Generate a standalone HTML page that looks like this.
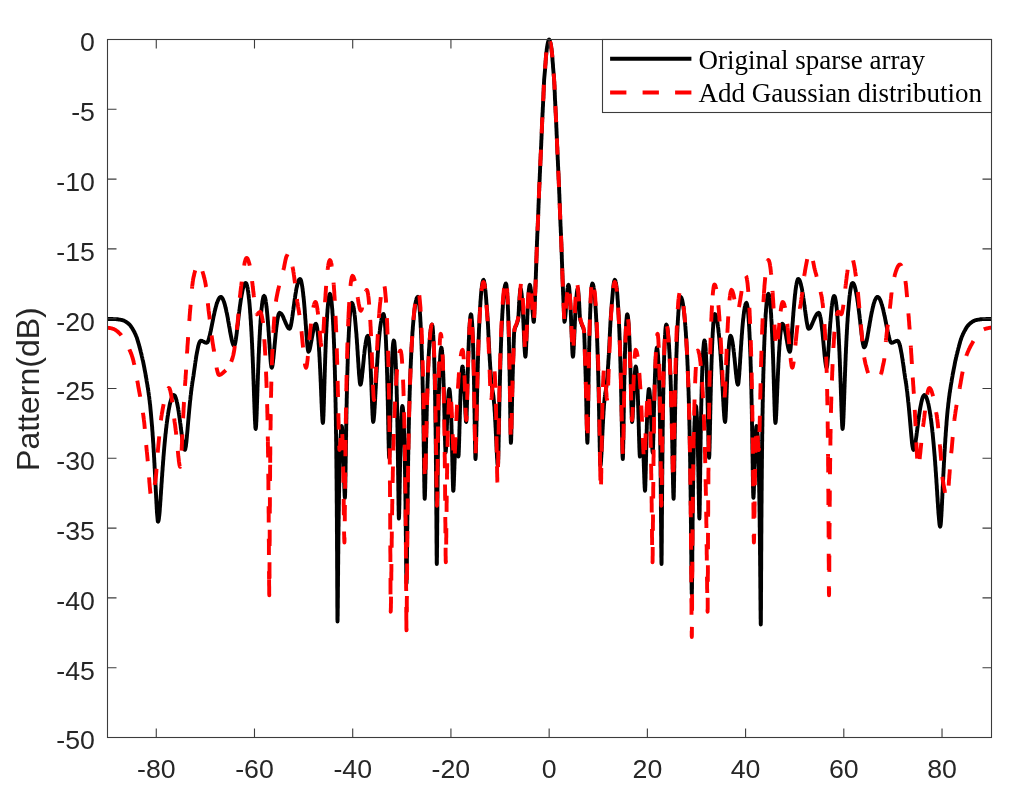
<!DOCTYPE html>
<html lang="en">
<head>
<meta charset="utf-8">
<title>Pattern(dB)</title>
<style>
html,body{margin:0;padding:0;background:#fff;}
body{width:1020px;height:802px;overflow:hidden;}
svg{display:block;}
</style>
</head>
<body>
<svg width="1020" height="802" viewBox="0 0 1020 802">
<rect x="0" y="0" width="1020" height="802" fill="#fff"/>
<defs><clipPath id="c"><rect x="107.0" y="35.5" width="885.0" height="702.0"/></clipPath></defs>
<g clip-path="url(#c)" fill="none" stroke-linejoin="round">
<path d="M107.5,319.0 108.5,319.0 109.5,319.0 110.5,319.0 111.5,319.0 112.5,319.0 113.5,319.1 114.5,319.1 115.0,319.1 115.0,319.1 116.0,319.1 117.0,319.2 118.0,319.3 119.0,319.5 120.0,319.6 121.0,319.8 122.0,320.0 122.0,320.0 123.0,320.3 123.9,320.6 124.8,321.1 125.7,321.6 126.5,322.2 127.4,322.8 128.2,323.4 128.3,323.5 128.3,323.5 129.1,324.2 129.8,324.9 130.4,325.7 131.0,326.5 131.6,327.4 132.2,328.2 132.7,329.1 133.2,330.0 133.7,330.9 134.2,331.8 134.7,332.7 135.1,333.6 135.2,333.8 135.2,333.8 135.6,334.7 136.0,335.7 136.4,336.6 136.8,337.6 137.1,338.6 137.4,339.6 137.7,340.6 138.0,341.6 138.3,342.6 138.6,343.6 138.9,344.6 139.2,345.6 139.4,346.6 139.7,347.6 140.0,348.6 140.2,349.6 140.5,350.6 140.7,351.7 141.0,352.7 141.2,353.6 141.5,354.6 141.7,355.6 141.8,356.0 141.8,356.0 142.0,357.0 142.3,358.0 142.5,359.1 142.7,360.0 143.0,361.0 143.2,362.1 143.4,363.1 143.6,364.2 143.8,365.2 144.0,366.2 144.2,367.2 144.4,368.2 144.6,369.3 144.8,370.4 145.0,371.4 145.2,372.4 145.4,373.4 145.6,374.5 145.7,375.5 145.9,376.5 146.1,377.6 146.3,378.6 146.5,379.7 146.6,380.8 146.8,381.8 147.0,382.9 147.2,384.0 147.4,385.1 147.5,386.2 147.7,387.2 147.9,388.2 148.0,389.2 148.1,389.7 148.1,389.7 148.3,390.7 148.4,391.8 148.6,392.8 148.7,394.0 148.9,395.0 149.0,396.0 149.2,397.1 149.3,398.2 149.4,399.3 149.6,400.4 149.7,401.5 149.8,402.5 149.9,403.6 150.1,404.6 150.2,405.8 150.3,406.9 150.4,408.0 150.5,409.2 150.6,410.2 150.7,411.2 150.8,412.3 150.9,413.3 151.0,414.4 151.1,415.5 151.2,416.6 151.3,417.8 151.4,418.9 151.5,420.1 151.6,421.3 151.7,422.5 151.8,423.7 151.9,424.7 152.0,425.7 152.1,426.7 152.2,427.8 152.2,428.8 152.3,429.9 152.4,431.0 152.5,432.1 152.6,433.2 152.6,434.3 152.7,435.4 152.8,436.6 152.9,437.8 153.0,438.9 153.0,440.1 153.1,441.4 153.2,442.6 153.3,443.8 153.4,445.1 153.4,446.3 153.5,447.6 153.6,448.9 153.7,450.3 153.7,451.3 153.8,452.3 153.9,453.3 153.9,454.3 154.0,455.3 154.0,456.4 154.1,457.4 154.2,458.5 154.2,459.6 154.3,460.6 154.3,461.7 154.4,462.8 154.5,463.9 154.5,465.0 154.6,466.1 154.6,467.3 154.7,468.4 154.8,469.5 154.8,470.7 154.9,471.8 154.9,473.0 155.0,474.2 155.1,475.3 155.1,476.5 155.2,477.7 155.2,478.9 155.3,480.1 155.4,481.3 155.4,482.5 155.5,483.7 155.5,484.9 155.6,486.1 155.7,487.3 155.7,488.5 155.8,489.7 155.8,490.9 155.9,492.1 156.0,493.3 156.0,494.5 156.1,495.7 156.1,496.9 156.2,498.1 156.3,499.3 156.3,500.4 156.4,501.6 156.4,502.7 156.5,503.8 156.6,505.0 156.6,506.0 156.7,507.1 156.7,508.2 156.8,509.2 156.9,510.2 156.9,511.5 157.0,512.7 157.1,513.9 157.2,515.0 157.3,516.0 157.4,517.2 157.5,518.3 157.6,519.4 157.7,520.5 157.9,521.5 158.1,521.7 158.1,521.7 158.5,520.8 158.7,519.8 158.9,518.7 159.0,517.6 159.1,516.6 159.3,515.4 159.4,514.4 159.5,513.3 159.6,512.2 159.7,511.0 159.8,509.7 159.8,508.7 159.9,507.7 160.0,506.6 160.1,505.5 160.2,504.4 160.2,503.3 160.3,502.2 160.4,501.0 160.5,499.9 160.6,498.7 160.6,497.5 160.7,496.3 160.8,495.1 160.9,493.9 161.0,492.7 161.0,491.5 161.1,490.3 161.2,489.1 161.3,487.9 161.4,486.7 161.4,485.5 161.5,484.3 161.6,483.1 161.7,482.0 161.8,480.8 161.8,479.6 161.9,478.4 162.0,477.2 162.1,476.1 162.2,474.9 162.2,473.8 162.3,472.6 162.4,471.5 162.5,470.4 162.6,469.3 162.6,468.2 162.7,467.1 162.8,466.0 162.9,464.9 163.0,463.8 163.0,462.7 163.1,461.7 163.2,460.6 163.3,459.6 163.4,458.6 163.4,457.6 163.5,456.6 163.6,455.6 163.7,454.3 163.8,453.1 163.9,451.9 164.0,450.7 164.1,449.5 164.2,448.4 164.3,447.2 164.4,446.1 164.5,445.0 164.6,443.9 164.7,442.8 164.8,441.7 164.9,440.7 165.0,439.6 165.1,438.6 165.2,437.6 165.3,436.6 165.4,435.4 165.5,434.2 165.7,433.1 165.8,432.0 165.9,430.9 166.0,429.8 166.1,428.7 166.3,427.7 166.4,426.6 166.5,425.6 166.6,424.5 166.8,423.3 166.9,422.2 167.1,421.2 167.2,420.1 167.3,419.1 167.5,418.1 167.6,416.9 167.8,415.8 168.0,414.8 168.1,413.7 168.3,412.7 168.5,411.6 168.6,410.6 168.8,409.6 169.0,408.6 169.2,407.5 169.4,406.5 169.6,405.4 169.8,404.4 170.1,403.4 170.3,402.4 170.6,401.4 170.9,400.4 171.2,399.4 171.5,398.4 171.9,397.4 172.3,396.5 172.9,395.7 173.6,395.0 173.9,395.0 173.9,395.0 174.7,395.6 175.2,396.4 175.6,397.4 175.9,398.4 176.2,399.4 176.5,400.4 176.7,401.4 177.0,402.5 177.2,403.5 177.4,404.5 177.6,405.5 177.8,406.6 178.0,407.6 178.2,408.7 178.3,409.8 178.5,410.7 178.7,411.8 178.8,412.8 179.0,413.9 179.1,415.0 179.3,416.1 179.4,417.1 179.6,418.1 179.7,419.1 179.9,420.1 180.0,421.2 180.1,422.3 180.3,423.3 180.4,424.4 180.6,425.5 180.7,426.6 180.8,427.7 181.0,428.8 181.1,429.9 181.3,431.0 181.4,432.1 181.5,433.2 181.7,434.3 181.8,435.4 182.0,436.5 182.1,437.5 182.2,438.6 182.4,439.6 182.5,440.7 182.7,441.8 182.9,442.8 183.0,443.8 183.2,444.9 183.4,446.0 183.6,447.1 183.9,448.1 184.2,449.0 184.7,449.9 184.8,449.9 184.8,449.9 185.3,449.1 185.5,448.0 185.7,447.0 185.9,446.0 186.0,445.0 186.1,443.9 186.3,442.9 186.4,441.8 186.5,440.7 186.6,439.5 186.7,438.5 186.8,437.5 186.9,436.5 187.0,435.4 187.1,434.3 187.2,433.2 187.3,432.1 187.4,431.0 187.5,429.8 187.6,428.7 187.7,427.5 187.8,426.4 187.9,425.2 188.0,424.1 188.1,422.9 188.2,421.7 188.3,420.6 188.4,419.4 188.5,418.3 188.6,417.2 188.7,416.0 188.8,414.9 188.9,413.8 189.0,412.7 189.1,411.6 189.2,410.5 189.3,409.4 189.4,408.3 189.5,407.3 189.6,406.2 189.7,405.2 189.8,404.2 189.9,403.1 190.0,402.1 190.1,401.0 190.3,399.8 190.4,398.7 190.5,397.5 190.6,396.4 190.7,395.3 190.9,394.3 191.0,393.2 191.1,392.2 191.2,391.2 191.4,390.1 191.5,389.0 191.6,387.9 191.8,386.8 191.9,385.8 192.1,384.8 192.2,383.7 192.4,382.6 192.5,381.6 192.7,380.6 192.8,380.0 192.8,380.0 193.0,378.9 193.1,377.9 193.3,376.9 193.5,375.8 193.6,374.7 193.8,373.6 193.9,372.5 194.1,371.4 194.2,370.4 194.4,369.4 194.5,368.4 194.7,367.4 194.8,366.4 195.0,365.3 195.1,364.1 195.3,363.0 195.4,361.9 195.6,360.8 195.8,359.8 195.9,358.7 196.1,357.7 196.2,356.7 196.4,355.6 196.6,354.5 196.8,353.5 197.0,352.4 197.2,351.4 197.4,350.3 197.6,349.3 197.8,348.3 198.0,347.3 198.2,346.3 198.5,345.3 198.8,344.3 199.1,343.3 199.5,342.4 200.0,341.4 200.7,340.8 200.8,340.8 200.8,340.8 201.8,340.9 202.7,341.3 203.7,341.7 204.6,342.2 205.5,342.6 206.5,342.8 206.8,342.8 206.8,342.8 207.6,342.2 208.0,341.3 208.4,340.4 208.7,339.4 209.0,338.4 209.3,337.4 209.5,336.4 209.8,335.4 210.0,334.3 210.2,333.3 210.4,332.3 210.7,331.2 210.9,330.1 211.1,329.1 211.3,328.1 211.5,327.1 211.7,326.1 211.9,325.1 212.1,324.1 212.3,323.1 212.5,322.1 212.7,321.1 212.9,320.1 213.1,319.1 213.3,318.0 213.5,316.9 213.7,315.9 214.0,314.9 214.2,313.8 214.4,312.9 214.6,311.8 214.9,310.8 215.1,309.8 215.4,308.8 215.6,307.8 215.9,306.8 216.2,305.8 216.4,304.8 216.7,303.8 217.1,302.8 217.4,301.9 217.8,300.9 218.2,300.0 218.6,299.1 219.1,298.2 219.8,297.4 220.6,296.9 220.8,296.9 220.8,296.9 221.7,297.3 222.3,298.1 222.8,299.0 223.2,299.9 223.6,300.9 224.0,301.9 224.3,302.9 224.6,303.9 224.9,304.9 225.1,305.9 225.4,306.9 225.6,307.9 225.9,308.9 226.1,310.0 226.3,311.0 226.5,312.0 226.8,313.1 227.0,314.0 227.2,315.0 227.4,316.1 227.6,317.1 227.8,318.2 228.0,319.3 228.1,320.3 228.3,321.3 228.5,322.3 228.7,323.3 228.9,324.3 229.0,325.3 229.2,326.3 229.4,327.4 229.6,328.4 229.8,329.4 229.9,330.5 230.1,331.5 230.3,332.5 230.5,333.5 230.7,334.6 230.9,335.6 231.1,336.7 231.3,337.7 231.5,338.7 231.7,339.8 232.0,340.8 232.2,341.8 232.5,342.8 232.8,343.8 233.2,344.7 233.7,345.6 234.1,345.8 234.1,345.8 234.7,345.0 235.0,344.0 235.2,343.0 235.4,342.0 235.6,340.9 235.8,339.8 235.9,338.8 236.1,337.7 236.2,336.6 236.4,335.6 236.5,334.5 236.7,333.4 236.8,332.3 236.9,331.1 237.1,330.1 237.2,329.1 237.3,328.1 237.4,327.1 237.5,326.0 237.7,325.0 237.8,324.0 237.9,322.9 238.0,321.9 238.1,320.9 238.3,319.8 238.4,318.8 238.5,317.8 238.6,316.8 238.7,315.8 238.9,314.8 239.0,313.6 239.1,312.5 239.3,311.3 239.4,310.2 239.6,309.1 239.7,308.0 239.8,307.0 240.0,305.9 240.1,304.9 240.3,303.9 240.4,302.8 240.6,301.7 240.7,300.6 240.9,299.6 241.1,298.5 241.2,297.5 241.4,296.5 241.6,295.4 241.8,294.4 242.0,293.3 242.2,292.3 242.4,291.2 242.6,290.2 242.8,289.2 243.1,288.1 243.4,287.1 243.7,286.1 244.0,285.2 244.4,284.2 244.9,283.4 245.7,282.9 245.7,282.9 246.4,283.6 246.7,284.5 247.0,285.5 247.2,286.5 247.5,287.6 247.7,288.7 247.8,289.8 248.0,290.8 248.2,291.9 248.3,292.9 248.4,294.0 248.6,295.2 248.7,296.2 248.8,297.2 248.9,298.3 249.1,299.5 249.2,300.7 249.3,301.7 249.4,302.7 249.5,303.8 249.6,304.9 249.7,306.1 249.8,307.3 249.9,308.5 250.0,309.7 250.1,310.7 250.1,311.8 250.2,312.8 250.3,313.9 250.4,315.0 250.5,316.2 250.5,317.3 250.6,318.5 250.7,319.7 250.8,320.9 250.9,322.2 250.9,323.5 251.0,324.8 251.1,326.1 251.2,327.1 251.2,328.1 251.3,329.2 251.3,330.2 251.4,331.3 251.5,332.4 251.5,333.5 251.6,334.6 251.6,335.8 251.7,336.9 251.8,338.1 251.8,339.3 251.9,340.5 251.9,341.7 252.0,342.9 252.1,344.2 252.1,345.5 252.2,346.7 252.2,348.1 252.3,349.4 252.4,350.7 252.4,352.1 252.5,353.5 252.5,354.9 252.6,356.3 252.7,357.7 252.7,359.2 252.8,360.6 252.8,362.1 252.9,363.1 252.9,364.1 253.0,365.2 253.0,366.2 253.0,367.2 253.1,368.3 253.1,369.3 253.2,370.4 253.2,371.4 253.2,372.5 253.3,373.6 253.3,374.7 253.4,375.8 253.4,376.9 253.4,378.0 253.5,379.1 253.5,380.2 253.6,381.3 253.6,382.5 253.6,383.6 253.7,384.8 253.7,385.9 253.8,387.1 253.8,388.2 253.8,389.4 253.9,390.5 253.9,391.7 254.0,392.9 254.0,394.0 254.0,395.2 254.1,396.4 254.1,397.5 254.2,398.7 254.2,399.9 254.2,401.0 254.3,402.2 254.3,403.3 254.4,404.5 254.4,405.6 254.4,406.7 254.5,407.9 254.5,409.0 254.6,410.1 254.6,411.1 254.6,412.2 254.7,413.3 254.7,414.3 254.8,415.3 254.8,416.8 254.9,418.2 254.9,419.6 255.0,420.9 255.1,422.1 255.1,423.2 255.2,424.3 255.3,425.5 255.3,426.6 255.4,427.7 255.6,428.7 255.7,428.9 255.7,428.9 255.9,427.9 256.0,426.9 256.1,425.8 256.2,424.5 256.2,423.4 256.3,422.2 256.4,421.0 256.4,419.6 256.5,418.2 256.5,416.7 256.6,415.7 256.6,414.6 256.7,413.5 256.7,412.4 256.7,411.3 256.8,410.2 256.8,409.1 256.9,407.9 256.9,406.7 256.9,405.6 257.0,404.4 257.0,403.2 257.1,402.0 257.1,400.8 257.1,399.6 257.2,398.4 257.2,397.1 257.3,395.9 257.3,394.7 257.3,393.5 257.4,392.3 257.4,391.1 257.5,389.9 257.5,388.7 257.5,387.5 257.6,386.3 257.6,385.1 257.7,383.9 257.7,382.8 257.7,381.6 257.8,380.4 257.8,379.3 257.9,378.1 257.9,377.0 257.9,375.9 258.0,374.8 258.0,373.6 258.1,372.5 258.1,371.4 258.1,370.4 258.2,369.3 258.2,368.2 258.3,367.1 258.3,366.1 258.3,365.1 258.4,364.0 258.4,363.0 258.5,362.0 258.5,361.0 258.6,359.5 258.6,358.0 258.7,356.6 258.7,355.1 258.8,353.7 258.9,352.4 258.9,351.0 259.0,349.6 259.0,348.3 259.1,347.0 259.2,345.7 259.2,344.5 259.3,343.2 259.3,342.0 259.4,340.8 259.5,339.6 259.5,338.5 259.6,337.3 259.6,336.2 259.7,335.1 259.8,334.0 259.8,332.9 259.9,331.9 259.9,330.8 260.0,329.8 260.1,328.8 260.1,327.5 260.2,326.2 260.3,325.0 260.4,323.8 260.5,322.6 260.5,321.4 260.6,320.3 260.7,319.2 260.8,318.1 260.9,317.1 260.9,316.0 261.0,314.8 261.1,313.6 261.2,312.4 261.3,311.3 261.4,310.3 261.5,309.2 261.6,308.2 261.8,307.1 261.9,306.0 262.0,305.0 262.1,303.8 262.3,302.8 262.4,301.6 262.6,300.6 262.8,299.6 263.0,298.6 263.2,297.6 263.5,296.6 264.1,295.9 264.1,295.9 264.7,296.6 265.0,297.6 265.3,298.6 265.5,299.7 265.7,300.7 265.8,301.8 266.0,302.9 266.1,303.9 266.3,304.9 266.4,306.1 266.5,307.1 266.7,308.2 266.8,309.3 266.9,310.4 267.0,311.4 267.1,312.5 267.2,313.5 267.3,314.6 267.4,315.7 267.5,316.9 267.6,318.0 267.7,319.3 267.8,320.5 267.9,321.5 268.0,322.5 268.0,323.5 268.1,324.6 268.2,325.7 268.3,326.8 268.4,327.9 268.4,329.0 268.5,330.1 268.6,331.3 268.7,332.4 268.8,333.6 268.8,334.8 268.9,335.9 269.0,337.1 269.1,338.3 269.2,339.6 269.2,340.8 269.3,342.0 269.4,343.2 269.5,344.4 269.6,345.7 269.6,346.9 269.7,348.1 269.8,349.3 269.9,350.5 270.0,351.7 270.0,352.9 270.1,354.0 270.2,355.1 270.3,356.2 270.4,357.3 270.4,358.4 270.5,359.4 270.6,360.6 270.7,361.7 270.8,362.8 270.9,364.0 271.1,365.0 271.2,366.0 271.4,367.1 271.7,367.7 271.7,367.7 272.2,366.8 272.4,365.9 272.6,364.8 272.7,363.7 272.9,362.7 273.0,361.6 273.1,360.5 273.2,359.4 273.4,358.3 273.5,357.1 273.6,356.1 273.7,355.1 273.8,354.0 273.9,353.0 274.0,351.9 274.1,350.8 274.2,349.8 274.3,348.7 274.4,347.6 274.5,346.5 274.6,345.4 274.7,344.3 274.8,343.2 274.9,342.2 275.0,341.1 275.1,340.0 275.2,339.0 275.3,338.0 275.4,336.9 275.5,335.9 275.6,334.7 275.7,333.6 275.8,332.4 276.0,331.3 276.1,330.2 276.2,329.1 276.3,328.1 276.4,327.1 276.6,325.9 276.7,324.8 276.9,323.8 277.0,322.7 277.2,321.6 277.3,320.6 277.5,319.6 277.7,318.5 277.9,317.5 278.1,316.4 278.3,315.4 278.6,314.4 279.0,313.5 279.6,312.8 279.6,312.8 280.5,313.2 281.3,313.8 281.9,314.7 282.4,315.5 282.9,316.4 283.3,317.3 283.7,318.2 284.1,319.2 284.5,320.1 284.9,321.1 285.3,322.1 285.7,323.0 286.1,323.9 286.6,324.9 287.0,325.8 287.5,326.7 288.0,327.6 288.7,328.4 289.6,328.8 289.6,328.8 289.6,328.8 290.2,328.0 290.5,327.0 290.8,326.0 291.0,325.0 291.2,323.9 291.4,322.9 291.6,321.9 291.7,320.9 291.9,319.8 292.1,318.7 292.2,317.6 292.4,316.5 292.5,315.5 292.7,314.5 292.8,313.4 292.9,312.4 293.1,311.4 293.2,310.3 293.4,309.3 293.5,308.2 293.6,307.2 293.8,306.1 293.9,305.1 294.1,304.1 294.2,303.1 294.3,302.1 294.5,301.1 294.6,300.0 294.8,298.9 295.0,297.8 295.1,296.7 295.3,295.7 295.4,294.7 295.6,293.7 295.8,292.6 296.0,291.5 296.1,290.5 296.3,289.4 296.5,288.4 296.7,287.4 297.0,286.4 297.2,285.4 297.4,284.4 297.7,283.4 298.0,282.4 298.3,281.4 298.7,280.5 299.1,279.6 299.9,278.9 300.0,278.9 300.0,278.9 300.7,279.6 301.0,280.6 301.3,281.6 301.5,282.7 301.7,283.7 301.9,284.7 302.1,285.8 302.3,286.8 302.4,287.9 302.6,288.9 302.7,290.0 302.8,291.1 303.0,292.1 303.1,293.1 303.2,294.2 303.3,295.3 303.4,296.4 303.6,297.6 303.7,298.6 303.8,299.6 303.9,300.7 304.0,301.8 304.1,302.8 304.2,304.0 304.3,305.1 304.4,306.3 304.5,307.5 304.6,308.7 304.7,309.9 304.8,311.1 304.8,312.1 304.9,313.2 305.0,314.2 305.1,315.2 305.2,316.3 305.2,317.4 305.3,318.4 305.4,319.5 305.5,320.6 305.6,321.7 305.6,322.8 305.7,323.9 305.8,325.0 305.9,326.1 306.0,327.2 306.0,328.4 306.1,329.5 306.2,330.6 306.3,331.7 306.4,332.8 306.4,333.9 306.5,335.0 306.6,336.0 306.7,337.1 306.8,338.1 306.8,339.2 306.9,340.2 307.0,341.4 307.1,342.6 307.2,343.7 307.3,344.8 307.4,345.8 307.5,347.0 307.7,348.1 307.8,349.1 308.0,350.2 308.2,351.2 308.5,351.8 308.5,351.8 309.1,351.1 309.5,350.1 309.8,349.0 310.0,348.0 310.2,347.0 310.4,346.0 310.6,345.0 310.8,343.9 311.0,342.9 311.2,341.9 311.4,340.9 311.6,339.8 311.7,338.8 311.9,337.8 312.1,336.8 312.3,335.8 312.5,334.8 312.7,333.7 312.9,332.7 313.1,331.7 313.3,330.6 313.5,329.6 313.7,328.6 314.0,327.6 314.3,326.6 314.6,325.7 315.0,324.7 315.6,323.9 315.9,323.8 315.9,323.8 316.4,324.6 316.7,325.7 316.9,326.7 317.1,327.7 317.3,328.8 317.4,329.9 317.5,331.0 317.7,332.0 317.8,333.2 317.9,334.3 318.0,335.4 318.1,336.5 318.2,337.6 318.3,338.8 318.4,340.0 318.5,341.0 318.6,342.1 318.6,343.2 318.7,344.3 318.8,345.4 318.9,346.6 319.0,347.8 319.0,349.0 319.1,350.3 319.2,351.6 319.3,352.6 319.3,353.6 319.4,354.7 319.4,355.7 319.5,356.8 319.6,357.9 319.6,359.0 319.7,360.1 319.7,361.3 319.8,362.4 319.9,363.6 319.9,364.8 320.0,366.0 320.0,367.3 320.1,368.5 320.2,369.8 320.2,371.1 320.3,372.4 320.3,373.7 320.4,375.0 320.5,376.4 320.5,377.7 320.6,379.1 320.6,380.5 320.7,381.9 320.8,383.3 320.8,384.7 320.9,386.2 320.9,387.6 321.0,389.1 321.1,390.5 321.1,392.0 321.2,393.5 321.2,394.9 321.3,396.4 321.4,397.9 321.4,399.3 321.5,400.8 321.5,402.2 321.6,403.6 321.7,405.0 321.7,406.4 321.8,407.8 321.8,409.1 321.9,410.4 322.0,411.7 322.0,412.9 322.1,414.1 322.1,415.2 322.2,416.3 322.3,417.3 322.3,418.5 322.4,419.6 322.5,420.8 322.6,421.9 322.9,422.9 322.9,422.9 322.9,422.9 323.1,421.8 323.2,420.5 323.3,419.2 323.3,418.0 323.4,416.7 323.5,415.3 323.5,414.2 323.5,413.2 323.6,412.1 323.6,410.9 323.7,409.7 323.7,408.5 323.7,407.3 323.8,406.0 323.8,404.7 323.9,403.4 323.9,402.1 323.9,400.7 324.0,399.4 324.0,398.0 324.1,396.6 324.1,395.3 324.1,393.9 324.2,392.5 324.2,391.1 324.3,389.7 324.3,388.3 324.3,386.9 324.4,385.5 324.4,384.2 324.5,382.8 324.5,381.4 324.5,380.0 324.6,378.7 324.6,377.3 324.7,376.0 324.7,374.7 324.7,373.3 324.8,372.0 324.8,370.7 324.9,369.4 324.9,368.2 324.9,366.9 325.0,365.7 325.0,364.4 325.1,363.2 325.1,362.0 325.1,360.8 325.2,359.6 325.2,358.4 325.3,357.2 325.3,356.1 325.3,354.9 325.4,353.8 325.4,352.7 325.5,351.6 325.5,350.5 325.5,349.4 325.6,348.3 325.6,347.3 325.7,346.2 325.7,345.2 325.7,344.2 325.8,343.2 325.8,341.7 325.9,340.2 326.0,338.8 326.0,337.4 326.1,336.0 326.1,334.7 326.2,333.3 326.3,332.0 326.3,330.8 326.4,329.5 326.4,328.3 326.5,327.1 326.6,325.9 326.6,324.8 326.7,323.6 326.7,322.5 326.8,321.5 326.9,320.4 326.9,319.4 327.0,318.4 327.1,317.0 327.1,315.8 327.2,314.5 327.3,313.3 327.4,312.2 327.5,311.1 327.5,310.0 327.6,308.9 327.7,307.9 327.8,306.7 327.9,305.5 328.0,304.4 328.1,303.4 328.2,302.4 328.3,301.3 328.4,300.2 328.6,299.1 328.7,298.1 328.9,297.1 329.1,296.1 329.3,295.0 329.7,294.1 329.9,293.9 329.9,293.9 330.4,294.7 330.7,295.7 330.9,296.7 331.1,297.8 331.2,298.9 331.4,300.0 331.5,301.0 331.6,302.1 331.7,303.3 331.8,304.4 331.9,305.5 332.0,306.6 332.1,307.8 332.2,308.8 332.3,309.9 332.4,311.0 332.4,312.1 332.5,313.3 332.6,314.5 332.7,315.7 332.8,317.0 332.8,318.3 332.9,319.4 333.0,320.4 333.0,321.5 333.1,322.6 333.1,323.7 333.2,324.9 333.3,326.1 333.3,327.3 333.4,328.5 333.4,329.8 333.5,331.1 333.6,332.4 333.6,333.8 333.7,335.2 333.7,336.6 333.8,338.1 333.9,339.6 333.9,340.6 333.9,341.6 334.0,342.7 334.0,343.7 334.1,344.8 334.1,345.9 334.1,347.0 334.2,348.2 334.2,349.3 334.3,350.5 334.3,351.7 334.3,352.9 334.4,354.2 334.4,355.4 334.5,356.7 334.5,358.0 334.5,359.3 334.6,360.7 334.6,362.0 334.7,363.4 334.7,364.8 334.7,366.3 334.8,367.8 334.8,369.3 334.9,370.8 334.9,372.3 334.9,373.9 335.0,375.5 335.0,377.1 335.1,378.8 335.1,380.5 335.1,382.3 335.2,384.0 335.2,385.8 335.3,387.7 335.3,389.6 335.3,391.5 335.4,393.4 335.4,395.4 335.4,396.4 335.5,397.5 335.5,398.5 335.5,399.6 335.5,400.6 335.5,401.7 335.6,402.8 335.6,403.9 335.6,405.0 335.6,406.1 335.6,407.2 335.7,408.4 335.7,409.6 335.7,410.7 335.7,411.9 335.7,413.1 335.8,414.4 335.8,415.6 335.8,416.8 335.8,418.1 335.8,419.4 335.9,420.7 335.9,422.0 335.9,423.3 335.9,424.7 335.9,426.0 336.0,427.4 336.0,428.8 336.0,430.2 336.0,431.7 336.0,433.1 336.1,434.6 336.1,436.1 336.1,437.6 336.1,439.2 336.1,440.8 336.2,442.3 336.2,444.0 336.2,445.6 336.2,447.3 336.2,448.9 336.3,450.7 336.3,452.4 336.3,454.2 336.3,456.0 336.3,457.8 336.4,459.6 336.4,461.5 336.4,463.4 336.4,465.4 336.4,467.4 336.5,469.4 336.5,471.5 336.5,473.5 336.5,475.7 336.5,477.8 336.6,480.0 336.6,482.3 336.6,484.6 336.6,486.9 336.6,489.3 336.7,491.7 336.7,494.2 336.7,496.7 336.7,499.3 336.7,501.9 336.8,504.6 336.8,507.3 336.8,510.1 336.8,512.9 336.8,515.8 336.9,518.8 336.9,521.8 336.9,524.9 336.9,528.1 336.9,531.3 337.0,534.6 337.0,538.0 337.0,541.5 337.0,545.0 337.0,548.5 337.1,552.2 337.1,555.9 337.1,559.7 337.1,563.5 337.1,567.4 337.2,571.4 337.2,575.3 337.2,579.3 337.2,583.3 337.2,587.3 337.3,591.3 337.3,595.2 337.3,599.0 337.3,602.6 337.3,606.1 337.4,609.4 337.4,612.4 337.4,615.1 337.4,617.3 337.4,619.2 337.5,620.5 337.5,621.6 337.5,621.6 337.6,620.0 337.6,618.2 337.6,617.0 337.7,615.7 337.7,614.2 337.7,612.6 337.7,610.9 337.7,609.2 337.8,607.3 337.8,605.3 337.8,603.3 337.8,601.2 337.8,599.1 337.9,596.9 337.9,594.7 337.9,592.5 337.9,590.2 337.9,588.0 338.0,585.7 338.0,583.5 338.0,581.2 338.0,579.0 338.0,576.7 338.1,574.5 338.1,572.3 338.1,570.1 338.1,567.9 338.1,565.7 338.2,563.6 338.2,561.5 338.2,559.4 338.2,557.3 338.2,555.2 338.3,553.2 338.3,551.2 338.3,549.2 338.3,547.3 338.3,545.4 338.4,543.5 338.4,541.6 338.4,539.8 338.4,538.0 338.4,536.2 338.5,534.4 338.5,532.7 338.5,530.9 338.5,529.3 338.5,527.6 338.6,525.9 338.6,524.3 338.6,522.7 338.6,521.2 338.6,519.6 338.7,518.1 338.7,516.6 338.7,515.1 338.7,513.6 338.7,512.2 338.8,510.7 338.8,509.3 338.8,508.0 338.8,506.6 338.8,505.3 338.9,503.9 338.9,502.6 338.9,501.3 338.9,500.1 338.9,498.8 339.0,497.6 339.0,496.3 339.0,495.1 339.0,494.0 339.0,492.8 339.1,491.6 339.1,490.5 339.1,489.4 339.1,488.3 339.1,487.2 339.2,486.1 339.2,485.0 339.2,484.0 339.2,482.9 339.2,481.9 339.3,480.9 339.3,478.9 339.3,477.0 339.4,475.1 339.4,473.3 339.5,471.5 339.5,469.8 339.5,468.1 339.6,466.5 339.6,464.9 339.7,463.3 339.7,461.8 339.7,460.3 339.8,458.9 339.8,457.5 339.9,456.1 339.9,454.8 339.9,453.5 340.0,452.2 340.0,451.0 340.1,449.8 340.1,448.7 340.1,447.5 340.2,446.4 340.2,445.4 340.3,444.4 340.3,443.4 340.4,441.9 340.4,440.5 340.5,439.2 340.5,438.0 340.6,436.8 340.7,435.7 340.7,434.6 340.8,433.6 340.9,432.4 340.9,431.3 341.0,430.2 341.1,429.1 341.2,428.0 341.4,427.0 341.7,426.0 341.7,426.0 341.7,426.0 342.0,427.0 342.1,428.2 342.2,429.3 342.3,430.5 342.4,431.7 342.5,433.0 342.6,434.0 342.6,435.1 342.7,436.2 342.7,437.5 342.8,438.7 342.9,440.1 342.9,441.5 343.0,443.0 343.0,444.0 343.1,445.0 343.1,446.1 343.1,447.2 343.2,448.3 343.2,449.5 343.3,450.6 343.3,451.8 343.3,453.1 343.4,454.3 343.4,455.6 343.5,456.9 343.5,458.2 343.5,459.5 343.6,460.8 343.6,462.2 343.7,463.6 343.7,465.0 343.7,466.4 343.8,467.8 343.8,469.3 343.9,470.7 343.9,472.2 343.9,473.6 344.0,475.1 344.0,476.5 344.1,478.0 344.1,479.4 344.1,480.8 344.2,482.2 344.2,483.6 344.3,485.0 344.3,486.3 344.3,487.6 344.4,488.8 344.4,490.0 344.5,491.1 344.5,492.2 344.6,493.6 344.6,494.9 344.7,496.0 344.8,497.0 344.9,497.8 344.9,497.8 345.0,496.6 345.1,495.0 345.1,493.7 345.2,492.2 345.2,490.5 345.2,488.6 345.3,487.6 345.3,486.6 345.3,485.5 345.3,484.4 345.3,483.2 345.4,482.1 345.4,480.9 345.4,479.7 345.4,478.4 345.4,477.2 345.5,475.9 345.5,474.7 345.5,473.4 345.5,472.0 345.5,470.7 345.6,469.4 345.6,468.1 345.6,466.7 345.6,465.4 345.6,464.1 345.7,462.7 345.7,461.4 345.7,460.0 345.7,458.7 345.7,457.3 345.8,456.0 345.8,454.6 345.8,453.3 345.8,452.0 345.8,450.6 345.9,449.3 345.9,448.0 345.9,446.7 345.9,445.4 345.9,444.1 346.0,442.8 346.0,441.5 346.0,440.2 346.0,439.0 346.0,437.7 346.1,436.4 346.1,435.2 346.1,434.0 346.1,432.7 346.1,431.5 346.2,430.3 346.2,429.1 346.2,427.9 346.2,426.7 346.2,425.6 346.3,424.4 346.3,423.2 346.3,422.1 346.3,421.0 346.3,419.8 346.4,418.7 346.4,417.6 346.4,416.5 346.4,415.4 346.4,414.3 346.5,413.3 346.5,412.2 346.5,411.2 346.5,410.1 346.5,409.1 346.6,408.1 346.6,407.0 346.6,406.0 346.6,405.0 346.7,403.1 346.7,401.1 346.7,399.2 346.8,397.3 346.8,395.5 346.9,393.7 346.9,391.9 346.9,390.1 347.0,388.4 347.0,386.7 347.1,385.1 347.1,383.4 347.1,381.8 347.2,380.2 347.2,378.7 347.3,377.1 347.3,375.6 347.3,374.2 347.4,372.7 347.4,371.3 347.5,369.9 347.5,368.5 347.5,367.1 347.6,365.8 347.6,364.5 347.7,363.2 347.7,361.9 347.7,360.6 347.8,359.4 347.8,358.2 347.9,357.0 347.9,355.8 347.9,354.6 348.0,353.5 348.0,352.4 348.1,351.3 348.1,350.2 348.1,349.1 348.2,348.0 348.2,347.0 348.3,346.0 348.3,345.0 348.4,343.5 348.4,342.1 348.5,340.6 348.5,339.3 348.6,337.9 348.7,336.6 348.7,335.3 348.8,334.1 348.8,332.9 348.9,331.7 349.0,330.5 349.0,329.4 349.1,328.3 349.1,327.2 349.2,326.1 349.3,325.1 349.3,324.1 349.4,322.8 349.5,321.6 349.6,320.3 349.6,319.2 349.7,318.1 349.8,317.0 349.9,315.9 350.0,314.7 350.1,313.5 350.2,312.4 350.3,311.4 350.4,310.2 350.5,309.1 350.6,308.1 350.8,307.0 350.9,306.0 351.1,304.9 351.4,303.9 351.8,303.0 351.9,302.9 351.9,302.9 352.5,303.6 352.9,304.6 353.1,305.5 353.4,306.5 353.6,307.5 353.7,308.6 353.9,309.7 354.1,310.7 354.2,311.7 354.4,312.8 354.5,313.9 354.6,315.0 354.8,316.1 354.9,317.1 355.0,318.2 355.1,319.4 355.2,320.6 355.3,321.6 355.4,322.7 355.5,323.8 355.6,324.9 355.7,326.0 355.8,327.2 355.9,328.4 356.0,329.6 356.1,330.8 356.2,331.8 356.3,332.9 356.4,333.9 356.5,335.0 356.5,336.0 356.6,337.1 356.7,338.2 356.8,339.4 356.9,340.5 356.9,341.7 357.0,342.8 357.1,344.0 357.2,345.2 357.3,346.4 357.3,347.6 357.4,348.8 357.5,350.1 357.6,351.3 357.7,352.6 357.7,353.8 357.8,355.1 357.9,356.4 358.0,357.6 358.1,358.9 358.1,360.2 358.2,361.5 358.3,362.7 358.4,364.0 358.5,365.3 358.5,366.5 358.6,367.7 358.7,368.9 358.8,370.1 358.9,371.3 358.9,372.5 359.0,373.6 359.1,374.7 359.2,375.7 359.3,376.7 359.4,378.0 359.5,379.1 359.6,380.1 359.7,381.3 359.8,382.3 360.0,383.4 360.2,384.4 360.4,384.7 360.4,384.7 360.9,383.8 361.1,382.7 361.3,381.7 361.5,380.7 361.6,379.6 361.7,378.5 361.9,377.5 362.0,376.5 362.1,375.4 362.2,374.2 362.3,373.1 362.5,371.9 362.6,370.9 362.7,369.9 362.8,368.9 362.9,367.9 363.0,366.8 363.1,365.8 363.2,364.8 363.3,363.8 363.4,362.7 363.5,361.7 363.6,360.7 363.7,359.7 363.8,358.5 363.9,357.4 364.0,356.2 364.1,355.1 364.3,354.0 364.4,352.9 364.5,351.8 364.6,350.8 364.7,349.8 364.9,348.6 365.0,347.5 365.2,346.5 365.3,345.4 365.5,344.3 365.6,343.3 365.8,342.3 366.0,341.2 366.2,340.2 366.4,339.1 366.6,338.1 366.9,337.1 367.3,336.2 367.8,335.8 367.8,335.8 368.2,336.7 368.5,337.7 368.6,338.7 368.8,339.8 368.9,340.8 369.0,341.9 369.1,342.9 369.2,344.0 369.3,345.2 369.4,346.4 369.5,347.4 369.6,348.5 369.6,349.6 369.7,350.8 369.8,352.0 369.9,353.3 370.0,354.6 370.0,355.6 370.1,356.7 370.1,357.8 370.2,358.8 370.3,360.0 370.3,361.1 370.4,362.3 370.4,363.5 370.5,364.7 370.6,365.9 370.6,367.2 370.7,368.5 370.7,369.8 370.8,371.2 370.9,372.5 370.9,373.9 371.0,375.4 371.0,376.8 371.1,378.2 371.2,379.7 371.2,381.2 371.3,382.2 371.3,383.2 371.3,384.3 371.4,385.3 371.4,386.3 371.5,387.4 371.5,388.4 371.5,389.5 371.6,390.5 371.6,391.6 371.7,392.7 371.7,393.7 371.7,394.8 371.8,395.8 371.8,396.9 371.9,398.0 371.9,399.0 371.9,400.1 372.0,401.2 372.0,402.2 372.1,403.2 372.1,404.3 372.1,405.3 372.2,406.3 372.2,407.8 372.3,409.2 372.4,410.6 372.4,412.0 372.5,413.3 372.5,414.5 372.6,415.7 372.7,416.8 372.7,417.8 372.8,419.0 372.9,420.0 373.0,421.1 373.2,421.9 373.2,421.9 373.5,421.0 373.7,419.9 373.8,418.9 373.9,417.9 374.0,416.7 374.1,415.5 374.2,414.5 374.3,413.4 374.4,412.2 374.4,411.0 374.5,409.7 374.6,408.4 374.7,407.1 374.7,406.1 374.8,405.1 374.9,404.0 374.9,403.0 375.0,401.9 375.0,400.8 375.1,399.7 375.2,398.6 375.2,397.5 375.3,396.4 375.3,395.3 375.4,394.2 375.5,393.1 375.5,392.0 375.6,390.9 375.6,389.8 375.7,388.7 375.8,387.6 375.8,386.5 375.9,385.4 375.9,384.3 376.0,383.2 376.1,382.1 376.1,381.0 376.2,379.9 376.2,378.8 376.3,377.8 376.4,376.7 376.4,375.7 376.5,374.6 376.5,373.6 376.6,372.6 376.7,371.5 376.7,370.5 376.8,369.5 376.9,368.2 376.9,366.9 377.0,365.6 377.1,364.3 377.2,363.1 377.3,361.8 377.3,360.6 377.4,359.4 377.5,358.2 377.6,357.0 377.7,355.9 377.7,354.7 377.8,353.6 377.9,352.5 378.0,351.4 378.1,350.3 378.1,349.3 378.2,348.2 378.3,347.2 378.4,346.2 378.5,345.0 378.6,343.8 378.7,342.6 378.8,341.4 378.9,340.3 379.0,339.2 379.1,338.1 379.2,337.0 379.3,336.0 379.4,335.0 379.5,333.8 379.6,332.7 379.7,331.6 379.9,330.5 380.0,329.4 380.1,328.4 380.2,327.3 380.4,326.2 380.5,325.2 380.7,324.2 380.8,323.1 381.0,322.1 381.2,321.0 381.3,320.0 381.5,319.0 381.8,318.0 382.0,317.0 382.3,316.0 382.6,315.0 383.2,314.1 383.5,314.0 383.5,314.0 383.9,314.9 384.1,316.0 384.3,317.0 384.4,318.1 384.6,319.2 384.7,320.2 384.8,321.3 384.9,322.5 385.0,323.7 385.0,324.8 385.1,325.9 385.2,327.1 385.3,328.3 385.4,329.6 385.4,330.6 385.5,331.6 385.5,332.7 385.6,333.8 385.7,334.9 385.7,336.1 385.8,337.3 385.8,338.5 385.9,339.8 386.0,341.1 386.0,342.5 386.1,343.9 386.1,345.3 386.2,346.8 386.2,347.8 386.3,348.8 386.3,349.8 386.4,350.9 386.4,352.0 386.4,353.0 386.5,354.2 386.5,355.3 386.6,356.4 386.6,357.6 386.6,358.8 386.7,360.0 386.7,361.2 386.8,362.5 386.8,363.8 386.8,365.0 386.9,366.4 386.9,367.7 387.0,369.1 387.0,370.4 387.0,371.8 387.1,373.3 387.1,374.7 387.2,376.2 387.2,377.7 387.2,379.2 387.3,380.7 387.3,382.3 387.4,383.9 387.4,385.5 387.4,387.1 387.5,388.8 387.5,390.5 387.6,392.2 387.6,393.9 387.6,395.7 387.7,397.5 387.7,399.3 387.8,401.1 387.8,403.0 387.8,404.8 387.9,406.7 387.9,408.6 388.0,410.6 388.0,412.5 388.0,414.5 388.1,416.4 388.1,418.4 388.2,420.4 388.2,422.4 388.2,423.4 388.2,424.4 388.3,425.4 388.3,426.4 388.3,427.4 388.3,429.4 388.4,431.4 388.4,433.4 388.5,435.3 388.5,437.2 388.5,439.1 388.6,441.0 388.6,442.8 388.7,444.5 388.7,446.2 388.7,447.8 388.8,449.3 388.8,450.7 388.9,452.0 388.9,453.3 388.9,454.3 389.0,455.7 389.1,456.8 389.2,457.8 389.2,457.8 389.2,457.8 389.4,456.5 389.4,455.5 389.5,454.1 389.5,453.0 389.6,451.8 389.6,450.6 389.6,449.2 389.7,447.8 389.7,446.2 389.8,444.7 389.8,443.0 389.8,441.3 389.9,439.6 389.9,437.8 390.0,436.0 390.0,434.2 390.0,432.4 390.1,430.6 390.1,428.7 390.2,426.8 390.2,425.0 390.2,423.1 390.3,421.3 390.3,419.5 390.4,417.6 390.4,415.8 390.4,414.0 390.5,412.2 390.5,410.5 390.6,408.7 390.6,407.0 390.6,405.3 390.7,403.6 390.7,401.9 390.8,400.3 390.8,398.7 390.8,397.1 390.9,395.5 390.9,394.0 391.0,392.5 391.0,391.0 391.0,389.5 391.1,388.1 391.1,386.6 391.2,385.2 391.2,383.9 391.2,382.5 391.3,381.2 391.3,379.9 391.4,378.6 391.4,377.4 391.4,376.1 391.5,374.9 391.5,373.8 391.6,372.6 391.6,371.5 391.6,370.3 391.7,369.3 391.7,368.2 391.8,367.1 391.8,366.1 391.8,365.1 391.9,363.6 392.0,362.2 392.0,360.9 392.1,359.5 392.1,358.3 392.2,357.0 392.3,355.8 392.3,354.7 392.4,353.6 392.4,352.5 392.5,351.5 392.6,350.3 392.7,349.1 392.7,347.9 392.8,346.9 392.9,345.7 393.0,344.6 393.1,343.5 393.3,342.4 393.5,341.3 393.8,340.5 393.8,340.5 394.2,341.4 394.4,342.5 394.5,343.5 394.6,344.6 394.7,345.6 394.8,346.8 394.9,348.0 395.0,349.1 395.1,350.3 395.2,351.5 395.2,352.8 395.3,353.8 395.4,354.9 395.4,356.0 395.5,357.2 395.5,358.4 395.6,359.6 395.7,360.9 395.7,362.3 395.8,363.6 395.8,365.1 395.9,366.6 395.9,367.6 396.0,368.6 396.0,369.7 396.1,370.8 396.1,371.9 396.1,373.0 396.2,374.2 396.2,375.4 396.3,376.6 396.3,377.8 396.3,379.1 396.4,380.4 396.4,381.7 396.5,383.0 396.5,384.4 396.5,385.8 396.6,387.2 396.6,388.7 396.7,390.2 396.7,391.7 396.7,393.3 396.8,394.9 396.8,396.5 396.9,398.2 396.9,399.8 396.9,401.6 397.0,403.3 397.0,405.2 397.1,407.0 397.1,408.9 397.1,410.8 397.2,412.8 397.2,413.8 397.2,414.8 397.2,415.8 397.3,416.8 397.3,417.9 397.3,418.9 397.3,420.0 397.3,421.1 397.4,422.2 397.4,423.3 397.4,424.4 397.4,425.5 397.4,426.7 397.5,427.8 397.5,429.0 397.5,430.1 397.5,431.3 397.5,432.5 397.6,433.7 397.6,435.0 397.6,436.2 397.6,437.4 397.6,438.7 397.7,440.0 397.7,441.3 397.7,442.6 397.7,443.9 397.7,445.2 397.8,446.6 397.8,447.9 397.8,449.3 397.8,450.7 397.8,452.1 397.9,453.5 397.9,454.9 397.9,456.3 397.9,457.8 397.9,459.2 398.0,460.7 398.0,462.2 398.0,463.7 398.0,465.2 398.0,466.7 398.1,468.2 398.1,469.7 398.1,471.3 398.1,472.8 398.1,474.4 398.2,475.9 398.2,477.5 398.2,479.1 398.2,480.7 398.2,482.2 398.3,483.8 398.3,485.4 398.3,487.0 398.3,488.5 398.3,490.1 398.4,491.6 398.4,493.2 398.4,494.7 398.4,496.2 398.4,497.7 398.5,499.2 398.5,500.6 398.5,502.0 398.5,503.4 398.5,504.8 398.6,506.1 398.6,507.4 398.6,508.6 398.6,509.7 398.6,510.9 398.7,511.9 398.7,513.8 398.7,515.5 398.8,516.8 398.8,518.1 398.9,518.5 398.9,518.5 399.0,517.4 399.1,516.0 399.1,514.9 399.2,513.6 399.2,512.1 399.2,510.4 399.3,508.6 399.3,506.7 399.4,504.7 399.4,503.7 399.4,502.6 399.4,501.6 399.4,500.5 399.5,499.4 399.5,498.3 399.5,497.2 399.5,496.1 399.5,494.9 399.6,493.8 399.6,492.6 399.6,491.5 399.6,490.3 399.6,489.2 399.7,488.0 399.7,486.9 399.7,485.7 399.7,484.6 399.7,483.4 399.8,482.3 399.8,481.1 399.8,480.0 399.8,478.9 399.8,477.7 399.9,476.6 399.9,475.5 399.9,474.4 399.9,473.3 399.9,472.2 400.0,471.1 400.0,470.0 400.0,469.0 400.0,467.9 400.0,466.8 400.1,465.8 400.1,464.8 400.1,463.7 400.1,462.7 400.1,461.7 400.2,460.7 400.2,458.7 400.2,456.8 400.3,454.9 400.3,453.0 400.4,451.2 400.4,449.4 400.4,447.7 400.5,446.0 400.5,444.3 400.6,442.7 400.6,441.1 400.6,439.6 400.7,438.1 400.7,436.6 400.8,435.2 400.8,433.8 400.8,432.4 400.9,431.1 400.9,429.8 401.0,428.6 401.0,427.4 401.0,426.2 401.1,425.0 401.1,423.9 401.2,422.8 401.2,421.8 401.2,420.8 401.3,419.3 401.4,418.0 401.4,416.7 401.5,415.4 401.5,414.3 401.6,413.2 401.7,412.2 401.7,411.0 401.8,409.9 401.9,408.7 402.0,407.5 402.2,406.5 402.4,406.0 402.4,406.0 402.7,407.0 402.9,408.0 403.0,409.2 403.1,410.4 403.2,411.4 403.2,412.6 403.3,413.9 403.4,414.9 403.4,416.0 403.5,417.1 403.6,418.4 403.6,419.6 403.7,421.0 403.7,422.4 403.8,423.9 403.8,424.9 403.9,426.0 403.9,427.1 404.0,428.2 404.0,429.4 404.0,430.6 404.1,431.8 404.1,433.0 404.2,434.3 404.2,435.7 404.2,437.0 404.3,438.4 404.3,439.9 404.4,441.4 404.4,442.9 404.4,444.5 404.5,446.1 404.5,447.7 404.6,449.4 404.6,451.1 404.6,452.9 404.7,454.7 404.7,456.6 404.8,458.5 404.8,460.5 404.8,461.5 404.8,462.5 404.9,463.6 404.9,464.6 404.9,465.7 404.9,466.8 404.9,467.9 405.0,469.0 405.0,470.1 405.0,471.2 405.0,472.4 405.0,473.5 405.1,474.7 405.1,475.9 405.1,477.1 405.1,478.3 405.1,479.6 405.2,480.9 405.2,482.1 405.2,483.4 405.2,484.7 405.2,486.1 405.3,487.4 405.3,488.8 405.3,490.2 405.3,491.6 405.3,493.0 405.4,494.4 405.4,495.9 405.4,497.4 405.4,498.9 405.4,500.4 405.5,501.9 405.5,503.5 405.5,505.1 405.5,506.6 405.5,508.3 405.6,509.9 405.6,511.6 405.6,513.2 405.6,514.9 405.6,516.6 405.7,518.4 405.7,520.1 405.7,521.9 405.7,523.7 405.7,525.5 405.8,527.3 405.8,529.2 405.8,531.1 405.8,532.9 405.8,534.8 405.9,536.7 405.9,538.6 405.9,540.6 405.9,542.5 405.9,544.4 406.0,546.4 406.0,548.3 406.0,550.3 406.0,552.2 406.0,554.2 406.1,556.1 406.1,558.0 406.1,559.9 406.1,561.7 406.1,563.5 406.2,565.3 406.2,567.1 406.2,568.8 406.2,570.4 406.2,572.0 406.3,573.5 406.3,574.9 406.3,576.2 406.3,577.5 406.3,578.6 406.4,579.7 406.4,581.4 406.4,582.5 406.5,583.2 406.5,583.2 406.6,582.2 406.6,580.9 406.7,579.2 406.7,578.2 406.7,577.1 406.7,575.9 406.7,574.7 406.8,573.3 406.8,571.9 406.8,570.4 406.8,568.8 406.8,567.2 406.9,565.5 406.9,563.8 406.9,562.1 406.9,560.3 406.9,558.5 407.0,556.7 407.0,554.8 407.0,553.0 407.0,551.1 407.0,549.2 407.1,547.3 407.1,545.4 407.1,543.5 407.1,541.6 407.1,539.7 407.2,537.8 407.2,535.9 407.2,534.0 407.2,532.1 407.2,530.2 407.3,528.4 407.3,526.5 407.3,524.7 407.3,522.9 407.3,521.1 407.4,519.3 407.4,517.5 407.4,515.7 407.4,514.0 407.4,512.2 407.5,510.5 407.5,508.8 407.5,507.1 407.5,505.5 407.5,503.8 407.6,502.2 407.6,500.6 407.6,499.0 407.6,497.4 407.6,495.8 407.7,494.2 407.7,492.7 407.7,491.2 407.7,489.7 407.7,488.2 407.8,486.7 407.8,485.2 407.8,483.8 407.8,482.3 407.8,480.9 407.9,479.5 407.9,478.1 407.9,476.8 407.9,475.4 407.9,474.0 408.0,472.7 408.0,471.4 408.0,470.1 408.0,468.8 408.0,467.5 408.1,466.2 408.1,465.0 408.1,463.8 408.1,462.5 408.1,461.3 408.2,460.1 408.2,458.9 408.2,457.7 408.2,456.6 408.2,455.4 408.3,454.2 408.3,453.1 408.3,452.0 408.3,450.9 408.3,449.8 408.4,448.7 408.4,447.6 408.4,446.5 408.4,445.4 408.4,444.4 408.5,443.3 408.5,442.3 408.5,441.3 408.5,440.3 408.5,439.3 408.6,437.3 408.6,435.3 408.7,433.4 408.7,431.5 408.7,429.6 408.8,427.8 408.8,426.0 408.9,424.3 408.9,422.5 408.9,420.8 409.0,419.1 409.0,417.5 409.1,415.9 409.1,414.3 409.1,412.7 409.2,411.1 409.2,409.6 409.3,408.1 409.3,406.6 409.3,405.1 409.4,403.7 409.4,402.3 409.5,400.9 409.5,399.5 409.5,398.1 409.6,396.8 409.6,395.5 409.7,394.2 409.7,392.9 409.7,391.6 409.8,390.3 409.8,389.1 409.9,387.9 409.9,386.7 409.9,385.5 410.0,384.3 410.0,383.2 410.1,382.0 410.1,380.9 410.1,379.8 410.2,378.7 410.2,377.6 410.3,376.5 410.3,375.4 410.3,374.4 410.4,373.4 410.4,372.3 410.5,371.3 410.5,369.8 410.6,368.4 410.6,366.9 410.7,365.5 410.8,364.1 410.8,362.8 410.9,361.4 410.9,360.1 411.0,358.8 411.1,357.5 411.1,356.3 411.2,355.0 411.2,353.8 411.3,352.6 411.4,351.4 411.4,350.3 411.5,349.1 411.5,348.0 411.6,346.9 411.7,345.8 411.7,344.8 411.8,343.7 411.8,342.7 411.9,341.7 412.0,340.7 412.0,339.4 412.1,338.1 412.2,336.8 412.3,335.6 412.4,334.4 412.4,333.2 412.5,332.0 412.6,330.9 412.7,329.8 412.8,328.7 412.8,327.7 412.9,326.6 413.0,325.6 413.1,324.4 413.2,323.1 413.3,322.0 413.4,320.8 413.5,319.7 413.6,318.6 413.7,317.6 413.8,316.6 413.9,315.6 414.0,314.4 414.1,313.3 414.3,312.2 414.4,311.2 414.5,310.2 414.6,309.0 414.8,308.0 414.9,307.0 415.1,305.9 415.2,304.8 415.4,303.7 415.6,302.7 415.8,301.7 416.0,300.7 416.3,299.7 416.5,298.7 416.9,297.8 417.5,297.0 417.7,296.9 417.7,296.9 418.2,297.8 418.4,298.7 418.6,299.8 418.8,300.9 418.9,302.0 419.1,303.0 419.2,304.0 419.3,305.2 419.4,306.3 419.5,307.4 419.6,308.5 419.7,309.8 419.8,310.8 419.9,311.9 419.9,313.0 420.0,314.1 420.1,315.3 420.2,316.6 420.3,317.9 420.3,318.9 420.4,319.9 420.4,321.0 420.5,322.0 420.6,323.1 420.6,324.3 420.7,325.4 420.7,326.6 420.8,327.9 420.9,329.1 420.9,330.4 421.0,331.7 421.0,333.0 421.1,334.4 421.2,335.8 421.2,337.3 421.3,338.8 421.3,339.8 421.4,340.8 421.4,341.8 421.4,342.9 421.5,344.0 421.5,345.0 421.6,346.2 421.6,347.3 421.6,348.4 421.7,349.6 421.7,350.8 421.8,352.0 421.8,353.2 421.8,354.4 421.9,355.7 421.9,357.0 422.0,358.3 422.0,359.6 422.0,361.0 422.1,362.3 422.1,363.7 422.2,365.1 422.2,366.6 422.2,368.0 422.3,369.5 422.3,371.0 422.4,372.6 422.4,374.1 422.4,375.7 422.5,377.4 422.5,379.0 422.6,380.7 422.6,382.4 422.6,384.1 422.7,385.9 422.7,387.7 422.8,389.6 422.8,391.4 422.8,393.3 422.9,395.3 422.9,397.2 423.0,399.2 423.0,400.3 423.0,401.3 423.0,402.3 423.0,403.4 423.1,404.4 423.1,405.5 423.1,406.6 423.1,407.6 423.1,408.7 423.2,409.8 423.2,410.9 423.2,412.1 423.2,413.2 423.2,414.3 423.3,415.5 423.3,416.7 423.3,417.8 423.3,419.0 423.3,420.2 423.4,421.4 423.4,422.6 423.4,423.9 423.4,425.1 423.4,426.3 423.5,427.6 423.5,428.9 423.5,430.1 423.5,431.4 423.5,432.7 423.6,434.0 423.6,435.3 423.6,436.7 423.6,438.0 423.6,439.3 423.7,440.7 423.7,442.1 423.7,443.4 423.7,444.8 423.7,446.2 423.8,447.6 423.8,449.0 423.8,450.4 423.8,451.8 423.8,453.2 423.9,454.7 423.9,456.1 423.9,457.5 423.9,459.0 423.9,460.4 424.0,461.8 424.0,463.3 424.0,464.7 424.0,466.2 424.0,467.6 424.1,469.0 424.1,470.4 424.1,471.8 424.1,473.2 424.1,474.6 424.2,476.0 424.2,477.4 424.2,478.7 424.2,480.0 424.2,481.3 424.3,482.6 424.3,483.9 424.3,485.1 424.3,486.3 424.3,487.4 424.4,488.5 424.4,489.6 424.4,490.6 424.4,492.5 424.5,494.2 424.5,495.7 424.6,496.9 424.6,498.2 424.7,498.8 424.7,498.8 424.8,497.7 424.9,496.6 425.0,495.2 425.0,494.0 425.0,492.7 425.1,491.3 425.1,489.8 425.2,488.2 425.2,486.5 425.2,484.8 425.3,482.9 425.3,481.0 425.4,479.1 425.4,477.1 425.4,476.1 425.4,475.0 425.5,474.0 425.5,473.0 425.5,471.9 425.5,470.9 425.5,469.8 425.6,468.8 425.6,467.7 425.6,466.7 425.6,465.6 425.6,464.6 425.7,463.5 425.7,462.4 425.7,461.4 425.7,460.3 425.7,459.3 425.8,458.2 425.8,457.1 425.8,456.1 425.8,455.0 425.8,454.0 425.9,452.9 425.9,451.9 425.9,450.9 425.9,449.8 425.9,448.8 426.0,447.8 426.0,446.7 426.0,445.7 426.0,444.7 426.0,443.7 426.1,442.7 426.1,440.7 426.1,438.7 426.2,436.8 426.2,434.9 426.3,433.0 426.3,431.1 426.3,429.3 426.4,427.4 426.4,425.6 426.5,423.8 426.5,422.1 426.5,420.3 426.6,418.6 426.6,417.0 426.7,415.3 426.7,413.7 426.7,412.0 426.8,410.5 426.8,408.9 426.9,407.3 426.9,405.8 426.9,404.3 427.0,402.8 427.0,401.4 427.1,399.9 427.1,398.5 427.1,397.1 427.2,395.8 427.2,394.4 427.3,393.1 427.3,391.8 427.3,390.5 427.4,389.2 427.4,387.9 427.5,386.7 427.5,385.5 427.5,384.3 427.6,383.1 427.6,381.9 427.7,380.7 427.7,379.6 427.7,378.5 427.8,377.4 427.8,376.3 427.9,375.2 427.9,374.2 427.9,373.1 428.0,372.1 428.0,371.1 428.1,369.6 428.1,368.1 428.2,366.7 428.3,365.3 428.3,364.0 428.4,362.6 428.4,361.3 428.5,360.0 428.6,358.8 428.6,357.6 428.7,356.4 428.7,355.2 428.8,354.1 428.9,353.0 428.9,351.9 429.0,350.8 429.0,349.8 429.1,348.7 429.2,347.4 429.3,346.1 429.3,344.9 429.4,343.7 429.5,342.5 429.6,341.4 429.7,340.3 429.7,339.3 429.8,338.3 429.9,337.1 430.0,335.9 430.1,334.8 430.2,333.8 430.3,332.6 430.5,331.5 430.6,330.5 430.7,329.4 430.9,328.3 431.1,327.3 431.3,326.3 431.5,325.3 432.0,324.6 432.0,324.6 432.4,325.6 432.5,326.6 432.7,327.7 432.8,329.0 432.9,330.1 433.0,331.1 433.0,332.2 433.1,333.4 433.2,334.7 433.3,335.7 433.3,336.8 433.4,337.9 433.4,339.0 433.5,340.2 433.6,341.5 433.6,342.8 433.7,344.2 433.7,345.6 433.8,347.1 433.8,348.1 433.9,349.2 433.9,350.3 434.0,351.4 434.0,352.5 434.0,353.7 434.1,354.9 434.1,356.1 434.2,357.3 434.2,358.6 434.2,359.9 434.3,361.2 434.3,362.6 434.4,364.0 434.4,365.5 434.4,366.9 434.5,368.5 434.5,370.0 434.6,371.6 434.6,373.2 434.6,374.9 434.7,376.6 434.7,378.3 434.8,380.1 434.8,382.0 434.8,383.9 434.9,385.8 434.9,387.8 434.9,388.8 435.0,389.8 435.0,390.8 435.0,391.9 435.0,393.0 435.0,394.0 435.1,395.1 435.1,396.2 435.1,397.4 435.1,398.5 435.1,399.6 435.2,400.8 435.2,402.0 435.2,403.2 435.2,404.4 435.2,405.6 435.3,406.9 435.3,408.2 435.3,409.4 435.3,410.7 435.3,412.1 435.4,413.4 435.4,414.8 435.4,416.2 435.4,417.6 435.4,419.0 435.5,420.4 435.5,421.9 435.5,423.4 435.5,424.9 435.5,426.4 435.6,428.0 435.6,429.5 435.6,431.1 435.6,432.8 435.6,434.4 435.7,436.1 435.7,437.8 435.7,439.5 435.7,441.3 435.7,443.1 435.8,444.9 435.8,446.8 435.8,448.6 435.8,450.6 435.8,452.5 435.9,454.5 435.9,456.5 435.9,458.5 435.9,460.6 435.9,462.7 436.0,464.9 436.0,467.1 436.0,469.3 436.0,471.6 436.0,473.9 436.1,476.2 436.1,478.6 436.1,481.0 436.1,483.5 436.1,486.0 436.2,488.5 436.2,491.1 436.2,493.8 436.2,496.4 436.2,499.1 436.3,501.9 436.3,504.6 436.3,507.5 436.3,510.3 436.3,513.2 436.4,516.1 436.4,519.0 436.4,521.9 436.4,524.9 436.4,527.8 436.5,530.8 436.5,533.7 436.5,536.6 436.5,539.5 436.5,542.2 436.6,545.0 436.6,547.6 436.6,550.1 436.6,552.5 436.6,554.7 436.7,556.7 436.7,558.6 436.7,560.2 436.7,561.5 436.7,562.6 436.8,563.8 436.8,564.0 436.8,564.0 436.9,562.9 436.9,561.0 436.9,559.8 436.9,558.3 437.0,556.7 437.0,554.9 437.0,553.0 437.0,551.0 437.0,548.8 437.1,546.6 437.1,544.3 437.1,541.9 437.1,539.4 437.1,537.0 437.2,534.5 437.2,531.9 437.2,529.4 437.2,526.8 437.2,524.2 437.3,521.7 437.3,519.1 437.3,516.6 437.3,514.1 437.3,511.6 437.4,509.1 437.4,506.7 437.4,504.3 437.4,501.9 437.4,499.5 437.5,497.2 437.5,494.9 437.5,492.6 437.5,490.3 437.5,488.1 437.6,485.9 437.6,483.8 437.6,481.7 437.6,479.6 437.6,477.5 437.7,475.5 437.7,473.5 437.7,471.6 437.7,469.6 437.7,467.7 437.8,465.9 437.8,464.0 437.8,462.2 437.8,460.4 437.8,458.7 437.9,456.9 437.9,455.2 437.9,453.5 437.9,451.9 437.9,450.2 438.0,448.6 438.0,447.1 438.0,445.5 438.0,444.0 438.0,442.5 438.1,441.0 438.1,439.5 438.1,438.0 438.1,436.6 438.1,435.2 438.2,433.8 438.2,432.5 438.2,431.1 438.2,429.8 438.2,428.5 438.3,427.2 438.3,425.9 438.3,424.7 438.3,423.4 438.3,422.2 438.4,421.0 438.4,419.8 438.4,418.6 438.4,417.5 438.4,416.3 438.5,415.2 438.5,414.1 438.5,413.0 438.5,411.9 438.5,410.9 438.6,409.8 438.6,408.8 438.6,407.7 438.6,406.7 438.7,404.7 438.7,402.8 438.7,400.9 438.8,399.1 438.8,397.3 438.9,395.6 438.9,393.9 438.9,392.2 439.0,390.6 439.0,389.0 439.1,387.5 439.1,386.0 439.1,384.5 439.2,383.1 439.2,381.7 439.3,380.3 439.3,379.0 439.3,377.7 439.4,376.5 439.4,375.2 439.5,374.0 439.5,372.9 439.5,371.8 439.6,370.7 439.6,369.6 439.7,368.5 439.7,367.5 439.8,366.0 439.8,364.6 439.9,363.3 439.9,362.0 440.0,360.8 440.1,359.6 440.1,358.5 440.2,357.4 440.2,356.4 440.3,355.1 440.4,354.0 440.5,352.9 440.6,351.7 440.7,350.6 440.8,349.6 441.0,348.5 441.3,347.5 441.3,347.5 441.3,347.5 441.7,348.5 441.8,349.5 441.9,350.6 442.1,351.8 442.2,352.9 442.2,353.9 442.3,355.0 442.4,356.2 442.5,357.5 442.5,358.5 442.6,359.5 442.7,360.6 442.7,361.8 442.8,363.0 442.8,364.2 442.9,365.5 443.0,366.9 443.0,368.2 443.1,369.7 443.1,371.2 443.2,372.2 443.2,373.2 443.3,374.3 443.3,375.4 443.3,376.5 443.4,377.6 443.4,378.8 443.5,379.9 443.5,381.1 443.5,382.4 443.6,383.6 443.6,384.9 443.7,386.2 443.7,387.5 443.7,388.8 443.8,390.2 443.8,391.6 443.9,393.0 443.9,394.4 443.9,395.9 444.0,397.4 444.0,398.9 444.1,400.4 444.1,401.9 444.1,403.5 444.2,405.1 444.2,406.7 444.3,408.3 444.3,409.9 444.3,411.6 444.4,413.2 444.4,414.9 444.5,416.6 444.5,418.3 444.5,420.0 444.6,421.7 444.6,423.5 444.7,425.2 444.7,426.9 444.7,428.6 444.8,430.3 444.8,431.9 444.9,433.6 444.9,435.2 444.9,436.8 445.0,438.4 445.0,439.9 445.1,441.4 445.1,442.8 445.1,444.1 445.2,445.4 445.2,446.6 445.3,447.7 445.3,448.7 445.4,450.0 445.4,451.1 445.5,452.2 445.6,452.5 445.6,452.5 445.8,451.4 445.9,450.2 446.0,449.0 446.1,447.9 446.1,446.8 446.2,445.5 446.2,444.2 446.3,442.8 446.4,441.3 446.4,439.8 446.5,438.8 446.5,437.8 446.5,436.7 446.6,435.6 446.6,434.6 446.7,433.5 446.7,432.4 446.7,431.3 446.8,430.2 446.8,429.1 446.9,428.0 446.9,426.9 446.9,425.8 447.0,424.8 447.0,423.7 447.1,422.6 447.1,421.6 447.1,420.5 447.2,419.5 447.2,418.5 447.3,417.4 447.3,416.4 447.4,415.0 447.4,413.5 447.5,412.1 447.5,410.7 447.6,409.4 447.7,408.0 447.7,406.8 447.8,405.5 447.8,404.3 447.9,403.2 448.0,402.1 448.0,401.0 448.1,399.9 448.2,398.6 448.2,397.4 448.3,396.2 448.4,395.2 448.5,394.2 448.6,393.0 448.7,392.0 448.8,391.0 449.0,389.9 449.3,389.0 449.3,389.0 449.3,389.0 449.6,390.0 449.8,391.2 449.9,392.3 450.0,393.4 450.1,394.6 450.2,395.7 450.3,396.9 450.4,398.2 450.4,399.3 450.5,400.3 450.5,401.5 450.6,402.7 450.7,403.9 450.7,405.2 450.8,406.6 450.8,408.0 450.9,409.5 450.9,410.5 451.0,411.5 451.0,412.5 451.1,413.6 451.1,414.7 451.1,415.9 451.2,417.0 451.2,418.2 451.3,419.4 451.3,420.7 451.3,421.9 451.4,423.2 451.4,424.5 451.5,425.8 451.5,427.2 451.5,428.6 451.6,430.0 451.6,431.5 451.7,432.9 451.7,434.4 451.7,435.9 451.8,437.5 451.8,439.0 451.9,440.6 451.9,442.2 451.9,443.8 452.0,445.5 452.0,447.2 452.1,448.9 452.1,450.6 452.1,452.3 452.2,454.0 452.2,455.8 452.3,457.5 452.3,459.3 452.3,461.1 452.4,462.8 452.4,464.6 452.5,466.4 452.5,468.1 452.5,469.9 452.6,471.6 452.6,473.3 452.7,474.9 452.7,476.6 452.7,478.1 452.8,479.6 452.8,481.1 452.9,482.5 452.9,483.8 452.9,485.0 453.0,486.2 453.0,487.2 453.1,488.5 453.1,489.6 453.2,490.6 453.3,490.8 453.3,490.8 453.5,489.8 453.6,488.8 453.6,487.4 453.7,486.3 453.8,485.0 453.8,483.5 453.9,482.0 453.9,481.0 454.0,479.9 454.0,478.8 454.0,477.7 454.1,476.5 454.1,475.4 454.2,474.2 454.2,473.1 454.2,471.9 454.3,470.7 454.3,469.5 454.4,468.4 454.4,467.2 454.4,466.1 454.5,464.9 454.5,463.8 454.6,462.7 454.6,461.6 454.6,460.5 454.7,459.4 454.7,458.4 454.8,457.4 454.8,456.4 454.9,454.9 454.9,453.5 455.0,452.2 455.0,450.9 455.1,449.6 455.2,448.5 455.2,447.4 455.3,446.4 455.4,445.1 455.4,444.0 455.5,442.9 455.6,441.9 455.8,440.8 456.0,440.0 456.0,440.0 456.4,441.0 456.6,442.0 456.7,443.0 456.8,444.0 456.9,445.1 457.1,446.3 457.2,447.3 457.3,448.3 457.4,449.3 457.5,450.4 457.6,451.4 457.7,452.5 457.8,453.6 457.9,454.7 458.1,455.8 458.4,456.5 458.4,456.5 458.6,455.3 458.7,454.2 458.7,453.0 458.8,451.7 458.8,450.2 458.9,449.1 458.9,448.0 459.0,446.8 459.0,445.6 459.0,444.3 459.1,442.9 459.1,441.6 459.2,440.2 459.2,438.8 459.2,437.4 459.3,435.9 459.3,434.5 459.4,433.0 459.4,431.5 459.4,430.0 459.5,428.6 459.5,427.1 459.6,425.6 459.6,424.1 459.6,422.7 459.7,421.2 459.7,419.7 459.8,418.3 459.8,416.9 459.8,415.5 459.9,414.1 459.9,412.7 460.0,411.3 460.0,410.0 460.0,408.7 460.1,407.4 460.1,406.1 460.2,404.8 460.2,403.5 460.2,402.3 460.3,401.1 460.3,399.9 460.4,398.7 460.4,397.6 460.4,396.4 460.5,395.3 460.5,394.2 460.6,393.1 460.6,392.1 460.6,391.1 460.7,390.1 460.7,388.6 460.8,387.1 460.9,385.8 460.9,384.4 461.0,383.1 461.0,381.9 461.1,380.7 461.2,379.6 461.2,378.5 461.3,377.4 461.3,376.4 461.4,375.1 461.5,373.9 461.6,372.8 461.7,371.8 461.8,370.7 461.9,369.7 462.0,368.6 462.1,367.5 462.4,366.6 462.5,366.5 462.5,366.5 462.9,367.5 463.0,368.5 463.2,369.6 463.3,370.8 463.4,371.9 463.5,373.2 463.6,374.2 463.6,375.3 463.7,376.5 463.8,377.8 463.9,379.1 463.9,380.2 464.0,381.2 464.1,382.3 464.1,383.5 464.2,384.6 464.2,385.8 464.3,387.1 464.4,388.3 464.4,389.6 464.5,390.9 464.5,392.2 464.6,393.6 464.7,394.9 464.7,396.3 464.8,397.7 464.8,399.1 464.9,400.5 465.0,402.0 465.0,403.4 465.1,404.8 465.1,406.2 465.2,407.6 465.3,408.9 465.3,410.2 465.4,411.6 465.4,412.8 465.5,414.0 465.6,415.2 465.6,416.3 465.7,417.3 465.8,418.6 465.8,419.6 465.9,420.7 466.1,421.8 466.2,422.0 466.2,422.0 466.4,420.8 466.5,419.5 466.5,418.3 466.6,416.9 466.6,415.9 466.7,414.8 466.7,413.6 466.7,412.4 466.8,411.1 466.8,409.7 466.9,408.3 466.9,406.9 466.9,405.4 467.0,404.0 467.0,402.4 467.1,400.9 467.1,399.3 467.1,397.8 467.2,396.2 467.2,394.6 467.3,393.0 467.3,391.4 467.3,389.9 467.4,388.3 467.4,386.7 467.5,385.1 467.5,383.6 467.5,382.0 467.6,380.5 467.6,378.9 467.7,377.4 467.7,375.9 467.7,374.4 467.8,373.0 467.8,371.5 467.9,370.1 467.9,368.6 467.9,367.2 468.0,365.9 468.0,364.5 468.1,363.1 468.1,361.8 468.1,360.5 468.2,359.2 468.2,357.9 468.3,356.7 468.3,355.5 468.3,354.3 468.4,353.1 468.4,351.9 468.5,350.7 468.5,349.6 468.5,348.5 468.6,347.4 468.6,346.3 468.7,345.3 468.7,344.2 468.7,343.2 468.8,342.2 468.8,340.7 468.9,339.3 469.0,337.9 469.0,336.6 469.1,335.3 469.1,334.0 469.2,332.8 469.3,331.6 469.3,330.5 469.4,329.4 469.4,328.3 469.5,327.3 469.6,326.0 469.7,324.7 469.7,323.6 469.8,322.5 469.9,321.4 470.0,320.2 470.1,319.1 470.2,318.0 470.3,317.0 470.5,315.8 470.7,314.8 471.0,314.3 471.0,314.3 471.4,315.3 471.5,316.4 471.6,317.4 471.7,318.4 471.8,319.6 471.9,320.6 472.0,321.7 472.1,322.9 472.2,324.1 472.2,325.2 472.3,326.2 472.3,327.3 472.4,328.5 472.5,329.7 472.5,331.0 472.6,332.3 472.6,333.7 472.7,335.1 472.8,336.6 472.8,337.6 472.8,338.7 472.9,339.8 472.9,340.9 473.0,342.0 473.0,343.2 473.0,344.3 473.1,345.5 473.1,346.8 473.2,348.0 473.2,349.3 473.2,350.7 473.3,352.0 473.3,353.4 473.4,354.8 473.4,356.2 473.4,357.7 473.5,359.2 473.5,360.8 473.6,362.3 473.6,364.0 473.6,365.6 473.7,367.3 473.7,369.0 473.8,370.7 473.8,372.5 473.8,374.3 473.9,376.2 473.9,378.1 474.0,380.0 474.0,382.0 474.0,383.0 474.0,384.0 474.1,385.0 474.1,386.1 474.1,387.1 474.1,388.2 474.1,389.2 474.2,390.3 474.2,391.4 474.2,392.5 474.2,393.6 474.2,394.7 474.3,395.8 474.3,396.9 474.3,398.1 474.3,399.2 474.3,400.4 474.4,401.5 474.4,402.7 474.4,403.9 474.4,405.1 474.4,406.3 474.5,407.5 474.5,408.7 474.5,409.9 474.5,411.2 474.5,412.4 474.6,413.6 474.6,414.9 474.6,416.2 474.6,417.4 474.6,418.7 474.7,420.0 474.7,421.2 474.7,422.5 474.7,423.8 474.7,425.1 474.8,426.4 474.8,427.6 474.8,428.9 474.8,430.2 474.8,431.5 474.9,432.7 474.9,434.0 474.9,435.2 474.9,436.5 474.9,437.7 475.0,438.9 475.0,440.1 475.0,441.3 475.0,442.5 475.0,443.6 475.1,444.8 475.1,445.9 475.1,446.9 475.1,448.0 475.1,449.0 475.2,450.9 475.2,452.7 475.3,454.3 475.3,455.7 475.3,456.8 475.4,458.1 475.5,459.0 475.5,459.0 475.6,458.0 475.7,457.0 475.8,455.7 475.8,454.6 475.8,453.5 475.9,452.2 475.9,450.8 476.0,449.3 476.0,447.7 476.0,446.1 476.1,444.4 476.1,442.6 476.2,440.8 476.2,438.9 476.2,437.0 476.3,435.0 476.3,433.1 476.4,431.1 476.4,430.1 476.4,429.1 476.4,428.0 476.4,427.0 476.5,426.0 476.5,425.0 476.5,424.0 476.5,423.0 476.5,422.0 476.6,420.9 476.6,419.9 476.6,418.9 476.6,417.9 476.6,416.9 476.7,415.9 476.7,414.9 476.7,413.9 476.7,412.9 476.8,410.9 476.8,408.9 476.8,407.0 476.9,405.0 476.9,403.1 477.0,401.2 477.0,399.3 477.0,397.4 477.1,395.6 477.1,393.7 477.2,391.9 477.2,390.1 477.2,388.4 477.3,386.6 477.3,384.9 477.4,383.2 477.4,381.5 477.4,379.9 477.5,378.2 477.5,376.6 477.6,375.0 477.6,373.4 477.6,371.9 477.7,370.4 477.7,368.8 477.8,367.4 477.8,365.9 477.8,364.4 477.9,363.0 477.9,361.6 478.0,360.2 478.0,358.8 478.0,357.5 478.1,356.2 478.1,354.8 478.2,353.5 478.2,352.3 478.2,351.0 478.3,349.8 478.3,348.5 478.4,347.3 478.4,346.1 478.4,344.9 478.5,343.8 478.5,342.6 478.6,341.5 478.6,340.4 478.6,339.3 478.7,338.2 478.7,337.1 478.8,336.1 478.8,335.0 478.8,334.0 478.9,333.0 478.9,332.0 479.0,330.5 479.0,329.0 479.1,327.6 479.2,326.2 479.2,324.9 479.3,323.5 479.3,322.2 479.4,320.9 479.5,319.7 479.5,318.4 479.6,317.2 479.6,316.0 479.7,314.9 479.8,313.7 479.8,312.6 479.9,311.5 479.9,310.5 480.0,309.4 480.1,308.4 480.1,307.4 480.2,306.1 480.3,304.8 480.4,303.6 480.4,302.4 480.5,301.2 480.6,300.1 480.7,299.0 480.8,297.9 480.8,296.9 480.9,295.9 481.0,294.7 481.1,293.6 481.2,292.5 481.3,291.4 481.4,290.4 481.5,289.2 481.7,288.2 481.8,287.1 481.9,286.0 482.1,285.0 482.2,284.0 482.4,282.9 482.6,282.0 482.9,281.0 483.3,280.0 483.5,279.9 483.5,279.9 484.0,280.8 484.2,281.8 484.4,282.8 484.6,283.9 484.7,284.9 484.9,286.0 485.0,287.0 485.1,288.0 485.2,289.2 485.4,290.4 485.5,291.4 485.6,292.5 485.7,293.6 485.8,294.7 485.9,295.9 486.0,297.1 486.1,298.3 486.2,299.5 486.3,300.8 486.3,301.8 486.4,302.8 486.5,303.8 486.6,304.8 486.7,305.8 486.7,306.8 486.8,308.1 486.9,309.3 487.0,310.0 487.0,310.0 487.1,311.2 487.2,312.3 487.3,313.4 487.3,314.5 487.4,315.7 487.5,316.9 487.6,318.2 487.7,319.5 487.7,320.5 487.8,321.5 487.8,322.6 487.9,323.7 488.0,324.8 488.0,325.9 488.1,327.0 488.1,328.2 488.2,329.4 488.3,330.6 488.3,331.8 488.4,333.0 488.4,334.2 488.5,335.4 488.6,336.7 488.6,337.9 488.7,339.2 488.7,340.4 488.8,341.7 488.9,342.9 488.9,344.2 489.0,345.4 489.0,346.6 489.1,347.8 489.2,349.0 489.2,350.1 489.3,351.3 489.3,352.3 489.4,353.4 489.5,354.7 489.5,355.0 489.5,355.0 489.6,356.2 489.7,357.5 489.7,358.7 489.8,360.0 489.9,361.3 490.0,362.5 490.1,363.7 490.1,365.0 490.2,366.2 490.3,367.4 490.4,368.7 490.5,369.9 490.5,371.0 490.6,372.2 490.7,373.4 490.8,374.5 490.9,375.6 490.9,376.6 491.0,377.7 491.1,378.7 491.2,379.9 491.3,381.0 491.4,382.0 491.5,383.0 491.5,383.0 491.6,384.1 491.7,385.1 491.9,386.2 492.0,387.2 492.2,388.3 492.3,389.3 492.5,390.4 492.7,391.5 492.9,392.6 493.0,393.6 493.2,394.7 493.3,395.7 493.5,396.8 493.5,397.0 493.5,397.0 493.6,398.1 493.7,399.2 493.8,400.2 493.9,401.3 494.0,402.5 494.1,403.7 494.2,404.7 494.3,405.7 494.4,406.8 494.5,407.9 494.5,409.1 494.6,410.3 494.7,411.5 494.8,412.7 494.9,414.0 494.9,415.4 495.0,416.4 495.1,417.4 495.1,418.5 495.2,419.6 495.2,420.7 495.3,421.8 495.4,422.9 495.4,424.1 495.5,425.2 495.5,426.4 495.6,427.6 495.7,428.8 495.7,430.0 495.8,431.2 495.8,432.5 495.9,433.8 496.0,435.0 496.0,436.3 496.1,437.6 496.1,438.9 496.2,440.1 496.3,441.4 496.3,442.7 496.4,444.0 496.4,445.3 496.5,446.6 496.6,447.8 496.6,449.1 496.7,450.3 496.7,451.5 496.8,452.7 496.9,453.9 496.9,455.1 497.0,456.2 497.0,457.2 497.1,458.3 497.2,459.6 497.3,460.8 497.3,461.9 497.4,463.1 497.5,464.1 497.7,465.2 497.9,465.8 497.9,465.8 498.0,464.8 498.1,463.7 498.2,462.3 498.2,461.2 498.2,460.0 498.3,458.6 498.3,457.1 498.4,455.6 498.4,453.9 498.4,452.2 498.5,450.4 498.5,448.6 498.6,446.7 498.6,444.7 498.6,442.7 498.7,441.7 498.7,440.7 498.7,439.7 498.7,438.7 498.7,437.6 498.8,436.6 498.8,435.6 498.8,434.5 498.8,433.5 498.8,432.4 498.9,431.4 498.9,430.3 498.9,429.3 498.9,428.2 498.9,427.2 499.0,426.2 499.0,425.1 499.0,424.1 499.0,423.0 499.0,422.0 499.1,421.0 499.1,419.9 499.1,418.9 499.1,417.9 499.1,416.8 499.2,415.8 499.2,414.8 499.2,413.8 499.2,412.8 499.2,411.8 499.3,409.8 499.3,407.8 499.4,405.9 499.4,403.9 499.4,402.0 499.5,400.1 499.5,398.3 499.6,396.4 499.6,394.6 499.6,392.8 499.7,391.0 499.7,389.3 499.8,387.6 499.8,385.9 499.8,384.2 499.9,382.5 499.9,380.9 500.0,379.3 500.0,377.7 500.0,376.1 500.1,374.5 500.1,373.0 500.2,371.5 500.2,370.0 500.2,368.6 500.3,367.1 500.3,365.7 500.4,364.3 500.4,362.9 500.4,361.5 500.5,360.2 500.5,358.9 500.6,357.5 500.6,356.3 500.6,355.0 500.7,353.7 500.7,352.5 500.8,351.3 500.8,350.1 500.8,348.9 500.9,347.7 500.9,346.5 501.0,345.4 501.0,344.3 501.0,343.2 501.1,342.1 501.1,341.0 501.2,339.9 501.2,338.9 501.2,337.8 501.3,336.8 501.3,335.8 501.4,334.3 501.4,332.8 501.5,331.4 501.6,330.0 501.6,328.6 501.7,327.3 501.7,326.0 501.8,324.7 501.9,323.4 501.9,322.2 502.0,321.0 502.0,319.8 502.1,318.6 502.2,317.5 502.2,316.4 502.3,315.3 502.3,314.2 502.4,313.1 502.5,312.1 502.5,311.1 502.6,309.8 502.7,308.5 502.8,307.3 502.8,306.1 502.9,304.9 503.0,303.8 503.1,302.7 503.2,301.6 503.2,300.6 503.3,299.6 503.4,298.4 503.5,297.2 503.6,296.1 503.7,295.0 503.8,294.0 503.9,292.9 504.1,291.8 504.2,290.8 504.3,289.7 504.5,288.6 504.6,287.6 504.8,286.5 505.0,285.6 505.3,284.6 505.7,283.6 505.9,283.5 505.9,283.5 506.3,284.4 506.5,285.5 506.6,286.6 506.7,287.7 506.8,288.7 506.9,289.9 507.0,290.9 507.1,292.0 507.2,293.1 507.2,294.4 507.3,295.7 507.4,296.7 507.4,297.8 507.5,298.9 507.6,300.1 507.6,301.3 507.7,302.5 507.7,303.8 507.8,305.1 507.9,306.5 507.9,308.0 508.0,309.4 508.0,310.5 508.1,311.5 508.1,312.6 508.1,313.6 508.2,314.8 508.2,315.9 508.3,317.1 508.3,318.2 508.3,319.4 508.4,320.7 508.4,321.9 508.5,323.2 508.5,324.5 508.5,325.9 508.6,327.2 508.6,328.6 508.7,330.1 508.7,331.5 508.7,333.0 508.8,334.5 508.8,336.1 508.9,337.6 508.9,339.2 508.9,340.9 509.0,342.6 509.0,344.3 509.1,346.0 509.1,347.8 509.1,349.6 509.2,351.5 509.2,353.3 509.3,355.3 509.3,357.2 509.3,359.2 509.4,360.2 509.4,361.3 509.4,362.3 509.4,363.4 509.4,364.4 509.5,365.5 509.5,366.6 509.5,367.6 509.5,368.7 509.5,369.8 509.6,371.0 509.6,372.1 509.6,373.2 509.6,374.4 509.6,375.5 509.7,376.7 509.7,377.9 509.7,379.0 509.7,380.2 509.7,381.4 509.8,382.7 509.8,383.9 509.8,385.1 509.8,386.4 509.8,387.6 509.9,388.9 509.9,390.1 509.9,391.4 509.9,392.7 509.9,394.0 510.0,395.3 510.0,396.6 510.0,397.9 510.0,399.2 510.0,400.6 510.1,401.9 510.1,403.2 510.1,404.5 510.1,405.9 510.1,407.2 510.2,408.6 510.2,409.9 510.2,411.2 510.2,412.6 510.2,413.9 510.3,415.2 510.3,416.6 510.3,417.9 510.3,419.2 510.3,420.5 510.4,421.7 510.4,423.0 510.4,424.3 510.4,425.5 510.4,426.7 510.5,427.9 510.5,429.0 510.5,430.2 510.5,431.3 510.5,432.3 510.6,433.4 510.6,435.3 510.6,437.1 510.7,438.7 510.7,440.0 510.8,441.1 510.8,442.3 510.9,442.9 510.9,442.9 511.0,441.8 511.1,440.7 511.2,439.3 511.2,438.2 511.2,437.0 511.3,435.7 511.3,434.3 511.4,432.8 511.4,431.2 511.4,429.5 511.5,427.8 511.5,426.1 511.6,424.3 511.6,422.4 511.6,420.6 511.7,418.7 511.7,416.8 511.8,414.9 511.8,413.0 511.8,411.1 511.9,409.2 511.9,407.3 512.0,405.5 512.0,403.6 512.0,401.8 512.1,400.0 512.1,398.2 512.2,396.4 512.2,394.6 512.2,392.9 512.3,391.2 512.3,389.5 512.4,387.9 512.4,386.3 512.4,384.7 512.5,383.1 512.5,381.6 512.6,380.1 512.6,378.6 512.6,377.2 512.7,375.8 512.7,374.4 512.8,373.0 512.8,371.7 512.8,370.4 512.9,369.1 512.9,367.9 513.0,366.7 513.0,365.5 513.0,364.3 513.1,363.2 513.1,362.1 513.2,361.0 513.2,360.0 513.2,360.0 513.2,358.9 513.3,357.8 513.3,356.5 513.4,355.3 513.4,353.9 513.4,352.6 513.5,351.2 513.5,349.8 513.6,348.4 513.6,347.0 513.6,345.7 513.7,344.4 513.7,343.1 513.8,341.8 513.8,340.6 513.8,339.4 513.9,338.3 513.9,337.3 514.0,335.8 514.0,334.5 514.1,333.4 514.2,332.2 514.3,331.1 514.3,331.0 514.3,331.0 514.5,329.9 514.7,328.9 515.0,327.9 515.4,327.0 515.9,326.0 516.3,325.1 516.5,324.5 516.5,324.5 516.8,323.5 517.2,322.5 517.5,321.6 517.8,320.6 518.0,319.6 518.2,318.5 518.3,318.0 518.3,318.0 518.4,316.9 518.5,315.8 518.6,314.4 518.6,313.3 518.7,312.1 518.8,310.9 518.8,309.7 518.9,308.4 518.9,307.2 519.0,306.0 519.1,304.9 519.1,303.8 519.2,302.8 519.3,301.5 519.3,301.0 519.3,301.0 519.4,299.9 519.5,298.8 519.5,297.6 519.6,296.5 519.7,295.4 519.8,294.2 519.9,293.2 520.0,292.0 520.1,290.9 520.2,289.8 520.4,288.8 520.5,288.5 520.5,288.5 520.9,289.4 521.1,290.4 521.3,291.5 521.4,292.6 521.6,293.6 521.7,294.8 521.8,295.8 521.9,297.0 522.0,298.2 522.1,299.2 522.1,300.3 522.2,301.4 522.3,302.5 522.4,303.7 522.5,305.0 522.5,306.2 522.6,307.6 522.7,308.6 522.7,309.6 522.8,310.7 522.9,311.8 522.9,312.9 523.0,314.0 523.0,315.2 523.1,316.4 523.2,317.6 523.2,318.8 523.3,320.0 523.3,321.3 523.4,322.5 523.5,323.8 523.5,325.1 523.6,326.4 523.6,327.7 523.7,329.1 523.8,330.4 523.8,331.7 523.9,333.1 523.9,334.4 524.0,335.8 524.1,337.1 524.1,338.4 524.2,339.7 524.2,341.1 524.3,342.3 524.4,343.6 524.4,344.8 524.5,346.0 524.5,347.2 524.6,348.3 524.7,349.4 524.7,350.4 524.8,351.7 524.9,352.9 525.0,353.9 525.1,355.0 525.2,356.1 525.4,356.7 525.4,356.7 525.6,355.7 525.7,354.7 525.8,353.6 525.9,352.3 525.9,351.2 526.0,350.1 526.1,348.9 526.1,347.6 526.2,346.2 526.2,344.8 526.3,343.4 526.4,341.9 526.4,340.9 526.4,339.9 526.5,338.8 526.5,337.8 526.6,336.7 526.6,335.7 526.6,334.6 526.7,333.6 526.7,332.5 526.8,331.5 526.8,330.4 526.8,329.4 526.9,328.3 526.9,327.3 527.0,326.2 527.0,325.2 527.0,324.2 527.1,323.1 527.1,322.1 527.2,321.1 527.2,319.6 527.3,318.2 527.3,316.7 527.4,315.3 527.5,313.9 527.5,312.5 527.6,311.2 527.6,309.9 527.7,308.6 527.8,307.3 527.8,306.1 527.9,304.9 527.9,303.7 528.0,302.6 528.1,301.5 528.1,300.5 528.2,299.4 528.2,298.4 528.3,297.1 528.4,295.9 528.5,294.7 528.6,293.6 528.6,292.6 528.7,291.4 528.8,290.3 528.9,289.2 529.1,288.2 529.2,287.1 529.4,286.0 529.7,285.0 529.8,284.9 529.8,284.9 530.2,285.8 530.4,286.8 530.6,287.8 530.7,288.9 530.9,289.9 531.0,291.0 531.1,292.2 531.2,293.2 531.3,294.3 531.4,295.5 531.5,296.7 531.6,297.7 531.7,298.7 531.7,299.8 531.8,300.9 531.9,301.9 532.0,303.0 532.1,304.2 532.1,305.3 532.2,306.4 532.3,307.5 532.4,308.7 532.5,309.8 532.5,310.9 532.6,312.0 532.7,313.1 532.8,314.1 532.9,315.1 533.0,316.3 533.1,317.4 533.2,318.4 533.3,319.5 533.4,320.5 533.6,321.6 533.8,321.8 533.8,321.8 534.0,320.7 534.1,319.6 534.1,318.5 534.2,317.3 534.2,316.0 534.3,314.6 534.4,313.2 534.4,312.2 534.4,311.2 534.5,310.1 534.5,309.1 534.6,308.1 534.6,307.0 534.6,306.0 534.7,305.0 534.7,303.5 534.8,302.1 534.9,300.7 534.9,299.8 534.9,299.8 535.0,298.5 535.0,297.1 535.1,295.7 535.1,294.3 535.2,292.8 535.3,291.3 535.3,290.3 535.3,289.3 535.4,288.2 535.4,287.2 535.5,286.2 535.5,285.1 535.5,284.1 535.6,283.0 535.6,282.0 535.7,280.9 535.7,279.9 535.7,279.9 535.7,278.8 535.8,277.8 535.8,276.6 535.9,275.5 535.9,274.4 535.9,273.2 536.0,272.1 536.0,270.9 536.1,269.8 536.1,268.6 536.1,267.4 536.2,266.2 536.2,265.1 536.3,263.9 536.3,262.8 536.3,261.6 536.4,260.5 536.4,259.9 536.4,259.9 536.4,258.8 536.5,257.6 536.5,256.4 536.6,255.3 536.6,254.1 536.6,252.9 536.7,251.7 536.7,250.5 536.8,249.4 536.8,248.2 536.8,247.0 536.9,245.9 536.9,244.8 537.0,243.7 537.0,242.6 537.0,241.5 537.1,240.5 537.1,240.0 537.1,240.0 537.2,238.5 537.2,237.1 537.3,235.7 537.3,234.4 537.4,233.0 537.5,231.8 537.5,230.5 537.6,229.2 537.6,227.9 537.7,226.6 537.8,225.3 537.8,224.0 537.9,222.6 537.9,221.2 538.0,219.8 538.0,219.8 538.1,218.3 538.1,217.3 538.1,216.3 538.2,215.2 538.2,214.1 538.3,213.0 538.3,211.9 538.3,210.8 538.4,209.7 538.4,208.6 538.5,207.5 538.5,206.5 538.5,205.4 538.6,204.3 538.6,203.2 538.7,202.2 538.7,201.2 538.7,200.1 538.8,199.9 538.8,198.7 538.9,197.2 538.9,195.7 539.0,194.3 539.0,192.9 539.1,191.4 539.2,190.0 539.2,188.6 539.3,187.2 539.3,185.8 539.4,184.5 539.5,183.1 539.5,181.7 539.6,180.4 539.6,179.9 539.6,179.9 539.7,178.5 539.7,177.2 539.8,175.9 539.8,174.5 539.9,173.2 540.0,171.9 540.0,170.6 540.1,169.2 540.1,167.9 540.2,166.6 540.3,165.3 540.3,164.0 540.4,162.6 540.4,161.3 540.5,160.0 540.5,160.0 540.6,158.7 540.6,157.3 540.7,156.0 540.7,154.7 540.8,153.3 540.9,152.0 540.9,150.6 541.0,149.3 541.0,147.9 541.1,146.6 541.2,145.2 541.2,143.9 541.3,142.5 541.3,141.2 541.4,139.8 541.4,139.8 541.5,138.4 541.5,137.0 541.6,135.6 541.6,134.2 541.7,132.7 541.8,131.3 541.8,129.8 541.9,128.4 541.9,127.0 542.0,125.5 542.1,124.1 542.1,122.8 542.2,121.4 542.2,120.1 542.2,119.9 542.3,118.8 542.4,117.6 542.4,116.3 542.5,115.1 542.5,113.9 542.6,112.8 542.7,111.6 542.7,110.4 542.8,109.3 542.8,108.1 542.9,106.9 543.0,105.7 543.0,104.6 543.1,103.4 543.1,102.2 543.2,100.9 543.2,99.9 543.3,98.8 543.4,97.5 543.4,96.1 543.5,94.6 543.5,93.1 543.6,91.6 543.7,90.1 543.7,88.7 543.8,87.3 543.8,85.9 543.9,84.6 544.0,83.4 544.0,82.2 544.1,81.1 544.1,80.0 544.2,79.0 544.3,77.9 544.4,76.7 544.5,75.6 544.6,74.5 544.7,73.4 544.8,72.3 544.9,71.2 545.0,70.0 545.0,70.0 545.1,69.0 545.2,67.9 545.2,66.8 545.3,65.7 545.4,64.6 545.5,63.5 545.6,62.4 545.6,61.4 545.7,60.4 545.8,60.0 545.8,58.9 545.9,57.8 546.0,56.6 546.1,55.5 546.2,54.4 546.3,53.3 546.4,52.3 546.6,51.2 546.7,50.2 546.7,50.0 546.7,50.0 546.8,48.9 547.0,47.9 547.1,46.8 547.3,45.8 547.5,44.7 547.7,43.6 547.9,42.6 547.9,42.6 548.2,41.6 548.5,40.6 548.9,39.7 549.1,39.5 549.7,40.3 550.0,41.3 550.3,42.3 550.4,42.6 550.4,42.6 550.6,43.6 550.8,44.7 551.0,45.8 551.2,46.8 551.3,47.9 551.5,48.9 551.6,50.0 551.6,50.0 551.7,51.0 551.8,52.1 552.0,53.3 552.1,54.4 552.2,55.5 552.3,56.6 552.4,57.8 552.5,58.9 552.5,60.0 552.6,61.1 552.7,62.1 552.8,63.2 552.9,64.3 553.0,65.4 553.0,66.5 553.1,67.6 553.2,68.7 553.3,69.7 553.3,70.0 553.3,70.0 553.4,71.2 553.5,72.3 553.6,73.4 553.7,74.5 553.8,75.6 553.9,76.7 554.0,77.9 554.1,79.0 554.1,80.0 554.2,81.1 554.3,82.2 554.3,83.4 554.4,84.6 554.5,85.9 554.5,87.3 554.6,88.7 554.6,90.1 554.7,91.6 554.8,93.1 554.8,94.6 554.9,96.1 554.9,97.5 555.0,98.8 555.0,99.9 555.1,100.9 555.2,102.2 555.2,103.4 555.3,104.6 555.3,105.7 555.4,106.9 555.5,108.1 555.5,109.3 555.6,110.4 555.6,111.6 555.7,112.8 555.8,113.9 555.8,115.1 555.9,116.3 555.9,117.6 556.0,118.8 556.0,119.9 556.1,121.0 556.2,122.3 556.2,123.7 556.3,125.1 556.3,126.5 556.4,127.9 556.5,129.3 556.5,130.8 556.6,132.2 556.6,133.7 556.7,135.1 556.8,136.5 556.8,138.0 556.9,139.3 556.9,139.8 556.9,139.8 557.0,141.2 557.0,142.5 557.1,143.9 557.1,145.2 557.2,146.6 557.3,147.9 557.3,149.3 557.4,150.6 557.4,152.0 557.5,153.3 557.6,154.7 557.6,156.0 557.7,157.3 557.7,158.7 557.8,160.0 557.8,160.0 557.9,161.3 557.9,162.6 558.0,164.0 558.0,165.3 558.1,166.6 558.2,167.9 558.2,169.2 558.3,170.6 558.3,171.9 558.4,173.2 558.5,174.5 558.5,175.9 558.6,177.2 558.6,178.5 558.7,179.9 558.7,179.9 558.8,181.3 558.8,182.6 558.9,184.0 558.9,185.4 559.0,186.8 559.1,188.2 559.1,189.6 559.2,191.0 559.2,192.4 559.3,193.8 559.4,195.2 559.4,196.7 559.5,198.2 559.5,199.7 559.5,199.9 559.6,201.2 559.6,202.2 559.7,203.2 559.7,204.3 559.8,205.4 559.8,206.5 559.8,207.5 559.9,208.6 559.9,209.7 560.0,210.8 560.0,211.9 560.0,213.0 560.1,214.1 560.1,215.2 560.2,216.3 560.2,217.3 560.2,218.3 560.3,219.8 560.3,219.8 560.4,221.2 560.4,222.6 560.5,224.0 560.5,225.3 560.6,226.6 560.7,227.9 560.7,229.2 560.8,230.5 560.8,231.8 560.9,233.0 561.0,234.4 561.0,235.7 561.1,237.1 561.1,238.5 561.2,240.0 561.2,240.0 561.2,241.0 561.3,242.1 561.3,243.1 561.4,244.2 561.4,245.3 561.4,246.5 561.5,247.6 561.5,248.8 561.6,249.9 561.6,251.1 561.6,252.3 561.7,253.5 561.7,254.7 561.8,255.8 561.8,257.0 561.8,258.2 561.9,259.3 561.9,259.9 561.9,259.9 561.9,261.0 562.0,262.2 562.0,263.3 562.1,264.5 562.1,265.7 562.1,266.8 562.2,268.0 562.2,269.2 562.3,270.3 562.3,271.5 562.3,272.7 562.4,273.8 562.4,275.0 562.5,276.1 562.5,277.2 562.5,278.3 562.6,279.4 562.6,279.9 562.6,279.9 562.6,280.9 562.7,282.0 562.7,283.0 562.8,284.1 562.8,285.1 562.8,286.2 562.9,287.2 562.9,288.2 563.0,289.3 563.0,290.3 563.0,291.3 563.1,292.3 563.1,293.8 563.2,295.2 563.3,296.6 563.3,298.0 563.4,299.4 563.4,299.8 563.4,299.8 563.5,301.1 563.5,302.5 563.6,304.0 563.6,305.5 563.7,306.5 563.7,307.5 563.8,308.6 563.8,309.6 563.8,310.6 563.9,311.7 563.9,312.7 564.0,314.2 564.0,315.6 564.1,316.9 564.2,318.1 564.2,319.2 564.3,320.4 564.4,321.4 564.5,321.8 564.5,321.8 564.8,320.8 565.0,319.7 565.1,318.6 565.2,317.6 565.3,316.5 565.4,315.3 565.5,314.1 565.6,313.1 565.7,312.0 565.8,310.9 565.8,309.8 565.9,308.7 566.0,307.5 566.1,306.4 566.2,305.3 566.2,304.2 566.3,303.0 566.4,301.9 566.5,300.9 566.6,299.8 566.6,298.7 566.7,297.7 566.8,296.7 566.9,295.5 567.0,294.3 567.1,293.2 567.2,292.2 567.3,291.2 567.4,290.1 567.5,289.1 567.7,288.0 567.8,286.9 568.0,285.9 568.4,285.0 568.5,284.9 568.5,284.9 568.9,285.8 569.1,286.8 569.2,287.8 569.3,288.9 569.4,290.1 569.5,291.2 569.6,292.3 569.7,293.4 569.8,294.5 569.9,295.6 570.0,296.8 570.0,298.1 570.1,299.4 570.2,300.5 570.2,301.5 570.3,302.6 570.4,303.7 570.4,304.9 570.5,306.1 570.5,307.3 570.6,308.6 570.7,309.9 570.7,311.2 570.8,312.5 570.8,313.9 570.9,315.3 571.0,316.7 571.0,318.2 571.1,319.6 571.1,321.1 571.2,322.1 571.2,323.1 571.3,324.2 571.3,325.2 571.3,326.2 571.4,327.3 571.4,328.3 571.5,329.4 571.5,330.4 571.5,331.5 571.6,332.5 571.6,333.6 571.7,334.6 571.7,335.7 571.7,336.7 571.8,337.8 571.8,338.8 571.9,339.9 571.9,340.9 571.9,341.9 572.0,343.4 572.1,344.8 572.1,346.2 572.2,347.6 572.2,348.9 572.3,350.1 572.4,351.2 572.4,352.3 572.5,353.6 572.6,354.7 572.7,355.7 572.9,356.7 572.9,356.7 572.9,356.7 573.2,355.7 573.3,354.6 573.4,353.4 573.5,352.3 573.5,351.1 573.6,349.7 573.7,348.7 573.7,347.6 573.8,346.4 573.9,345.2 573.9,344.0 574.0,342.8 574.0,341.5 574.1,340.2 574.2,338.9 574.2,337.5 574.3,336.2 574.3,334.9 574.4,333.5 574.5,332.2 574.5,330.8 574.6,329.5 574.6,328.2 574.7,326.9 574.8,325.6 574.8,324.3 574.9,323.0 574.9,321.7 575.0,320.4 575.1,319.2 575.1,318.0 575.2,316.8 575.2,315.6 575.3,314.4 575.4,313.3 575.4,312.2 575.5,311.1 575.5,310.0 575.6,308.9 575.7,307.9 575.7,306.9 575.8,305.6 575.9,304.3 576.0,303.1 576.0,301.9 576.1,300.8 576.2,299.7 576.3,298.7 576.4,297.5 576.5,296.3 576.6,295.2 576.7,294.2 576.8,293.1 576.9,292.1 577.1,291.1 577.2,290.0 577.5,289.0 577.8,288.5 577.8,288.5 578.1,289.5 578.2,290.7 578.3,291.8 578.4,292.9 578.5,294.0 578.6,295.1 578.7,296.2 578.7,297.4 578.8,298.5 578.9,299.6 579.0,300.7 579.0,301.0 579.0,301.0 579.1,302.1 579.2,303.4 579.2,304.5 579.3,305.6 579.3,306.8 579.4,308.0 579.5,309.3 579.5,310.5 579.6,311.7 579.6,312.9 579.7,314.1 579.8,315.1 579.8,316.3 579.9,317.5 580.0,318.0 580.0,318.0 580.2,319.0 580.4,320.0 580.6,321.0 580.9,322.0 581.3,323.0 581.6,323.9 581.8,324.5 581.8,324.5 582.1,325.5 582.6,326.4 583.0,327.3 583.4,328.2 583.6,329.2 583.9,330.2 584.0,331.0 584.0,331.0 584.1,332.2 584.2,333.4 584.3,334.5 584.3,335.8 584.4,337.3 584.4,338.3 584.5,339.4 584.5,340.6 584.5,341.8 584.6,343.1 584.6,344.4 584.7,345.7 584.7,347.0 584.7,348.4 584.8,349.8 584.8,351.2 584.9,352.6 584.9,353.9 584.9,355.3 585.0,356.5 585.0,357.8 585.1,358.9 585.1,360.0 585.1,360.0 585.1,361.0 585.2,362.1 585.2,363.2 585.3,364.3 585.3,365.5 585.3,366.7 585.4,367.9 585.4,369.1 585.5,370.4 585.5,371.7 585.5,373.0 585.6,374.4 585.6,375.8 585.7,377.2 585.7,378.6 585.7,380.1 585.8,381.6 585.8,383.1 585.9,384.7 585.9,386.3 585.9,387.9 586.0,389.5 586.0,391.2 586.1,392.9 586.1,394.6 586.1,396.4 586.2,398.2 586.2,400.0 586.3,401.8 586.3,403.6 586.3,405.5 586.4,407.3 586.4,409.2 586.5,411.1 586.5,413.0 586.5,414.9 586.6,416.8 586.6,418.7 586.7,420.6 586.7,422.4 586.7,424.3 586.8,426.1 586.8,427.8 586.9,429.5 586.9,431.2 586.9,432.8 587.0,434.3 587.0,435.7 587.1,437.0 587.1,438.2 587.1,439.3 587.2,440.7 587.3,441.8 587.4,442.9 587.4,442.9 587.4,442.9 587.5,441.6 587.6,440.0 587.6,438.7 587.7,437.1 587.7,435.3 587.7,433.4 587.8,432.3 587.8,431.3 587.8,430.2 587.8,429.0 587.8,427.9 587.9,426.7 587.9,425.5 587.9,424.3 587.9,423.0 587.9,421.7 588.0,420.5 588.0,419.2 588.0,417.9 588.0,416.6 588.0,415.2 588.1,413.9 588.1,412.6 588.1,411.2 588.1,409.9 588.1,408.6 588.2,407.2 588.2,405.9 588.2,404.5 588.2,403.2 588.2,401.9 588.3,400.6 588.3,399.2 588.3,397.9 588.3,396.6 588.3,395.3 588.4,394.0 588.4,392.7 588.4,391.4 588.4,390.1 588.4,388.9 588.5,387.6 588.5,386.4 588.5,385.1 588.5,383.9 588.5,382.7 588.6,381.4 588.6,380.2 588.6,379.0 588.6,377.9 588.6,376.7 588.7,375.5 588.7,374.4 588.7,373.2 588.7,372.1 588.7,371.0 588.8,369.8 588.8,368.7 588.8,367.6 588.8,366.6 588.8,365.5 588.9,364.4 588.9,363.4 588.9,362.3 588.9,361.3 588.9,360.2 589.0,359.2 589.0,358.2 589.0,356.2 589.1,354.3 589.1,352.4 589.1,350.5 589.2,348.7 589.2,346.9 589.3,345.1 589.3,343.4 589.3,341.7 589.4,340.1 589.4,338.4 589.5,336.8 589.5,335.3 589.5,333.8 589.6,332.3 589.6,330.8 589.7,329.3 589.7,327.9 589.7,326.6 589.8,325.2 589.8,323.9 589.9,322.6 589.9,321.3 589.9,320.1 590.0,318.8 590.0,317.6 590.1,316.5 590.1,315.3 590.1,314.2 590.2,313.1 590.2,312.0 590.3,311.0 590.3,309.9 590.3,308.9 590.4,307.5 590.5,306.1 590.5,304.7 590.6,303.4 590.6,302.1 590.7,300.8 590.8,299.7 590.8,298.5 590.9,297.4 590.9,296.4 591.0,295.3 591.1,294.1 591.2,292.8 591.2,291.7 591.3,290.6 591.4,289.4 591.5,288.3 591.6,287.3 591.7,286.2 591.9,285.2 592.1,284.2 592.4,283.5 592.4,283.5 593.0,284.3 593.2,285.3 593.5,286.3 593.6,287.3 593.8,288.4 593.9,289.4 594.1,290.4 594.2,291.4 594.3,292.5 594.4,293.6 594.6,294.8 594.7,295.9 594.8,297.0 594.9,298.1 595.0,299.3 595.1,300.6 595.1,301.6 595.2,302.7 595.3,303.8 595.4,304.9 595.5,306.1 595.5,307.3 595.6,308.5 595.7,309.8 595.8,311.1 595.8,312.1 595.9,313.1 596.0,314.2 596.0,315.3 596.1,316.4 596.1,317.5 596.2,318.6 596.3,319.8 596.3,321.0 596.4,322.2 596.4,323.4 596.5,324.7 596.6,326.0 596.6,327.3 596.7,328.6 596.7,330.0 596.8,331.4 596.9,332.8 596.9,334.3 597.0,335.8 597.0,336.8 597.1,337.8 597.1,338.9 597.1,339.9 597.2,341.0 597.2,342.1 597.3,343.2 597.3,344.3 597.3,345.4 597.4,346.5 597.4,347.7 597.5,348.9 597.5,350.1 597.5,351.3 597.6,352.5 597.6,353.7 597.7,355.0 597.7,356.3 597.7,357.5 597.8,358.9 597.8,360.2 597.9,361.5 597.9,362.9 597.9,364.3 598.0,365.7 598.0,367.1 598.1,368.6 598.1,370.0 598.1,371.5 598.2,373.0 598.2,374.5 598.3,376.1 598.3,377.7 598.3,379.3 598.4,380.9 598.4,382.5 598.5,384.2 598.5,385.9 598.5,387.6 598.6,389.3 598.6,391.0 598.7,392.8 598.7,394.6 598.7,396.4 598.8,398.3 598.8,400.1 598.9,402.0 598.9,403.9 598.9,405.9 599.0,407.8 599.0,409.8 599.1,411.8 599.1,412.8 599.1,413.8 599.1,414.8 599.1,415.8 599.2,416.8 599.2,417.9 599.2,418.9 599.2,419.9 599.2,421.0 599.3,422.0 599.3,423.0 599.3,424.1 599.3,425.1 599.3,426.2 599.4,427.2 599.4,428.2 599.4,429.3 599.4,430.3 599.4,431.4 599.5,432.4 599.5,433.5 599.5,434.5 599.5,435.6 599.5,436.6 599.6,437.6 599.6,438.7 599.6,439.7 599.6,440.7 599.6,441.7 599.7,442.7 599.7,444.7 599.7,446.7 599.8,448.6 599.8,450.4 599.9,452.2 599.9,453.9 599.9,455.6 600.0,457.1 600.0,458.6 600.1,460.0 600.1,461.2 600.1,462.3 600.2,463.7 600.3,464.8 600.4,465.8 600.4,465.8 600.4,465.8 600.7,464.8 600.8,463.7 600.9,462.6 601.0,461.6 601.1,460.5 601.1,459.3 601.2,457.9 601.3,456.9 601.3,455.8 601.4,454.7 601.5,453.5 601.5,452.3 601.6,451.1 601.6,449.9 601.7,448.7 601.8,447.4 601.8,446.1 601.9,444.9 601.9,443.6 602.0,442.3 602.1,441.0 602.1,439.7 602.2,438.4 602.2,437.1 602.3,435.9 602.4,434.6 602.4,433.3 602.5,432.1 602.5,430.8 602.6,429.6 602.7,428.4 602.7,427.2 602.8,426.0 602.8,424.8 602.9,423.7 603.0,422.5 603.0,421.4 603.1,420.3 603.1,419.2 603.2,418.1 603.3,417.1 603.3,416.0 603.4,415.0 603.5,413.7 603.5,412.4 603.6,411.2 603.7,410.0 603.8,408.8 603.9,407.6 603.9,406.5 604.0,405.4 604.1,404.4 604.2,403.2 604.3,402.0 604.4,400.9 604.5,399.8 604.6,398.8 604.7,397.7 604.8,397.0 604.8,397.0 604.9,395.9 605.1,394.8 605.2,393.8 605.4,392.7 605.6,391.6 605.8,390.6 605.9,389.4 606.1,388.4 606.3,387.3 606.4,386.3 606.5,385.2 606.7,384.2 606.8,383.2 606.8,383.0 606.8,383.0 606.9,381.8 607.0,380.8 607.1,379.6 607.2,378.4 607.3,377.4 607.4,376.4 607.5,375.3 607.5,374.2 607.6,373.1 607.7,371.9 607.8,370.8 607.9,369.6 607.9,368.4 608.0,367.1 608.1,365.9 608.2,364.7 608.3,363.4 608.3,362.2 608.4,360.9 608.5,359.7 608.6,358.4 608.7,357.2 608.7,355.9 608.8,355.0 608.8,355.0 608.9,353.7 608.9,352.7 609.0,351.6 609.1,350.5 609.1,349.4 609.2,348.2 609.2,347.0 609.3,345.8 609.4,344.6 609.4,343.4 609.5,342.1 609.5,340.9 609.6,339.6 609.7,338.4 609.7,337.1 609.8,335.9 609.8,334.6 609.9,333.4 610.0,332.2 610.0,331.0 610.1,329.8 610.1,328.6 610.2,327.4 610.3,326.3 610.3,325.1 610.4,324.0 610.4,323.0 610.5,321.9 610.6,320.8 610.6,319.8 610.7,318.5 610.8,317.2 610.9,316.0 610.9,314.8 611.0,313.6 611.1,312.5 611.2,311.5 611.3,310.5 611.3,310.0 611.3,310.0 611.4,308.8 611.5,307.6 611.6,306.6 611.7,305.6 611.7,304.6 611.8,303.5 611.9,302.5 612.0,301.5 612.1,300.5 612.2,299.3 612.3,298.0 612.4,296.8 612.5,295.7 612.6,294.5 612.7,293.4 612.8,292.3 612.9,291.2 613.0,290.2 613.1,289.0 613.2,287.9 613.3,286.8 613.4,285.8 613.6,284.7 613.7,283.6 613.9,282.5 614.1,281.5 614.4,280.5 614.8,279.9 614.8,279.9 615.4,280.7 615.6,281.7 615.9,282.7 616.0,283.7 616.2,284.8 616.4,285.9 616.5,287.0 616.6,288.0 616.7,289.1 616.9,290.2 617.0,291.2 617.1,292.2 617.2,293.3 617.3,294.5 617.4,295.7 617.5,296.9 617.5,297.9 617.6,299.0 617.7,300.1 617.8,301.2 617.9,302.4 617.9,303.6 618.0,304.8 618.1,306.1 618.2,307.4 618.2,308.4 618.3,309.4 618.4,310.5 618.4,311.5 618.5,312.6 618.5,313.7 618.6,314.9 618.7,316.0 618.7,317.2 618.8,318.4 618.8,319.7 618.9,320.9 619.0,322.2 619.0,323.5 619.1,324.9 619.1,326.2 619.2,327.6 619.3,329.0 619.3,330.5 619.4,332.0 619.4,333.0 619.5,334.0 619.5,335.0 619.5,336.1 619.6,337.1 619.6,338.2 619.7,339.3 619.7,340.4 619.7,341.5 619.8,342.6 619.8,343.8 619.9,344.9 619.9,346.1 619.9,347.3 620.0,348.5 620.0,349.8 620.1,351.0 620.1,352.3 620.1,353.5 620.2,354.8 620.2,356.2 620.3,357.5 620.3,358.8 620.3,360.2 620.4,361.6 620.4,363.0 620.5,364.4 620.5,365.9 620.5,367.4 620.6,368.8 620.6,370.4 620.7,371.9 620.7,373.4 620.7,375.0 620.8,376.6 620.8,378.2 620.9,379.9 620.9,381.5 620.9,383.2 621.0,384.9 621.0,386.6 621.1,388.4 621.1,390.1 621.1,391.9 621.2,393.7 621.2,395.6 621.3,397.4 621.3,399.3 621.3,401.2 621.4,403.1 621.4,405.0 621.5,407.0 621.5,408.9 621.5,410.9 621.6,412.9 621.6,413.9 621.6,414.9 621.6,415.9 621.7,416.9 621.7,417.9 621.7,418.9 621.7,419.9 621.7,420.9 621.8,422.0 621.8,423.0 621.8,424.0 621.8,425.0 621.8,426.0 621.9,427.0 621.9,428.0 621.9,429.1 621.9,430.1 621.9,431.1 622.0,433.1 622.0,435.0 622.1,437.0 622.1,438.9 622.1,440.8 622.2,442.6 622.2,444.4 622.3,446.1 622.3,447.7 622.3,449.3 622.4,450.8 622.4,452.2 622.5,453.5 622.5,454.6 622.5,455.7 622.6,457.0 622.7,458.0 622.8,459.0 622.8,459.0 622.9,457.8 623.0,456.3 623.0,455.0 623.1,453.5 623.1,451.8 623.1,450.0 623.2,448.0 623.2,446.9 623.2,445.9 623.2,444.8 623.3,443.6 623.3,442.5 623.3,441.3 623.3,440.1 623.3,438.9 623.4,437.7 623.4,436.5 623.4,435.2 623.4,434.0 623.4,432.7 623.5,431.5 623.5,430.2 623.5,428.9 623.5,427.6 623.5,426.4 623.6,425.1 623.6,423.8 623.6,422.5 623.6,421.2 623.6,420.0 623.7,418.7 623.7,417.4 623.7,416.2 623.7,414.9 623.7,413.6 623.8,412.4 623.8,411.2 623.8,409.9 623.8,408.7 623.8,407.5 623.9,406.3 623.9,405.1 623.9,403.9 623.9,402.7 623.9,401.5 624.0,400.4 624.0,399.2 624.0,398.1 624.0,396.9 624.0,395.8 624.1,394.7 624.1,393.6 624.1,392.5 624.1,391.4 624.1,390.3 624.2,389.2 624.2,388.2 624.2,387.1 624.2,386.1 624.2,385.0 624.3,384.0 624.3,383.0 624.3,382.0 624.3,380.0 624.4,378.1 624.4,376.2 624.5,374.3 624.5,372.5 624.5,370.7 624.6,369.0 624.6,367.3 624.7,365.6 624.7,364.0 624.7,362.3 624.8,360.8 624.8,359.2 624.9,357.7 624.9,356.2 624.9,354.8 625.0,353.4 625.0,352.0 625.1,350.7 625.1,349.3 625.1,348.0 625.2,346.8 625.2,345.5 625.3,344.3 625.3,343.2 625.3,342.0 625.4,340.9 625.4,339.8 625.5,338.7 625.5,337.6 625.5,336.6 625.6,335.1 625.7,333.7 625.7,332.3 625.8,331.0 625.8,329.7 625.9,328.5 626.0,327.3 626.0,326.2 626.1,325.2 626.1,324.1 626.2,322.9 626.3,321.7 626.4,320.6 626.5,319.6 626.6,318.4 626.7,317.4 626.8,316.4 626.9,315.3 627.2,314.4 627.3,314.3 627.3,314.3 627.7,315.2 627.9,316.2 628.0,317.3 628.1,318.3 628.2,319.3 628.3,320.5 628.4,321.7 628.5,322.7 628.6,323.8 628.7,325.0 628.7,326.3 628.8,327.6 628.9,328.7 628.9,329.7 629.0,330.8 629.1,332.0 629.1,333.2 629.2,334.4 629.2,335.7 629.3,337.0 629.4,338.4 629.4,339.8 629.5,341.2 629.5,342.7 629.6,343.7 629.6,344.7 629.7,345.8 629.7,346.8 629.7,347.9 629.8,349.0 629.8,350.2 629.9,351.3 629.9,352.5 629.9,353.7 630.0,354.9 630.0,356.1 630.1,357.3 630.1,358.6 630.1,359.9 630.2,361.2 630.2,362.5 630.3,363.8 630.3,365.2 630.3,366.5 630.4,367.9 630.4,369.4 630.5,370.8 630.5,372.2 630.5,373.7 630.6,375.2 630.6,376.7 630.7,378.2 630.7,379.7 630.7,381.2 630.8,382.8 630.8,384.3 630.9,385.9 630.9,387.5 630.9,389.1 631.0,390.7 631.0,392.2 631.1,393.8 631.1,395.4 631.1,397.0 631.2,398.6 631.2,400.1 631.3,401.7 631.3,403.2 631.3,404.7 631.4,406.2 631.4,407.6 631.5,409.0 631.5,410.4 631.5,411.7 631.6,413.0 631.6,414.2 631.7,415.3 631.7,416.4 631.8,417.9 631.8,419.1 631.9,420.2 632.0,421.3 632.1,422.0 632.1,422.0 632.3,420.9 632.4,419.9 632.5,418.8 632.6,417.6 632.7,416.6 632.7,415.6 632.8,414.4 632.8,413.2 632.9,412.0 633.0,410.7 633.0,409.4 633.1,408.0 633.1,406.6 633.2,405.2 633.3,403.8 633.3,402.4 633.4,401.0 633.4,399.6 633.5,398.2 633.6,396.8 633.6,395.4 633.7,394.0 633.7,392.7 633.8,391.3 633.9,390.0 633.9,388.7 634.0,387.5 634.0,386.2 634.1,385.0 634.2,383.9 634.2,382.7 634.3,381.6 634.3,380.5 634.4,379.5 634.5,378.5 634.5,377.2 634.6,375.9 634.7,374.8 634.8,373.7 634.9,372.6 635.0,371.5 635.1,370.4 635.2,369.3 635.3,368.2 635.5,367.2 635.8,366.5 635.8,366.5 636.1,367.4 636.3,368.5 636.4,369.5 636.5,370.7 636.6,371.8 636.7,372.8 636.8,373.9 636.9,375.1 637.0,376.4 637.0,377.4 637.1,378.5 637.1,379.6 637.2,380.7 637.3,381.9 637.3,383.1 637.4,384.4 637.4,385.8 637.5,387.1 637.6,388.6 637.6,390.1 637.7,391.1 637.7,392.1 637.7,393.1 637.8,394.2 637.8,395.3 637.9,396.4 637.9,397.6 637.9,398.7 638.0,399.9 638.0,401.1 638.1,402.3 638.1,403.5 638.1,404.8 638.2,406.1 638.2,407.4 638.3,408.7 638.3,410.0 638.3,411.3 638.4,412.7 638.4,414.1 638.5,415.5 638.5,416.9 638.5,418.3 638.6,419.7 638.6,421.2 638.7,422.7 638.7,424.1 638.7,425.6 638.8,427.1 638.8,428.6 638.9,430.0 638.9,431.5 638.9,433.0 639.0,434.5 639.0,435.9 639.1,437.4 639.1,438.8 639.1,440.2 639.2,441.6 639.2,442.9 639.3,444.3 639.3,445.6 639.3,446.8 639.4,448.0 639.4,449.1 639.5,450.2 639.5,451.2 639.6,452.6 639.6,453.8 639.7,454.8 639.8,456.0 639.9,456.5 639.9,456.5 640.2,455.5 640.4,454.4 640.5,453.3 640.7,452.2 640.8,451.0 640.9,450.0 641.0,448.9 641.1,447.9 641.2,446.9 641.3,445.7 641.4,444.6 641.5,443.5 641.7,442.4 641.8,441.4 642.1,440.4 642.3,440.0 642.3,440.0 642.6,441.0 642.7,442.1 642.8,443.2 642.9,444.2 643.0,445.4 643.0,446.7 643.1,447.7 643.2,448.9 643.2,450.0 643.3,451.3 643.3,452.6 643.4,454.0 643.5,455.4 643.5,456.9 643.6,457.9 643.6,458.9 643.6,460.0 643.7,461.0 643.7,462.1 643.8,463.2 643.8,464.4 643.8,465.5 643.9,466.6 643.9,467.8 644.0,469.0 644.0,470.1 644.0,471.3 644.1,472.5 644.1,473.6 644.2,474.8 644.2,476.0 644.2,477.1 644.3,478.2 644.3,479.4 644.4,480.5 644.4,481.5 644.4,482.5 644.5,484.0 644.6,485.4 644.6,486.7 644.7,487.8 644.8,489.1 644.9,490.2 645.0,490.8 645.0,490.8 645.2,489.6 645.2,488.5 645.3,487.2 645.3,486.2 645.4,485.0 645.4,483.8 645.4,482.5 645.5,481.1 645.5,479.6 645.6,478.1 645.6,476.6 645.6,474.9 645.7,473.3 645.7,471.6 645.8,469.9 645.8,468.1 645.8,466.4 645.9,464.6 645.9,462.8 646.0,461.1 646.0,459.3 646.0,457.5 646.1,455.8 646.1,454.0 646.2,452.3 646.2,450.6 646.2,448.9 646.3,447.2 646.3,445.5 646.4,443.8 646.4,442.2 646.4,440.6 646.5,439.0 646.5,437.5 646.6,435.9 646.6,434.4 646.6,432.9 646.7,431.5 646.7,430.0 646.8,428.6 646.8,427.2 646.8,425.8 646.9,424.5 646.9,423.2 647.0,421.9 647.0,420.7 647.0,419.4 647.1,418.2 647.1,417.0 647.2,415.9 647.2,414.7 647.2,413.6 647.3,412.5 647.3,411.5 647.4,410.5 647.4,409.5 647.5,408.0 647.5,406.6 647.6,405.2 647.6,403.9 647.7,402.7 647.8,401.5 647.8,400.3 647.9,399.3 647.9,398.2 648.0,396.9 648.1,395.7 648.2,394.6 648.3,393.6 648.4,392.5 648.5,391.3 648.6,390.3 648.8,389.2 649.0,389.0 649.0,389.0 649.3,389.9 649.5,391.0 649.6,392.0 649.7,393.0 649.8,394.2 649.9,395.2 650.0,396.2 650.1,397.4 650.1,398.6 650.2,399.9 650.3,401.0 650.3,402.1 650.4,403.2 650.5,404.3 650.5,405.5 650.6,406.8 650.6,408.0 650.7,409.4 650.8,410.7 650.8,412.1 650.9,413.5 650.9,415.0 651.0,416.4 651.0,417.4 651.1,418.5 651.1,419.5 651.2,420.5 651.2,421.6 651.2,422.6 651.3,423.7 651.3,424.8 651.4,425.8 651.4,426.9 651.4,428.0 651.5,429.1 651.5,430.2 651.6,431.3 651.6,432.4 651.6,433.5 651.7,434.6 651.7,435.6 651.8,436.7 651.8,437.8 651.8,438.8 651.9,439.8 651.9,440.8 652.0,442.3 652.0,443.7 652.1,445.1 652.2,446.4 652.2,447.5 652.3,448.6 652.4,449.9 652.4,450.9 652.6,452.0 652.7,452.5 652.7,452.5 652.9,451.4 652.9,450.0 653.0,448.7 653.0,447.7 653.1,446.6 653.1,445.4 653.2,444.1 653.2,442.8 653.2,441.4 653.3,439.9 653.3,438.4 653.4,436.8 653.4,435.2 653.4,433.6 653.5,431.9 653.5,430.3 653.6,428.6 653.6,426.9 653.6,425.2 653.7,423.5 653.7,421.7 653.8,420.0 653.8,418.3 653.8,416.6 653.9,414.9 653.9,413.2 654.0,411.6 654.0,409.9 654.0,408.3 654.1,406.7 654.1,405.1 654.2,403.5 654.2,401.9 654.2,400.4 654.3,398.9 654.3,397.4 654.4,395.9 654.4,394.4 654.4,393.0 654.5,391.6 654.5,390.2 654.6,388.8 654.6,387.5 654.6,386.2 654.7,384.9 654.7,383.6 654.8,382.4 654.8,381.1 654.8,379.9 654.9,378.8 654.9,377.6 655.0,376.5 655.0,375.4 655.0,374.3 655.1,373.2 655.1,372.2 655.2,371.2 655.2,369.7 655.3,368.2 655.3,366.9 655.4,365.5 655.5,364.2 655.5,363.0 655.6,361.8 655.6,360.6 655.7,359.5 655.8,358.5 655.8,357.5 655.9,356.2 656.0,355.0 656.1,353.9 656.1,352.9 656.2,351.8 656.3,350.8 656.5,349.7 656.6,348.6 656.9,347.6 657.0,347.5 657.0,347.5 657.3,348.5 657.5,349.6 657.6,350.6 657.7,351.7 657.8,352.9 657.9,354.0 658.0,355.1 658.1,356.4 658.1,357.4 658.2,358.5 658.2,359.6 658.3,360.8 658.4,362.0 658.4,363.3 658.5,364.6 658.5,366.0 658.6,367.5 658.6,368.5 658.7,369.6 658.7,370.7 658.8,371.8 658.8,372.9 658.8,374.0 658.9,375.2 658.9,376.5 659.0,377.7 659.0,379.0 659.0,380.3 659.1,381.7 659.1,383.1 659.2,384.5 659.2,386.0 659.2,387.5 659.3,389.0 659.3,390.6 659.4,392.2 659.4,393.9 659.4,395.6 659.5,397.3 659.5,399.1 659.6,400.9 659.6,402.8 659.6,404.7 659.7,406.7 659.7,407.7 659.7,408.8 659.7,409.8 659.8,410.9 659.8,411.9 659.8,413.0 659.8,414.1 659.8,415.2 659.9,416.3 659.9,417.5 659.9,418.6 659.9,419.8 659.9,421.0 660.0,422.2 660.0,423.4 660.0,424.7 660.0,425.9 660.0,427.2 660.1,428.5 660.1,429.8 660.1,431.1 660.1,432.5 660.1,433.8 660.2,435.2 660.2,436.6 660.2,438.0 660.2,439.5 660.2,441.0 660.3,442.5 660.3,444.0 660.3,445.5 660.3,447.1 660.3,448.6 660.4,450.2 660.4,451.9 660.4,453.5 660.4,455.2 660.4,456.9 660.5,458.7 660.5,460.4 660.5,462.2 660.5,464.0 660.5,465.9 660.6,467.7 660.6,469.6 660.6,471.6 660.6,473.5 660.6,475.5 660.7,477.5 660.7,479.6 660.7,481.7 660.7,483.8 660.7,485.9 660.8,488.1 660.8,490.3 660.8,492.6 660.8,494.9 660.8,497.2 660.9,499.5 660.9,501.9 660.9,504.3 660.9,506.7 660.9,509.1 661.0,511.6 661.0,514.1 661.0,516.6 661.0,519.1 661.0,521.7 661.1,524.2 661.1,526.8 661.1,529.4 661.1,531.9 661.1,534.5 661.2,537.0 661.2,539.4 661.2,541.9 661.2,544.3 661.2,546.6 661.3,548.8 661.3,551.0 661.3,553.0 661.3,554.9 661.3,556.7 661.4,558.3 661.4,559.8 661.4,561.0 661.4,562.1 661.5,563.5 661.5,564.0 661.5,564.0 661.6,562.6 661.6,561.5 661.6,560.2 661.6,558.6 661.6,556.7 661.7,554.7 661.7,552.5 661.7,550.1 661.7,547.6 661.7,545.0 661.8,542.2 661.8,539.5 661.8,536.6 661.8,533.7 661.8,530.8 661.9,527.8 661.9,524.9 661.9,521.9 661.9,519.0 661.9,516.1 662.0,513.2 662.0,510.3 662.0,507.5 662.0,504.6 662.0,501.9 662.1,499.1 662.1,496.4 662.1,493.8 662.1,491.1 662.1,488.5 662.2,486.0 662.2,483.5 662.2,481.0 662.2,478.6 662.2,476.2 662.3,473.9 662.3,471.6 662.3,469.3 662.3,467.1 662.3,464.9 662.4,462.7 662.4,460.6 662.4,458.5 662.4,456.5 662.4,454.5 662.5,452.5 662.5,450.6 662.5,448.6 662.5,446.8 662.5,444.9 662.6,443.1 662.6,441.3 662.6,439.5 662.6,437.8 662.6,436.1 662.7,434.4 662.7,432.8 662.7,431.1 662.7,429.5 662.7,428.0 662.8,426.4 662.8,424.9 662.8,423.4 662.8,421.9 662.8,420.4 662.9,419.0 662.9,417.6 662.9,416.2 662.9,414.8 662.9,413.4 663.0,412.1 663.0,410.7 663.0,409.4 663.0,408.2 663.0,406.9 663.1,405.6 663.1,404.4 663.1,403.2 663.1,402.0 663.1,400.8 663.2,399.6 663.2,398.5 663.2,397.4 663.2,396.2 663.2,395.1 663.3,394.0 663.3,393.0 663.3,391.9 663.3,390.8 663.3,389.8 663.4,388.8 663.4,387.8 663.4,385.8 663.5,383.9 663.5,382.0 663.5,380.1 663.6,378.3 663.6,376.6 663.7,374.9 663.7,373.2 663.7,371.6 663.8,370.0 663.8,368.5 663.9,366.9 663.9,365.5 663.9,364.0 664.0,362.6 664.0,361.2 664.1,359.9 664.1,358.6 664.1,357.3 664.2,356.1 664.2,354.9 664.3,353.7 664.3,352.5 664.3,351.4 664.4,350.3 664.4,349.2 664.5,348.1 664.5,347.1 664.6,345.6 664.6,344.2 664.7,342.8 664.7,341.5 664.8,340.2 664.9,339.0 664.9,337.9 665.0,336.8 665.0,335.7 665.1,334.7 665.2,333.4 665.3,332.2 665.3,331.1 665.4,330.1 665.5,329.0 665.6,327.9 665.7,326.9 665.9,325.8 666.1,324.8 666.3,324.6 666.3,324.6 666.8,325.4 667.1,326.4 667.3,327.5 667.5,328.6 667.6,329.6 667.7,330.7 667.9,331.7 668.0,332.8 668.1,334.0 668.2,335.1 668.3,336.2 668.4,337.3 668.5,338.5 668.6,339.6 668.7,340.6 668.7,341.7 668.8,342.8 668.9,344.0 669.0,345.2 669.1,346.5 669.1,347.7 669.2,349.1 669.3,350.1 669.3,351.1 669.4,352.2 669.5,353.3 669.5,354.4 669.6,355.6 669.6,356.8 669.7,358.0 669.8,359.2 669.8,360.5 669.9,361.8 669.9,363.1 670.0,364.4 670.1,365.8 670.1,367.2 670.2,368.6 670.2,370.1 670.3,371.6 670.3,372.6 670.4,373.7 670.4,374.7 670.5,375.8 670.5,376.8 670.5,377.9 670.6,379.1 670.6,380.2 670.7,381.3 670.7,382.5 670.7,383.7 670.8,384.9 670.8,386.1 670.9,387.3 670.9,388.6 670.9,389.8 671.0,391.1 671.0,392.4 671.1,393.7 671.1,395.1 671.1,396.4 671.2,397.8 671.2,399.2 671.3,400.7 671.3,402.1 671.3,403.6 671.4,405.1 671.4,406.6 671.5,408.1 671.5,409.7 671.5,411.2 671.6,412.8 671.6,414.5 671.7,416.1 671.7,417.8 671.7,419.5 671.8,421.2 671.8,423.0 671.9,424.7 671.9,426.5 671.9,428.3 672.0,430.2 672.0,432.0 672.1,433.9 672.1,435.8 672.1,437.8 672.2,439.7 672.2,441.7 672.3,443.7 672.3,444.7 672.3,445.7 672.3,446.7 672.3,447.8 672.4,448.8 672.4,449.8 672.4,450.9 672.4,451.9 672.4,452.9 672.5,454.0 672.5,455.0 672.5,456.1 672.5,457.1 672.5,458.2 672.6,459.3 672.6,460.3 672.6,461.4 672.6,462.4 672.6,463.5 672.7,464.6 672.7,465.6 672.7,466.7 672.7,467.7 672.7,468.8 672.8,469.8 672.8,470.9 672.8,471.9 672.8,473.0 672.8,474.0 672.9,475.0 672.9,476.1 672.9,477.1 672.9,478.1 673.0,480.0 673.0,482.0 673.0,483.8 673.1,485.7 673.1,487.4 673.2,489.0 673.2,490.6 673.2,492.0 673.3,493.4 673.3,494.6 673.4,495.7 673.4,497.0 673.5,498.2 673.6,498.8 673.6,498.8 673.7,497.4 673.8,496.3 673.8,495.0 673.8,493.4 673.9,491.6 673.9,489.6 673.9,488.5 674.0,487.4 674.0,486.3 674.0,485.1 674.0,483.9 674.0,482.6 674.1,481.3 674.1,480.0 674.1,478.7 674.1,477.4 674.1,476.0 674.2,474.6 674.2,473.2 674.2,471.8 674.2,470.4 674.2,469.0 674.3,467.6 674.3,466.2 674.3,464.7 674.3,463.3 674.3,461.8 674.4,460.4 674.4,459.0 674.4,457.5 674.4,456.1 674.4,454.7 674.5,453.2 674.5,451.8 674.5,450.4 674.5,449.0 674.5,447.6 674.6,446.2 674.6,444.8 674.6,443.4 674.6,442.1 674.6,440.7 674.7,439.3 674.7,438.0 674.7,436.7 674.7,435.3 674.7,434.0 674.8,432.7 674.8,431.4 674.8,430.1 674.8,428.9 674.8,427.6 674.9,426.3 674.9,425.1 674.9,423.9 674.9,422.6 674.9,421.4 675.0,420.2 675.0,419.0 675.0,417.8 675.0,416.7 675.0,415.5 675.1,414.3 675.1,413.2 675.1,412.1 675.1,410.9 675.1,409.8 675.2,408.7 675.2,407.6 675.2,406.6 675.2,405.5 675.2,404.4 675.3,403.4 675.3,402.3 675.3,401.3 675.3,400.3 675.3,399.2 675.4,398.2 675.4,396.2 675.4,394.3 675.5,392.4 675.5,390.5 675.6,388.6 675.6,386.8 675.6,385.0 675.7,383.3 675.7,381.5 675.8,379.9 675.8,378.2 675.8,376.6 675.9,374.9 675.9,373.4 676.0,371.8 676.0,370.3 676.0,368.8 676.1,367.3 676.1,365.8 676.2,364.4 676.2,363.0 676.2,361.6 676.3,360.3 676.3,358.9 676.4,357.6 676.4,356.3 676.4,355.1 676.5,353.8 676.5,352.6 676.6,351.4 676.6,350.2 676.6,349.0 676.7,347.9 676.7,346.7 676.8,345.6 676.8,344.5 676.8,343.4 676.9,342.4 676.9,341.3 677.0,340.3 677.0,339.3 677.1,337.8 677.1,336.3 677.2,334.9 677.2,333.5 677.3,332.1 677.4,330.8 677.4,329.5 677.5,328.3 677.5,327.0 677.6,325.8 677.7,324.7 677.7,323.5 677.8,322.4 677.8,321.3 677.9,320.3 678.0,319.2 678.0,318.2 678.1,316.9 678.2,315.7 678.3,314.4 678.3,313.3 678.4,312.1 678.5,311.1 678.6,310.0 678.7,309.0 678.8,307.8 678.9,306.7 679.0,305.6 679.1,304.6 679.2,303.5 679.3,302.4 679.4,301.3 679.6,300.2 679.8,299.2 680.0,298.1 680.3,297.2 680.6,296.9 680.6,296.9 681.3,297.6 681.7,298.5 682.0,299.5 682.3,300.6 682.5,301.6 682.7,302.6 682.9,303.6 683.0,304.7 683.2,305.7 683.4,306.8 683.5,307.8 683.6,308.9 683.8,310.0 683.9,311.0 684.0,312.1 684.1,313.1 684.3,314.2 684.4,315.4 684.5,316.6 684.6,317.6 684.7,318.7 684.8,319.8 684.9,320.9 685.0,322.0 685.1,323.2 685.2,324.4 685.3,325.7 685.4,326.7 685.5,327.7 685.5,328.8 685.6,329.9 685.7,331.0 685.8,332.1 685.9,333.3 685.9,334.5 686.0,335.7 686.1,336.9 686.2,338.2 686.3,339.4 686.3,340.8 686.4,341.8 686.5,342.8 686.5,343.8 686.6,344.9 686.6,345.9 686.7,347.0 686.8,348.1 686.8,349.3 686.9,350.4 686.9,351.6 687.0,352.7 687.1,353.9 687.1,355.2 687.2,356.4 687.2,357.7 687.3,358.9 687.4,360.2 687.4,361.6 687.5,362.9 687.5,364.3 687.6,365.7 687.7,367.1 687.7,368.6 687.8,370.0 687.8,371.5 687.9,372.6 687.9,373.6 688.0,374.6 688.0,375.7 688.0,376.7 688.1,377.8 688.1,378.9 688.2,380.0 688.2,381.2 688.2,382.3 688.3,383.4 688.3,384.6 688.4,385.8 688.4,387.0 688.4,388.2 688.5,389.4 688.5,390.7 688.6,391.9 688.6,393.2 688.6,394.5 688.7,395.8 688.7,397.2 688.8,398.5 688.8,399.9 688.8,401.3 688.9,402.7 688.9,404.1 689.0,405.6 689.0,407.1 689.0,408.6 689.1,410.1 689.1,411.6 689.2,413.2 689.2,414.8 689.2,416.4 689.3,418.0 689.3,419.7 689.4,421.4 689.4,423.1 689.4,424.9 689.5,426.7 689.5,428.5 689.6,430.4 689.6,432.2 689.6,434.1 689.7,436.1 689.7,438.1 689.7,439.1 689.8,440.1 689.8,441.1 689.8,442.2 689.8,443.2 689.8,444.3 689.9,445.3 689.9,446.4 689.9,447.5 689.9,448.6 689.9,449.7 690.0,450.8 690.0,451.9 690.0,453.0 690.0,454.2 690.0,455.4 690.1,456.5 690.1,457.7 690.1,458.9 690.1,460.1 690.1,461.3 690.2,462.6 690.2,463.8 690.2,465.1 690.2,466.3 690.2,467.6 690.3,468.9 690.3,470.2 690.3,471.6 690.3,472.9 690.3,474.3 690.4,475.6 690.4,477.0 690.4,478.4 690.4,479.8 690.4,481.3 690.5,482.7 690.5,484.2 690.5,485.6 690.5,487.1 690.5,488.7 690.6,490.2 690.6,491.7 690.6,493.3 690.6,494.9 690.6,496.5 690.7,498.1 690.7,499.7 690.7,501.4 690.7,503.1 690.7,504.8 690.8,506.5 690.8,508.2 690.8,510.0 690.8,511.7 690.8,513.5 690.9,515.3 690.9,517.2 690.9,519.0 690.9,520.9 690.9,522.8 691.0,524.7 691.0,526.6 691.0,528.5 691.0,530.5 691.0,532.5 691.1,534.5 691.1,536.5 691.1,538.5 691.1,540.5 691.1,542.6 691.2,544.7 691.2,546.7 691.2,548.8 691.2,550.9 691.2,553.0 691.3,555.1 691.3,557.2 691.3,559.3 691.3,561.3 691.3,563.4 691.4,565.5 691.4,567.5 691.4,569.5 691.4,571.5 691.4,573.4 691.5,575.3 691.5,577.2 691.5,578.9 691.5,580.7 691.5,582.3 691.6,583.9 691.6,585.4 691.6,586.8 691.6,588.1 691.6,589.3 691.7,590.4 691.7,592.1 691.7,593.3 691.8,594.0 691.8,594.0 691.9,592.6 691.9,590.8 691.9,589.8 692.0,588.5 692.0,587.2 692.0,585.7 692.0,584.1 692.0,582.5 692.1,580.7 692.1,578.9 692.1,577.0 692.1,575.0 692.1,573.0 692.2,571.0 692.2,568.9 692.2,566.8 692.2,564.7 692.2,562.5 692.3,560.4 692.3,558.2 692.3,556.1 692.3,553.9 692.3,551.8 692.4,549.6 692.4,547.5 692.4,545.4 692.4,543.3 692.4,541.2 692.5,539.1 692.5,537.1 692.5,535.0 692.5,533.0 692.5,531.1 692.6,529.1 692.6,527.2 692.6,525.2 692.6,523.4 692.6,521.5 692.7,519.6 692.7,517.8 692.7,516.0 692.7,514.3 692.7,512.5 692.8,510.8 692.8,509.1 692.8,507.4 692.8,505.8 692.8,504.1 692.9,502.5 692.9,500.9 692.9,499.4 692.9,497.8 692.9,496.3 693.0,494.8 693.0,493.3 693.0,491.9 693.0,490.4 693.0,489.0 693.1,487.6 693.1,486.3 693.1,484.9 693.1,483.6 693.1,482.2 693.2,480.9 693.2,479.7 693.2,478.4 693.2,477.1 693.2,475.9 693.3,474.7 693.3,473.5 693.3,472.3 693.3,471.1 693.3,470.0 693.4,468.9 693.4,467.7 693.4,466.6 693.4,465.6 693.4,464.5 693.5,463.4 693.5,462.4 693.5,461.3 693.5,460.3 693.5,459.3 693.6,457.3 693.6,455.4 693.7,453.6 693.7,451.8 693.7,450.0 693.8,448.3 693.8,446.6 693.9,445.0 693.9,443.4 693.9,441.8 694.0,440.3 694.0,438.8 694.1,437.4 694.1,436.0 694.1,434.7 694.2,433.4 694.2,432.1 694.3,430.8 694.3,429.6 694.3,428.5 694.4,427.3 694.4,426.2 694.5,425.1 694.5,424.1 694.5,423.1 694.6,421.6 694.7,420.2 694.7,418.9 694.8,417.7 694.8,416.5 694.9,415.3 695.0,414.3 695.0,413.0 695.1,411.8 695.2,410.7 695.3,409.5 695.4,408.4 695.5,407.4 695.7,406.4 695.9,406.0 695.9,406.0 696.2,406.9 696.3,408.1 696.4,409.1 696.5,410.1 696.6,411.3 696.7,412.5 696.7,413.6 696.8,414.7 696.8,415.8 696.9,417.1 697.0,418.4 697.0,419.8 697.1,421.3 697.1,422.3 697.2,423.4 697.2,424.5 697.2,425.6 697.3,426.8 697.3,428.0 697.4,429.2 697.4,430.5 697.4,431.8 697.5,433.1 697.5,434.5 697.6,435.9 697.6,437.3 697.6,438.8 697.7,440.4 697.7,441.9 697.8,443.5 697.8,445.2 697.8,446.9 697.9,448.6 697.9,450.3 698.0,452.1 698.0,454.0 698.0,455.8 698.1,457.8 698.1,459.7 698.2,461.7 698.2,462.7 698.2,463.7 698.2,464.8 698.2,465.8 698.3,466.8 698.3,467.9 698.3,469.0 698.3,470.0 698.3,471.1 698.4,472.2 698.4,473.3 698.4,474.4 698.4,475.5 698.4,476.6 698.5,477.7 698.5,478.9 698.5,480.0 698.5,481.1 698.5,482.3 698.6,483.4 698.6,484.6 698.6,485.7 698.6,486.9 698.6,488.0 698.7,489.2 698.7,490.3 698.7,491.5 698.7,492.6 698.7,493.8 698.8,494.9 698.8,496.1 698.8,497.2 698.8,498.3 698.8,499.4 698.9,500.5 698.9,501.6 698.9,502.6 698.9,503.7 698.9,504.7 699.0,505.7 699.0,507.7 699.0,509.5 699.1,511.2 699.1,512.8 699.2,514.2 699.2,515.5 699.2,516.5 699.3,517.7 699.4,518.5 699.4,518.5 699.5,517.3 699.5,516.1 699.6,514.7 699.6,512.9 699.7,510.9 699.7,509.7 699.7,508.6 699.7,507.4 699.7,506.1 699.8,504.8 699.8,503.4 699.8,502.0 699.8,500.6 699.8,499.2 699.9,497.7 699.9,496.2 699.9,494.7 699.9,493.2 699.9,491.6 700.0,490.1 700.0,488.5 700.0,487.0 700.0,485.4 700.0,483.8 700.1,482.2 700.1,480.7 700.1,479.1 700.1,477.5 700.1,475.9 700.2,474.4 700.2,472.8 700.2,471.3 700.2,469.7 700.2,468.2 700.3,466.7 700.3,465.2 700.3,463.7 700.3,462.2 700.3,460.7 700.4,459.2 700.4,457.8 700.4,456.3 700.4,454.9 700.4,453.5 700.5,452.1 700.5,450.7 700.5,449.3 700.5,447.9 700.5,446.6 700.6,445.2 700.6,443.9 700.6,442.6 700.6,441.3 700.6,440.0 700.7,438.7 700.7,437.4 700.7,436.2 700.7,435.0 700.7,433.7 700.8,432.5 700.8,431.3 700.8,430.1 700.8,429.0 700.8,427.8 700.9,426.7 700.9,425.5 700.9,424.4 700.9,423.3 700.9,422.2 701.0,421.1 701.0,420.0 701.0,418.9 701.0,417.9 701.0,416.8 701.1,415.8 701.1,414.8 701.1,413.8 701.1,412.8 701.2,410.8 701.2,408.9 701.2,407.0 701.3,405.2 701.3,403.3 701.4,401.6 701.4,399.8 701.4,398.2 701.5,396.5 701.5,394.9 701.6,393.3 701.6,391.7 701.6,390.2 701.7,388.7 701.7,387.2 701.8,385.8 701.8,384.4 701.8,383.0 701.9,381.7 701.9,380.4 702.0,379.1 702.0,377.8 702.0,376.6 702.1,375.4 702.1,374.2 702.2,373.0 702.2,371.9 702.2,370.8 702.3,369.7 702.3,368.6 702.4,367.6 702.4,366.6 702.5,365.1 702.5,363.6 702.6,362.3 702.6,360.9 702.7,359.6 702.8,358.4 702.8,357.2 702.9,356.0 702.9,354.9 703.0,353.8 703.1,352.8 703.1,351.5 703.2,350.3 703.3,349.1 703.4,348.0 703.5,347.0 703.6,345.9 703.7,344.8 703.8,343.7 703.9,342.6 704.1,341.5 704.4,340.5 704.5,340.5 704.5,340.5 704.9,341.4 705.0,342.5 705.2,343.6 705.3,344.8 705.4,345.9 705.5,347.1 705.6,348.2 705.7,349.3 705.7,350.6 705.8,351.9 705.9,352.9 705.9,354.0 706.0,355.1 706.1,356.2 706.1,357.4 706.2,358.7 706.2,360.0 706.3,361.3 706.4,362.7 706.4,364.1 706.5,365.6 706.5,366.6 706.6,367.7 706.6,368.7 706.6,369.8 706.7,370.9 706.7,372.0 706.8,373.2 706.8,374.3 706.8,375.5 706.9,376.8 706.9,378.0 707.0,379.3 707.0,380.5 707.0,381.9 707.1,383.2 707.1,384.6 707.2,385.9 707.2,387.3 707.2,388.8 707.3,390.2 707.3,391.7 707.4,393.2 707.4,394.8 707.4,396.3 707.5,397.9 707.5,399.5 707.6,401.1 707.6,402.8 707.6,404.4 707.7,406.1 707.7,407.9 707.8,409.6 707.8,411.3 707.8,413.1 707.9,414.9 707.9,416.7 708.0,418.5 708.0,420.4 708.0,422.2 708.1,424.1 708.1,425.9 708.2,427.8 708.2,429.6 708.2,431.5 708.3,433.3 708.3,435.1 708.4,436.9 708.4,438.7 708.4,440.5 708.5,442.2 708.5,443.8 708.6,445.5 708.6,447.0 708.6,448.5 708.7,449.9 708.7,451.2 708.8,452.4 708.8,453.6 708.8,454.6 708.9,455.9 709.0,457.1 709.1,457.8 709.1,457.8 709.2,456.8 709.3,455.7 709.4,454.3 709.4,453.3 709.4,452.0 709.5,450.7 709.5,449.3 709.6,447.8 709.6,446.2 709.6,444.5 709.7,442.8 709.7,441.0 709.8,439.1 709.8,437.2 709.8,435.3 709.9,433.4 709.9,431.4 710.0,429.4 710.0,427.4 710.0,426.4 710.0,425.4 710.1,424.4 710.1,423.4 710.1,422.4 710.1,421.4 710.2,419.4 710.2,417.4 710.2,415.5 710.3,413.5 710.3,411.5 710.4,409.6 710.4,407.7 710.4,405.8 710.5,403.9 710.5,402.0 710.6,400.2 710.6,398.4 710.6,396.6 710.7,394.8 710.7,393.1 710.8,391.3 710.8,389.6 710.8,388.0 710.9,386.3 710.9,384.7 711.0,383.1 711.0,381.5 711.0,380.0 711.1,378.4 711.1,376.9 711.2,375.4 711.2,374.0 711.2,372.5 711.3,371.1 711.3,369.7 711.4,368.4 711.4,367.0 711.4,365.7 711.5,364.4 711.5,363.1 711.6,361.9 711.6,360.6 711.6,359.4 711.7,358.2 711.7,357.0 711.8,355.9 711.8,354.7 711.8,353.6 711.9,352.5 711.9,351.4 712.0,350.4 712.0,349.3 712.0,348.3 712.1,347.3 712.1,345.8 712.2,344.4 712.3,342.9 712.3,341.6 712.4,340.3 712.4,339.0 712.5,337.7 712.6,336.5 712.6,335.3 712.7,334.2 712.7,333.1 712.8,332.0 712.9,330.9 712.9,329.9 713.0,328.6 713.1,327.4 713.2,326.2 713.2,325.0 713.3,324.0 713.4,322.9 713.5,321.7 713.6,320.6 713.7,319.6 713.8,318.5 713.9,317.5 714.1,316.5 714.3,315.4 714.5,314.4 714.8,314.0 714.8,314.0 715.5,314.7 715.9,315.6 716.2,316.6 716.5,317.6 716.7,318.6 716.9,319.6 717.1,320.7 717.3,321.7 717.4,322.7 717.6,323.8 717.7,324.9 717.9,325.9 718.0,327.0 718.2,328.1 718.3,329.1 718.4,330.1 718.5,331.2 718.6,332.3 718.8,333.4 718.9,334.6 719.0,335.6 719.1,336.6 719.2,337.7 719.3,338.7 719.4,339.8 719.5,341.0 719.6,342.1 719.7,343.3 719.8,344.5 719.9,345.7 720.0,346.7 720.0,347.7 720.1,348.7 720.2,349.8 720.3,350.9 720.4,351.9 720.4,353.0 720.5,354.2 720.6,355.3 720.7,356.4 720.8,357.6 720.8,358.8 720.9,360.0 721.0,361.2 721.1,362.4 721.2,363.7 721.2,365.0 721.3,366.2 721.4,367.5 721.5,368.9 721.6,370.2 721.6,371.2 721.7,372.2 721.7,373.2 721.8,374.3 721.9,375.3 721.9,376.4 722.0,377.4 722.0,378.5 722.1,379.6 722.2,380.6 722.2,381.7 722.3,382.8 722.3,383.9 722.4,385.0 722.5,386.1 722.5,387.2 722.6,388.3 722.6,389.4 722.7,390.5 722.8,391.6 722.8,392.7 722.9,393.9 722.9,395.0 723.0,396.1 723.1,397.2 723.1,398.3 723.2,399.4 723.2,400.5 723.3,401.5 723.4,402.6 723.4,403.7 723.5,404.7 723.5,405.8 723.6,406.8 723.7,407.8 723.7,409.1 723.8,410.4 723.9,411.6 724.0,412.8 724.1,413.9 724.1,415.0 724.2,416.0 724.3,417.2 724.4,418.3 724.5,419.4 724.7,420.5 724.9,421.5 725.1,421.9 725.1,421.9 725.3,420.8 725.4,419.8 725.5,418.7 725.6,417.5 725.7,416.4 725.7,415.3 725.8,414.1 725.8,412.9 725.9,411.5 726.0,410.2 726.0,408.8 726.1,407.3 726.1,405.8 726.2,404.8 726.2,403.8 726.3,402.7 726.3,401.7 726.3,400.6 726.4,399.6 726.4,398.5 726.5,397.4 726.5,396.4 726.5,395.3 726.6,394.2 726.6,393.2 726.7,392.1 726.7,391.1 726.7,390.0 726.8,388.9 726.8,387.9 726.9,386.9 726.9,385.8 726.9,384.8 727.0,383.8 727.0,382.7 727.1,381.7 727.1,380.7 727.2,379.2 727.2,377.8 727.3,376.3 727.3,374.9 727.4,373.5 727.5,372.1 727.5,370.7 727.6,369.4 727.6,368.1 727.7,366.8 727.8,365.5 727.8,364.3 727.9,363.1 727.9,361.9 728.0,360.7 728.1,359.6 728.1,358.5 728.2,357.4 728.2,356.3 728.3,355.3 728.4,354.3 728.4,353.0 728.5,351.7 728.6,350.5 728.7,349.4 728.8,348.2 728.8,347.2 728.9,346.1 729.0,344.9 729.1,343.8 729.2,342.7 729.3,341.7 729.4,340.6 729.6,339.6 729.7,338.6 729.9,337.5 730.1,336.5 730.5,335.8 730.5,335.8 731.1,336.5 731.5,337.5 731.8,338.5 732.0,339.6 732.2,340.6 732.4,341.6 732.6,342.6 732.7,343.7 732.9,344.7 733.1,345.9 733.2,346.9 733.3,348.0 733.5,349.1 733.6,350.3 733.7,351.3 733.9,352.3 734.0,353.4 734.1,354.5 734.2,355.6 734.3,356.8 734.5,357.9 734.6,359.1 734.7,360.3 734.8,361.3 734.9,362.3 735.0,363.4 735.1,364.4 735.2,365.4 735.3,366.4 735.4,367.5 735.5,368.5 735.6,369.5 735.7,370.5 735.8,371.5 735.9,372.7 736.0,373.9 736.2,375.0 736.3,376.1 736.4,377.2 736.5,378.2 736.7,379.3 736.8,380.4 737.0,381.5 737.1,382.5 737.4,383.6 737.7,384.5 737.9,384.7 737.9,384.7 738.3,383.7 738.5,382.6 738.6,381.5 738.7,380.3 738.8,379.3 738.9,378.2 739.0,377.0 739.1,376.0 739.2,374.9 739.3,373.9 739.3,372.7 739.4,371.6 739.5,370.4 739.6,369.2 739.7,368.0 739.7,366.8 739.8,365.6 739.9,364.3 740.0,363.1 740.1,361.8 740.1,360.5 740.2,359.2 740.3,358.0 740.4,356.7 740.5,355.4 740.5,354.2 740.6,352.9 740.7,351.6 740.8,350.4 740.9,349.2 740.9,347.9 741.0,346.7 741.1,345.5 741.2,344.3 741.3,343.1 741.3,341.9 741.4,340.8 741.5,339.7 741.6,338.5 741.7,337.4 741.7,336.3 741.8,335.2 741.9,334.2 742.0,333.1 742.1,332.1 742.1,331.1 742.2,330.1 742.3,328.8 742.4,327.6 742.5,326.5 742.6,325.3 742.7,324.2 742.8,323.1 742.9,322.0 743.0,321.0 743.1,320.0 743.2,318.8 743.4,317.7 743.5,316.6 743.6,315.5 743.7,314.5 743.9,313.4 744.0,312.3 744.1,311.3 744.3,310.2 744.5,309.2 744.6,308.1 744.8,307.0 745.1,306.0 745.3,305.0 745.6,304.0 746.1,303.1 746.4,302.9 746.4,302.9 746.9,303.8 747.1,304.7 747.3,305.8 747.5,306.9 747.6,307.9 747.8,309.1 747.9,310.2 748.0,311.4 748.1,312.4 748.2,313.5 748.3,314.7 748.4,315.9 748.5,317.0 748.6,318.1 748.7,319.2 748.7,320.3 748.8,321.6 748.9,322.8 749.0,324.1 749.0,325.1 749.1,326.1 749.2,327.2 749.2,328.3 749.3,329.4 749.3,330.5 749.4,331.7 749.5,332.9 749.5,334.1 749.6,335.3 749.6,336.6 749.7,337.9 749.8,339.3 749.8,340.6 749.9,342.1 749.9,343.5 750.0,345.0 750.0,346.0 750.1,347.0 750.1,348.0 750.2,349.1 750.2,350.2 750.2,351.3 750.3,352.4 750.3,353.5 750.4,354.6 750.4,355.8 750.4,357.0 750.5,358.2 750.5,359.4 750.6,360.6 750.6,361.9 750.6,363.2 750.7,364.5 750.7,365.8 750.8,367.1 750.8,368.5 750.8,369.9 750.9,371.3 750.9,372.7 751.0,374.2 751.0,375.6 751.0,377.1 751.1,378.7 751.1,380.2 751.2,381.8 751.2,383.4 751.2,385.1 751.3,386.7 751.3,388.4 751.4,390.1 751.4,391.9 751.4,393.7 751.5,395.5 751.5,397.3 751.6,399.2 751.6,401.1 751.6,403.1 751.7,405.0 751.7,406.0 751.7,407.0 751.7,408.1 751.8,409.1 751.8,410.1 751.8,411.2 751.8,412.2 751.8,413.3 751.9,414.3 751.9,415.4 751.9,416.5 751.9,417.6 751.9,418.7 752.0,419.8 752.0,421.0 752.0,422.1 752.0,423.2 752.0,424.4 752.1,425.6 752.1,426.7 752.1,427.9 752.1,429.1 752.1,430.3 752.2,431.5 752.2,432.7 752.2,434.0 752.2,435.2 752.2,436.4 752.3,437.7 752.3,439.0 752.3,440.2 752.3,441.5 752.3,442.8 752.4,444.1 752.4,445.4 752.4,446.7 752.4,448.0 752.4,449.3 752.5,450.6 752.5,452.0 752.5,453.3 752.5,454.6 752.5,456.0 752.6,457.3 752.6,458.7 752.6,460.0 752.6,461.4 752.6,462.7 752.7,464.1 752.7,465.4 752.7,466.7 752.7,468.1 752.7,469.4 752.8,470.7 752.8,472.0 752.8,473.4 752.8,474.7 752.8,475.9 752.9,477.2 752.9,478.4 752.9,479.7 752.9,480.9 752.9,482.1 753.0,483.2 753.0,484.4 753.0,485.5 753.0,486.6 753.0,487.6 753.1,488.6 753.1,490.5 753.1,492.2 753.2,493.7 753.2,495.0 753.3,496.1 753.3,497.2 753.4,497.8 753.4,497.8 753.6,496.8 753.6,495.6 753.7,494.5 753.8,493.2 753.8,491.6 753.9,490.5 753.9,489.4 753.9,488.2 754.0,486.9 754.0,485.6 754.1,484.3 754.1,482.9 754.1,481.5 754.2,480.1 754.2,478.7 754.3,477.3 754.3,475.8 754.3,474.4 754.4,472.9 754.4,471.4 754.5,470.0 754.5,468.6 754.5,467.1 754.6,465.7 754.6,464.3 754.7,462.9 754.7,461.5 754.7,460.2 754.8,458.8 754.8,457.5 754.9,456.2 754.9,454.9 754.9,453.7 755.0,452.4 755.0,451.2 755.1,450.1 755.1,448.9 755.1,447.8 755.2,446.7 755.2,445.6 755.3,444.5 755.3,443.5 755.3,442.5 755.4,441.0 755.5,439.6 755.5,438.3 755.6,437.0 755.6,435.8 755.7,434.7 755.8,433.6 755.8,432.6 755.9,431.4 756.0,430.3 756.1,429.0 756.2,428.0 756.3,426.9 756.6,426.0 756.6,426.0 756.9,427.0 757.1,428.0 757.2,429.1 757.3,430.2 757.4,431.3 757.4,432.4 757.5,433.6 757.6,434.6 757.6,435.7 757.7,436.8 757.8,438.0 757.8,439.3 757.9,440.6 757.9,442.0 758.0,443.4 758.0,444.4 758.1,445.4 758.1,446.5 758.2,447.6 758.2,448.7 758.2,449.9 758.3,451.1 758.3,452.3 758.4,453.6 758.4,454.9 758.4,456.2 758.5,457.6 758.5,459.0 758.6,460.4 758.6,461.9 758.6,463.4 758.7,465.0 758.7,466.6 758.8,468.2 758.8,469.9 758.8,471.7 758.9,473.4 758.9,475.3 759.0,477.2 759.0,479.1 759.0,481.1 759.1,482.1 759.1,483.1 759.1,484.2 759.1,485.2 759.1,486.3 759.2,487.4 759.2,488.5 759.2,489.6 759.2,490.7 759.2,491.9 759.3,493.0 759.3,494.2 759.3,495.4 759.3,496.6 759.3,497.8 759.4,499.1 759.4,500.3 759.4,501.6 759.4,502.9 759.4,504.2 759.5,505.6 759.5,506.9 759.5,508.3 759.5,509.7 759.5,511.1 759.6,512.5 759.6,514.0 759.6,515.5 759.6,517.0 759.6,518.5 759.7,520.0 759.7,521.6 759.7,523.2 759.7,524.8 759.7,526.4 759.8,528.1 759.8,529.8 759.8,531.5 759.8,533.2 759.8,535.0 759.9,536.8 759.9,538.6 759.9,540.4 759.9,542.3 759.9,544.2 760.0,546.1 760.0,548.1 760.0,550.0 760.0,552.0 760.0,554.1 760.1,556.1 760.1,558.2 760.1,560.3 760.1,562.4 760.1,564.6 760.2,566.8 760.2,569.0 760.2,571.2 760.2,573.5 760.2,575.7 760.3,578.0 760.3,580.3 760.3,582.6 760.3,584.9 760.3,587.3 760.4,589.6 760.4,591.9 760.4,594.2 760.4,596.5 760.4,598.8 760.5,601.0 760.5,603.2 760.5,605.4 760.5,607.5 760.5,609.5 760.6,611.5 760.6,613.3 760.6,615.1 760.6,616.8 760.6,618.3 760.7,619.7 760.7,620.9 760.7,622.0 760.7,623.6 760.8,624.5 760.8,624.5 760.8,623.3 760.9,621.9 760.9,620.0 760.9,617.6 760.9,614.9 760.9,611.8 761.0,608.4 761.0,604.8 761.0,601.0 761.0,597.0 761.0,593.0 761.1,588.9 761.1,584.8 761.1,580.7 761.1,576.7 761.1,572.6 761.2,568.6 761.2,564.6 761.2,560.7 761.2,556.9 761.2,553.1 761.3,549.4 761.3,545.8 761.3,542.2 761.3,538.7 761.3,535.3 761.4,532.0 761.4,528.7 761.4,525.5 761.4,522.4 761.4,519.3 761.5,516.3 761.5,513.4 761.5,510.5 761.5,507.7 761.5,505.0 761.6,502.3 761.6,499.6 761.6,497.0 761.6,494.5 761.6,492.0 761.7,489.6 761.7,487.2 761.7,484.9 761.7,482.6 761.7,480.3 761.8,478.1 761.8,475.9 761.8,473.8 761.8,471.7 761.8,469.6 761.9,467.6 761.9,465.6 761.9,463.6 761.9,461.7 761.9,459.8 762.0,458.0 762.0,456.1 762.0,454.3 762.0,452.6 762.0,450.8 762.1,449.1 762.1,447.4 762.1,445.7 762.1,444.1 762.1,442.5 762.2,440.9 762.2,439.3 762.2,437.8 762.2,436.2 762.2,434.7 762.3,433.3 762.3,431.8 762.3,430.3 762.3,428.9 762.3,427.5 762.4,426.1 762.4,424.8 762.4,423.4 762.4,422.1 762.4,420.8 762.5,419.5 762.5,418.2 762.5,416.9 762.5,415.7 762.5,414.4 762.6,413.2 762.6,412.0 762.6,410.8 762.6,409.6 762.6,408.5 762.7,407.3 762.7,406.2 762.7,405.1 762.7,403.9 762.7,402.8 762.8,401.8 762.8,400.7 762.8,399.6 762.8,398.6 762.8,397.5 762.9,396.5 762.9,395.5 762.9,394.5 762.9,392.5 763.0,390.6 763.0,388.7 763.1,386.8 763.1,385.0 763.1,383.2 763.2,381.4 763.2,379.7 763.3,378.0 763.3,376.4 763.3,374.7 763.4,373.1 763.4,371.6 763.5,370.0 763.5,368.5 763.5,367.0 763.6,365.6 763.6,364.2 763.7,362.8 763.7,361.4 763.7,360.0 763.8,358.7 763.8,357.4 763.9,356.1 763.9,354.8 763.9,353.6 764.0,352.3 764.0,351.1 764.1,349.9 764.1,348.8 764.1,347.6 764.2,346.5 764.2,345.4 764.3,344.3 764.3,343.2 764.3,342.2 764.4,341.1 764.4,340.1 764.5,339.1 764.5,337.6 764.6,336.1 764.6,334.7 764.7,333.3 764.8,332.0 764.8,330.7 764.9,329.4 764.9,328.1 765.0,326.9 765.1,325.7 765.1,324.5 765.2,323.3 765.2,322.2 765.3,321.1 765.4,320.1 765.4,319.0 765.5,318.0 765.6,316.7 765.6,315.4 765.7,314.2 765.8,313.0 765.9,311.8 766.0,310.7 766.0,309.6 766.1,308.6 766.2,307.6 766.3,306.4 766.4,305.2 766.5,304.2 766.6,303.1 766.7,302.0 766.8,300.9 767.0,299.9 767.1,298.8 767.3,297.7 767.4,296.6 767.6,295.6 767.9,294.6 768.4,293.9 768.4,293.9 768.9,294.7 769.2,295.8 769.4,296.8 769.5,297.8 769.7,298.9 769.8,300.1 770.0,301.1 770.1,302.2 770.2,303.4 770.3,304.4 770.4,305.5 770.5,306.7 770.6,307.9 770.7,308.9 770.8,310.0 770.8,311.1 770.9,312.2 771.0,313.3 771.1,314.5 771.2,315.8 771.2,317.0 771.3,318.4 771.4,319.4 771.4,320.4 771.5,321.5 771.6,322.5 771.6,323.6 771.7,324.8 771.7,325.9 771.8,327.1 771.9,328.3 771.9,329.5 772.0,330.8 772.0,332.0 772.1,333.3 772.2,334.7 772.2,336.0 772.3,337.4 772.3,338.8 772.4,340.2 772.5,341.7 772.5,343.2 772.6,344.2 772.6,345.2 772.6,346.2 772.7,347.3 772.7,348.3 772.8,349.4 772.8,350.5 772.8,351.6 772.9,352.7 772.9,353.8 773.0,354.9 773.0,356.1 773.0,357.2 773.1,358.4 773.1,359.6 773.2,360.8 773.2,362.0 773.2,363.2 773.3,364.4 773.3,365.7 773.4,366.9 773.4,368.2 773.4,369.4 773.5,370.7 773.5,372.0 773.6,373.3 773.6,374.7 773.6,376.0 773.7,377.3 773.7,378.7 773.8,380.0 773.8,381.4 773.8,382.8 773.9,384.2 773.9,385.5 774.0,386.9 774.0,388.3 774.0,389.7 774.1,391.1 774.1,392.5 774.2,393.9 774.2,395.3 774.2,396.6 774.3,398.0 774.3,399.4 774.4,400.7 774.4,402.1 774.4,403.4 774.5,404.7 774.5,406.0 774.6,407.3 774.6,408.5 774.6,409.7 774.7,410.9 774.7,412.1 774.8,413.2 774.8,414.2 774.8,415.3 774.9,416.7 775.0,418.0 775.0,419.2 775.1,420.2 775.2,421.4 775.3,422.4 775.4,422.9 775.4,422.9 775.7,421.9 775.8,420.8 775.9,419.6 776.0,418.5 776.0,417.3 776.1,416.3 776.2,415.2 776.2,414.1 776.3,412.9 776.3,411.7 776.4,410.4 776.5,409.1 776.5,407.8 776.6,406.4 776.6,405.0 776.7,403.6 776.8,402.2 776.8,400.8 776.9,399.3 776.9,397.9 777.0,396.4 777.1,394.9 777.1,393.5 777.2,392.0 777.2,390.5 777.3,389.1 777.4,387.6 777.4,386.2 777.5,384.7 777.5,383.3 777.6,381.9 777.7,380.5 777.7,379.1 777.8,377.7 777.8,376.4 777.9,375.0 778.0,373.7 778.0,372.4 778.1,371.1 778.1,369.8 778.2,368.5 778.3,367.3 778.3,366.0 778.4,364.8 778.4,363.6 778.5,362.4 778.6,361.3 778.6,360.1 778.7,359.0 778.7,357.9 778.8,356.8 778.9,355.7 778.9,354.7 779.0,353.6 779.0,352.6 779.1,351.6 779.2,350.3 779.3,349.0 779.3,347.8 779.4,346.6 779.5,345.4 779.6,344.3 779.7,343.2 779.7,342.1 779.8,341.0 779.9,340.0 780.0,338.8 780.1,337.6 780.2,336.5 780.3,335.4 780.4,334.3 780.5,333.2 780.6,332.0 780.8,331.0 780.9,329.9 781.0,328.8 781.2,327.7 781.4,326.7 781.6,325.7 781.8,324.7 782.3,323.8 782.4,323.8 782.4,323.8 783.1,324.4 783.6,325.3 783.9,326.3 784.2,327.3 784.5,328.3 784.7,329.3 785.0,330.3 785.2,331.4 785.4,332.4 785.6,333.4 785.8,334.4 786.0,335.5 786.2,336.5 786.3,337.5 786.5,338.6 786.7,339.6 786.9,340.6 787.1,341.7 787.2,342.7 787.4,343.7 787.6,344.8 787.8,345.8 788.0,346.8 788.2,347.9 788.5,348.9 788.7,349.9 789.1,350.8 789.6,351.7 789.8,351.8 789.8,351.8 790.2,350.9 790.4,349.8 790.6,348.7 790.7,347.5 790.8,346.4 790.9,345.4 791.0,344.4 791.1,343.3 791.2,342.1 791.3,340.9 791.4,339.7 791.5,338.7 791.6,337.6 791.7,336.6 791.7,335.5 791.8,334.4 791.9,333.3 792.0,332.2 792.1,331.1 792.1,330.0 792.2,328.9 792.3,327.8 792.4,326.7 792.5,325.6 792.5,324.5 792.6,323.4 792.7,322.2 792.8,321.2 792.9,320.1 792.9,319.0 793.0,317.9 793.1,316.8 793.2,315.8 793.3,314.7 793.3,313.7 793.4,312.7 793.5,311.6 793.6,310.6 793.7,309.4 793.8,308.2 793.9,307.0 794.0,305.8 794.1,304.7 794.2,303.5 794.3,302.4 794.4,301.3 794.5,300.3 794.6,299.2 794.7,298.2 794.8,297.0 794.9,295.8 795.0,294.7 795.2,293.6 795.3,292.6 795.4,291.6 795.5,290.4 795.7,289.4 795.8,288.3 796.0,287.2 796.1,286.1 796.3,285.2 796.5,284.1 796.7,283.1 796.9,282.1 797.2,281.0 797.5,280.0 797.9,279.1 798.3,278.9 798.3,278.9 799.1,279.5 799.6,280.4 800.0,281.3 800.3,282.3 800.6,283.3 800.9,284.3 801.1,285.3 801.3,286.4 801.6,287.4 801.8,288.4 802.0,289.4 802.2,290.5 802.3,291.5 802.5,292.6 802.7,293.7 802.9,294.7 803.0,295.7 803.2,296.7 803.3,297.8 803.5,298.9 803.7,300.0 803.8,301.1 804.0,302.1 804.1,303.1 804.2,304.1 804.4,305.1 804.5,306.1 804.7,307.2 804.8,308.2 804.9,309.3 805.1,310.3 805.2,311.4 805.4,312.4 805.5,313.4 805.6,314.5 805.8,315.5 805.9,316.5 806.1,317.5 806.2,318.6 806.4,319.7 806.5,320.7 806.7,321.7 806.9,322.8 807.1,323.8 807.3,324.9 807.5,325.9 807.7,326.9 808.0,327.9 808.5,328.7 808.7,328.8 808.7,328.8 809.6,328.4 810.3,327.6 810.8,326.8 811.3,325.8 811.7,324.9 812.1,324.0 812.5,323.1 812.9,322.1 813.3,321.1 813.7,320.2 814.1,319.2 814.6,318.3 815.0,317.4 815.4,316.5 815.9,315.6 816.4,314.7 817.0,313.9 817.7,313.2 818.7,312.8 818.7,312.8 818.7,312.8 819.4,313.5 819.7,314.5 820.0,315.5 820.2,316.5 820.5,317.6 820.7,318.6 820.8,319.7 821.0,320.7 821.2,321.8 821.3,322.9 821.5,323.9 821.6,325.0 821.7,326.1 821.9,327.2 822.0,328.3 822.1,329.3 822.2,330.4 822.4,331.5 822.5,332.6 822.6,333.8 822.7,334.9 822.8,336.1 822.9,337.1 823.0,338.2 823.1,339.2 823.2,340.2 823.3,341.3 823.4,342.4 823.5,343.4 823.6,344.5 823.7,345.6 823.8,346.7 823.9,347.8 824.0,348.9 824.1,350.0 824.2,351.1 824.3,352.1 824.4,353.2 824.5,354.3 824.6,355.3 824.7,356.3 824.8,357.3 825.0,358.5 825.1,359.6 825.2,360.7 825.3,361.7 825.5,362.9 825.6,363.9 825.8,364.9 825.9,366.0 826.2,367.0 826.6,367.7 826.6,367.7 827.0,366.7 827.2,365.6 827.3,364.5 827.4,363.4 827.5,362.4 827.6,361.3 827.7,360.1 827.8,358.9 827.9,357.9 828.0,356.8 828.1,355.7 828.1,354.6 828.2,353.4 828.3,352.3 828.4,351.1 828.5,349.9 828.5,348.7 828.6,347.5 828.7,346.3 828.8,345.1 828.9,343.8 828.9,342.6 829.0,341.4 829.1,340.2 829.2,338.9 829.3,337.7 829.3,336.5 829.4,335.3 829.5,334.2 829.6,333.0 829.7,331.8 829.7,330.7 829.8,329.5 829.9,328.4 830.0,327.3 830.1,326.2 830.1,325.1 830.2,324.1 830.3,323.0 830.4,322.0 830.5,321.0 830.6,319.7 830.7,318.5 830.8,317.3 830.9,316.2 831.0,315.1 831.1,314.0 831.2,312.9 831.3,311.8 831.4,310.8 831.5,309.7 831.6,308.5 831.7,307.5 831.8,306.4 832.0,305.3 832.1,304.2 832.3,303.1 832.4,302.0 832.6,301.0 832.8,300.0 833.0,299.0 833.2,297.9 833.5,296.9 834.0,296.0 834.2,295.9 834.2,295.9 834.8,296.7 835.1,297.6 835.3,298.7 835.5,299.7 835.7,300.7 835.9,301.8 836.0,302.9 836.2,304.0 836.3,305.1 836.4,306.2 836.6,307.3 836.7,308.4 836.8,309.4 836.9,310.5 837.0,311.6 837.1,312.7 837.2,313.8 837.3,315.0 837.4,316.3 837.5,317.3 837.5,318.4 837.6,319.5 837.7,320.6 837.8,321.7 837.9,322.9 837.9,324.1 838.0,325.3 838.1,326.5 838.2,327.8 838.3,329.1 838.3,330.1 838.4,331.2 838.4,332.2 838.5,333.3 838.6,334.3 838.6,335.4 838.7,336.6 838.7,337.7 838.8,338.8 838.9,340.0 838.9,341.2 839.0,342.4 839.0,343.6 839.1,344.9 839.2,346.2 839.2,347.4 839.3,348.8 839.3,350.1 839.4,351.4 839.5,352.8 839.5,354.2 839.6,355.6 839.6,357.0 839.7,358.5 839.8,360.0 839.8,361.5 839.9,362.5 839.9,363.5 839.9,364.5 840.0,365.6 840.0,366.6 840.1,367.7 840.1,368.7 840.1,369.8 840.2,370.9 840.2,372.0 840.3,373.1 840.3,374.2 840.3,375.3 840.4,376.4 840.4,377.6 840.5,378.7 840.5,379.9 840.5,381.0 840.6,382.2 840.6,383.4 840.7,384.5 840.7,385.7 840.7,386.9 840.8,388.1 840.8,389.3 840.9,390.5 840.9,391.7 840.9,392.9 841.0,394.1 841.0,395.3 841.1,396.5 841.1,397.8 841.1,399.0 841.2,400.2 841.2,401.4 841.3,402.6 841.3,403.8 841.3,405.0 841.4,406.1 841.4,407.3 841.5,408.5 841.5,409.6 841.5,410.8 841.6,411.9 841.6,413.0 841.7,414.1 841.7,415.1 841.7,416.2 841.8,417.2 841.8,418.7 841.9,420.1 842.0,421.4 842.0,422.6 842.1,423.8 842.1,424.9 842.2,426.1 842.3,427.1 842.4,428.2 842.6,428.9 842.6,428.9 842.8,427.9 842.9,426.9 843.0,425.8 843.1,424.6 843.2,423.6 843.2,422.5 843.3,421.3 843.3,420.0 843.4,418.7 843.5,417.3 843.5,415.8 843.6,414.8 843.6,413.8 843.6,412.7 843.7,411.7 843.7,410.6 843.8,409.5 843.8,408.4 843.8,407.3 843.9,406.2 843.9,405.0 844.0,403.9 844.0,402.8 844.0,401.6 844.1,400.4 844.1,399.3 844.2,398.1 844.2,396.9 844.2,395.8 844.3,394.6 844.3,393.4 844.4,392.3 844.4,391.1 844.4,389.9 844.5,388.8 844.5,387.6 844.6,386.5 844.6,385.3 844.6,384.2 844.7,383.0 844.7,381.9 844.8,380.8 844.8,379.7 844.8,378.5 844.9,377.4 844.9,376.3 845.0,375.2 845.0,374.1 845.0,373.0 845.1,372.0 845.1,370.9 845.2,369.8 845.2,368.8 845.2,367.7 845.3,366.7 845.3,365.7 845.4,364.6 845.4,363.6 845.4,362.6 845.5,361.1 845.6,359.7 845.6,358.2 845.7,356.8 845.7,355.3 845.8,353.9 845.9,352.5 845.9,351.2 846.0,349.8 846.0,348.5 846.1,347.2 846.2,345.9 846.2,344.6 846.3,343.3 846.3,342.1 846.4,340.9 846.5,339.7 846.5,338.5 846.6,337.3 846.6,336.1 846.7,335.0 846.8,333.9 846.8,332.8 846.9,331.7 846.9,330.6 847.0,329.5 847.1,328.5 847.1,327.4 847.2,326.4 847.2,325.4 847.3,324.1 847.4,322.8 847.5,321.5 847.6,320.3 847.6,319.1 847.7,317.9 847.8,316.7 847.9,315.6 848.0,314.5 848.0,313.4 848.1,312.3 848.2,311.2 848.3,310.2 848.4,309.2 848.5,308.0 848.6,306.8 848.7,305.6 848.8,304.5 848.9,303.4 849.0,302.3 849.1,301.3 849.2,300.3 849.3,299.1 849.4,298.0 849.5,296.9 849.6,295.8 849.8,294.8 849.9,293.7 850.0,292.6 850.2,291.6 850.3,290.5 850.5,289.5 850.7,288.5 850.9,287.4 851.1,286.3 851.3,285.4 851.6,284.3 852.0,283.4 852.6,282.9 852.6,282.9 853.4,283.4 853.9,284.3 854.3,285.3 854.7,286.3 855.0,287.3 855.2,288.3 855.5,289.3 855.7,290.3 855.9,291.4 856.1,292.3 856.3,293.4 856.5,294.5 856.7,295.5 856.9,296.5 857.1,297.6 857.2,298.6 857.4,299.7 857.5,300.7 857.7,301.8 857.9,303.0 858.0,304.0 858.1,305.0 858.3,306.0 858.4,307.1 858.6,308.2 858.7,309.3 858.8,310.4 859.0,311.5 859.1,312.6 859.2,313.6 859.4,314.6 859.5,315.7 859.6,316.7 859.7,317.7 859.8,318.8 860.0,319.8 860.1,320.9 860.2,321.9 860.3,323.0 860.4,324.0 860.6,325.1 860.7,326.2 860.8,327.2 860.9,328.3 861.0,329.3 861.2,330.4 861.3,331.4 861.4,332.4 861.5,333.5 861.6,334.5 861.8,335.6 861.9,336.7 862.1,337.8 862.2,338.9 862.3,339.9 862.5,341.0 862.7,342.0 862.8,343.1 863.0,344.2 863.3,345.2 863.5,346.2 863.9,347.1 864.2,347.3 864.2,347.3 864.9,346.6 865.3,345.7 865.7,344.7 865.9,343.7 866.2,342.7 866.4,341.6 866.7,340.6 866.9,339.5 867.1,338.5 867.3,337.5 867.5,336.4 867.7,335.4 867.8,334.3 868.0,333.3 868.2,332.3 868.4,331.2 868.6,330.2 868.7,329.1 868.9,328.0 869.1,327.0 869.3,325.9 869.5,324.9 869.6,323.8 869.8,322.8 870.0,321.7 870.2,320.7 870.4,319.7 870.5,318.7 870.7,317.7 870.9,316.6 871.1,315.6 871.3,314.5 871.5,313.5 871.7,312.5 871.9,311.5 872.2,310.4 872.4,309.4 872.6,308.4 872.9,307.3 873.1,306.4 873.4,305.3 873.6,304.3 873.9,303.3 874.2,302.4 874.5,301.4 874.9,300.4 875.3,299.5 875.8,298.5 876.3,297.7 877.1,297.0 877.5,296.9 877.5,296.9 878.4,297.3 879.1,298.0 879.6,298.9 880.1,299.8 880.5,300.8 880.9,301.8 881.2,302.7 881.5,303.7 881.8,304.7 882.1,305.6 882.4,306.7 882.6,307.6 882.9,308.6 883.2,309.7 883.4,310.7 883.6,311.7 883.9,312.8 884.1,313.8 884.3,314.8 884.5,315.8 884.8,316.8 885.0,317.9 885.2,319.0 885.4,320.0 885.6,321.0 885.8,322.0 886.0,323.0 886.2,324.0 886.4,325.0 886.6,326.0 886.8,327.0 887.0,328.0 887.2,329.0 887.4,330.0 887.6,331.0 887.8,332.1 888.0,333.1 888.3,334.1 888.5,335.1 888.7,336.1 889.0,337.1 889.2,338.1 889.5,339.1 889.8,340.1 890.2,341.1 890.6,342.0 891.3,342.7 891.5,342.8 891.5,342.8 892.5,342.6 893.4,342.3 894.4,341.9 895.3,341.4 896.2,341.0 897.2,340.8 897.5,340.8 897.5,340.8 898.3,341.4 898.8,342.3 899.2,343.2 899.5,344.2 899.8,345.1 900.0,346.1 900.3,347.1 900.5,348.2 900.7,349.2 900.9,350.2 901.1,351.3 901.3,352.3 901.5,353.3 901.7,354.4 901.9,355.5 902.0,356.6 902.2,357.6 902.4,358.6 902.5,359.6 902.7,360.7 902.8,361.8 903.0,362.9 903.2,364.0 903.3,365.1 903.5,366.2 903.6,367.2 903.8,368.2 903.9,369.2 904.0,370.2 904.2,371.2 904.3,372.3 904.5,373.5 904.7,374.6 904.8,375.7 905.0,376.7 905.1,377.8 905.3,378.8 905.5,379.9 905.5,380.0 905.5,380.0 905.7,381.1 905.8,382.1 906.0,383.1 906.2,384.2 906.3,385.4 906.5,386.4 906.6,387.4 906.7,388.5 906.9,389.6 907.0,390.7 907.2,391.9 907.3,392.9 907.4,393.9 907.5,395.0 907.6,396.1 907.8,397.2 907.9,398.3 908.0,399.4 908.1,400.6 908.2,401.7 908.4,402.9 908.5,404.0 908.6,405.0 908.7,406.0 908.8,407.1 908.9,408.1 909.0,409.2 909.1,410.3 909.2,411.4 909.3,412.5 909.4,413.6 909.5,414.7 909.6,415.8 909.7,416.9 909.8,418.1 909.9,419.2 910.0,420.4 910.1,421.5 910.2,422.7 910.3,423.8 910.4,425.0 910.5,426.1 910.6,427.3 910.7,428.4 910.8,429.6 910.9,430.7 911.0,431.9 911.1,433.0 911.2,434.1 911.3,435.2 911.4,436.2 911.5,437.3 911.6,438.3 911.7,439.3 911.8,440.5 911.9,441.6 912.0,442.7 912.1,443.7 912.3,444.8 912.4,445.9 912.6,446.9 912.8,447.9 913.0,448.9 913.4,449.8 913.5,449.9 913.5,449.9 914.1,449.1 914.4,448.1 914.7,447.1 914.9,446.1 915.1,445.0 915.3,444.0 915.4,443.0 915.6,441.9 915.7,440.8 915.9,439.7 916.0,438.7 916.2,437.7 916.3,436.6 916.5,435.6 916.6,434.5 916.7,433.4 916.9,432.3 917.0,431.2 917.2,430.1 917.3,429.0 917.4,427.9 917.6,426.8 917.7,425.7 917.9,424.6 918.0,423.5 918.1,422.4 918.3,421.3 918.4,420.3 918.6,419.3 918.7,418.2 918.8,417.2 919.0,416.2 919.1,415.1 919.3,414.0 919.5,412.9 919.6,411.9 919.8,410.9 919.9,409.9 920.1,408.8 920.3,407.7 920.5,406.7 920.7,405.6 920.9,404.6 921.1,403.6 921.3,402.6 921.5,401.6 921.8,400.6 922.0,399.6 922.3,398.6 922.6,397.6 923.0,396.7 923.5,395.8 924.2,395.1 924.4,395.0 924.4,395.0 925.3,395.5 925.9,396.3 926.3,397.2 926.7,398.2 927.0,399.1 927.3,400.1 927.6,401.1 927.9,402.1 928.1,403.0 928.4,404.1 928.6,405.1 928.8,406.1 929.0,407.1 929.2,408.2 929.4,409.3 929.6,410.3 929.8,411.4 929.9,412.5 930.1,413.5 930.3,414.5 930.4,415.6 930.6,416.7 930.7,417.8 930.9,418.8 931.0,419.9 931.2,420.9 931.3,422.0 931.4,423.1 931.6,424.2 931.7,425.4 931.8,426.4 932.0,427.4 932.1,428.5 932.2,429.6 932.3,430.7 932.4,431.8 932.6,432.9 932.7,434.1 932.8,435.2 932.9,436.4 933.0,437.4 933.1,438.5 933.2,439.5 933.3,440.6 933.4,441.6 933.5,442.7 933.6,443.8 933.7,444.9 933.8,446.1 933.9,447.2 934.0,448.4 934.1,449.6 934.2,450.8 934.3,452.0 934.4,453.2 934.5,454.4 934.6,455.5 934.7,456.5 934.8,457.5 934.8,458.5 934.9,459.6 935.0,460.6 935.1,461.7 935.2,462.8 935.2,463.9 935.3,465.0 935.4,466.1 935.5,467.2 935.6,468.3 935.6,469.5 935.7,470.6 935.8,471.8 935.9,473.0 936.0,474.1 936.0,475.3 936.1,476.5 936.2,477.7 936.3,478.9 936.4,480.2 936.4,481.4 936.5,482.6 936.6,483.9 936.7,485.1 936.8,486.3 936.8,487.6 936.9,488.9 937.0,490.1 937.1,491.4 937.2,492.7 937.2,493.9 937.3,495.2 937.4,496.5 937.5,497.7 937.6,499.0 937.6,500.3 937.7,501.5 937.8,502.8 937.9,504.0 938.0,505.2 938.0,506.5 938.1,507.7 938.2,508.9 938.3,510.0 938.4,511.2 938.4,512.3 938.5,513.4 938.6,514.5 938.7,515.5 938.8,516.6 938.9,517.8 939.0,519.0 939.1,520.1 939.2,521.1 939.3,522.3 939.4,523.3 939.5,524.3 939.7,525.4 940.0,526.4 940.2,526.7 940.2,526.7 940.5,525.7 940.7,524.7 940.8,523.6 940.9,522.5 941.0,521.3 941.1,520.2 941.1,519.1 941.2,517.8 941.3,516.5 941.4,515.5 941.4,514.5 941.5,513.4 941.5,512.3 941.6,511.2 941.7,510.1 941.7,508.9 941.8,507.7 941.8,506.5 941.9,505.3 942.0,504.1 942.0,502.8 942.1,501.6 942.1,500.3 942.2,499.1 942.3,497.8 942.3,496.6 942.4,495.3 942.4,494.0 942.5,492.7 942.6,491.4 942.6,490.2 942.7,488.9 942.7,487.6 942.8,486.4 942.9,485.1 942.9,483.8 943.0,482.6 943.0,481.3 943.1,480.1 943.2,478.8 943.2,477.6 943.3,476.4 943.3,475.2 943.4,473.9 943.5,472.7 943.5,471.6 943.6,470.4 943.6,469.2 943.7,468.0 943.8,466.9 943.8,465.7 943.9,464.6 943.9,463.4 944.0,462.3 944.1,461.2 944.1,460.1 944.2,459.0 944.2,457.9 944.3,456.8 944.4,455.7 944.4,454.7 944.5,453.6 944.5,452.6 944.6,451.6 944.7,450.6 944.7,449.5 944.8,448.5 944.9,447.2 944.9,445.9 945.0,444.6 945.1,443.3 945.2,442.1 945.3,440.9 945.3,439.6 945.4,438.4 945.5,437.2 945.6,436.1 945.7,434.9 945.7,433.7 945.8,432.6 945.9,431.5 946.0,430.4 946.1,429.3 946.1,428.2 946.2,427.2 946.3,426.1 946.4,425.1 946.5,424.1 946.5,423.1 946.6,421.9 946.7,420.6 946.8,419.5 946.9,418.3 947.0,417.1 947.1,416.0 947.2,414.9 947.3,413.8 947.4,412.7 947.5,411.7 947.6,410.6 947.7,409.6 947.8,408.6 948.0,407.4 948.1,406.3 948.2,405.1 948.3,404.0 948.4,403.0 948.6,401.9 948.7,400.9 948.8,399.9 948.9,398.7 949.1,397.6 949.2,396.5 949.4,395.4 949.5,394.4 949.6,393.4 949.8,392.3 950.0,391.2 950.1,390.2 950.2,389.7 950.2,389.7 950.4,388.7 950.5,387.7 950.7,386.7 950.8,385.7 951.0,384.6 951.2,383.5 951.4,382.4 951.6,381.3 951.7,380.3 951.9,379.2 952.1,378.1 952.3,377.1 952.5,376.0 952.6,375.0 952.8,374.0 953.0,373.0 953.2,372.0 953.4,371.0 953.6,369.9 953.8,368.8 954.0,367.8 954.2,366.8 954.4,365.8 954.6,364.8 954.8,363.7 955.0,362.6 955.2,361.6 955.4,360.6 955.7,359.6 955.9,358.5 956.1,357.5 956.4,356.5 956.5,356.0 956.5,356.0 956.7,355.0 957.0,354.0 957.2,353.1 957.5,352.1 957.7,351.0 958.0,350.0 958.2,349.0 958.5,348.0 958.8,347.0 959.0,346.0 959.3,344.9 959.6,343.9 959.9,342.9 960.1,342.0 960.4,341.0 960.7,340.0 961.1,339.0 961.4,338.0 961.7,337.1 962.1,336.1 962.5,335.2 962.9,334.2 963.1,333.8 963.1,333.8 963.6,332.9 964.0,332.0 964.5,331.0 965.0,330.2 965.5,329.3 966.0,328.4 966.5,327.6 967.1,326.7 967.7,325.9 968.4,325.1 969.0,324.4 969.8,323.7 970.0,323.5 970.0,323.5 970.8,322.9 971.6,322.3 972.5,321.7 973.3,321.2 974.2,320.7 975.2,320.3 976.1,320.0 976.3,320.0 976.3,320.0 977.3,319.8 978.3,319.6 979.3,319.5 980.3,319.3 981.3,319.2 982.3,319.1 983.3,319.1 983.3,319.1 984.3,319.1 985.3,319.1 986.3,319.0 987.3,319.0 988.3,319.0 989.3,319.0 990.3,319.0 991.3,319.0 991.3,319.0 991.5,319.0" stroke="#000" stroke-width="3.90" stroke-linecap="butt"/>
<g stroke="#f00" stroke-width="3.90" stroke-dasharray="16.3 16.2" stroke-linecap="butt">
<path d="M107.5,327.8 108.5,327.9 109.5,328.0 110.5,328.2 111.5,328.4 112.5,328.7 113.0,328.8 113.0,328.8 114.0,329.1 114.9,329.6 115.7,330.1 116.5,330.7 117.3,331.3 118.1,332.0 118.8,332.7 119.6,333.4 120.0,333.8 120.0,333.8 120.7,334.6 121.3,335.3 121.9,336.2 122.5,337.0 123.0,337.8 123.6,338.7 124.1,339.6 124.6,340.5 125.1,341.4 125.6,342.2 126.0,343.0 126.0,343.0 126.5,343.9 127.0,344.8 127.5,345.7 128.0,346.6 128.4,347.5 128.9,348.4 129.3,349.3 129.7,350.3 130.2,351.2 130.6,352.2 130.9,353.1 131.3,354.0 131.7,355.0 131.9,355.7 131.9,355.7 132.2,356.7 132.5,357.6 132.8,358.6 133.1,359.6 133.3,360.6 133.6,361.7 133.8,362.7 134.1,363.7 134.3,364.7 134.5,365.8 134.7,366.8 135.0,367.9 135.2,368.9 135.4,369.9 135.6,370.9 135.8,372.0 136.0,373.1 136.2,374.2 136.3,375.2 136.5,376.2 136.7,377.2 136.9,378.2 137.1,379.2 137.2,380.3 137.4,381.3 137.6,382.3 137.8,383.4 138.0,384.4 138.1,385.4 138.3,386.5 138.5,387.5 138.7,388.5 138.9,389.5 138.9,389.7 138.9,389.7 139.1,390.8 139.3,391.9 139.5,393.0 139.7,394.0 139.9,395.1 140.1,396.2 140.3,397.3 140.5,398.4 140.7,399.3 140.9,400.3 141.0,401.3 141.2,402.3 141.4,403.4 141.6,404.4 141.8,405.4 141.9,406.5 142.1,407.6 142.3,408.7 142.5,409.7 142.6,410.7 142.8,411.8 142.9,412.8 143.1,413.9 143.3,415.1 143.4,416.1 143.5,417.1 143.7,418.2 143.8,419.3 143.9,419.9 143.9,419.9 144.0,421.1 144.2,422.1 144.3,423.2 144.4,424.3 144.5,425.5 144.6,426.7 144.7,427.7 144.8,428.7 144.9,429.8 145.0,430.9 145.1,432.0 145.2,433.1 145.3,434.2 145.4,435.4 145.5,436.5 145.6,437.7 145.7,438.9 145.8,440.1 145.9,441.2 146.0,442.4 146.1,443.6 146.2,444.8 146.3,445.9 146.4,447.0 146.5,448.1 146.6,449.2 146.7,450.3 146.8,451.3 146.9,451.9 146.9,451.9 147.0,453.1 147.1,454.1 147.2,455.1 147.3,456.2 147.4,457.3 147.5,458.4 147.6,459.5 147.7,460.7 147.8,461.9 147.9,463.1 148.0,464.3 148.1,465.5 148.2,466.8 148.3,467.8 148.4,468.8 148.5,469.8 148.5,470.8 148.6,471.9 148.7,472.9 148.8,473.9 148.9,475.0 148.9,476.0 149.0,477.1 149.1,478.1 149.2,479.1 149.3,480.2 149.3,481.2 149.4,482.2 149.5,483.2 149.6,484.4 149.7,485.6 149.8,486.8 149.9,487.9 150.0,489.0 150.1,490.1 150.2,491.1 150.3,492.2 150.4,493.2 150.6,494.3 150.7,495.3 151.0,496.4 151.3,497.0 151.3,497.0 152.0,496.3 152.4,495.4 152.7,494.4 153.0,493.4 153.2,492.4 153.5,491.4 153.7,490.3 153.9,489.3 154.1,488.2 154.3,487.2 154.5,486.1 154.6,485.1 154.8,484.1 155.0,483.0 155.2,481.9 155.4,480.8 155.5,480.0 155.5,480.0 155.7,478.9 155.8,477.8 155.9,476.7 156.0,475.6 156.1,474.5 156.2,473.3 156.3,472.3 156.4,471.2 156.4,470.2 156.5,469.1 156.6,468.0 156.7,466.9 156.8,465.8 156.8,464.6 156.9,463.5 157.0,462.4 157.1,461.3 157.2,460.2 157.2,459.1 157.3,458.0 157.4,456.9 157.5,455.8 157.6,454.7 157.6,453.7 157.7,452.7 157.8,451.7 157.9,450.5 158.0,449.3 158.1,448.2 158.2,447.1 158.3,446.0 158.3,446.0 158.4,445.0 158.5,443.9 158.6,442.9 158.7,441.8 158.8,440.7 158.9,439.7 159.0,438.6 159.1,437.6 159.2,436.5 159.3,435.5 159.4,434.4 159.5,433.4 159.6,432.4 159.7,431.4 159.8,430.2 159.9,429.0 160.1,427.9 160.2,426.7 160.3,425.6 160.4,424.5 160.5,423.5 160.7,422.5 160.8,421.5 160.9,420.3 161.1,419.2 161.2,418.2 161.3,417.2 161.5,416.1 161.7,415.0 161.8,413.9 162.0,413.0 162.0,413.0 162.2,412.0 162.4,411.0 162.5,410.0 162.7,409.0 162.9,408.0 163.1,407.0 163.3,405.9 163.5,404.8 163.7,403.8 163.9,402.8 164.1,401.7 164.3,400.8 164.5,399.7 164.7,398.7 164.9,397.7 165.2,396.6 165.4,395.6 165.7,394.6 166.0,393.6 166.3,392.6 166.6,391.6 166.9,390.6 167.3,389.7 167.8,388.8 168.5,388.1 168.9,388.0 168.9,388.0 169.6,388.7 170.0,389.7 170.3,390.7 170.5,391.7 170.7,392.7 170.9,393.7 171.1,394.7 171.3,395.8 171.5,396.9 171.6,397.9 171.8,399.0 171.9,400.1 172.1,401.1 172.2,402.2 172.4,403.2 172.5,404.3 172.6,405.5 172.8,406.6 172.9,407.8 173.0,408.8 173.2,409.8 173.3,410.8 173.4,411.8 173.5,412.9 173.6,413.9 173.8,414.9 173.9,415.9 174.0,416.9 174.1,417.9 174.3,419.1 174.4,420.2 174.5,421.3 174.7,422.3 174.8,423.4 174.9,423.9 174.9,423.9 175.1,425.0 175.2,426.0 175.3,427.1 175.5,428.2 175.6,429.3 175.7,430.3 175.9,431.4 176.0,432.4 176.1,433.5 176.2,434.6 176.3,435.7 176.5,436.9 176.6,438.0 176.7,439.2 176.8,440.2 176.9,441.2 177.0,442.2 177.1,443.3 177.2,444.3 177.3,445.3 177.4,446.4 177.5,447.4 177.6,448.5 177.7,449.5 177.8,450.5 177.9,451.6 178.0,452.6 178.1,453.6 178.2,454.6 178.3,455.8 178.4,456.9 178.6,458.0 178.7,459.1 178.8,460.2 178.9,461.3 179.1,462.3 179.2,463.4 179.4,464.5 179.6,465.5 179.9,466.5 180.2,466.8 180.2,466.8 180.5,465.9 180.6,464.8 180.8,463.7 180.9,462.5 180.9,461.5 181.0,460.4 181.1,459.2 181.2,457.9 181.2,456.9 181.3,455.9 181.4,454.8 181.4,453.7 181.5,452.6 181.5,451.4 181.6,450.2 181.7,449.1 181.7,447.8 181.8,446.6 181.8,445.4 181.9,444.1 182.0,442.9 182.0,441.6 182.1,440.3 182.1,439.1 182.2,437.8 182.3,436.5 182.3,435.2 182.4,433.9 182.4,432.6 182.5,431.4 182.6,430.1 182.6,428.8 182.7,427.5 182.7,426.3 182.8,425.0 182.9,423.8 182.9,422.5 183.0,421.3 183.0,420.0 183.1,418.8 183.2,417.6 183.2,416.4 183.3,415.2 183.3,414.0 183.4,412.8 183.5,411.7 183.5,410.5 183.6,409.4 183.6,408.3 183.7,407.1 183.8,406.0 183.8,404.9 183.9,403.8 183.9,402.8 184.0,401.7 184.1,400.6 184.1,399.6 184.2,398.6 184.2,397.5 184.3,396.5 184.4,395.2 184.5,393.9 184.5,392.6 184.6,391.3 184.7,390.1 184.8,388.9 184.9,387.7 184.9,386.5 185.0,385.3 185.1,384.1 185.2,383.0 185.3,381.9 185.3,380.8 185.4,380.0 185.4,380.0 185.5,378.9 185.6,377.8 185.6,376.6 185.7,375.4 185.8,374.1 185.9,372.8 186.0,371.5 186.0,370.2 186.1,369.2 186.2,368.2 186.2,367.2 186.3,366.2 186.3,365.2 186.4,364.1 186.5,363.1 186.5,362.1 186.6,361.1 186.6,360.1 186.7,359.1 186.8,358.0 186.8,357.0 186.9,356.0 187.0,354.7 187.0,353.4 187.1,352.1 187.2,350.8 187.3,349.6 187.4,348.3 187.4,347.1 187.5,345.9 187.6,344.7 187.7,343.5 187.8,342.4 187.8,341.8 187.8,341.8 187.9,340.7 188.0,339.5 188.0,338.4 188.1,337.3 188.2,336.1 188.3,335.0 188.4,333.8 188.4,332.7 188.5,331.6 188.6,330.5 188.7,329.3 188.8,328.2 188.8,327.1 188.9,326.0 189.0,324.9 189.1,323.8 189.2,322.8 189.2,321.7 189.3,320.7 189.4,319.6 189.5,318.6 189.6,317.6 189.6,316.5 189.7,315.5 189.8,314.3 189.9,313.1 190.0,311.9 190.1,310.7 190.2,309.8 190.2,309.8 190.3,308.6 190.4,307.4 190.5,306.2 190.6,305.0 190.7,303.8 190.8,302.5 190.9,301.3 191.0,300.0 191.1,298.8 191.2,297.6 191.3,296.4 191.4,295.2 191.5,294.0 191.6,292.9 191.7,291.7 191.8,290.6 191.9,289.6 192.0,288.5 192.1,287.5 192.2,286.4"/>
<path d="M192.2,286.4 192.3,285.2 192.5,284.2 192.6,283.2 192.7,282.1 192.9,281.0 193.0,280.0 193.2,278.9 193.4,277.9 193.4,277.9 193.6,276.9 193.9,275.9 194.1,274.8 194.3,273.8 194.6,272.8 194.9,271.8 195.1,270.7 195.4,269.8 195.7,268.8 196.1,267.8 196.4,266.8 196.9,265.9 197.4,265.1 198.2,264.5 198.3,264.5 198.3,264.5 199.2,264.9 199.9,265.7 200.4,266.5 200.9,267.5 201.3,268.4 201.7,269.4 202.0,270.3 202.4,271.3"/>
<path d="M202.4,271.3 202.7,272.3 203.0,273.3 203.3,274.3 203.6,275.3 203.8,276.4 204.1,277.4 204.4,278.4 204.6,279.4 204.8,280.0 204.8,280.0 205.0,281.0 205.2,282.0 205.4,283.0 205.6,284.1 205.8,285.2 205.9,286.3 206.1,287.3 206.2,288.4 206.3,289.5 206.5,290.6 206.6,291.6 206.7,292.7 206.8,293.7 207.0,294.8 207.1,295.9 207.2,297.1 207.3,298.2 207.4,299.3 207.6,300.5 207.7,301.7 207.8,302.8 207.9,304.0 208.0,305.1 208.2,306.2 208.3,307.4 208.4,308.4 208.5,309.5 208.6,310.5 208.8,311.6 208.8,311.8 208.8,311.8 208.9,312.9 209.1,314.0 209.2,315.1 209.4,316.3 209.5,317.4 209.6,318.4 209.7,319.4 209.9,320.4 210.0,321.5 210.1,322.5 210.2,323.5 210.3,324.5 210.5,325.6 210.6,326.6 210.7,327.6 210.8,328.7 210.9,329.7 211.1,330.7 211.2,331.7 211.3,332.7 211.4,333.7 211.6,334.9 211.7,336.0 211.8,337.1 212.0,338.2 212.1,339.2 212.3,340.2 212.4,341.4 212.6,342.4 212.7,343.4 212.8,343.8 212.8,343.8 213.0,344.9 213.2,346.0 213.3,347.1 213.5,348.1 213.7,349.1 213.8,350.1 214.0,351.1 214.1,352.2 214.3,353.2 214.5,354.2 214.6,355.3 214.8,356.3 214.9,357.4 215.1,358.4 215.3,359.4 215.4,360.4 215.6,361.5 215.7,362.5 215.9,363.6 216.1,364.7 216.3,365.7 216.5,366.7 216.6,367.7"/>
<path d="M216.6,367.7 216.8,368.8 217.0,369.8 217.3,370.8 217.5,371.8 217.8,372.8 218.1,373.8 218.6,374.7 219.0,375.0 219.0,375.0 220.0,374.8 220.9,374.4 221.8,373.8 222.6,373.2 223.3,372.5 224.1,371.8 224.8,371.2 225.0,371.0 225.0,371.0 225.8,370.3 226.5,369.6 227.2,368.8 227.8,368.0 228.4,367.2 229.0,366.4 229.5,365.5 229.5,365.5 230.0,364.6 230.4,363.7 230.9,362.7 231.2,361.8"/>
<path d="M231.2,361.8 231.6,360.8 231.9,359.8 232.3,358.8 232.6,357.8 232.8,356.8 233.1,355.8 233.3,355.0 233.3,355.0 233.5,354.0 233.7,353.0 233.9,352.0 234.1,350.9 234.3,349.9 234.4,348.8 234.6,347.7 234.7,346.7 234.9,345.6 235.0,344.6 235.1,343.5 235.3,342.4 235.4,341.2 235.6,340.1 235.7,339.1 235.8,338.1 235.9,337.1 236.0,336.0 236.2,335.0 236.3,334.0 236.4,333.0 236.5,331.9 236.6,330.9 236.8,329.8 236.9,328.8 237.0,327.8 237.1,326.7 237.2,325.7 237.4,324.7 237.5,323.7 237.6,322.6 237.7,321.8 237.7,321.8 237.8,320.7 237.9,319.6 238.0,318.6 238.1,317.5 238.2,316.4 238.3,315.3 238.4,314.1 238.5,313.0 238.6,311.8 238.7,310.6 238.8,309.4 238.9,308.2 239.0,307.0 239.1,305.8 239.2,304.6 239.3,303.4 239.4,302.2 239.5,301.1 239.6,300.0 239.7,298.9 239.8,297.8"/>
<path d="M239.8,297.8 239.9,296.8 240.0,295.8 240.2,294.6 240.3,293.5 240.4,292.4 240.5,291.3 240.7,290.2 240.7,289.9 240.7,289.9 240.8,288.8 241.0,287.7 241.1,286.6 241.3,285.5 241.4,284.4 241.5,283.3 241.7,282.2 241.8,281.0 242.0,279.9 242.1,278.8 242.2,277.8 242.4,276.7 242.5,275.7 242.7,274.6 242.8,273.6 243.0,272.5 243.1,271.4 243.3,270.3 243.4,269.3 243.6,268.3 243.8,267.2 244.0,266.2 244.2,265.1"/>
<path d="M244.2,265.1 244.4,264.1 244.6,263.0 244.8,262.0 245.1,261.0 245.4,260.0 245.7,259.0 246.2,258.2 246.7,257.9 246.7,257.9 247.5,258.5 247.9,259.4 248.3,260.4 248.6,261.4 248.9,262.4 249.2,263.4 249.5,264.4 249.7,265.4 249.9,266.4 250.2,267.5 250.3,268.0 250.3,268.0 250.5,269.1 250.7,270.1 250.9,271.2 251.0,272.2 251.1,273.2 251.3,274.3 251.4,275.5 251.5,276.5 251.7,277.5 251.8,278.5 251.9,279.5 252.0,280.6 252.1,281.1 252.1,281.1"/>
<path d="M252.1,281.1 252.2,282.2 252.4,283.3 252.5,284.3 252.6,285.4 252.7,286.4 252.9,287.4 253.0,288.5 253.1,289.5 253.2,290.6 253.3,291.6 253.5,292.7 253.6,293.7 253.7,294.7 253.8,295.7 253.9,296.4 253.9,296.4 254.0,297.4 254.1,298.4 254.3,299.5 254.4,300.5 254.5,301.6 254.6,302.6 254.7,303.7 254.9,304.7 255.0,305.8 255.1,306.8 255.3,307.9 255.5,308.9 255.5,309.0 255.5,309.0 255.7,310.0 255.9,311.0 256.1,312.0 256.4,313.0 256.7,313.9"/>
<path d="M256.7,313.9 257.0,314.3 257.0,314.3 257.9,313.8 258.5,313.0 259.2,312.3 260.0,311.8 260.0,311.8 260.7,312.5 261.1,313.5 261.4,314.4 261.6,315.4 261.9,316.4 262.1,317.4 262.3,318.5 262.5,319.5 262.7,320.6 262.8,321.0 262.8,321.0 263.0,322.0 263.1,323.1 263.2,324.2 263.3,325.2 263.4,326.3 263.5,327.4 263.6,328.7 263.7,329.7 263.8,330.8 263.9,331.9 263.9,333.1 264.0,334.3 264.1,335.5 264.2,336.7 264.3,338.0 264.3,339.3 264.4,340.5 264.5,341.8 264.6,343.1 264.7,344.4 264.7,345.0 264.7,345.0 264.8,346.3 264.9,347.6 264.9,348.6 265.0,349.7 265.0,350.7 265.1,351.8 265.2,353.0 265.2,354.1 265.3,355.3 265.3,356.5 265.4,357.7 265.5,359.0 265.5,360.3 265.6,361.6 265.6,362.9 265.7,364.2 265.8,365.6 265.8,367.0 265.9,368.5 265.9,369.9 266.0,371.4 266.1,372.9 266.1,373.9 266.1,374.9 266.2,375.9 266.2,376.9 266.3,378.0 266.3,379.0 266.3,380.1 266.4,381.1 266.4,382.2 266.5,383.2 266.5,384.3 266.5,385.4 266.6,386.5 266.6,387.5 266.7,388.6 266.7,389.7 266.7,389.7 266.7,390.8 266.8,391.9 266.8,393.1 266.9,394.3 266.9,395.6 266.9,396.9 267.0,398.2 267.0,399.6 267.1,401.0 267.1,402.4 267.1,403.9 267.2,405.5 267.2,407.0 267.3,408.7 267.3,410.4 267.3,412.1 267.4,413.9 267.4,415.7 267.5,417.6 267.5,419.6 267.5,421.6 267.6,422.6 267.6,423.7 267.6,424.7 267.6,425.8 267.6,426.9 267.7,428.0 267.7,429.1 267.7,430.2 267.7,431.4 267.7,432.6 267.8,433.8 267.8,435.0 267.8,436.2 267.8,437.5 267.8,438.7 267.9,440.0 267.9,441.3"/>
<path d="M267.9,441.3 267.9,442.7 267.9,444.0 267.9,445.4 268.0,446.8 268.0,448.2 268.0,449.7 268.0,451.1 268.0,452.6 268.1,454.1 268.1,455.7 268.1,457.2 268.1,458.8 268.1,460.4 268.2,462.1 268.2,463.8 268.2,465.5 268.2,467.2 268.2,469.0 268.3,470.8 268.3,472.6 268.3,474.5 268.3,476.4 268.3,478.3 268.4,480.3 268.4,482.3 268.4,484.3 268.4,486.4 268.4,488.5 268.5,490.6 268.5,492.8 268.5,495.1 268.5,497.3 268.5,499.7 268.6,502.0 268.6,504.4 268.6,506.9 268.6,509.4 268.6,511.9 268.7,514.5 268.7,517.2 268.7,519.9 268.7,522.6 268.7,525.4 268.8,528.2 268.8,531.1 268.8,534.0 268.8,537.0 268.8,540.0 268.9,543.0 268.9,546.1 268.9,549.2 268.9,552.3 268.9,555.4 269.0,558.6 269.0,561.7 269.0,564.8 269.0,567.9 269.0,571.0 269.1,573.9 269.1,576.8 269.1,579.6"/>
<path d="M269.1,579.6 269.1,582.3 269.1,584.7 269.2,587.0 269.2,589.1 269.2,590.9 269.2,592.4 269.2,593.7 269.3,595.1 269.3,595.3 269.3,595.3 269.3,594.2 269.4,592.8 269.4,590.9 269.4,588.5 269.4,585.8 269.4,582.8 269.5,579.5 269.5,575.9 269.5,572.2 269.5,568.4 269.5,564.5 269.6,560.5 269.6,556.5 269.6,552.5 269.6,548.6 269.6,544.6 269.7,540.8 269.7,536.9 269.7,533.1 269.7,529.4 269.7,525.8 269.8,522.2 269.8,518.7 269.8,515.3 269.8,511.9 269.8,508.6 269.9,505.4 269.9,502.3 269.9,499.2 269.9,496.2 269.9,493.3 270.0,490.4 270.0,487.6 270.0,484.9 270.0,482.2 270.0,479.6 270.1,477.0 270.1,474.5 270.1,472.1 270.1,469.7 270.1,467.3 270.2,465.0 270.2,462.8"/>
<path d="M270.2,462.8 270.2,460.6 270.2,458.4 270.2,456.3 270.3,454.2 270.3,452.2 270.3,450.2 270.3,448.2 270.3,446.3 270.4,444.4 270.4,442.5 270.4,440.7 270.4,438.9 270.4,437.2 270.5,435.5 270.5,433.8 270.5,432.1 270.5,430.5 270.5,428.9 270.6,427.3 270.6,425.8 270.6,424.3 270.6,422.8 270.6,421.3 270.7,419.9 270.7,418.4 270.7,417.0 270.7,415.7 270.7,414.3 270.8,413.0 270.8,411.7 270.8,410.4 270.8,409.1 270.8,407.9 270.9,406.7 270.9,405.4 270.9,404.3 270.9,403.1 270.9,401.9 271.0,400.8 271.0,399.7 271.0,398.6 271.0,397.5 271.0,396.4 271.1,395.4 271.1,394.3 271.1,393.3 271.1,392.3 271.2,390.3 271.2,388.4 271.2,386.6 271.3,384.8 271.3,383.0 271.4,381.3 271.4,379.7 271.4,378.1 271.5,376.5 271.5,375.0 271.6,373.6 271.6,372.1 271.6,370.8 271.7,369.4 271.7,368.1 271.8,366.9 271.8,365.7 271.8,364.5 271.9,363.3 271.9,362.2 272.0,361.2 272.0,360.1 272.1,358.6 272.1,357.7 272.1,357.7 272.2,356.3 272.2,354.9 272.3,353.6 272.3,352.2 272.4,350.9 272.5,349.6 272.5,348.3 272.6,347.0 272.6,345.7 272.7,344.5 272.8,343.2 272.8,342.0 272.9,340.8 272.9,339.7 273.0,338.5 273.1,337.4 273.1,336.2 273.2,335.1 273.2,334.0 273.3,333.0 273.4,331.9 273.4,330.9 273.5,329.9 273.6,328.6 273.6,327.3 273.7,326.1 273.8,324.8 273.9,323.7 274.0,322.5 274.0,321.4 274.1,320.3 274.2,319.3 274.3,318.2 274.3,318.0 274.3,318.0 274.4,316.8 274.5,315.6 274.6,314.4 274.7,313.2 274.8,312.0 274.9,310.9 275.0,309.8 275.1,308.8 275.2,307.7 275.3,306.6 275.4,305.4 275.6,304.4 275.7,303.4 275.8,302.3 275.9,301.7 275.9,301.7"/>
<path d="M275.9,301.7 276.1,300.6 276.2,299.6 276.4,298.5 276.6,297.4 276.8,296.4 277.0,295.4 277.2,294.4 277.4,293.3 277.6,292.3 277.8,291.3 278.1,290.3 278.3,289.3 278.5,288.3 278.8,287.2 278.9,286.7 278.9,286.7 279.1,285.7 279.4,284.7 279.6,283.7 279.9,282.7 280.2,281.7 280.4,280.7 280.7,279.7 281.0,278.7 281.3,277.7 281.6,276.7 281.8,275.7 282.1,274.7 282.4,273.7 282.7,272.7 283.0,271.7 283.2,270.7 283.4,270.0 283.4,270.0"/>
<path d="M283.4,270.0 283.6,269.0 283.9,268.0 284.1,267.0 284.3,266.0 284.5,264.9 284.7,263.9 284.9,262.9 285.1,261.9 285.3,260.9 285.5,259.9 285.8,258.9 286.0,257.9 286.3,256.9 286.7,256.0 286.7,256.0 287.2,255.1 287.6,254.2 288.2,253.4 288.9,253.0 288.9,253.0 289.6,253.7 290.0,254.7 290.3,255.6 290.5,256.6 290.8,257.7 291.0,258.7 291.2,259.7 291.4,260.8 291.6,261.8 291.8,262.9 292.0,264.0 292.2,265.0 292.4,266.1 292.6,267.1 292.6,267.1"/>
<path d="M292.6,267.1 292.8,268.1 293.0,269.1 293.2,270.2 293.3,271.3 293.5,272.3 293.7,273.4 293.8,274.5 294.0,275.6 294.1,276.6 294.3,277.7 294.4,278.7 294.5,279.7 294.7,280.8 294.8,281.8 294.9,282.4 294.9,282.4 295.0,283.5 295.2,284.6 295.3,285.7 295.4,286.7 295.6,287.8 295.7,288.8 295.8,289.9 295.9,290.9 296.0,292.0 296.2,293.1 296.3,294.1 296.4,295.2 296.5,296.2 296.7,297.3 296.8,298.4 296.9,299.1 296.9,299.1"/>
<path d="M296.9,299.1 297.1,300.2 297.2,301.3 297.4,302.4 297.5,303.4 297.7,304.4 297.9,305.4 298.0,306.5 298.2,307.6 298.4,308.7 298.6,309.8 298.8,310.8 298.9,311.9 299.1,313.0 299.3,314.1 299.4,314.7 299.4,314.7 299.6,315.7 299.7,316.8 299.9,317.9 300.0,318.9 300.2,319.9 300.3,321.0 300.4,322.1 300.6,323.2 300.7,324.4 300.8,325.4 301.0,326.4 301.1,327.5 301.2,328.6 301.3,329.7 301.4,330.8 301.6,331.9 301.7,333.1 301.8,334.2 301.9,335.4 302.0,336.6 302.1,337.6 302.2,338.6 302.3,339.6 302.4,340.6 302.5,341.7 302.6,342.7 302.7,343.7 302.8,344.8 302.9,345.8 303.0,346.9 303.1,347.9 303.2,348.9 303.3,350.0 303.4,351.0 303.5,352.0 303.6,353.0 303.8,354.2 303.9,355.4 304.0,356.5 304.1,357.6 304.2,358.7 304.4,359.7 304.5,360.7 304.6,361.8 304.8,362.9 304.9,364.0 305.1,365.0 305.3,366.1 305.6,367.0 306.0,367.7 306.0,367.7 306.5,366.8 306.7,365.8 306.9,364.8 307.1,363.7 307.2,362.7 307.3,361.6 307.5,360.6 307.6,359.5 307.7,358.4 307.8,357.2 307.9,356.0 308.0,355.0 308.1,354.0 308.2,352.9 308.3,351.9 308.4,350.8 308.5,349.7 308.6,348.6 308.7,347.5 308.8,346.4 308.9,345.3 309.0,344.2 309.1,343.1 309.2,342.0 309.3,340.9 309.4,339.8 309.5,338.7 309.6,337.6 309.7,336.5 309.8,335.5 309.9,334.4 310.0,333.4 310.1,332.3 310.2,331.3 310.3,330.3 310.4,329.3 310.6,328.1 310.7,326.9 310.8,325.8 310.9,324.7 311.0,323.6 311.2,322.5 311.3,321.5 311.4,320.4 311.5,319.4 311.7,318.3 311.8,317.2 311.9,316.1 312.1,315.1 312.2,314.1 312.4,313.0 312.5,312.0 312.7,311.0 312.9,309.9 313.1,308.9 313.3,307.8 313.5,306.8 313.7,305.7 314.0,304.7"/>
<path d="M314.0,304.7 314.3,303.7 314.7,302.8 315.2,302.0 315.5,301.9 315.5,301.9 316.1,302.7 316.4,303.7 316.6,304.7 316.8,305.7 317.0,306.7 317.2,307.7 317.3,308.7 317.5,309.7 317.6,310.8 317.8,311.9 317.9,312.9 318.0,314.0 318.1,315.0 318.2,316.1 318.4,317.3 318.5,318.4 318.6,319.4 318.7,320.5 318.8,321.5 318.9,322.6 319.0,323.6 319.1,324.7 319.2,325.8 319.3,326.9 319.4,328.0 319.5,329.1 319.6,330.2 319.7,331.3 319.8,332.5 319.9,333.6 320.0,334.7 320.1,335.7 320.2,336.8 320.3,337.9 320.4,338.9 320.5,340.1 320.6,341.2 320.7,342.3 320.9,343.3 321.0,344.4 321.2,345.5 321.3,346.5 321.6,347.5 321.9,348.0 321.9,348.0 322.2,347.1 322.4,346.0 322.5,344.9 322.6,343.9 322.7,342.7 322.8,341.7 322.9,340.6 322.9,339.5 323.0,338.3 323.1,337.0 323.2,335.7 323.3,334.4 323.3,333.4 323.4,332.4 323.4,331.3 323.5,330.3 323.6,329.2 323.6,328.1 323.7,327.0 323.7,325.9 323.8,324.8 323.9,323.7 323.9,322.6 324.0,321.5 324.0,320.4 324.1,319.3 324.2,318.2 324.2,317.1 324.3,316.0 324.3,314.9 324.4,313.8 324.5,312.7 324.5,311.6 324.6,310.5 324.6,309.5 324.7,308.4 324.8,307.4 324.8,306.3 324.9,305.3 324.9,304.3 325.0,303.2 325.1,302.2"/>
<path d="M325.1,302.2 325.1,300.9 325.2,299.6 325.3,298.3 325.4,297.0 325.5,295.8 325.5,294.6 325.6,293.3 325.7,292.2 325.8,291.0 325.9,289.8 325.9,288.7 326.0,287.6 326.1,286.5 326.2,285.4 326.3,284.4 326.3,283.4 326.4,282.4 326.5,281.2 326.6,280.0 326.7,278.8 326.8,277.7 326.9,276.6 327.0,275.6 327.1,274.5 327.2,273.4 327.4,272.2 327.5,271.1 327.6,270.1 327.7,269.0"/>
<path d="M327.7,269.0 327.9,267.9 328.0,266.9 328.2,265.8 328.3,264.8 328.5,263.8 328.7,262.8 329.0,261.8 329.3,260.8 329.9,260.0 329.9,260.0 329.9,260.0 330.5,260.7 330.9,261.7 331.1,262.7 331.4,263.7 331.6,264.8 331.7,265.8 331.9,266.9 332.1,268.0 332.2,269.0 332.3,270.1 332.5,271.1 332.6,272.2 332.7,273.3 332.8,274.4 332.9,275.6 333.0,276.6 333.1,277.7 333.2,278.8 333.3,280.0 333.4,281.1 333.5,282.3 333.6,283.3 333.7,284.4"/>
<path d="M333.7,284.4 333.8,285.4 333.9,286.5 333.9,287.6 334.0,288.7 334.1,289.9 334.2,291.1 334.3,292.3 334.3,293.5 334.4,294.8 334.5,296.1 334.6,297.4 334.6,298.4 334.7,299.4 334.8,300.5 334.8,301.6 334.9,302.6 334.9,303.8 335.0,304.9 335.1,306.0 335.1,307.2 335.2,308.4 335.2,309.6 335.3,310.8 335.4,312.1 335.4,313.3 335.5,314.6 335.5,315.9"/>
<path d="M335.5,315.9 335.6,317.3 335.7,318.6 335.7,320.0 335.8,321.4 335.8,322.9 335.9,324.3 336.0,325.8 336.0,326.8 336.0,327.8 336.1,328.9 336.1,329.9 336.2,330.9 336.2,332.0 336.2,333.1 336.3,334.2 336.3,335.3 336.4,336.4 336.4,337.5 336.4,338.7 336.5,339.8 336.5,341.0 336.6,342.2 336.6,343.4 336.6,344.6 336.7,345.9 336.7,347.1 336.8,348.4 336.8,349.6 336.8,350.9 336.9,352.2 336.9,353.6 337.0,354.9 337.0,356.3 337.0,357.6 337.1,359.0 337.1,360.4 337.2,361.9 337.2,363.3 337.2,364.8 337.3,366.3 337.3,367.7 337.4,369.3 337.4,370.8 337.4,372.3 337.5,373.9 337.5,375.5 337.6,377.1 337.6,378.7 337.6,380.4 337.7,382.0 337.7,383.7 337.8,385.4 337.8,387.1 337.8,388.8 337.9,390.6 337.9,392.3 338.0,394.1 338.0,395.9 338.0,397.7 338.1,399.5 338.1,401.3 338.2,403.2 338.2,405.0 338.2,406.9 338.3,408.8 338.3,410.6 338.4,412.5 338.4,414.4 338.4,416.3 338.5,418.1 338.5,420.0 338.6,421.9 338.6,423.7 338.6,425.5 338.7,427.3 338.7,429.1 338.8,430.9 338.8,432.6 338.8,434.2 338.9,435.8 338.9,437.4 339.0,438.9 339.0,440.4 339.0,441.7 339.1,443.0 339.1,444.2 339.2,445.3 339.2,446.3 339.3,447.6 339.3,448.6 339.4,449.7 339.5,450.0 339.5,450.0 339.8,449.0 339.9,447.9 340.0,446.8 340.1,445.6 340.2,444.5 340.2,443.4 340.3,442.2 340.4,441.0 340.5,439.8 340.6,438.6 340.6,437.4 340.7,436.3 340.8,435.1 340.9,434.1 341.0,433.1 341.1,431.9 341.2,430.9 341.3,429.8 341.4,428.7 341.7,428.0 341.7,428.0 341.9,429.0 342.0,430.0 342.1,431.1 342.2,432.5 342.2,433.6 342.3,434.9 342.4,436.3 342.4,437.8 342.5,438.9 342.5,440.0 342.5,441.2 342.6,442.4 342.6,443.7 342.7,445.1 342.7,446.5 342.7,448.0 342.8,449.5 342.8,451.1 342.9,452.8 342.9,454.5 342.9,456.3 343.0,458.1 343.0,460.0 343.1,462.0 343.1,463.0 343.1,464.0 343.1,465.1 343.1,466.1 343.2,467.2 343.2,468.3 343.2,469.4 343.2,470.5 343.2,471.7 343.3,472.8 343.3,474.0 343.3,475.2 343.3,476.4 343.3,477.7 343.4,478.9 343.4,480.2 343.4,481.4 343.4,482.7 343.4,484.1 343.5,485.4 343.5,486.7 343.5,488.1 343.5,489.5 343.5,490.9 343.6,492.3 343.6,493.7 343.6,495.1 343.6,496.6 343.6,498.0 343.7,499.5 343.7,501.0 343.7,502.5 343.7,504.0 343.7,505.5 343.8,507.0 343.8,508.6 343.8,510.1 343.8,511.6 343.8,513.2 343.9,514.7 343.9,516.2 343.9,517.7 343.9,519.3 343.9,520.8 344.0,522.2 344.0,523.7 344.0,525.1 344.0,526.6 344.0,528.0 344.1,529.3 344.1,530.6 344.1,531.9 344.1,533.1 344.1,534.3 344.2,535.4 344.2,536.5 344.2,538.4 344.3,540.0 344.3,541.2 344.4,542.4 344.4,542.6 344.4,542.6 344.5,541.2 344.5,539.5 344.5,538.4 344.6,537.2 344.6,535.9 344.6,534.4 344.6,532.8 344.6,531.2 344.7,529.4 344.7,527.6 344.7,525.6 344.7,523.7 344.7,521.6 344.8,519.6 344.8,517.5 344.8,515.3 344.8,513.1 344.8,510.9 344.9,508.7 344.9,506.5 344.9,504.3 344.9,502.1 344.9,499.9 345.0,497.6 345.0,495.4 345.0,493.2 345.0,491.0 345.0,488.9 345.1,486.7 345.1,484.6 345.1,482.5 345.1,480.3 345.1,478.3 345.2,476.2 345.2,474.2 345.2,472.1 345.2,470.1 345.2,468.2 345.3,466.2 345.3,464.3 345.3,462.4 345.3,460.5 345.3,458.6 345.4,456.8 345.4,455.0 345.4,453.2 345.4,451.4 345.4,449.6 345.5,447.9 345.5,446.2 345.5,444.5 345.5,442.8 345.5,441.2 345.6,439.5 345.6,437.9 345.6,436.3 345.6,434.8 345.6,433.2 345.7,431.7 345.7,430.2 345.7,428.7 345.7,427.2 345.7,425.8 345.8,424.3 345.8,422.9 345.8,421.5 345.8,420.1 345.8,418.7 345.9,417.4 345.9,416.0 345.9,414.7 345.9,413.4 345.9,412.1 346.0,410.8 346.0,409.5 346.0,408.3 346.0,407.0 346.0,405.8 346.1,404.6 346.1,403.4 346.1,402.2 346.1,401.0 346.1,399.9 346.2,398.7 346.2,397.6 346.2,396.4 346.2,395.3 346.2,394.2 346.3,393.1 346.3,392.1 346.3,391.0 346.3,389.9 346.3,388.9 346.4,387.8 346.4,386.8 346.4,385.8 346.4,384.8 346.5,382.8 346.5,380.9 346.5,379.0 346.6,377.1 346.6,375.3 346.7,373.5 346.7,371.7 346.7,370.0 346.8,368.3 346.8,366.6 346.9,364.9 346.9,363.3 346.9,361.7 347.0,360.2 347.0,358.6 347.1,357.1 347.1,355.7 347.1,354.2 347.2,352.8 347.2,351.4 347.3,350.0 347.3,348.6 347.3,347.3 347.4,345.9 347.4,344.6 347.5,343.4 347.5,342.1 347.5,340.9 347.6,339.6 347.6,338.4 347.7,337.3 347.7,336.1 347.7,334.9 347.8,333.8 347.8,332.7 347.9,331.6 347.9,330.5 347.9,329.5 348.0,328.4 348.0,327.4 348.1,326.4 348.1,325.4 348.2,323.9 348.2,322.4 348.3,321.0 348.3,319.6 348.4,318.3"/>
<path d="M348.4,318.3 348.5,317.0 348.5,315.7 348.6,314.4 348.6,313.2 348.7,311.9 348.8,310.8 348.8,309.6 348.9,308.5 348.9,307.3 349.0,306.3 349.1,305.2 349.1,304.1 349.2,303.1 349.3,301.8 349.3,300.5 349.4,299.3 349.5,298.1 349.6,296.9 349.7,295.7 349.7,294.6 349.8,293.6 349.9,292.5 350.0,291.5 350.1,290.3 350.2,289.2 350.3,288.1 350.4,287.0 350.5,286.0"/>
<path d="M350.5,286.0 350.6,284.9 350.7,283.8 350.8,282.8 351.0,281.7 351.1,280.7 351.3,279.7 351.5,278.7 351.7,277.6 352.0,276.7 352.5,275.9 352.5,275.9 353.3,276.5 353.7,277.5 354.1,278.5 354.4,279.5 354.6,280.4 354.9,281.4 355.1,282.4 355.3,283.5 355.5,284.5 355.7,285.5 355.9,286.6 356.1,287.6 356.3,288.6 356.5,289.7 356.6,290.8 356.8,291.8 357.0,292.8 357.1,293.8 357.3,294.8 357.4,295.9 357.6,296.9 357.8,297.9 357.9,298.9"/>
<path d="M357.9,298.9 358.1,300.0 358.2,300.9 358.4,302.0 358.6,303.1 358.8,304.2 359.0,305.1 359.2,306.2 359.4,307.2 359.6,308.3 359.9,309.3 360.3,310.2 360.8,310.8 360.8,310.8 361.4,310.1 361.8,309.1 362.0,308.1 362.3,307.1 362.5,306.1 362.7,305.1 362.9,304.0 363.1,303.0 363.3,302.0 363.5,300.9 363.7,299.9 363.9,298.8 364.1,297.8 364.3,296.8 364.6,295.7 364.8,294.7 365.0,293.7 365.3,292.7 365.6,291.7 366.0,290.7"/>
<path d="M366.0,290.7 366.6,289.9 366.8,289.9 366.8,289.9 367.3,290.7 367.6,291.8 367.8,292.8 368.0,293.9 368.2,295.0 368.3,296.0 368.5,297.2 368.6,298.2 368.7,299.3 368.8,300.5 368.9,301.6 369.0,302.7 369.1,303.8 369.2,305.0 369.3,306.2 369.4,307.2 369.5,308.3 369.6,309.4 369.6,310.5 369.7,311.7 369.8,312.8 369.9,314.1 370.0,315.3 370.0,316.6 370.1,317.9 370.2,318.9 370.2,319.9"/>
<path d="M370.2,319.9 370.3,321.0 370.4,322.1 370.4,323.2 370.5,324.3 370.5,325.4 370.6,326.5 370.7,327.7 370.7,328.9 370.8,330.1 370.8,331.3 370.9,332.6 371.0,333.8 371.0,335.1 371.1,336.4 371.1,337.8 371.2,339.1 371.3,340.5 371.3,341.9 371.4,343.3 371.4,344.7 371.5,346.2 371.6,347.6 371.6,349.1 371.7,350.6 371.7,351.6 371.8,352.6 371.8,353.6 371.8,354.7 371.9,355.7 371.9,356.8 372.0,357.8 372.0,358.9 372.0,359.9 372.1,361.0 372.1,362.1 372.2,363.1 372.2,364.2 372.2,365.3 372.3,366.4 372.3,367.5 372.4,368.6 372.4,369.7 372.4,370.7 372.5,371.8 372.5,372.9 372.6,374.0 372.6,375.1 372.6,376.2 372.7,377.2 372.7,378.3 372.8,379.4 372.8,380.4 372.8,381.5 372.9,382.5 372.9,383.5 373.0,384.5 373.0,386.0 373.1,387.4 373.1,388.8 373.2,390.1 373.3,391.4 373.3,392.6 373.4,393.8 373.4,394.9 373.5,396.1 373.6,397.3 373.7,398.4 373.8,399.5 374.0,400.0 374.0,400.0 374.3,399.1 374.4,398.0 374.6,396.8 374.7,395.7 374.7,394.6 374.8,393.5 374.9,392.3 375.0,391.0 375.0,390.0 375.1,388.9 375.2,387.9 375.2,386.8 375.3,385.6 375.3,384.5 375.4,383.3 375.5,382.1 375.5,380.9 375.6,379.7 375.6,378.4 375.7,377.2 375.8,375.9 375.8,374.7 375.9,373.4 375.9,372.1 376.0,370.8 376.1,369.6 376.1,368.3 376.2,367.0 376.2,365.7 376.3,364.5 376.4,363.2 376.4,361.9 376.5,360.7 376.5,359.4 376.6,358.2 376.7,356.9 376.7,355.7 376.8,354.5 376.8,353.2 376.9,352.0 377.0,350.8 377.0,349.6 377.1,348.5 377.1,347.3 377.2,346.1 377.3,345.0 377.3,343.9 377.4,342.7 377.4,341.6 377.5,340.5 377.6,339.4 377.6,338.3 377.7,337.3 377.7,336.2 377.8,335.2 377.9,334.1 377.9,333.1 378.0,332.1 378.1,330.8 378.1,329.5 378.2,328.2 378.3,326.9 378.4,325.7 378.5,324.5 378.5,323.3 378.6,322.1 378.7,320.9 378.8,319.8 378.9,318.7 378.9,317.6 379.0,316.5 379.1,315.4 379.2,314.4 379.3,313.4"/>
<path d="M379.3,313.4 379.3,312.4 379.4,311.1 379.5,309.9 379.6,308.8 379.7,307.6 379.8,306.5 379.9,305.4 380.0,304.4 380.1,303.4 380.2,302.4 380.4,301.2 380.5,300.1 380.6,299.0 380.7,298.0 380.8,297.0 381.0,295.9 381.1,294.8 381.3,293.8 381.4,292.7 381.6,291.7 381.8,290.6 381.9,289.6 382.1,288.6 382.4,287.6 382.6,286.6 382.9,285.6 383.4,284.7 383.8,284.5 383.8,284.5 384.3,285.3 384.5,286.4"/>
<path d="M384.5,286.4 384.7,287.4 384.9,288.5 385.0,289.5 385.1,290.6 385.2,291.7 385.3,292.7 385.4,293.8 385.5,294.9 385.6,296.1 385.7,297.2 385.8,298.2 385.9,299.3 386.0,300.5 386.0,301.7 386.1,302.9 386.2,304.2 386.3,305.2 386.3,306.2 386.4,307.3 386.4,308.4 386.5,309.5 386.6,310.7 386.6,311.8 386.7,313.0 386.7,314.3 386.8,315.6 386.9,316.9 386.9,318.2"/>
<path d="M386.9,318.2 387.0,319.6 387.0,321.0 387.1,322.5 387.2,323.9 387.2,325.0 387.2,326.0 387.3,327.0 387.3,328.1 387.4,329.2 387.4,330.3 387.4,331.4 387.5,332.6 387.5,333.7 387.6,334.9 387.6,336.1 387.6,337.4 387.7,338.6 387.7,339.9 387.8,341.2 387.8,342.5 387.8,343.8 387.9,345.2 387.9,346.6 388.0,348.0 388.0,349.5 388.0,350.9 388.1,352.4 388.1,354.0 388.2,355.5 388.2,357.1 388.2,358.7 388.3,360.4 388.3,362.1 388.4,363.8 388.4,365.6 388.4,367.4 388.5,369.2 388.5,371.1 388.6,373.0 388.6,374.9 388.6,376.9 388.7,377.9 388.7,379.0 388.7,380.0 388.7,381.1 388.7,382.1 388.8,383.2 388.8,384.3 388.8,385.4 388.8,386.5 388.8,387.6 388.9,388.8 388.9,389.9 388.9,391.1 388.9,392.3 388.9,393.4 389.0,394.7 389.0,395.9 389.0,397.1 389.0,398.4 389.0,399.7 389.1,400.9 389.1,402.3 389.1,403.6 389.1,404.9 389.1,406.3 389.2,407.7 389.2,409.1 389.2,410.5 389.2,411.9 389.2,413.4 389.3,414.8 389.3,416.3 389.3,417.9 389.3,419.4 389.3,421.0 389.4,422.6 389.4,424.2 389.4,425.8 389.4,427.5 389.4,429.2 389.5,430.9 389.5,432.6 389.5,434.4 389.5,436.2 389.5,438.0 389.6,439.9 389.6,441.8 389.6,443.7 389.6,445.7 389.6,447.7 389.7,449.7 389.7,451.8 389.7,453.9 389.7,456.0 389.7,458.2 389.8,460.4 389.8,462.7 389.8,465.0 389.8,467.4 389.8,469.8 389.9,472.2 389.9,474.8 389.9,477.3 389.9,479.9 389.9,482.6 390.0,485.3 390.0,488.1 390.0,491.0 390.0,493.9 390.0,496.9 390.1,499.9 390.1,503.0 390.1,506.2 390.1,509.5 390.1,512.8 390.2,516.3 390.2,519.8 390.2,523.4 390.2,527.0 390.2,530.8 390.3,534.6 390.3,538.5 390.3,542.5 390.3,546.6 390.3,550.8 390.4,555.0 390.4,559.3 390.4,563.6 390.4,568.0 390.4,572.4 390.5,576.8 390.5,581.1 390.5,585.4 390.5,589.6 390.5,593.6 390.6,597.3 390.6,600.8 390.6,603.9 390.6,606.6 390.6,608.8 390.7,610.4 390.7,611.7 390.7,611.7 390.8,610.3 390.8,609.1 390.9,607.4 390.9,605.4 390.9,604.3 391.0,603.1 391.0,601.9 391.0,600.6 391.0,599.2 391.0,597.8 391.1,596.3 391.1,594.8 391.1,593.2 391.1,591.6 391.1,590.0 391.2,588.4 391.2,586.7 391.2,585.0 391.2,583.3 391.2,581.6 391.3,579.9 391.3,578.1 391.3,576.4 391.3,574.6 391.3,572.9 391.4,571.1 391.4,569.4 391.4,567.6 391.4,565.9 391.4,564.1 391.5,562.4 391.5,560.7 391.5,559.0 391.5,557.3 391.5,555.6 391.6,553.9 391.6,552.2 391.6,550.6 391.6,548.9 391.6,547.3 391.7,545.6 391.7,544.0 391.7,542.4 391.7,540.9 391.7,539.3 391.8,537.7 391.8,536.2 391.8,534.7 391.8,533.1 391.8,531.6 391.9,530.2 391.9,528.7 391.9,527.2 391.9,525.8 391.9,524.3 392.0,522.9 392.0,521.5 392.0,520.1 392.0,518.8 392.0,517.4 392.1,516.0 392.1,514.7 392.1,513.4 392.1,512.1 392.1,510.8 392.2,509.5 392.2,508.2 392.2,507.0 392.2,505.7 392.2,504.5 392.3,503.3 392.3,502.0 392.3,500.8 392.3,499.7 392.3,498.5 392.4,497.3 392.4,496.2 392.4,495.0 392.4,493.9 392.4,492.8 392.5,491.6 392.5,490.5 392.5,489.5 392.5,488.4 392.5,487.3 392.6,486.2 392.6,485.2 392.6,484.1 392.6,483.1 392.6,482.1 392.7,481.1 392.7,480.1 392.7,478.1 392.8,476.1 392.8,474.2 392.8,472.3 392.9,470.5 392.9,468.7 393.0,466.9 393.0,465.1 393.0,463.4 393.1,461.7 393.1,460.0 393.2,458.4 393.2,456.8 393.2,455.2 393.3,453.6 393.3,452.1 393.4,450.5 393.4,449.0 393.4,447.6 393.5,446.1 393.5,444.7 393.6,443.3 393.6,441.9 393.6,440.5 393.7,439.2 393.7,437.8 393.8,436.5 393.8,435.2 393.8,434.0 393.9,432.7 393.9,431.5 394.0,430.3 394.0,429.1 394.0,427.9 394.1,426.7 394.1,425.5 394.2,424.4 394.2,423.3 394.2,422.2 394.3,421.1 394.3,420.0 394.4,418.9 394.4,417.9 394.4,416.8 394.5,415.8 394.5,414.8 394.6,413.8 394.6,412.3 394.7,410.9 394.7,409.4 394.8,408.1 394.9,406.7 394.9,405.3 395.0,404.0 395.0,402.7 395.1,401.5 395.2,400.2 395.2,399.0 395.3,397.8 395.3,396.6 395.4,395.4 395.5,394.3 395.5,393.2 395.6,392.1 395.6,391.0 395.7,389.9 395.8,388.9 395.8,387.9 395.9,386.9 396.0,385.5 396.0,384.3 396.1,383.0 396.2,381.8 396.3,380.6 396.4,379.4 396.4,378.3 396.5,377.2 396.6,376.1 396.7,375.0 396.8,374.0 396.8,373.0 396.9,371.8 397.0,370.6 397.1,369.4 397.2,368.3 397.3,367.3 397.4,366.2 397.5,365.2 397.7,364.1 397.8,363.0 397.9,361.9 398.0,360.9 398.2,359.8 398.3,358.7 398.4,357.7 398.6,356.7 398.8,355.6 399.0,354.6 399.2,353.5 399.4,352.6 399.7,351.6 400.2,350.7 400.5,350.5 400.5,350.5 400.9,351.4 401.1,352.4 401.3,353.5 401.4,354.6 401.6,355.7 401.7,356.9 401.8,358.0 401.9,359.2 402.0,360.2 402.0,361.2 402.1,362.4 402.2,363.5 402.3,364.8 402.4,366.1 402.4,367.1 402.5,368.1 402.5,369.2 402.6,370.3 402.7,371.5 402.7,372.7 402.8,373.9 402.8,375.2 402.9,376.5 403.0,377.8 403.0,379.2 403.1,380.6 403.1,382.1 403.2,383.1 403.2,384.2 403.3,385.2 403.3,386.3 403.3,387.4 403.4,388.5 403.4,389.6 403.5,390.8 403.5,391.9 403.5,393.1 403.6,394.4 403.6,395.6 403.7,396.9 403.7,398.2 403.7,399.5 403.8,400.9 403.8,402.2 403.9,403.6 403.9,405.1 403.9,406.5 404.0,408.0 404.0,409.6 404.1,411.1 404.1,412.7 404.1,414.3 404.2,416.0 404.2,417.7 404.3,419.4 404.3,421.2 404.3,423.0 404.4,424.8 404.4,426.7 404.5,428.7 404.5,430.7 404.5,431.7 404.5,432.7 404.6,433.7 404.6,434.8 404.6,435.8 404.6,436.9 404.6,438.0 404.7,439.0 404.7,440.2 404.7,441.3 404.7,442.4 404.7,443.6 404.8,444.7 404.8,445.9 404.8,447.1 404.8,448.3 404.8,449.5 404.9,450.8 404.9,452.0 404.9,453.3 404.9,454.6 404.9,455.9 405.0,457.2 405.0,458.5 405.0,459.9 405.0,461.3 405.0,462.7 405.1,464.1 405.1,465.5 405.1,467.0 405.1,468.4 405.1,469.9 405.2,471.5 405.2,473.0 405.2,474.6 405.2,476.2 405.2,477.8 405.3,479.4 405.3,481.1 405.3,482.8 405.3,484.5 405.3,486.2 405.4,488.0 405.4,489.8 405.4,491.6 405.4,493.5 405.4,495.4 405.5,497.3 405.5,499.2 405.5,501.2 405.5,503.3 405.5,505.3 405.6,507.4 405.6,509.5 405.6,511.7 405.6,513.9 405.6,516.1 405.7,518.4 405.7,520.8 405.7,523.1 405.7,525.5 405.7,528.0 405.8,530.5 405.8,533.1 405.8,535.7 405.8,538.3 405.8,541.0 405.9,543.7 405.9,546.5 405.9,549.4 405.9,552.3 405.9,555.2 406.0,558.2 406.0,561.3 406.0,564.4 406.0,567.5 406.0,570.7 406.1,574.0 406.1,577.2 406.1,580.5 406.1,583.9 406.1,587.2 406.2,590.6 406.2,594.0 406.2,597.3 406.2,600.6 406.2,603.9 406.3,607.1 406.3,610.3 406.3,613.3 406.3,616.1"/>
<path d="M406.3,616.1 406.3,618.8 406.4,621.3 406.4,623.6 406.4,625.6 406.4,627.3 406.4,628.6 406.5,630.2 406.5,630.4 406.5,630.4 406.6,629.2 406.6,627.1 406.6,625.6 406.6,624.0 406.7,622.2 406.7,620.2 406.7,618.1 406.7,615.8 406.7,613.4 406.8,610.9 406.8,608.3 406.8,605.6 406.8,602.9 406.8,600.1 406.9,597.4 406.9,594.5 406.9,591.7 406.9,588.9 406.9,586.1 407.0,583.2 407.0,580.4 407.0,577.7 407.0,574.9 407.0,572.1 407.1,569.4 407.1,566.7 407.1,564.1 407.1,561.5 407.1,558.9 407.2,556.3 407.2,553.8 407.2,551.3 407.2,548.8 407.2,546.4 407.3,544.0 407.3,541.7 407.3,539.4 407.3,537.1 407.3,534.8 407.4,532.6 407.4,530.4 407.4,528.3 407.4,526.2 407.4,524.1 407.5,522.0 407.5,520.0 407.5,518.0 407.5,516.0 407.5,514.1 407.6,512.2 407.6,510.3 407.6,508.4 407.6,506.6 407.6,504.8 407.7,503.0 407.7,501.2 407.7,499.5 407.7,497.8 407.7,496.1 407.8,494.4 407.8,492.8 407.8,491.2 407.8,489.6 407.8,488.0 407.9,486.4 407.9,484.9 407.9,483.4 407.9,481.9 407.9,480.4 408.0,478.9 408.0,477.5 408.0,476.0 408.0,474.6 408.0,473.2 408.1,471.9 408.1,470.5 408.1,469.1 408.1,467.8 408.1,466.5 408.2,465.2 408.2,463.9 408.2,462.6 408.2,461.4 408.2,460.1 408.3,458.9 408.3,457.7 408.3,456.5 408.3,455.3 408.3,454.1 408.4,452.9 408.4,451.8 408.4,450.6 408.4,449.5 408.4,448.4 408.5,447.3 408.5,446.2 408.5,445.1 408.5,444.0 408.5,442.9 408.6,441.9 408.6,440.8 408.6,439.8 408.6,438.8 408.6,437.8 408.7,436.8 408.7,434.8 408.7,432.8 408.8,430.9 408.8,429.0 408.9,427.2 408.9,425.4 408.9,423.6 409.0,421.8 409.0,420.1 409.1,418.4 409.1,416.7 409.1,415.1 409.2,413.5 409.2,411.9 409.3,410.3 409.3,408.8 409.3,407.3 409.4,405.8 409.4,404.3 409.5,402.9 409.5,401.4 409.5,400.0 409.6,398.6 409.6,397.3 409.7,395.9 409.7,394.6 409.7,393.3 409.8,392.0 409.8,390.7 409.9,389.5 409.9,388.2 409.9,387.0 410.0,385.8 410.0,384.6 410.1,383.4 410.1,382.2 410.1,381.1 410.2,380.0 410.2,378.8 410.3,377.7 410.3,376.6 410.3,375.6 410.4,374.5 410.4,373.4 410.5,372.4 410.5,371.4 410.5,370.4 410.6,369.4 410.6,367.9 410.7,366.4 410.8,365.0 410.8,363.6 410.9,362.2 410.9,360.8 411.0,359.5 411.1,358.2 411.1,356.9 411.2,355.6 411.2,354.4 411.3,353.1 411.4,351.9 411.4,350.7 411.5,349.6 411.5,348.4 411.6,347.3 411.7,346.2 411.7,345.1 411.8,344.0 411.8,342.9 411.9,341.9 412.0,340.8 412.0,339.8 412.1,338.8 412.2,337.5 412.2,336.2 412.3,334.9 412.4,333.7 412.5,332.5 412.6,331.3 412.6,330.1 412.7,329.0 412.8,327.9 412.9,326.8 413.0,325.7 413.0,324.7 413.1,323.6 413.2,322.6 413.3,321.4 413.4,320.2 413.5,319.0 413.6,317.9 413.7,316.7 413.8,315.7 413.9,314.6 414.0,313.6 414.1,312.6 414.2,311.4 414.3,310.3 414.5,309.2 414.6,308.1 414.7,307.1 414.8,305.9 415.0,304.8 415.1,303.8 415.3,302.8 415.4,301.7 415.6,300.7 415.8,299.6 415.9,298.5 416.1,297.5 416.4,296.4 416.6,295.4 416.9,294.4 417.2,293.4 417.6,292.5 418.3,291.9 418.3,291.9 418.8,292.8 419.0,293.8 419.2,294.8 419.4,295.9 419.5,297.0 419.6,298.1 419.7,299.2 419.8,300.2 419.9,301.3 420.0,302.5 420.1,303.7 420.2,304.7 420.3,305.8 420.4,306.9 420.5,308.0 420.5,309.3 420.6,310.5 420.7,311.8 420.8,312.8 420.8,313.8 420.9,314.9 420.9,316.0 421.0,317.1 421.1,318.3 421.1,319.4 421.2,320.7 421.2,321.9 421.3,323.2 421.4,324.5 421.4,325.8 421.5,327.2 421.5,328.6 421.6,330.0 421.7,331.5 421.7,332.5 421.7,333.5 421.8,334.6 421.8,335.6 421.9,336.7 421.9,337.8 421.9,338.9 422.0,340.0 422.0,341.2 422.1,342.3 422.1,343.5 422.1,344.7 422.2,345.9 422.2,347.2 422.3,348.4 422.3,349.7 422.3,351.0 422.4,352.4 422.4,353.7 422.5,355.1 422.5,356.5 422.5,357.9 422.6,359.4 422.6,360.8 422.7,362.3 422.7,363.8 422.7,365.4 422.8,366.9 422.8,368.5 422.9,370.2 422.9,371.8 422.9,373.5 423.0,375.2 423.0,377.0 423.1,378.7 423.1,380.5 423.1,382.4 423.2,384.2 423.2,386.1 423.3,388.1 423.3,390.0 423.3,392.0 423.4,393.0 423.4,394.1 423.4,395.1 423.4,396.1 423.4,397.2 423.5,398.2 423.5,399.3 423.5,400.4 423.5,401.5 423.5,402.5 423.6,403.6 423.6,404.8 423.6,405.9 423.6,407.0 423.6,408.1 423.7,409.3 423.7,410.4 423.7,411.6 423.7,412.8 423.7,414.0 423.8,415.1 423.8,416.3 423.8,417.6 423.8,418.8 423.8,420.0 423.9,421.2 423.9,422.5 423.9,423.7 423.9,425.0 423.9,426.2 424.0,427.5 424.0,428.8 424.0,430.1 424.0,431.3 424.0,432.6 424.1,433.9 424.1,435.2 424.1,436.6 424.1,437.9 424.1,439.2 424.2,440.5 424.2,441.8 424.2,443.1 424.2,444.5 424.2,445.8 424.3,447.1 424.3,448.4 424.3,449.7 424.3,451.0 424.3,452.3 424.4,453.6 424.4,454.9 424.4,456.2 424.4,457.5 424.4,458.7 424.5,460.0 424.5,461.2 424.5,462.4 424.5,463.6 424.5,464.7 424.6,465.8 424.6,467.0 424.6,468.0 424.6,469.1 424.6,470.1 424.7,472.0 424.7,473.8 424.8,475.3 424.8,476.7 424.8,477.9 424.9,479.2 425.0,480.0 425.0,480.0 425.2,478.9 425.2,477.5 425.3,476.2 425.3,475.2 425.4,474.1 425.4,472.9 425.5,471.6 425.5,470.2 425.5,468.8 425.6,467.3 425.6,465.7 425.7,464.1 425.7,462.5 425.7,460.8 425.8,459.0 425.8,457.3 425.9,455.5 425.9,453.7 425.9,451.9 426.0,450.1 426.0,448.2 426.1,446.4 426.1,444.6 426.1,442.7 426.2,440.9 426.2,439.1 426.3,437.2 426.3,435.4 426.3,433.6 426.4,431.8 426.4,430.1 426.5,428.3 426.5,426.6 426.5,424.8 426.6,423.1 426.6,421.4 426.7,419.8 426.7,418.1 426.7,416.5 426.8,414.8 426.8,413.2 426.9,411.7 426.9,410.1 426.9,408.5 427.0,407.0 427.0,405.5 427.1,404.0 427.1,402.6 427.1,401.1 427.2,399.7 427.2,398.3 427.3,396.9 427.3,395.5 427.3,394.2 427.4,392.8 427.4,391.5 427.5,390.2 427.5,388.9 427.5,387.7 427.6,386.4 427.6,385.2 427.7,384.0 427.7,382.8 427.7,381.6 427.8,380.4 427.8,379.3 427.9,378.2 427.9,377.0 427.9,375.9 428.0,374.9 428.0,373.8 428.1,372.7 428.1,371.7 428.1,370.7 428.2,369.7 428.2,368.2 428.3,366.7 428.4,365.3 428.4,363.9 428.5,362.6 428.5,361.2 428.6,359.9 428.7,358.7 428.7,357.4 428.8,356.2 428.8,355.0 428.9,353.8 429.0,352.7 429.0,351.6 429.1,350.5 429.1,349.5 429.2,348.4 429.3,347.4 429.3,346.1 429.4,344.8 429.5,343.6 429.6,342.4 429.7,341.3 429.7,340.2 429.8,339.1 429.9,338.1 430.0,336.9 430.1,335.7 430.2,334.6 430.3,333.5 430.4,332.3 430.5,331.2 430.7,330.2 430.8,329.1 431.0,328.0 431.1,327.0 431.4,325.9 431.7,324.9 432.0,324.6 432.0,324.6 432.4,325.6 432.6,326.6 432.7,327.7 432.8,328.9 432.9,330.0 433.0,331.2 433.1,332.2 433.2,333.3 433.3,334.5 433.3,335.8 433.4,336.8 433.5,337.8 433.5,338.9 433.6,340.0 433.6,341.2 433.7,342.4 433.8,343.7 433.8,345.0 433.9,346.4 433.9,347.8 434.0,349.3 434.0,350.3 434.1,351.3 434.1,352.4 434.2,353.4 434.2,354.5 434.2,355.7 434.3,356.8 434.3,358.0 434.4,359.2 434.4,360.4 434.4,361.7 434.5,363.0 434.5,364.3 434.6,365.6 434.6,367.0 434.6,368.4 434.7,369.9 434.7,371.3 434.8,372.8 434.8,374.4 434.8,375.9 434.9,377.5 434.9,379.1 435.0,380.8 435.0,382.5 435.0,384.3 435.1,386.0 435.1,387.9 435.2,389.7 435.2,391.6 435.2,393.6 435.3,395.6 435.3,396.6 435.3,397.6 435.3,398.6 435.4,399.7 435.4,400.7 435.4,401.8 435.4,402.9 435.4,404.0 435.5,405.1 435.5,406.2 435.5,407.3 435.5,408.5 435.5,409.6 435.6,410.8 435.6,412.0 435.6,413.2 435.6,414.4 435.6,415.6 435.7,416.8 435.7,418.1 435.7,419.3 435.7,420.6 435.7,421.9 435.8,423.2 435.8,424.5 435.8,425.8 435.8,427.2 435.8,428.5 435.9,429.9 435.9,431.3 435.9,432.7 435.9,434.1 435.9,435.6 436.0,437.0 436.0,438.5 436.0,439.9 436.0,441.4 436.0,442.9 436.1,444.5 436.1,446.0 436.1,447.5 436.1,449.1 436.1,450.6 436.2,452.2 436.2,453.8 436.2,455.4 436.2,457.0 436.2,458.7 436.3,460.3 436.3,461.9 436.3,463.6 436.3,465.2 436.3,466.9 436.4,468.5 436.4,470.2 436.4,471.8 436.4,473.5 436.4,475.1 436.5,476.8 436.5,478.4 436.5,480.0 436.5,481.6 436.5,483.2 436.6,484.8 436.6,486.3 436.6,487.9 436.6,489.3 436.6,490.8 436.7,492.2 436.7,493.6 436.7,494.9 436.7,496.2 436.7,497.4 436.8,498.5 436.8,499.6 436.8,500.6 436.8,502.4 436.9,503.8 436.9,504.8 437.0,505.7 437.0,505.7 437.1,504.4 437.1,502.8 437.1,501.8 437.2,500.6 437.2,499.4 437.2,498.0 437.2,496.5 437.2,495.0 437.3,493.3 437.3,491.6 437.3,489.8 437.3,488.0 437.3,486.1 437.4,484.2 437.4,482.2 437.4,480.2 437.4,478.2 437.4,476.2 437.5,474.2 437.5,472.1 437.5,470.1 437.5,468.0 437.5,466.0 437.6,464.0 437.6,461.9 437.6,459.9 437.6,457.9 437.6,455.9 437.7,453.9 437.7,452.0 437.7,450.0 437.7,448.1 437.7,446.2 437.8,444.3 437.8,442.5 437.8,440.6 437.8,438.8 437.8,437.0 437.9,435.3 437.9,433.5 437.9,431.8 437.9,430.1 437.9,428.4 438.0,426.7 438.0,425.1 438.0,423.5 438.0,421.9 438.0,420.3 438.1,418.8 438.1,417.2 438.1,415.7 438.1,414.3 438.1,412.8 438.2,411.4 438.2,409.9 438.2,408.5 438.2,407.2 438.2,405.8 438.3,404.4 438.3,403.1 438.3,401.8 438.3,400.5 438.3,399.3 438.4,398.0 438.4,396.8 438.4,395.6 438.4,394.4 438.4,393.2 438.5,392.0 438.5,390.9 438.5,389.8 438.5,388.6 438.5,387.5 438.6,386.5 438.6,385.4 438.6,384.3 438.6,383.3 438.6,382.3 438.7,381.3 438.7,379.3 438.7,377.4 438.8,375.5 438.8,373.7 438.9,371.9 438.9,370.2 438.9,368.6 439.0,366.9 439.0,365.4 439.1,363.9 439.1,362.4 439.1,360.9 439.2,359.6 439.2,358.2 439.3,356.9 439.3,355.6 439.3,354.4 439.4,353.2 439.4,352.1 439.5,350.9 439.5,349.9 439.5,348.8 439.6,347.8 439.6,346.4 439.7,345.0 439.8,343.8 439.8,342.6 439.9,341.4 439.9,340.4 440.0,339.1 440.1,338.0 440.2,336.9 440.3,335.9 440.4,334.9 440.6,333.9 440.7,333.8 440.7,333.8 441.1,334.7 441.3,335.8 441.4,336.9 441.5,338.0 441.6,339.1 441.7,340.3 441.8,341.3 441.9,342.4 442.0,343.6 442.0,344.9 442.1,346.2 442.2,347.3 442.2,348.4 442.3,349.5 442.4,350.7 442.4,351.9 442.5,353.2 442.5,354.5 442.6,355.9 442.7,357.4 442.7,358.8 442.8,359.9 442.8,360.9 442.8,362.0 442.9,363.1 442.9,364.2 443.0,365.3 443.0,366.5 443.0,367.7 443.1,368.9 443.1,370.2 443.2,371.5 443.2,372.8 443.2,374.1 443.3,375.5 443.3,376.9 443.4,378.3 443.4,379.8 443.4,381.3 443.5,382.8 443.5,384.4 443.6,386.0 443.6,387.6 443.6,389.3 443.7,391.0 443.7,392.8 443.8,394.6 443.8,396.4 443.8,398.3 443.9,400.2 443.9,402.2 443.9,403.2 444.0,404.3 444.0,405.3 444.0,406.3 444.0,407.4 444.0,408.5 444.1,409.6 444.1,410.7 444.1,411.8 444.1,412.9 444.1,414.0 444.2,415.2 444.2,416.4 444.2,417.6 444.2,418.8 444.2,420.0 444.3,421.2 444.3,422.5 444.3,423.7 444.3,425.0 444.3,426.3 444.4,427.6 444.4,429.0 444.4,430.3 444.4,431.7 444.4,433.1 444.5,434.5 444.5,435.9 444.5,437.4 444.5,438.9 444.5,440.3 444.6,441.9 444.6,443.4 444.6,444.9 444.6,446.5 444.6,448.1 444.7,449.8 444.7,451.4 444.7,453.1 444.7,454.8 444.7,456.5 444.8,458.3 444.8,460.0 444.8,461.8 444.8,463.7 444.8,465.5 444.9,467.4 444.9,469.3 444.9,471.3 444.9,473.2 444.9,475.2 445.0,477.2 445.0,479.3 445.0,481.4 445.0,483.5 445.0,485.7 445.1,487.8 445.1,490.0 445.1,492.3 445.1,494.6 445.1,496.8 445.2,499.2 445.2,501.5 445.2,503.9 445.2,506.3 445.2,508.7 445.3,511.2 445.3,513.7 445.3,516.1 445.3,518.6 445.3,521.2 445.4,523.7 445.4,526.2 445.4,528.7 445.4,531.2 445.4,533.7 445.5,536.1 445.5,538.6 445.5,540.9 445.5,543.3 445.5,545.5 445.6,547.7"/>
<path d="M445.6,547.7 445.6,549.8 445.6,551.7 445.6,553.6 445.6,555.3 445.7,556.9 445.7,558.2 445.7,559.4 445.7,560.5 445.8,561.8 445.8,562.3 445.8,562.3 445.9,561.3 445.9,560.1 446.0,558.4 446.0,556.4 446.0,555.2 446.0,554.0 446.1,552.7 446.1,551.3 446.1,549.9 446.1,548.4 446.1,546.9 446.2,545.3 446.2,543.7 446.2,542.0 446.2,540.3 446.2,538.6 446.3,536.9 446.3,535.2 446.3,533.4 446.3,531.7 446.3,529.9 446.4,528.1 446.4,526.3 446.4,524.6 446.4,522.8 446.4,521.0 446.5,519.3 446.5,517.5 446.5,515.8 446.5,514.0 446.5,512.3 446.6,510.6 446.6,508.9 446.6,507.2 446.6,505.5 446.6,503.9 446.7,502.2 446.7,500.6 446.7,499.0 446.7,497.4 446.7,495.8 446.8,494.3 446.8,492.7 446.8,491.2 446.8,489.7 446.8,488.2 446.9,486.7 446.9,485.3 446.9,483.8 446.9,482.4 446.9,481.0 447.0,479.6 447.0,478.2 447.0,476.9 447.0,475.5 447.0,474.2 447.1,472.9 447.1,471.6 447.1,470.4 447.1,469.1 447.1,467.8 447.2,466.6 447.2,465.4 447.2,464.2 447.2,463.0 447.2,461.9 447.3,460.7 447.3,459.6 447.3,458.4 447.3,457.3 447.3,456.2 447.4,455.1 447.4,454.1 447.4,453.0 447.4,452.0 447.4,450.9 447.5,449.9 447.5,448.9 447.5,447.0 447.6,445.0 447.6,443.1 447.6,441.3 447.7,439.5 447.7,437.8 447.8,436.1 447.8,434.4 447.8,432.8 447.9,431.2 447.9,429.7 448.0,428.2 448.0,426.8 448.0,425.3 448.1,423.9 448.1,422.6 448.2,421.3 448.2,420.0 448.2,418.8 448.3,417.5 448.3,416.4 448.4,415.2 448.4,414.1 448.4,413.0 448.5,411.9 448.5,410.9 448.6,409.9 448.6,408.5 448.7,407.1 448.7,405.8 448.8,404.5 448.9,403.3 448.9,402.2 449.0,401.1 449.0,400.1 449.1,398.8 449.2,397.7 449.3,396.6 449.4,395.5 449.5,394.5 449.6,393.3 449.8,392.3 450.0,392.0 450.0,392.0 450.4,392.9 450.5,394.1 450.7,395.2 450.8,396.4 450.9,397.5 451.0,398.7 451.1,399.8 451.2,400.9 451.2,402.2 451.3,403.4 451.4,404.4 451.4,405.5 451.5,406.5 451.6,407.7 451.6,408.8 451.7,410.0 451.7,411.2 451.8,412.5 451.9,413.8 451.9,415.1 452.0,416.5 452.0,417.9 452.1,419.3 452.2,420.7 452.2,422.2 452.3,423.2 452.3,424.2 452.3,425.3 452.4,426.3 452.4,427.3 452.5,428.4 452.5,429.5 452.5,430.5 452.6,431.6 452.6,432.7 452.7,433.8 452.7,434.9 452.7,436.0 452.8,437.0 452.8,438.1 452.9,439.2 452.9,440.3 452.9,441.4 453.0,442.5 453.0,443.5 453.1,444.6 453.1,445.6 453.1,446.7 453.2,447.7 453.2,449.2 453.3,450.6 453.4,451.9 453.4,453.2 453.5,454.5 453.5,455.6 453.6,456.6 453.7,457.8 453.8,458.9 453.9,459.9 454.0,460.0 454.0,460.0 454.3,459.0 454.4,457.9 454.5,456.8 454.6,455.8 454.7,454.7 454.8,453.5 454.8,452.2 454.9,451.1 455.0,450.0 455.0,448.9 455.1,447.8 455.1,446.6 455.2,445.4 455.3,444.1 455.3,442.8 455.4,441.5 455.4,440.2 455.5,438.9 455.6,437.6 455.6,436.2 455.7,434.9 455.7,433.5 455.8,432.1 455.9,430.8 455.9,429.4 456.0,428.0 456.0,426.7 456.1,425.3 456.2,423.9 456.2,422.6 456.3,421.2 456.3,419.9 456.4,418.6 456.5,417.2 456.5,415.9 456.6,414.6 456.6,413.3 456.7,412.0 456.8,410.8 456.8,409.5 456.9,408.3 456.9,407.0 457.0,405.8 457.1,404.6 457.1,403.4 457.2,402.2 457.2,401.0 457.3,399.9 457.4,398.7 457.4,397.6 457.5,396.5 457.5,395.4 457.6,394.3 457.7,393.2 457.7,392.2 457.8,391.1 457.8,390.1 457.9,389.1 458.0,388.1 458.0,386.8 458.1,385.5 458.2,384.2 458.3,383.0 458.4,381.8 458.4,380.6 458.5,379.4 458.6,378.3 458.7,377.2 458.8,376.1 458.8,375.0 458.9,374.0 459.0,373.0 459.1,372.0 459.2,370.7 459.3,369.6 459.4,368.4 459.5,367.3 459.6,366.2 459.7,365.2 459.8,364.2 459.9,363.0 460.0,361.9 460.1,360.8 460.3,359.8 460.4,358.7 460.5,357.6 460.7,356.6 460.8,355.6 461.0,354.5 461.2,353.4 461.4,352.4 461.7,351.4 462.0,350.4 462.6,349.8 462.6,349.8 462.9,350.8 463.1,351.9 463.2,353.0 463.3,354.1 463.4,355.3 463.5,356.3 463.6,357.5 463.7,358.7 463.7,360.0 463.8,361.1 463.9,362.2 463.9,363.3 464.0,364.5 464.0,365.7 464.1,367.0 464.2,368.3 464.2,369.7 464.3,371.1 464.3,372.5 464.4,374.0 464.4,375.0 464.5,376.0 464.5,377.1 464.6,378.1 464.6,379.2 464.6,380.3 464.7,381.4 464.7,382.6 464.8,383.7 464.8,384.9 464.8,386.0 464.9,387.2 464.9,388.4 465.0,389.6 465.0,390.8 465.0,392.0 465.1,393.2 465.1,394.4 465.2,395.7 465.2,396.9 465.2,398.1 465.3,399.3 465.3,400.5 465.4,401.8 465.4,403.0 465.4,404.1 465.5,405.3 465.5,406.5 465.6,407.6 465.6,408.7 465.6,409.8 465.7,410.8 465.7,411.8 465.8,413.3 465.8,414.6 465.9,415.8 466.0,416.9 466.0,418.2 466.1,419.3 466.3,420.0 466.3,420.0 466.5,418.8 466.6,417.5 466.6,416.4 466.7,415.0 466.7,413.9 466.8,412.8 466.8,411.7 466.8,410.4 466.9,409.2 466.9,407.8 467.0,406.5 467.0,405.0 467.0,403.6 467.1,402.1 467.1,400.6 467.2,399.1 467.2,397.6 467.2,396.0 467.3,394.4 467.3,392.9 467.4,391.3 467.4,389.7 467.4,388.2 467.5,386.6 467.5,385.0 467.6,383.5 467.6,381.9 467.6,380.4 467.7,378.8 467.7,377.3 467.8,375.8 467.8,374.3 467.8,372.9 467.9,371.4 467.9,370.0 468.0,368.6 468.0,367.2 468.0,365.8 468.1,364.4 468.1,363.0 468.2,361.7 468.2,360.4 468.2,359.1 468.3,357.8 468.3,356.6 468.4,355.3 468.4,354.1 468.4,352.9 468.5,351.8 468.5,350.6 468.6,349.5 468.6,348.3 468.6,347.2 468.7,346.2 468.7,345.1 468.8,344.1 468.8,343.0 468.8,342.0 468.9,340.6 469.0,339.2 469.0,337.8 469.1,336.4 469.1,335.1 469.2,333.9 469.3,332.7 469.3,331.5 469.4,330.3 469.4,329.2 469.5,328.2 469.6,327.2 469.6,325.9 469.7,324.7 469.8,323.5 469.9,322.4 470.0,321.4 470.1,320.2 470.2,319.2 470.3,318.0 470.4,316.9 470.6,315.9 470.8,315.0 471.0,314.8 471.0,314.8 471.3,315.7 471.5,316.8 471.6,317.8 471.7,318.8 471.8,320.0 471.9,321.0 472.0,322.2 472.1,323.4 472.1,324.7 472.2,325.7 472.3,326.8 472.3,327.9 472.4,329.1 472.4,330.4 472.5,331.7 472.6,333.0 472.6,334.4 472.7,335.9 472.7,336.9 472.8,337.9 472.8,339.0 472.8,340.1 472.9,341.2 472.9,342.3 473.0,343.5 473.0,344.7 473.0,345.9 473.1,347.2 473.1,348.4 473.2,349.8 473.2,351.1 473.2,352.5 473.3,353.9 473.3,355.3 473.4,356.8 473.4,358.3 473.4,359.8 473.5,361.4 473.5,363.0 473.6,364.6 473.6,366.3 473.6,368.0 473.7,369.7 473.7,371.5 473.8,373.3 473.8,375.1 473.8,377.0 473.9,378.9 473.9,380.9 474.0,382.9 474.0,383.9 474.0,384.9 474.0,385.9 474.0,387.0 474.1,388.0 474.1,389.1 474.1,390.2 474.1,391.2 474.1,392.3 474.2,393.4 474.2,394.5 474.2,395.7 474.2,396.8 474.2,397.9 474.3,399.1 474.3,400.2 474.3,401.4 474.3,402.5 474.3,403.7 474.4,404.9 474.4,406.1 474.4,407.3 474.4,408.5 474.4,409.7 474.5,410.9 474.5,412.2 474.5,413.4 474.5,414.6 474.5,415.9 474.6,417.1 474.6,418.4 474.6,419.6 474.6,420.8 474.6,422.1 474.7,423.3 474.7,424.6 474.7,425.8 474.7,427.1 474.7,428.3 474.8,429.6 474.8,430.8 474.8,432.0 474.8,433.2 474.8,434.4 474.9,435.6 474.9,436.7 474.9,437.9 474.9,439.0 474.9,440.1 475.0,441.2 475.0,442.3 475.0,443.3 475.0,444.4 475.1,446.3 475.1,448.1 475.1,449.7 475.2,451.1 475.2,452.4 475.3,453.4 475.3,454.5 475.4,455.0 475.4,455.0 475.6,453.9 475.6,452.5 475.7,451.1 475.7,450.1 475.8,449.0 475.8,447.7 475.9,446.4 475.9,445.0 475.9,443.5 476.0,442.0 476.0,440.4 476.1,438.7 476.1,437.0 476.1,435.3 476.2,433.5 476.2,431.7 476.3,429.9 476.3,428.0 476.3,426.1 476.4,424.3 476.4,422.4 476.5,420.5 476.5,418.6 476.5,416.7 476.6,414.8 476.6,412.9 476.7,411.1 476.7,409.2 476.7,407.4 476.8,405.5 476.8,403.7 476.9,401.9 476.9,400.1 476.9,398.3 477.0,396.5 477.0,394.8 477.1,393.0 477.1,391.3 477.1,389.6 477.2,388.0 477.2,386.3 477.3,384.7 477.3,383.0 477.3,381.4 477.4,379.9 477.4,378.3 477.5,376.8 477.5,375.2 477.5,373.7 477.6,372.3 477.6,370.8 477.7,369.3 477.7,367.9 477.7,366.5 477.8,365.1 477.8,363.7 477.9,362.4 477.9,361.0 477.9,359.7 478.0,358.4 478.0,357.1 478.1,355.9 478.1,354.6 478.1,353.4 478.2,352.1 478.2,350.9 478.3,349.7 478.3,348.6 478.3,347.4 478.4,346.3 478.4,345.1 478.5,344.0 478.5,342.9 478.5,341.8 478.6,340.8 478.6,339.7 478.7,338.7 478.7,337.6 478.7,336.6 478.8,335.6 478.8,334.1 478.9,332.7 479.0,331.3 479.0,329.9 479.1,328.5 479.1,327.2 479.2,325.8 479.3,324.5 479.3,323.3 479.4,322.0 479.4,320.8 479.5,319.6 479.6,318.5 479.6,317.3 479.7,316.2 479.7,315.1 479.8,314.0 479.9,313.0 479.9,311.9 480.0,310.9 480.1,309.6 480.1,308.3 480.2,307.0 480.3,305.8 480.4,304.6 480.5,303.5 480.5,302.4 480.6,301.3 480.7,300.3 480.8,299.2 480.9,298.0 481.0,296.8 481.1,295.7 481.2,294.6 481.3,293.6 481.4,292.6 481.5,291.4 481.6,290.4 481.7,289.3 481.9,288.3 482.0,287.2 482.2,286.2 482.4,285.2 482.6,284.2 482.8,283.2 483.2,282.2 483.5,282.0 483.5,282.0 484.0,282.8 484.3,283.9 484.5,284.9 484.6,285.9 484.8,287.0 484.9,288.1 485.0,289.1 485.2,290.2 485.3,291.3 485.4,292.5 485.5,293.5 485.6,294.6 485.7,295.7 485.8,296.8 485.9,298.0 486.0,299.2 486.1,300.4 486.2,301.6 486.3,302.6 486.4,303.7 486.4,304.7 486.5,305.7 486.6,306.8 486.7,307.8 486.8,308.9 486.8,309.9 486.9,311.0 487.0,312.0 487.0,312.0 487.1,313.1 487.2,314.2 487.2,315.4 487.3,316.7 487.4,317.7 487.4,318.8 487.5,319.8 487.6,321.0 487.6,322.1 487.7,323.3 487.7,324.5 487.8,325.8 487.9,327.1 487.9,328.4 488.0,329.7 488.0,331.1 488.1,332.5 488.2,334.0 488.2,335.4 488.3,336.9 488.3,337.9 488.4,338.9 488.4,339.9 488.4,340.9 488.5,342.0 488.5,343.0 488.6,344.0 488.6,345.1 488.6,346.1 488.7,347.2 488.7,348.2 488.8,349.3 488.8,350.3 488.8,351.3 488.9,352.3 488.9,353.3 489.0,354.3 489.0,355.8 489.1,357.3 489.1,358.7 489.2,360.0 489.2,360.0 489.3,361.3 489.3,362.7 489.4,364.2 489.4,365.6 489.5,366.7 489.5,367.7 489.6,368.7 489.6,369.8 489.6,370.9 489.7,372.0 489.7,373.1 489.8,374.2 489.8,375.3 489.8,376.5 489.9,377.6 489.9,378.8 490.0,379.9 490.0,381.1 490.0,382.3 490.1,383.4 490.1,384.6 490.2,385.7 490.2,386.8 490.2,388.0 490.3,389.1 490.3,390.1 490.4,391.2 490.4,392.2 490.5,393.7 490.5,395.1 490.6,396.3 490.6,397.5 490.7,398.5 490.8,399.6 490.9,400.7 491.0,401.0 491.0,401.0 491.3,400.0 491.4,398.9 491.6,397.7 491.7,396.6 491.8,395.4 491.8,394.3 491.9,393.2 492.0,392.1 492.1,390.9 492.2,389.8 492.2,388.6 492.3,387.4 492.4,386.2 492.5,385.0 492.6,383.8 492.6,382.7 492.7,381.5 492.8,380.4 492.9,379.4 493.0,378.3 493.1,377.1 493.2,375.9 493.3,374.8 493.4,373.8 493.5,372.8 493.6,371.7 493.8,370.7 494.0,369.7 494.2,369.5 494.2,369.5 494.5,370.6 494.6,371.6 494.7,372.8 494.8,373.8 494.9,375.1 494.9,376.1 495.0,377.2 495.0,378.4 495.1,379.7 495.2,381.0 495.2,382.5 495.3,383.5 495.3,384.5 495.3,385.6 495.4,386.7 495.4,387.9 495.5,389.1 495.5,390.3 495.5,391.6 495.6,392.9 495.6,394.2 495.7,395.6 495.7,397.1 495.7,398.5 495.8,400.1 495.8,401.6 495.9,403.2 495.9,404.9 495.9,406.6 496.0,408.3 496.0,410.1 496.1,411.9 496.1,413.8 496.1,415.7 496.2,417.6 496.2,419.6 496.2,420.7 496.3,421.7 496.3,422.7 496.3,423.8 496.3,424.8 496.3,425.9 496.4,427.0 496.4,428.1 496.4,429.2 496.4,430.3 496.4,431.4 496.5,432.6 496.5,433.7 496.5,434.9 496.5,436.0 496.5,437.2 496.6,438.4 496.6,439.6 496.6,440.8 496.6,442.0 496.6,443.2 496.7,444.4 496.7,445.6 496.7,446.8 496.7,448.1 496.7,449.3 496.8,450.5 496.8,451.8 496.8,453.0 496.8,454.2 496.8,455.5 496.9,456.7 496.9,457.9 496.9,459.1 496.9,460.3 496.9,461.5 497.0,462.7 497.0,463.9 497.0,465.1 497.0,466.2"/>
<path d="M497.0,466.2 497.0,467.4 497.1,468.5 497.1,469.6 497.1,470.6 497.1,471.7 497.1,472.7 497.2,474.6 497.2,476.4 497.3,478.0 497.3,479.4 497.3,480.6 497.4,481.9 497.5,482.8 497.5,482.8 497.6,481.8 497.7,480.6 497.7,479.6 497.8,478.3 497.8,476.9 497.8,475.4 497.9,473.7 497.9,471.9 498.0,470.0 498.0,468.0 498.0,466.9 498.0,465.9 498.1,464.8 498.1,463.7 498.1,462.6 498.1,461.5 498.1,460.3 498.2,459.2 498.2,458.0 498.2,456.9 498.2,455.7 498.2,454.5 498.3,453.3 498.3,452.1 498.3,450.9 498.3,449.7 498.3,448.5 498.4,447.3 498.4,446.1 498.4,444.9 498.4,443.7 498.4,442.5 498.5,441.3 498.5,440.1 498.5,438.9 498.5,437.7 498.5,436.5 498.6,435.4 498.6,434.2 498.6,433.0 498.6,431.8 498.6,430.7 498.7,429.5 498.7,428.3 498.7,427.2 498.7,426.0 498.7,424.9 498.8,423.8 498.8,422.6 498.8,421.5 498.8,420.4 498.8,419.3 498.9,418.2 498.9,417.1 498.9,416.0 498.9,414.9 498.9,413.8 499.0,412.8 499.0,411.7 499.0,410.7 499.0,409.6 499.0,408.6 499.1,407.6 499.1,406.5 499.1,405.5 499.1,404.5 499.1,403.5 499.2,401.5 499.2,399.6 499.3,397.6 499.3,395.7 499.3,393.9 499.4,392.0 499.4,390.2 499.5,388.4 499.5,386.7 499.5,384.9 499.6,383.2 499.6,381.6 499.7,379.9 499.7,378.3 499.7,376.7 499.8,375.1 499.8,373.5 499.9,372.0 499.9,370.5 499.9,369.0 500.0,367.5 500.0,366.1 500.1,364.6 500.1,363.2 500.1,361.8 500.2,360.5 500.2,359.1 500.3,357.8 500.3,356.5 500.3,355.2 500.4,353.9 500.4,352.7 500.5,351.4 500.5,350.2 500.5,349.0 500.6,347.8 500.6,346.6 500.7,345.5 500.7,344.4 500.7,343.2 500.8,342.1 500.8,341.0 500.9,340.0 500.9,338.9 500.9,337.8 501.0,336.8 501.0,335.8 501.1,334.8 501.1,333.3 501.2,331.9 501.2,330.4 501.3,329.0 501.4,327.7 501.4,326.3 501.5,325.0 501.5,323.7 501.6,322.5 501.7,321.2 501.7,320.0 501.8,318.8 501.8,317.6 501.9,316.5 502.0,315.4 502.0,314.3 502.1,313.2 502.1,312.2 502.2,311.1 502.3,310.1 502.3,308.8 502.4,307.5 502.5,306.3 502.6,305.0 502.7,303.9 502.7,302.7 502.8,301.6 502.9,300.5 503.0,299.5 503.1,298.4 503.2,297.2 503.3,296.0 503.4,294.9 503.5,293.8 503.6,292.7 503.7,291.7 503.8,290.6 503.9,289.5 504.0,288.5 504.2,287.4 504.3,286.3 504.5,285.2 504.6,284.2 504.8,283.1 505.1,282.1 505.4,281.1 505.9,280.5 505.9,280.5 506.3,281.4 506.5,282.5 506.6,283.6 506.7,284.7 506.8,285.7 506.9,286.9 507.0,287.9 507.1,289.0 507.2,290.1 507.2,291.4 507.3,292.7 507.4,293.7 507.4,294.8 507.5,295.9 507.6,297.1 507.6,298.3 507.7,299.5 507.7,300.8 507.8,302.1 507.9,303.5 507.9,305.0 508.0,306.4 508.0,307.5 508.1,308.5 508.1,309.6 508.1,310.7 508.2,311.8 508.2,312.9 508.3,314.1 508.3,315.2 508.3,316.4 508.4,317.7 508.4,318.9 508.5,320.2 508.5,321.5 508.5,322.9 508.6,324.2 508.6,325.6 508.7,327.1 508.7,328.5 508.7,330.0 508.8,331.5 508.8,333.1 508.9,334.6 508.9,336.3 508.9,337.9 509.0,339.6 509.0,341.3 509.1,343.0 509.1,344.8 509.1,346.6 509.2,348.5 509.2,350.4 509.3,352.3 509.3,354.3 509.3,356.3 509.4,357.3 509.4,358.3 509.4,359.3 509.4,360.4 509.4,361.4 509.5,362.5 509.5,363.6 509.5,364.7 509.5,365.8 509.5,366.9 509.6,368.0 509.6,369.1 509.6,370.2 509.6,371.4 509.6,372.5 509.7,373.7 509.7,374.9 509.7,376.1 509.7,377.3 509.7,378.5 509.8,379.7 509.8,380.9 509.8,382.2 509.8,383.4 509.8,384.6 509.9,385.9 509.9,387.2 509.9,388.5 509.9,389.7 509.9,391.0 510.0,392.3 510.0,393.6 510.0,395.0 510.0,396.3 510.0,397.6 510.1,398.9 510.1,400.3 510.1,401.6 510.1,402.9 510.1,404.3 510.2,405.6 510.2,407.0 510.2,408.3 510.2,409.6 510.2,411.0 510.3,412.3 510.3,413.6 510.3,414.9 510.3,416.2 510.3,417.5 510.4,418.8 510.4,420.1 510.4,421.3 510.4,422.6 510.4,423.8 510.5,424.9 510.5,426.1 510.5,427.2 510.5,428.3 510.5,429.4 510.6,430.4 510.6,432.4 510.6,434.2 510.7,435.7 510.7,437.1 510.8,438.2 510.8,439.4 510.9,440.0 510.9,440.0 511.1,438.7 511.1,437.7 511.2,436.3 511.2,435.3 511.3,434.1 511.3,432.8 511.3,431.5 511.4,430.1 511.4,428.6 511.5,427.0 511.5,425.4 511.5,423.8 511.6,422.1 511.6,420.4 511.7,418.6 511.7,416.8 511.7,415.1 511.8,413.3 511.8,411.5 511.9,409.7 511.9,407.9 511.9,406.1 512.0,404.3 512.0,402.6 512.1,400.8 512.1,399.1 512.1,397.4 512.2,395.7 512.2,394.0 512.3,392.3 512.3,390.7 512.3,389.1 512.4,387.5 512.4,385.9 512.5,384.4 512.5,382.8 512.5,381.3 512.6,379.9 512.6,378.4 512.7,377.0 512.7,375.6 512.7,374.3 512.8,372.9 512.8,371.6 512.9,370.4 512.9,369.1 512.9,367.9 513.0,366.7 513.0,365.5 513.1,364.3 513.1,363.2 513.1,362.1 513.2,361.1 513.2,360.0 513.3,359.0 513.3,358.0 513.3,358.0 513.3,357.0 513.4,355.9 513.4,354.7 513.5,353.5 513.5,352.2 513.5,350.9 513.6,349.6 513.6,348.2 513.7,346.9 513.7,345.6 513.7,344.3 513.8,343.0 513.8,341.7 513.9,340.5 513.9,339.3 513.9,338.2 514.0,337.1 514.0,336.1 514.1,334.7 514.1,333.4 514.2,332.3 514.3,331.1 514.4,330.1 514.4,330.0 514.4,330.0 514.6,328.9 514.8,327.9 515.1,327.0 515.5,326.0 516.0,325.1 516.4,324.1 516.6,323.5 516.6,323.5 516.9,322.5 517.2,321.6 517.5,320.6 517.8,319.6 518.0,318.5 518.2,317.5 518.4,316.5 518.5,316.0 518.5,316.0 518.6,315.0 518.7,313.9 518.8,312.8 518.9,311.6 519.0,310.4 519.0,309.0 519.1,308.0 519.2,307.0 519.2,305.9 519.3,304.9 519.3,303.8 519.4,302.8 519.5,301.5 519.6,300.3 519.6,299.1 519.7,298.0 519.8,297.0 519.8,297.0 519.9,295.8 520.0,294.7 520.1,293.6 520.1,292.5 520.2,291.4 520.3,290.3 520.4,289.3 520.5,288.3 520.6,287.1 520.7,286.0 520.8,284.9 520.9,283.9 521.2,283.0 521.2,283.0 521.6,284.0 521.8,285.0 521.9,286.1 522.0,287.2 522.1,288.3 522.2,289.4 522.3,290.7 522.4,291.8 522.5,292.9 522.6,294.1 522.6,295.4 522.7,296.7 522.8,297.8 522.8,298.8 522.9,299.9 523.0,301.1 523.0,302.3 523.1,303.5 523.1,304.7 523.2,306.0 523.3,307.3 523.3,308.6 523.4,310.0 523.4,311.4 523.5,312.8 523.6,314.2 523.6,315.7 523.7,317.2 523.7,318.2 523.8,319.2 523.8,320.2 523.8,321.3 523.9,322.3 523.9,323.3 524.0,324.4 524.0,325.4 524.0,326.5 524.1,327.5 524.1,328.6 524.2,329.7 524.2,330.7 524.2,331.8 524.3,332.8 524.3,333.9 524.4,334.9 524.4,335.9 524.4,337.0 524.5,338.0 524.5,339.4 524.6,340.9 524.7,342.3 524.7,343.6 524.8,344.9 524.8,346.1 524.9,347.2 525.0,348.2 525.0,349.4 525.1,350.4 525.2,351.5 525.4,352.0 525.4,352.0 525.6,351.0 525.7,350.0 525.8,348.9 525.9,347.8 526.0,346.4 526.0,345.4 526.1,344.2 526.2,343.0 526.2,341.7 526.3,340.4 526.3,339.1 526.4,337.7 526.5,336.3 526.5,334.9 526.6,333.5 526.6,332.0 526.7,330.5 526.8,329.1 526.8,327.6 526.9,326.1 526.9,324.7 527.0,323.2 527.1,321.8 527.1,320.4 527.2,319.0 527.2,317.6 527.3,316.2 527.4,314.9 527.4,313.5 527.5,312.2 527.5,310.9 527.6,309.7 527.7,308.4 527.7,307.2 527.8,306.1 527.8,304.9 527.9,303.8 528.0,302.7 528.0,301.6 528.1,300.6 528.1,299.6 528.2,298.3 528.3,297.0 528.4,295.9 528.5,294.7 528.5,293.7 528.6,292.6 528.7,291.5 528.8,290.4 528.9,289.4 529.0,288.3 529.2,287.2 529.4,286.1 529.6,285.2 529.8,285.0 529.8,285.0 530.2,285.9 530.4,286.9 530.6,287.9 530.7,289.0 530.9,290.0 531.0,291.1 531.1,292.3 531.2,293.3 531.3,294.4 531.4,295.6 531.5,296.8 531.6,298.0 531.7,299.1 531.8,300.1 531.8,301.2 531.9,302.3 532.0,303.4 532.1,304.5 532.2,305.6 532.2,306.7 532.3,307.9 532.4,309.0 532.5,310.1 532.6,311.2 532.6,312.3 532.7,313.3 532.8,314.4 532.9,315.6 533.0,316.8 533.1,317.8 533.2,319.0 533.4,320.1 533.5,321.2 533.8,321.8 533.8,321.8 534.0,320.7 534.1,319.6 534.1,318.5 534.2,317.3 534.2,316.0 534.3,314.6 534.4,313.2 534.4,312.2 534.4,311.2 534.5,310.1 534.5,309.1 534.6,308.1 534.6,307.0 534.6,306.0 534.7,305.0 534.7,303.5 534.8,302.1 534.9,300.7 534.9,299.8 534.9,299.8 535.0,298.5 535.0,297.1 535.1,295.7"/>
<path d="M535.1,295.7 535.1,294.3 535.2,292.8 535.3,291.3 535.3,290.3 535.3,289.3 535.4,288.2 535.4,287.2 535.5,286.2 535.5,285.1 535.5,284.1 535.6,283.0 535.6,282.0 535.7,280.9 535.7,279.9 535.7,279.9 535.7,278.8 535.8,277.8 535.8,276.6 535.9,275.5 535.9,274.4 535.9,273.2 536.0,272.1 536.0,270.9 536.1,269.8 536.1,268.6 536.1,267.4 536.2,266.2 536.2,265.1 536.3,263.9 536.3,262.8 536.3,261.6 536.4,260.5 536.4,259.9 536.4,259.9 536.4,258.8 536.5,257.6 536.5,256.4 536.6,255.3 536.6,254.1 536.6,252.9 536.7,251.7 536.7,250.5 536.8,249.4 536.8,248.2 536.8,247.0 536.9,245.9 536.9,244.8 537.0,243.7 537.0,242.6 537.0,241.5 537.1,240.5 537.1,240.0 537.1,240.0 537.2,238.5 537.2,237.1 537.3,235.7 537.3,234.4 537.4,233.0 537.5,231.8 537.5,230.5 537.6,229.2 537.6,227.9 537.7,226.6 537.8,225.3 537.8,224.0 537.9,222.6 537.9,221.2 538.0,219.8 538.0,219.8 538.1,218.3 538.1,217.3 538.1,216.3 538.2,215.2 538.2,214.1 538.3,213.0 538.3,211.9 538.3,210.8 538.4,209.7 538.4,208.6 538.5,207.5 538.5,206.5 538.5,205.4 538.6,204.3 538.6,203.2 538.7,202.2 538.7,201.2 538.7,200.1 538.8,199.9 538.8,198.7 538.9,197.2 538.9,195.7 539.0,194.3 539.0,192.9 539.1,191.4 539.2,190.0 539.2,188.6 539.3,187.2 539.3,185.8 539.4,184.5 539.5,183.1 539.5,181.7 539.6,180.4 539.6,179.9 539.6,179.9 539.7,178.5 539.7,177.2 539.8,175.9 539.8,174.5 539.9,173.2 540.0,171.9 540.0,170.6 540.1,169.2 540.1,167.9 540.2,166.6 540.3,165.3 540.3,164.0 540.4,162.6 540.4,161.3 540.5,160.0 540.5,160.0 540.6,158.7 540.6,157.3 540.7,156.0 540.7,154.7 540.8,153.3 540.9,152.0 540.9,150.6 541.0,149.3 541.0,147.9 541.1,146.6 541.2,145.2 541.2,143.9 541.3,142.5 541.3,141.2 541.4,139.8 541.4,139.8 541.5,138.4 541.5,137.0 541.6,135.6 541.6,134.2 541.7,132.7 541.8,131.3 541.8,129.8 541.9,128.4 541.9,127.0 542.0,125.5 542.1,124.1 542.1,122.8 542.2,121.4 542.2,120.1 542.2,119.9 542.3,118.8 542.4,117.6 542.4,116.3 542.5,115.1 542.5,113.9 542.6,112.8 542.7,111.6 542.7,110.4 542.8,109.3 542.8,108.1 542.9,106.9 543.0,105.7 543.0,104.6 543.1,103.4 543.1,102.2 543.2,100.9 543.2,99.9 543.3,98.8 543.4,97.5 543.4,96.1 543.5,94.6 543.5,93.1 543.6,91.6 543.7,90.1 543.7,88.7 543.8,87.3 543.8,85.9 543.9,84.6 544.0,83.4 544.0,82.2 544.1,81.1 544.1,80.0 544.2,79.0 544.3,77.9 544.4,76.7 544.5,75.6 544.6,74.5 544.7,73.4 544.8,72.3 544.9,71.2 545.0,70.0 545.0,70.0 545.1,69.0 545.2,67.9 545.2,66.8 545.3,65.7 545.4,64.6 545.5,63.5 545.6,62.4 545.6,61.4 545.7,60.4 545.8,60.0 545.8,58.9 545.9,57.8 546.0,56.6 546.1,55.5 546.2,54.4 546.3,53.3 546.4,52.3 546.6,51.2 546.7,50.2 546.7,50.0 546.7,50.0 546.8,48.9 547.0,47.9 547.1,46.8 547.3,45.8 547.5,44.7 547.7,43.6 547.9,42.6 547.9,42.6 548.2,41.6 548.5,40.6 548.9,39.7 549.1,39.5 549.7,40.3 550.0,41.3"/>
<path d="M550.0,41.3 550.3,42.3 550.4,42.6 550.4,42.6 550.6,43.6 550.8,44.7 551.0,45.8 551.2,46.8 551.3,47.9 551.5,48.9 551.6,50.0 551.6,50.0 551.7,51.0 551.8,52.1 552.0,53.3 552.1,54.4 552.2,55.5 552.3,56.6 552.4,57.8 552.5,58.9 552.5,60.0 552.6,61.1 552.7,62.1 552.8,63.2 552.9,64.3 553.0,65.4 553.0,66.5 553.1,67.6 553.2,68.7 553.3,69.7 553.3,70.0 553.3,70.0 553.4,71.2 553.5,72.3 553.6,73.4 553.7,74.5 553.8,75.6 553.9,76.7 554.0,77.9 554.1,79.0 554.1,80.0 554.2,81.1 554.3,82.2 554.3,83.4 554.4,84.6 554.5,85.9 554.5,87.3 554.6,88.7 554.6,90.1 554.7,91.6 554.8,93.1 554.8,94.6 554.9,96.1 554.9,97.5 555.0,98.8 555.0,99.9 555.1,100.9 555.2,102.2 555.2,103.4 555.3,104.6 555.3,105.7 555.4,106.9 555.5,108.1 555.5,109.3 555.6,110.4 555.6,111.6 555.7,112.8 555.8,113.9 555.8,115.1 555.9,116.3 555.9,117.6 556.0,118.8 556.0,119.9 556.1,121.0 556.2,122.3 556.2,123.7 556.3,125.1 556.3,126.5 556.4,127.9 556.5,129.3 556.5,130.8 556.6,132.2 556.6,133.7 556.7,135.1 556.8,136.5 556.8,138.0 556.9,139.3 556.9,139.8 556.9,139.8 557.0,141.2 557.0,142.5 557.1,143.9 557.1,145.2 557.2,146.6 557.3,147.9 557.3,149.3 557.4,150.6 557.4,152.0 557.5,153.3 557.6,154.7 557.6,156.0 557.7,157.3 557.7,158.7 557.8,160.0 557.8,160.0 557.9,161.3 557.9,162.6 558.0,164.0 558.0,165.3 558.1,166.6 558.2,167.9 558.2,169.2 558.3,170.6 558.3,171.9 558.4,173.2 558.5,174.5 558.5,175.9 558.6,177.2 558.6,178.5 558.7,179.9 558.7,179.9 558.8,181.3 558.8,182.6 558.9,184.0 558.9,185.4 559.0,186.8 559.1,188.2 559.1,189.6 559.2,191.0 559.2,192.4 559.3,193.8 559.4,195.2 559.4,196.7 559.5,198.2 559.5,199.7 559.5,199.9 559.6,201.2 559.6,202.2 559.7,203.2 559.7,204.3 559.8,205.4 559.8,206.5 559.8,207.5 559.9,208.6 559.9,209.7 560.0,210.8 560.0,211.9 560.0,213.0 560.1,214.1 560.1,215.2 560.2,216.3 560.2,217.3 560.2,218.3 560.3,219.8 560.3,219.8 560.4,221.2 560.4,222.6 560.5,224.0 560.5,225.3 560.6,226.6 560.7,227.9 560.7,229.2 560.8,230.5 560.8,231.8 560.9,233.0 561.0,234.4 561.0,235.7 561.1,237.1 561.1,238.5 561.2,240.0 561.2,240.0 561.2,241.0 561.3,242.1 561.3,243.1 561.4,244.2 561.4,245.3 561.4,246.5 561.5,247.6 561.5,248.8 561.6,249.9 561.6,251.1 561.6,252.3 561.7,253.5 561.7,254.7 561.8,255.8 561.8,257.0 561.8,258.2 561.9,259.3 561.9,259.9 561.9,259.9 561.9,261.0 562.0,262.2 562.0,263.3 562.1,264.5 562.1,265.7 562.1,266.8 562.2,268.0 562.2,269.2 562.3,270.3"/>
<path d="M562.3,270.3 562.3,271.5 562.3,272.7 562.4,273.8 562.4,275.0 562.5,276.1 562.5,277.2 562.5,278.3 562.6,279.4 562.6,279.9 562.6,279.9 562.6,280.9 562.7,282.0 562.7,283.0 562.8,284.1 562.8,285.1 562.8,286.2 562.9,287.2 562.9,288.2 563.0,289.3 563.0,290.3 563.0,291.3 563.1,292.3 563.1,293.8 563.2,295.2 563.3,296.6 563.3,298.0 563.4,299.4 563.4,299.8 563.4,299.8 563.5,301.1 563.5,302.5 563.6,304.0 563.6,305.5 563.7,306.5 563.7,307.5 563.8,308.6 563.8,309.6 563.8,310.6 563.9,311.7 563.9,312.7 564.0,314.2 564.0,315.6 564.1,316.9 564.2,318.1 564.2,319.2 564.3,320.4 564.4,321.4 564.5,321.8 564.5,321.8 564.8,320.8 565.0,319.7 565.1,318.6 565.2,317.6 565.3,316.5 565.4,315.4 565.5,314.1 565.6,313.1 565.7,312.0 565.8,310.9 565.8,309.8 565.9,308.7 566.0,307.6 566.1,306.5 566.2,305.3 566.2,304.2 566.3,303.1 566.4,302.0 566.5,300.9 566.6,299.9 566.6,298.8 566.7,297.8 566.8,296.5 566.9,295.3 567.0,294.2 567.1,293.1 567.2,292.1 567.3,290.9 567.5,289.8 567.6,288.7 567.7,287.7 567.9,286.6 568.2,285.6 568.5,285.0 568.5,285.0 568.9,286.0 569.1,287.0 569.2,288.0 569.3,289.0 569.5,290.2 569.6,291.2 569.7,292.4 569.7,293.4 569.8,294.5 569.9,295.6 570.0,296.7 570.1,298.0 570.1,299.3 570.2,300.6 570.3,301.6 570.3,302.7 570.4,303.8 570.5,304.9 570.5,306.1 570.6,307.2 570.6,308.4 570.7,309.7 570.8,310.9 570.8,312.2 570.9,313.5 570.9,314.9 571.0,316.2 571.1,317.6 571.1,319.0 571.2,320.4 571.2,321.8 571.3,323.2 571.4,324.7 571.4,326.1 571.5,327.6 571.5,329.1 571.6,330.5 571.7,332.0 571.7,333.5 571.8,334.9 571.8,336.3 571.9,337.7 572.0,339.1 572.0,340.4 572.1,341.7 572.1,343.0 572.2,344.2 572.3,345.4 572.3,346.4 572.4,347.4 572.5,348.7 572.5,349.7 572.6,350.8 572.8,351.8 572.9,352.0 572.9,352.0 573.1,351.0 573.2,349.9 573.3,348.8 573.4,347.5 573.4,346.4 573.5,345.3 573.6,344.0 573.6,342.7 573.7,341.3 573.7,339.9 573.8,338.5 573.9,337.0 573.9,335.9 573.9,334.9 574.0,333.9 574.0,332.8 574.1,331.8 574.1,330.7 574.1,329.7 574.2,328.6 574.2,327.5 574.3,326.5 574.3,325.4 574.3,324.4 574.4,323.3 574.4,322.3 574.5,321.3 574.5,320.2 574.5,319.2 574.6,318.2 574.6,317.2 574.7,315.7 574.7,314.2 574.8,312.8 574.9,311.4 574.9,310.0 575.0,308.6 575.0,307.3 575.1,306.0 575.2,304.7 575.2,303.5 575.3,302.3 575.3,301.1 575.4,299.9 575.5,298.8 575.5,297.8 575.6,296.7 575.6,295.7 575.7,294.4 575.8,293.2 575.9,292.1 576.0,291.0 576.0,289.9 576.1,288.7 576.2,287.6 576.4,286.5 576.5,285.5 576.6,284.4 576.9,283.4 577.1,283.0 577.1,283.0 577.4,284.0 577.5,285.1 577.7,286.2 577.8,287.3 577.9,288.5 577.9,289.5 578.0,290.6 578.1,291.7 578.2,292.8 578.3,293.9 578.3,295.0 578.4,296.0 578.5,297.0 578.5,297.0 578.6,298.0 578.7,299.1 578.7,300.3 578.8,301.5 578.9,302.8 579.0,303.8 579.0,304.9 579.1,305.9 579.1,307.0 579.2,308.0 579.3,309.0 579.3,310.0 579.4,311.3 579.5,312.5 579.6,313.6 579.7,314.8 579.8,315.9 579.8,316.0 579.8,316.0 580.0,317.1 580.2,318.1 580.4,319.1 580.7,320.2 581.0,321.2 581.3,322.2 581.6,323.2 581.7,323.5 581.7,323.5 582.0,324.5 582.5,325.4 582.9,326.3 583.3,327.3 583.6,328.3 583.8,329.3 583.9,330.0 583.9,330.0 584.0,331.1 584.1,332.3 584.2,333.4 584.2,334.7 584.3,336.1 584.3,337.1 584.4,338.2 584.4,339.3 584.4,340.5 584.5,341.7 584.5,343.0 584.6,344.3 584.6,345.6 584.6,346.9 584.7,348.2 584.7,349.6 584.8,350.9 584.8,352.2 584.8,353.5 584.9,354.7 584.9,355.9 585.0,357.0 585.0,358.0 585.0,358.0 585.1,359.5 585.1,360.5 585.1,361.6 585.2,362.7 585.2,363.8 585.3,364.9 585.3,366.1 585.3,367.3 585.4,368.5 585.4,369.7 585.5,371.0 585.5,372.3 585.5,373.6 585.6,375.0 585.6,376.3 585.7,377.7 585.7,379.2 585.7,380.6 585.8,382.1 585.8,383.6 585.9,385.1 585.9,386.7 585.9,388.3 586.0,389.9 586.0,391.5 586.1,393.1 586.1,394.8 586.1,396.5 586.2,398.2 586.2,399.9 586.3,401.7 586.3,403.4 586.3,405.2 586.4,407.0 586.4,408.8 586.5,410.6 586.5,412.4 586.5,414.2 586.6,416.0 586.6,417.7 586.7,419.5 586.7,421.2 586.7,422.9 586.8,424.6 586.8,426.2 586.9,427.8 586.9,429.3 586.9,430.8 587.0,432.2 587.0,433.5 587.1,434.7 587.1,435.8 587.2,437.2 587.2,438.4 587.3,439.5 587.4,440.0 587.4,440.0 587.5,438.7 587.6,437.1 587.6,435.7 587.7,434.2 587.7,432.4 587.7,430.4 587.8,429.4 587.8,428.3 587.8,427.2 587.8,426.1 587.8,424.9 587.9,423.8 587.9,422.6 587.9,421.3 587.9,420.1 587.9,418.8 588.0,417.5 588.0,416.2 588.0,414.9 588.0,413.6 588.0,412.3 588.1,411.0 588.1,409.6 588.1,408.3 588.1,407.0 588.1,405.6 588.2,404.3 588.2,402.9 588.2,401.6 588.2,400.3 588.2,398.9 588.3,397.6 588.3,396.3 588.3,395.0 588.3,393.6 588.3,392.3 588.4,391.0 588.4,389.7 588.4,388.5 588.4,387.2 588.4,385.9 588.5,384.6 588.5,383.4 588.5,382.2 588.5,380.9 588.5,379.7 588.6,378.5 588.6,377.3 588.6,376.1 588.6,374.9 588.6,373.7 588.7,372.5 588.7,371.4 588.7,370.2 588.7,369.1 588.7,368.0 588.8,366.9 588.8,365.8 588.8,364.7 588.8,363.6 588.8,362.5 588.9,361.4 588.9,360.4 588.9,359.3 588.9,358.3 588.9,357.3 589.0,356.3 589.0,355.2 589.0,353.3 589.1,351.3 589.1,349.4 589.1,347.5 589.2,345.7 589.2,343.9 589.3,342.1 589.3,340.4 589.3,338.7 589.4,337.1 589.4,335.4 589.5,333.9 589.5,332.3 589.5,330.8 589.6,329.3 589.6,327.8 589.7,326.4 589.7,324.9 589.7,323.6 589.8,322.2 589.8,320.9 589.9,319.6 589.9,318.3 589.9,317.1 590.0,315.8 590.0,314.6 590.1,313.5 590.1,312.3 590.1,311.2 590.2,310.1 590.2,309.0 590.3,308.0 590.3,307.0 590.3,305.9 590.4,304.5 590.5,303.1 590.5,301.7 590.6,300.4 590.6,299.1 590.7,297.9 590.8,296.7 590.8,295.5 590.9,294.4 590.9,293.4 591.0,292.3 591.1,291.1 591.2,289.8 591.2,288.7 591.3,287.6 591.4,286.4 591.5,285.3 591.6,284.3 591.7,283.2 591.9,282.2 592.1,281.2 592.4,280.5 592.4,280.5 593.0,281.3 593.3,282.3 593.5,283.3 593.7,284.4 593.9,285.4 594.0,286.5 594.2,287.5 594.3,288.7 594.4,289.7 594.5,290.8 594.7,292.0 594.8,293.0 594.9,294.1 595.0,295.2 595.1,296.3 595.2,297.5 595.3,298.8 595.3,299.8 595.4,300.9 595.5,302.0 595.6,303.1 595.7,304.3 595.7,305.5 595.8,306.7 595.9,308.0 596.0,309.3 596.0,310.3 596.1,311.3 596.2,312.3 596.2,313.4 596.3,314.5 596.3,315.6 596.4,316.7 596.5,317.9 596.5,319.0 596.6,320.2 596.6,321.5 596.7,322.7 596.8,324.0 596.8,325.3 596.9,326.6 596.9,328.0 597.0,329.4 597.1,330.8 597.1,332.2 597.2,333.7 597.2,335.2 597.3,336.2 597.3,337.2 597.4,338.3 597.4,339.3 597.4,340.4 597.5,341.5 597.5,342.6 597.6,343.7 597.6,344.9 597.6,346.0 597.7,347.2 597.7,348.4 597.8,349.6 597.8,350.8 597.8,352.0 597.9,353.3 597.9,354.5 598.0,355.8 598.0,357.1 598.0,358.5 598.1,359.8 598.1,361.2 598.2,362.6 598.2,364.0 598.2,365.4 598.3,366.9 598.3,368.4 598.4,369.9 598.4,371.4 598.4,372.9 598.5,374.5 598.5,376.1 598.6,377.7 598.6,379.3 598.6,381.0 598.7,382.7 598.7,384.4 598.8,386.2 598.8,388.0 598.8,389.8 598.9,391.6 598.9,393.5 599.0,395.4 599.0,397.3 599.0,399.2 599.1,401.2 599.1,402.2 599.1,403.2 599.1,404.3 599.2,405.3 599.2,406.3 599.2,407.4 599.2,408.4 599.2,409.5 599.3,410.6 599.3,411.6 599.3,412.7 599.3,413.8 599.3,414.9 599.4,416.0 599.4,417.1 599.4,418.3 599.4,419.4 599.4,420.5 599.5,421.7 599.5,422.9 599.5,424.0 599.5,425.2 599.5,426.4 599.6,427.6 599.6,428.8 599.6,430.0 599.6,431.2 599.6,432.4 599.7,433.6 599.7,434.9 599.7,436.1 599.7,437.4 599.7,438.6 599.8,439.9 599.8,441.1 599.8,442.4 599.8,443.7 599.8,444.9 599.9,446.2 599.9,447.5 599.9,448.8 599.9,450.1 599.9,451.4 600.0,452.7 600.0,454.0 600.0,455.3 600.0,456.5 600.0,457.8 600.1,459.1 600.1,460.4 600.1,461.7 600.1,462.9 600.1,464.2"/>
<path d="M600.1,464.2 600.2,465.5 600.2,466.7 600.2,467.9 600.2,469.2 600.2,470.4 600.3,471.5 600.3,472.7 600.3,473.9 600.3,475.0 600.3,476.1 600.4,477.2 600.4,478.2 600.4,479.3 600.4,481.2 600.5,483.0 600.5,484.7 600.6,486.2 600.6,487.4 600.6,488.5 600.7,489.7 600.8,490.5 600.8,490.5 600.9,489.5 601.0,487.9 601.0,486.6 601.0,484.9 601.1,483.1 601.1,481.1 601.1,480.0 601.2,478.9 601.2,477.8 601.2,476.6 601.2,475.4 601.2,474.2 601.3,472.9 601.3,471.7 601.3,470.4 601.3,469.1 601.3,467.8 601.4,466.4 601.4,465.1 601.4,463.8 601.4,462.4 601.4,461.1 601.5,459.7 601.5,458.4 601.5,457.0 601.5,455.7 601.5,454.3 601.6,453.0 601.6,451.7 601.6,450.3 601.6,449.0 601.6,447.7 601.7,446.4 601.7,445.1 601.7,443.8 601.7,442.5 601.7,441.2 601.8,440.0 601.8,438.7 601.8,437.5 601.8,436.3 601.8,435.0 601.9,433.8 601.9,432.6 601.9,431.5 601.9,430.3 601.9,429.1 602.0,428.0 602.0,426.8 602.0,425.7 602.0,424.6 602.0,423.5 602.1,422.4 602.1,421.4 602.1,420.3 602.1,419.3 602.1,418.2 602.2,417.2 602.2,416.2 602.2,414.2 602.3,412.3 602.3,410.4 602.3,408.6 602.4,406.8 602.4,405.1 602.5,403.4 602.5,401.7 602.5,400.1 602.6,398.6 602.6,397.1 602.7,395.6 602.7,394.2 602.7,392.8 602.8,391.5 602.8,390.2 602.9,388.9 602.9,387.7 602.9,386.6 603.0,385.4 603.0,384.3 603.1,383.3 603.1,382.3 603.2,380.8 603.2,379.5 603.3,378.2 603.3,377.0 603.4,375.9 603.5,374.9 603.5,373.7 603.6,372.6 603.7,371.5 603.8,370.4 604.1,369.5 604.1,369.5 604.5,370.5 604.7,371.5 604.8,372.6 604.9,373.7 605.0,374.8 605.1,375.9 605.2,377.1 605.3,378.3 605.4,379.4 605.5,380.4 605.6,381.5 605.7,382.7 605.7,383.8 605.8,385.0 605.9,386.2 606.0,387.4 606.1,388.6 606.1,389.8 606.2,390.9 606.3,392.1 606.4,393.2 606.5,394.3 606.5,395.4 606.6,396.6 606.7,397.7 606.9,398.9 607.0,400.0 607.2,401.0 607.3,401.0 607.3,401.0 607.5,399.9 607.6,398.8 607.7,397.5 607.7,396.3 607.8,395.1 607.8,393.7 607.9,392.2 607.9,391.2 608.0,390.1 608.0,389.1 608.1,388.0 608.1,386.8 608.1,385.7 608.2,384.6 608.2,383.4 608.3,382.3 608.3,381.1 608.3,379.9 608.4,378.8 608.4,377.6 608.5,376.5 608.5,375.3 608.5,374.2 608.6,373.1 608.6,372.0 608.7,370.9 608.7,369.8 608.7,368.7 608.8,367.7 608.8,366.7 608.9,365.6 608.9,364.2 609.0,362.7 609.0,361.3 609.1,360.0 609.1,360.0 609.2,358.7 609.2,357.3 609.3,355.8 609.3,354.3 609.4,353.3 609.4,352.3 609.5,351.3 609.5,350.3 609.5,349.3 609.6,348.2 609.6,347.2 609.7,346.1 609.7,345.1 609.7,344.0 609.8,343.0 609.8,342.0 609.9,340.9 609.9,339.9 609.9,338.9 610.0,337.9 610.0,336.9 610.1,335.4 610.1,334.0 610.2,332.5 610.3,331.1 610.3,329.7 610.4,328.4 610.4,327.1 610.5,325.8 610.6,324.5 610.6,323.3 610.7,322.1 610.7,321.0 610.8,319.8 610.9,318.8 610.9,317.7 611.0,316.7 611.1,315.4 611.1,314.2 611.2,313.1 611.3,312.0 611.3,312.0 611.4,311.0 611.5,309.9 611.5,308.9 611.6,307.8 611.7,306.8 611.8,305.7 611.9,304.7 611.9,303.7 612.0,302.6 612.1,301.6 612.2,300.4 612.3,299.2 612.4,298.0 612.5,296.8 612.6,295.7 612.7,294.6 612.8,293.5 612.9,292.5 613.0,291.3 613.1,290.2 613.3,289.1 613.4,288.1 613.5,287.0 613.7,285.9 613.8,284.9 614.0,283.9 614.3,282.9 614.7,282.0 614.8,282.0 614.8,282.0 615.4,282.8 615.7,283.8 615.9,284.8 616.1,285.8 616.2,286.8 616.4,288.0 616.5,289.0 616.7,290.2 616.8,291.2 616.9,292.4 617.0,293.6 617.1,294.6 617.2,295.7 617.3,296.8 617.4,298.0 617.5,299.2 617.6,300.3 617.7,301.3 617.8,302.4 617.8,303.5 617.9,304.6 618.0,305.8 618.1,307.0 618.2,308.3 618.2,309.6 618.3,310.9 618.4,311.9 618.4,313.0 618.5,314.0 618.6,315.1 618.6,316.2 618.7,317.3 618.7,318.5 618.8,319.6 618.9,320.8 618.9,322.0 619.0,323.3 619.0,324.5 619.1,325.8 619.2,327.2 619.2,328.5 619.3,329.9 619.3,331.3 619.4,332.7 619.5,334.1 619.5,335.6 619.6,336.6 619.6,337.6 619.6,338.7 619.7,339.7 619.7,340.8 619.8,341.8 619.8,342.9 619.8,344.0 619.9,345.1 619.9,346.3 620.0,347.4 620.0,348.6 620.0,349.7 620.1,350.9 620.1,352.1 620.2,353.4 620.2,354.6 620.2,355.9 620.3,357.1 620.3,358.4 620.4,359.7 620.4,361.0 620.4,362.4 620.5,363.7 620.5,365.1 620.6,366.5 620.6,367.9 620.6,369.3 620.7,370.8 620.7,372.3 620.8,373.7 620.8,375.2 620.8,376.8 620.9,378.3 620.9,379.9 621.0,381.4 621.0,383.0 621.0,384.7 621.1,386.3 621.1,388.0 621.2,389.6 621.2,391.3 621.2,393.0 621.3,394.8 621.3,396.5 621.4,398.3 621.4,400.1 621.4,401.9 621.5,403.7 621.5,405.5 621.6,407.4 621.6,409.2 621.6,411.1 621.7,412.9 621.7,414.8 621.8,416.7 621.8,418.6 621.8,420.5 621.9,422.4 621.9,424.3 622.0,426.1 622.0,428.0 622.0,429.9 622.1,431.7 622.1,433.5 622.2,435.3 622.2,437.0 622.2,438.7 622.3,440.4 622.3,442.0 622.4,443.5 622.4,445.0 622.4,446.4 622.5,447.7 622.5,449.0 622.6,450.1 622.6,451.1 622.7,452.5 622.7,453.6 622.8,454.7 622.9,455.0 622.9,455.0 623.0,453.8 623.1,452.4 623.1,451.1 623.2,449.7 623.2,448.1 623.2,446.3 623.3,444.4 623.3,443.3 623.3,442.3 623.3,441.2 623.4,440.1 623.4,439.0 623.4,437.9 623.4,436.7 623.4,435.6 623.5,434.4 623.5,433.2 623.5,432.0 623.5,430.8 623.5,429.6 623.6,428.3 623.6,427.1 623.6,425.8 623.6,424.6 623.6,423.3 623.7,422.1 623.7,420.8 623.7,419.6 623.7,418.4 623.7,417.1 623.8,415.9 623.8,414.6 623.8,413.4 623.8,412.2 623.8,410.9 623.9,409.7 623.9,408.5 623.9,407.3 623.9,406.1 623.9,404.9 624.0,403.7 624.0,402.5 624.0,401.4 624.0,400.2 624.0,399.1 624.1,397.9 624.1,396.8 624.1,395.7 624.1,394.5 624.1,393.4 624.2,392.3 624.2,391.2 624.2,390.2 624.2,389.1 624.2,388.0 624.3,387.0 624.3,385.9 624.3,384.9 624.3,383.9 624.3,382.9 624.4,381.9 624.4,379.9 624.4,378.0 624.5,376.1 624.5,374.2 624.6,372.4 624.6,370.6 624.6,368.8 624.7,367.1 624.7,365.4 624.8,363.8 624.8,362.2 624.8,360.6 624.9,359.0 624.9,357.5 625.0,356.0 625.0,354.6 625.0,353.2 625.1,351.8 625.1,350.4 625.2,349.1 625.2,347.8 625.2,346.5 625.3,345.3 625.3,344.1 625.4,342.9 625.4,341.8 625.4,340.6 625.5,339.5 625.5,338.5 625.6,337.4 625.6,336.4 625.7,334.9 625.7,333.5 625.8,332.1 625.8,330.8 625.9,329.5 626.0,328.3 626.0,327.2 626.1,326.1 626.1,325.0 626.2,324.0 626.3,322.7 626.4,321.6 626.4,320.5 626.5,319.3 626.6,318.2 626.8,317.1 626.9,316.1 627.1,315.1 627.3,314.8 627.3,314.8 627.7,315.7 627.9,316.8 628.0,317.9 628.1,319.0 628.2,320.0 628.3,321.2 628.4,322.2 628.5,323.2 628.6,324.4 628.6,325.6 628.7,326.8 628.8,327.8 628.8,328.9 628.9,330.0 629.0,331.1 629.0,332.3 629.1,333.5 629.1,334.7 629.2,336.0 629.3,337.3 629.3,338.7 629.4,340.1 629.4,341.6 629.5,343.0 629.5,344.1 629.6,345.1 629.6,346.2 629.7,347.2 629.7,348.3 629.7,349.5 629.8,350.6 629.8,351.8 629.9,352.9 629.9,354.1 629.9,355.3 630.0,356.6 630.0,357.8 630.1,359.1 630.1,360.4 630.1,361.7 630.2,363.0 630.2,364.4 630.3,365.8 630.3,367.2 630.3,368.6 630.4,370.0 630.4,371.4 630.5,372.9 630.5,374.3 630.5,375.8 630.6,377.3 630.6,378.8 630.7,380.4 630.7,381.9 630.7,383.5 630.8,385.0 630.8,386.6 630.9,388.2 630.9,389.7 630.9,391.3 631.0,392.9 631.0,394.4 631.1,396.0 631.1,397.6 631.1,399.1 631.2,400.6 631.2,402.1 631.3,403.6 631.3,405.0 631.3,406.5 631.4,407.8 631.4,409.2 631.5,410.4 631.5,411.7 631.5,412.8 631.6,413.9 631.6,415.0 631.7,416.4 631.7,417.5 631.8,418.8 631.9,419.9 632.0,420.0 632.0,420.0 632.2,418.9 632.3,417.9 632.4,416.6 632.4,415.4 632.5,414.2 632.5,412.8 632.6,411.3 632.6,410.3 632.7,409.2 632.7,408.2 632.8,407.0 632.8,405.9 632.8,404.7 632.9,403.5 632.9,402.4 633.0,401.2 633.0,399.9 633.0,398.7 633.1,397.5 633.1,396.3 633.2,395.0 633.2,393.8 633.2,392.6 633.3,391.4 633.3,390.2 633.4,389.0 633.4,387.8 633.4,386.6 633.5,385.4 633.5,384.3 633.6,383.1 633.6,382.0 633.6,380.9 633.7,379.8 633.7,378.7 633.8,377.6 633.8,376.6 633.8,375.5 633.9,374.5 633.9,373.5 634.0,372.0 634.0,370.6 634.1,369.2 634.2,367.9 634.2,366.6 634.3,365.3 634.3,364.1 634.4,362.9 634.5,361.8 634.5,360.7 634.6,359.7 634.7,358.4 634.7,357.2 634.8,356.0 634.9,355.0 635.0,353.8 635.1,352.8 635.2,351.7 635.4,350.7 635.7,349.8 635.7,349.8 636.3,350.6 636.6,351.5 636.9,352.6 637.1,353.6 637.3,354.6 637.5,355.7 637.6,356.8 637.8,357.8 637.9,358.8 638.1,360.0 638.2,361.0 638.3,362.1 638.4,363.2 638.5,364.4 638.6,365.4 638.7,366.4 638.8,367.5 638.9,368.6 639.0,369.8 639.1,371.0 639.2,372.2 639.3,373.2 639.4,374.2 639.5,375.3 639.6,376.4 639.6,377.5 639.7,378.6 639.8,379.7 639.9,380.9 640.0,382.1 640.0,383.3 640.1,384.6 640.2,385.8 640.3,387.1 640.4,388.4 640.4,389.4 640.5,390.5 640.5,391.5 640.6,392.5 640.7,393.6 640.7,394.7 640.8,395.8 640.8,396.9 640.9,398.0 641.0,399.1 641.0,400.3 641.1,401.4 641.1,402.6 641.2,403.8 641.3,405.0 641.3,406.2 641.4,407.4 641.4,408.7 641.5,409.9 641.6,411.2 641.6,412.5 641.7,413.8 641.7,415.0 641.8,416.4 641.9,417.7 641.9,419.0 642.0,420.3 642.0,421.7 642.1,423.0 642.2,424.4 642.2,425.8 642.3,427.1 642.3,428.5 642.4,429.9 642.5,431.2 642.5,432.6 642.6,434.0 642.6,435.3 642.7,436.7 642.8,438.0 642.8,439.4 642.9,440.7 642.9,442.0 643.0,443.3 643.1,444.5 643.1,445.8 643.2,447.0 643.2,448.2 643.3,449.3 643.4,450.4 643.4,451.5 643.5,452.5 643.6,453.8 643.6,455.0 643.7,456.1 643.8,457.2 643.9,458.2 644.1,459.3 644.3,460.0 644.3,460.0 644.5,458.9 644.6,457.8 644.7,456.6 644.8,455.6 644.8,454.5 644.9,453.2 644.9,451.9 645.0,450.6 645.1,449.2 645.1,447.7 645.2,446.7 645.2,445.6 645.2,444.6 645.3,443.5 645.3,442.5 645.4,441.4 645.4,440.3 645.4,439.2 645.5,438.1 645.5,437.0 645.6,436.0 645.6,434.9 645.6,433.8 645.7,432.7 645.7,431.6 645.8,430.5 645.8,429.5 645.8,428.4 645.9,427.3 645.9,426.3 646.0,425.3 646.0,424.2 646.0,423.2 646.1,422.2 646.1,420.7 646.2,419.3 646.3,417.9 646.3,416.5 646.4,415.1 646.4,413.8 646.5,412.5 646.6,411.2 646.6,410.0 646.7,408.8 646.7,407.7 646.8,406.5 646.9,405.5 646.9,404.4 647.0,403.4 647.1,402.2 647.1,400.9 647.2,399.8 647.3,398.7 647.4,397.5 647.5,396.4 647.6,395.4 647.7,394.4 647.9,393.3 648.1,392.2 648.3,392.0 648.3,392.0 648.6,392.9 648.8,394.1 648.9,395.2 649.0,396.4 649.1,397.4 649.2,398.5 649.2,399.8 649.3,401.1 649.4,402.2 649.4,403.3 649.5,404.5 649.6,405.8 649.6,407.1 649.7,408.5 649.7,409.9 649.8,410.9 649.8,411.9 649.9,413.0 649.9,414.1 649.9,415.2 650.0,416.4 650.0,417.5 650.1,418.8 650.1,420.0 650.1,421.3 650.2,422.6 650.2,423.9 650.3,425.3 650.3,426.8 650.3,428.2 650.4,429.7 650.4,431.2 650.5,432.8 650.5,434.4 650.5,436.1 650.6,437.8 650.6,439.5 650.7,441.3 650.7,443.1 650.7,445.0 650.8,447.0 650.8,448.9 650.8,449.9 650.9,450.9 650.9,452.0 650.9,453.0 650.9,454.1 650.9,455.1 651.0,456.2 651.0,457.3 651.0,458.4 651.0,459.6 651.0,460.7 651.1,461.9 651.1,463.0 651.1,464.2 651.1,465.4 651.1,466.6 651.2,467.8 651.2,469.1 651.2,470.4 651.2,471.6 651.2,472.9 651.3,474.2 651.3,475.5 651.3,476.9 651.3,478.2 651.3,479.6 651.4,481.0 651.4,482.4 651.4,483.8 651.4,485.3 651.4,486.7 651.5,488.2 651.5,489.7 651.5,491.2 651.5,492.7 651.5,494.3 651.6,495.8 651.6,497.4 651.6,499.0 651.6,500.6 651.6,502.2 651.7,503.9 651.7,505.5 651.7,507.2 651.7,508.9 651.7,510.6 651.8,512.3 651.8,514.0 651.8,515.8 651.8,517.5 651.8,519.3 651.9,521.0 651.9,522.8 651.9,524.6 651.9,526.3 651.9,528.1 652.0,529.9 652.0,531.7 652.0,533.4 652.0,535.2 652.0,536.9 652.1,538.6 652.1,540.3 652.1,542.0 652.1,543.7 652.1,545.3 652.2,546.9 652.2,548.4 652.2,549.9 652.2,551.3 652.2,552.7 652.3,554.0 652.3,555.2 652.3,556.4 652.3,557.4 652.4,559.3 652.4,560.7 652.5,562.0 652.5,562.3 652.5,562.3 652.6,561.3 652.6,559.4 652.6,558.2 652.6,556.9 652.7,555.3 652.7,553.6 652.7,551.7 652.7,549.8 652.7,547.7 652.8,545.5 652.8,543.3 652.8,540.9 652.8,538.6 652.8,536.1 652.9,533.7 652.9,531.2 652.9,528.7 652.9,526.2 652.9,523.7 653.0,521.2 653.0,518.6 653.0,516.1 653.0,513.7 653.0,511.2 653.1,508.7 653.1,506.3 653.1,503.9 653.1,501.5 653.1,499.2 653.2,496.8 653.2,494.6 653.2,492.3 653.2,490.0 653.2,487.8 653.3,485.7 653.3,483.5 653.3,481.4 653.3,479.3 653.3,477.2 653.4,475.2 653.4,473.2 653.4,471.3 653.4,469.3 653.4,467.4 653.5,465.5 653.5,463.7 653.5,461.8 653.5,460.0 653.5,458.3 653.6,456.5 653.6,454.8 653.6,453.1 653.6,451.4 653.6,449.8 653.7,448.1 653.7,446.5 653.7,444.9 653.7,443.4 653.7,441.9 653.8,440.3 653.8,438.9 653.8,437.4 653.8,435.9 653.8,434.5 653.9,433.1 653.9,431.7 653.9,430.3 653.9,429.0 653.9,427.6 654.0,426.3 654.0,425.0 654.0,423.7 654.0,422.5 654.0,421.2 654.1,420.0 654.1,418.8 654.1,417.6 654.1,416.4 654.1,415.2 654.2,414.0 654.2,412.9 654.2,411.8 654.2,410.7 654.2,409.6 654.3,408.5 654.3,407.4 654.3,406.3 654.3,405.3 654.3,404.3 654.4,403.2 654.4,402.2 654.4,400.2 654.5,398.3 654.5,396.4 654.5,394.6 654.6,392.8 654.6,391.0 654.7,389.3 654.7,387.6 654.7,386.0 654.8,384.4 654.8,382.8 654.9,381.3 654.9,379.8 654.9,378.3 655.0,376.9 655.0,375.5 655.1,374.1 655.1,372.8 655.1,371.5 655.2,370.2 655.2,368.9 655.3,367.7 655.3,366.5 655.3,365.3 655.4,364.2 655.4,363.1 655.5,362.0 655.5,360.9 655.5,359.9 655.6,358.8 655.6,357.4 655.7,355.9 655.8,354.5 655.8,353.2 655.9,351.9 655.9,350.7 656.0,349.5 656.1,348.4 656.1,347.3 656.2,346.2 656.2,345.2 656.3,343.9 656.4,342.7 656.5,341.6 656.6,340.5 656.7,339.3 656.8,338.3 656.9,337.1 657.0,336.0 657.2,334.9 657.4,334.0 657.6,333.8 657.6,333.8 657.9,334.7 658.0,335.9 658.1,336.9 658.2,338.0 658.3,339.1 658.4,340.4 658.4,341.4 658.5,342.6 658.5,343.8 658.6,345.0 658.7,346.4 658.7,347.8 658.8,348.8 658.8,349.9 658.8,350.9 658.9,352.1 658.9,353.2 659.0,354.4 659.0,355.6 659.0,356.9 659.1,358.2 659.1,359.6 659.2,360.9 659.2,362.4 659.2,363.9 659.3,365.4 659.3,366.9 659.4,368.6 659.4,370.2 659.4,371.9 659.5,373.7 659.5,375.5 659.6,377.4 659.6,379.3 659.6,381.3 659.7,382.3 659.7,383.3 659.7,384.3 659.7,385.4 659.7,386.5 659.8,387.5 659.8,388.6 659.8,389.8 659.8,390.9 659.8,392.0 659.9,393.2 659.9,394.4 659.9,395.6 659.9,396.8 659.9,398.0 660.0,399.3 660.0,400.5 660.0,401.8 660.0,403.1 660.0,404.4 660.1,405.8 660.1,407.2 660.1,408.5 660.1,409.9 660.1,411.4 660.2,412.8 660.2,414.3 660.2,415.7 660.2,417.2 660.2,418.8 660.3,420.3 660.3,421.9 660.3,423.5 660.3,425.1 660.3,426.7 660.4,428.4 660.4,430.1 660.4,431.8 660.4,433.5 660.4,435.3 660.5,437.0 660.5,438.8 660.5,440.6 660.5,442.5 660.5,444.3 660.6,446.2 660.6,448.1 660.6,450.0 660.6,452.0 660.6,453.9 660.7,455.9 660.7,457.9 660.7,459.9 660.7,461.9 660.7,464.0 660.8,466.0 660.8,468.0 660.8,470.1 660.8,472.1 660.8,474.2 660.9,476.2 660.9,478.2 660.9,480.2 660.9,482.2 660.9,484.2 661.0,486.1 661.0,488.0 661.0,489.8 661.0,491.6 661.0,493.3 661.1,495.0 661.1,496.5 661.1,498.0 661.1,499.4 661.1,500.6 661.2,501.8 661.2,502.8 661.2,504.4 661.3,505.6 661.3,505.7 661.3,505.7 661.4,504.4 661.4,503.1 661.5,501.5 661.5,499.6 661.5,498.5 661.6,497.4 661.6,496.2 661.6,494.9 661.6,493.6 661.6,492.2 661.7,490.8 661.7,489.3 661.7,487.9 661.7,486.3 661.7,484.8 661.8,483.2 661.8,481.6 661.8,480.0 661.8,478.4 661.8,476.8 661.9,475.1 661.9,473.5 661.9,471.8 661.9,470.2 661.9,468.5 662.0,466.9 662.0,465.2 662.0,463.6 662.0,461.9 662.0,460.3 662.1,458.7 662.1,457.0 662.1,455.4 662.1,453.8 662.1,452.2 662.2,450.6 662.2,449.1 662.2,447.5 662.2,446.0 662.2,444.5 662.3,442.9 662.3,441.4 662.3,439.9 662.3,438.5 662.3,437.0 662.4,435.6 662.4,434.1 662.4,432.7 662.4,431.3 662.4,429.9 662.5,428.5 662.5,427.2 662.5,425.8 662.5,424.5 662.5,423.2 662.6,421.9 662.6,420.6 662.6,419.3 662.6,418.1 662.6,416.8 662.7,415.6 662.7,414.4 662.7,413.2 662.7,412.0 662.7,410.8 662.8,409.6 662.8,408.5 662.8,407.3 662.8,406.2 662.8,405.1 662.9,404.0 662.9,402.9 662.9,401.8 662.9,400.7 662.9,399.7 663.0,398.6 663.0,397.6 663.0,396.6 663.0,395.6 663.1,393.6 663.1,391.6 663.1,389.7 663.2,387.9 663.2,386.0 663.3,384.3 663.3,382.5 663.3,380.8 663.4,379.1 663.4,377.5 663.5,375.9 663.5,374.4 663.5,372.8 663.6,371.3 663.6,369.9 663.7,368.4 663.7,367.0 663.7,365.6 663.8,364.3 663.8,363.0 663.9,361.7 663.9,360.4 663.9,359.2 664.0,358.0 664.0,356.8 664.1,355.7 664.1,354.5 664.1,353.4 664.2,352.4 664.2,351.3 664.3,350.3 664.3,349.3 664.4,347.8 664.4,346.4 664.5,345.0 664.5,343.7 664.6,342.4 664.7,341.2 664.7,340.0 664.8,338.9 664.8,337.8 664.9,336.8 665.0,335.8 665.0,334.5 665.1,333.3 665.2,332.2 665.3,331.2 665.4,330.0 665.5,328.9 665.6,327.7 665.7,326.6 665.9,325.6 666.3,324.6 666.3,324.6 666.3,324.6 666.8,325.4 667.1,326.5 667.3,327.5 667.4,328.6 667.6,329.6 667.7,330.7 667.8,331.8 667.9,332.9 668.0,333.9 668.1,335.0 668.2,336.1 668.3,337.3 668.4,338.6 668.5,339.6 668.6,340.7 668.7,341.8 668.8,343.0 668.8,344.2 668.9,345.5 669.0,346.7 669.1,348.1 669.1,349.1 669.2,350.2 669.3,351.2 669.3,352.3 669.4,353.5 669.4,354.6 669.5,355.8 669.6,357.0 669.6,358.2 669.7,359.5 669.7,360.8 669.8,362.1 669.9,363.5 669.9,364.9 670.0,366.3 670.0,367.7 670.1,369.2 670.1,370.2 670.2,371.2 670.2,372.2 670.3,373.3 670.3,374.3 670.3,375.4 670.4,376.5 670.4,377.6 670.5,378.7 670.5,379.9 670.5,381.0 670.6,382.2 670.6,383.4 670.7,384.6 670.7,385.8 670.7,387.0 670.8,388.3 670.8,389.6 670.9,390.8 670.9,392.2 670.9,393.5 671.0,394.8 671.0,396.2 671.1,397.6 671.1,399.0 671.1,400.4 671.2,401.8 671.2,403.3 671.3,404.8 671.3,406.3 671.3,407.8 671.4,409.3 671.4,410.9 671.5,412.4 671.5,414.0 671.5,415.6 671.6,417.3 671.6,418.9 671.7,420.6 671.7,422.3 671.7,424.0 671.8,425.7 671.8,427.4 671.9,429.2 671.9,431.0 671.9,432.7 672.0,434.5 672.0,436.3 672.1,438.1 672.1,440.0 672.1,441.8 672.2,443.6 672.2,445.5 672.3,447.3 672.3,449.1 672.3,451.0 672.4,452.8 672.4,454.6 672.5,456.4 672.5,458.2 672.5,459.9 672.6,461.6 672.6,463.3 672.7,464.9 672.7,466.5 672.7,468.1 672.8,469.5 672.8,470.9 672.9,472.3 672.9,473.5 672.9,474.7 673.0,475.7 673.0,477.1 673.1,478.3 673.2,479.4 673.3,480.0 673.3,480.0 673.4,478.8 673.5,477.3 673.5,476.1 673.6,474.6 673.6,472.9 673.6,471.1 673.7,469.1 673.7,468.0 673.7,467.0 673.7,465.8 673.8,464.7 673.8,463.6 673.8,462.4 673.8,461.2 673.8,460.0 673.9,458.7 673.9,457.5 673.9,456.2 673.9,454.9 673.9,453.6 674.0,452.3 674.0,451.0 674.0,449.7 674.0,448.4 674.0,447.1 674.1,445.8 674.1,444.5 674.1,443.1 674.1,441.8 674.1,440.5 674.2,439.2 674.2,437.9 674.2,436.6 674.2,435.2 674.2,433.9 674.3,432.6 674.3,431.3 674.3,430.1 674.3,428.8 674.3,427.5 674.4,426.2 674.4,425.0 674.4,423.7 674.4,422.5 674.4,421.2 674.5,420.0 674.5,418.8 674.5,417.6 674.5,416.3 674.5,415.1 674.6,414.0 674.6,412.8 674.6,411.6 674.6,410.4 674.6,409.3 674.7,408.1 674.7,407.0 674.7,405.9 674.7,404.8 674.7,403.6 674.8,402.5 674.8,401.5 674.8,400.4 674.8,399.3 674.8,398.2 674.9,397.2 674.9,396.1 674.9,395.1 674.9,394.1 674.9,393.0 675.0,392.0 675.0,391.0 675.0,389.0 675.1,387.1 675.1,385.2 675.1,383.3 675.2,381.4 675.2,379.6 675.3,377.8 675.3,376.1 675.3,374.4 675.4,372.7 675.4,371.0 675.5,369.4 675.5,367.7 675.5,366.2 675.6,364.6 675.6,363.1 675.7,361.6 675.7,360.1 675.7,358.6 675.8,357.2 675.8,355.8 675.9,354.4 675.9,353.0 675.9,351.7 676.0,350.4 676.0,349.1 676.1,347.8 676.1,346.6 676.1,345.3 676.2,344.1 676.2,342.9 676.3,341.7 676.3,340.6 676.3,339.5 676.4,338.3 676.4,337.2 676.5,336.2 676.5,335.1 676.5,334.1 676.6,333.0 676.6,332.0 676.7,330.5 676.7,329.1 676.8,327.6 676.9,326.3 676.9,324.9 677.0,323.6 677.0,322.3 677.1,321.1 677.2,319.8 677.2,318.7 677.3,317.5 677.3,316.4 677.4,315.3 677.5,314.2 677.5,313.2 677.6,312.1 677.7,310.8 677.7,309.6 677.8,308.3 677.9,307.2 678.0,306.0 678.1,305.0 678.1,303.9 678.2,302.7 678.3,301.5 678.4,300.4 678.5,299.4 678.7,298.2 678.8,297.2 678.9,296.1 679.1,295.0 679.3,293.9 679.5,292.9 679.9,292.0 680.0,291.9 680.0,291.9 680.7,292.6 681.1,293.5 681.5,294.5 681.7,295.5 682.0,296.5 682.2,297.6 682.4,298.6 682.6,299.7 682.7,300.8 682.9,301.8 683.1,302.9 683.2,303.9 683.3,305.0 683.5,306.1 683.6,307.3 683.7,308.3 683.9,309.4 684.0,310.5 684.1,311.6 684.2,312.8 684.3,313.8 684.4,314.8 684.5,315.9 684.6,317.0 684.7,318.1 684.8,319.2 684.9,320.4 685.0,321.6 685.1,322.9 685.2,323.9 685.3,324.9 685.4,326.0 685.4,327.1 685.5,328.2 685.6,329.3 685.7,330.4 685.8,331.6 685.8,332.8 685.9,334.0 686.0,335.3 686.1,336.5 686.2,337.8 686.2,339.2 686.3,340.2 686.4,341.2 686.4,342.2 686.5,343.3 686.5,344.4 686.6,345.5 686.7,346.6 686.7,347.7 686.8,348.8 686.8,350.0 686.9,351.2 687.0,352.4 687.0,353.6 687.1,354.8 687.1,356.1 687.2,357.4 687.3,358.7 687.3,360.0 687.4,361.3 687.4,362.7 687.5,364.1 687.6,365.5 687.6,367.0 687.7,368.4 687.7,369.9 687.8,370.9 687.8,372.0 687.9,373.0 687.9,374.0 687.9,375.1 688.0,376.2 688.0,377.3 688.1,378.4 688.1,379.5 688.1,380.6 688.2,381.7 688.2,382.9 688.3,384.1 688.3,385.3 688.3,386.5 688.4,387.7 688.4,388.9 688.5,390.2 688.5,391.4 688.5,392.7 688.6,394.0 688.6,395.4 688.7,396.7 688.7,398.1 688.7,399.4 688.8,400.8 688.8,402.3 688.9,403.7 688.9,405.2 688.9,406.7 689.0,408.2 689.0,409.7 689.1,411.3 689.1,412.8 689.1,414.5 689.2,416.1 689.2,417.7 689.3,419.4 689.3,421.1 689.3,422.9 689.4,424.7 689.4,426.5 689.5,428.3 689.5,430.2 689.5,432.1 689.6,434.0 689.6,436.0 689.6,437.0 689.7,438.0 689.7,439.0 689.7,440.1 689.7,441.1 689.7,442.2 689.8,443.2 689.8,444.3 689.8,445.4 689.8,446.5 689.8,447.6 689.9,448.7 689.9,449.8 689.9,450.9 689.9,452.1 689.9,453.3 690.0,454.4 690.0,455.6 690.0,456.8 690.0,458.0 690.0,459.3 690.1,460.5 690.1,461.7 690.1,463.0 690.1,464.3 690.1,465.6 690.2,466.9 690.2,468.2 690.2,469.6 690.2,470.9 690.2,472.3 690.3,473.7 690.3,475.1 690.3,476.5 690.3,478.0 690.3,479.4 690.4,480.9 690.4,482.4 690.4,483.9 690.4,485.4 690.4,487.0 690.5,488.6 690.5,490.2 690.5,491.8 690.5,493.4 690.5,495.1 690.6,496.8 690.6,498.5 690.6,500.2 690.6,502.0 690.6,503.7 690.7,505.6 690.7,507.4 690.7,509.2 690.7,511.1 690.7,513.0 690.8,515.0 690.8,517.0 690.8,519.0 690.8,521.0 690.8,523.1 690.9,525.1 690.9,527.3 690.9,529.4 690.9,531.6 690.9,533.9 691.0,536.1 691.0,538.4 691.0,540.8 691.0,543.1 691.0,545.5 691.1,548.0 691.1,550.5 691.1,553.0 691.1,555.6 691.1,558.2 691.2,560.8 691.2,563.5 691.2,566.2 691.2,569.0 691.2,571.8 691.3,574.6 691.3,577.4 691.3,580.3 691.3,583.2 691.3,586.2 691.4,589.1 691.4,592.1 691.4,595.1 691.4,598.1 691.4,601.1 691.5,604.1 691.5,607.0 691.5,609.9 691.5,612.8 691.5,615.6 691.6,618.3 691.6,620.9 691.6,623.4 691.6,625.7 691.6,627.9 691.7,629.9 691.7,631.7 691.7,633.3 691.7,634.6 691.7,635.6 691.8,636.8 691.8,637.0 691.8,637.0 691.9,635.0 691.9,633.5 691.9,631.7 691.9,629.5 691.9,627.0 692.0,624.2 692.0,621.3 692.0,618.2 692.0,614.9 692.0,611.5 692.1,608.1 692.1,604.6 692.1,601.0 692.1,597.4 692.1,593.9 692.2,590.3 692.2,586.8 692.2,583.3 692.2,579.9 692.2,576.4 692.3,573.1 692.3,569.8 692.3,566.5 692.3,563.3 692.3,560.1 692.4,557.0 692.4,554.0 692.4,551.0 692.4,548.1 692.4,545.2 692.5,542.4 692.5,539.6 692.5,536.9 692.5,534.3 692.5,531.7 692.6,529.1 692.6,526.6 692.6,524.2 692.6,521.7 692.6,519.4 692.7,517.0 692.7,514.8 692.7,512.5 692.7,510.3 692.7,508.2 692.8,506.1 692.8,504.0 692.8,501.9 692.8,499.9 692.8,497.9 692.9,496.0 692.9,494.1 692.9,492.2 692.9,490.4 692.9,488.5 693.0,486.8 693.0,485.0 693.0,483.3 693.0,481.6 693.0,479.9 693.1,478.2 693.1,476.6 693.1,475.0 693.1,473.4 693.1,471.9 693.2,470.3 693.2,468.8 693.2,467.3 693.2,465.9 693.2,464.4 693.3,463.0 693.3,461.6 693.3,460.2 693.3,458.8 693.3,457.5 693.4,456.2 693.4,454.9 693.4,453.6 693.4,452.3 693.4,451.0 693.5,449.8 693.5,448.5 693.5,447.3 693.5,446.1 693.5,445.0 693.6,443.8 693.6,442.6 693.6,441.5 693.6,440.4 693.6,439.3 693.7,438.2 693.7,437.1 693.7,436.0 693.7,434.9 693.7,433.9 693.8,432.9 693.8,431.8 693.8,430.8 693.8,428.8 693.9,426.9 693.9,425.0 694.0,423.1 694.0,421.3 694.0,419.6 694.1,417.8 694.1,416.1 694.2,414.5 694.2,412.8 694.2,411.2 694.3,409.7 694.3,408.1 694.4,406.6 694.4,405.2 694.4,403.7 694.5,402.3 694.5,400.9 694.6,399.6 694.6,398.2 694.6,396.9 694.7,395.7 694.7,394.4 694.8,393.2 694.8,392.0 694.8,390.8 694.9,389.7 694.9,388.5 695.0,387.4 695.0,386.3 695.0,385.2 695.1,384.2 695.1,383.2 695.2,382.2 695.2,380.7 695.3,379.3 695.3,377.9 695.4,376.5 695.5,375.2 695.5,373.9 695.6,372.7 695.6,371.5 695.7,370.4 695.8,369.2 695.8,368.1 695.9,367.1 695.9,366.1 696.0,364.8 696.1,363.5 696.2,362.4 696.3,361.2 696.3,360.2 696.4,359.2 696.5,358.0 696.6,356.9 696.7,355.9 696.8,354.8 697.0,353.6 697.1,352.6 697.3,351.5 697.7,350.6 697.8,350.5 697.8,350.5 698.4,351.2 698.8,352.2 699.0,353.2 699.3,354.2 699.5,355.2 699.6,356.3 699.8,357.3 700.0,358.4 700.1,359.5 700.2,360.6 700.4,361.6 700.5,362.6 700.6,363.7 700.7,364.8 700.8,366.0 700.9,367.1 701.0,368.1 701.1,369.2 701.2,370.4 701.3,371.5 701.4,372.8 701.5,373.8 701.6,374.8 701.7,375.8 701.8,376.9 701.8,378.0 701.9,379.1 702.0,380.3 702.1,381.5 702.2,382.7 702.2,383.9 702.3,385.2 702.4,386.5 702.5,387.5 702.5,388.5 702.6,389.6 702.6,390.6 702.7,391.7 702.8,392.8 702.8,393.9 702.9,395.1 702.9,396.2 703.0,397.4 703.1,398.6 703.1,399.8 703.2,401.0 703.2,402.3 703.3,403.6 703.4,404.9 703.4,406.2 703.5,407.6 703.5,409.0 703.6,410.4 703.7,411.8 703.7,413.3 703.8,414.8 703.8,415.8 703.9,416.8 703.9,417.9 703.9,418.9 704.0,420.0 704.0,421.1 704.1,422.2 704.1,423.3 704.1,424.4 704.2,425.5 704.2,426.7 704.3,427.9 704.3,429.1 704.3,430.3 704.4,431.5 704.4,432.7 704.5,434.0 704.5,435.2 704.5,436.5 704.6,437.8 704.6,439.2 704.7,440.5 704.7,441.9 704.7,443.3 704.8,444.7 704.8,446.1 704.9,447.6 704.9,449.0 704.9,450.5 705.0,452.1 705.0,453.6 705.1,455.2 705.1,456.8 705.1,458.4 705.2,460.0 705.2,461.7 705.3,463.4 705.3,465.1 705.3,466.9 705.4,468.7 705.4,470.5 705.5,472.3 705.5,474.2 705.5,476.1 705.6,478.1 705.6,480.1 705.6,481.1 705.7,482.1 705.7,483.1 705.7,484.1 705.7,485.2 705.7,486.2 705.8,487.3 705.8,488.4 705.8,489.5 705.8,490.5 705.8,491.6 705.9,492.8 705.9,493.9 705.9,495.0 705.9,496.2 705.9,497.3 706.0,498.5 706.0,499.7 706.0,500.8 706.0,502.0 706.0,503.3 706.1,504.5 706.1,505.7 706.1,507.0 706.1,508.2 706.1,509.5 706.2,510.8 706.2,512.1 706.2,513.4 706.2,514.7 706.2,516.0 706.3,517.4 706.3,518.8 706.3,520.1 706.3,521.5 706.3,522.9 706.4,524.3 706.4,525.8 706.4,527.2 706.4,528.7 706.4,530.2 706.5,531.6 706.5,533.1 706.5,534.7 706.5,536.2 706.5,537.7 706.6,539.3 706.6,540.9 706.6,542.4 706.6,544.0 706.6,545.6 706.7,547.3 706.7,548.9 706.7,550.6 706.7,552.2 706.7,553.9 706.8,555.6 706.8,557.3 706.8,559.0 706.8,560.7 706.8,562.4 706.9,564.1 706.9,565.9 706.9,567.6 706.9,569.4 706.9,571.1 707.0,572.9 707.0,574.6 707.0,576.4 707.0,578.1 707.0,579.9 707.1,581.6 707.1,583.3 707.1,585.0 707.1,586.7 707.1,588.4 707.2,590.0 707.2,591.6 707.2,593.2 707.2,594.8 707.2,596.3 707.3,597.8 707.3,599.2 707.3,600.6 707.3,601.9 707.3,603.1 707.4,604.3 707.4,605.4 707.4,606.5 707.4,608.3 707.5,609.7 707.5,610.8 707.6,611.7 707.6,611.7 707.6,610.4 707.7,608.8 707.7,606.6 707.7,603.9 707.7,600.8 707.7,597.3 707.8,593.6 707.8,589.6 707.8,585.4 707.8,581.1 707.8,576.8 707.9,572.4 707.9,568.0 707.9,563.6 707.9,559.3 707.9,555.0 708.0,550.8 708.0,546.6 708.0,542.5 708.0,538.5 708.0,534.6 708.1,530.8 708.1,527.0 708.1,523.4 708.1,519.8 708.1,516.3 708.2,512.8 708.2,509.5 708.2,506.2 708.2,503.0 708.2,499.9 708.3,496.9 708.3,493.9 708.3,491.0 708.3,488.1 708.3,485.3 708.4,482.6 708.4,479.9 708.4,477.3 708.4,474.8 708.4,472.2 708.5,469.8 708.5,467.4 708.5,465.0 708.5,462.7 708.5,460.4 708.6,458.2 708.6,456.0 708.6,453.9 708.6,451.8 708.6,449.7 708.7,447.7 708.7,445.7 708.7,443.7 708.7,441.8 708.7,439.9 708.8,438.0 708.8,436.2 708.8,434.4 708.8,432.6 708.8,430.9 708.9,429.2 708.9,427.5 708.9,425.8 708.9,424.2 708.9,422.6 709.0,421.0 709.0,419.4 709.0,417.9 709.0,416.3 709.0,414.8 709.1,413.4 709.1,411.9 709.1,410.5 709.1,409.1 709.1,407.7 709.2,406.3 709.2,404.9 709.2,403.6 709.2,402.3 709.2,400.9 709.3,399.7 709.3,398.4 709.3,397.1 709.3,395.9 709.3,394.7 709.4,393.4 709.4,392.3 709.4,391.1 709.4,389.9 709.4,388.8 709.5,387.6 709.5,386.5 709.5,385.4 709.5,384.3 709.5,383.2 709.6,382.1 709.6,381.1 709.6,380.0 709.6,379.0 709.6,377.9 709.7,376.9 709.7,375.9 709.7,373.9 709.8,372.0 709.8,370.1 709.8,368.3 709.9,366.5 709.9,364.7 710.0,362.9 710.0,361.2 710.0,359.6 710.1,357.9 710.1,356.3 710.2,354.7 710.2,353.2 710.2,351.7 710.3,350.2 710.3,348.7 710.4,347.3 710.4,345.9 710.4,344.5 710.5,343.2 710.5,341.8 710.6,340.5 710.6,339.2 710.6,338.0 710.7,336.7 710.7,335.5 710.8,334.3 710.8,333.1 710.8,332.0 710.9,330.9 710.9,329.7 711.0,328.6 711.0,327.6 711.0,326.5 711.1,325.5 711.1,324.4 711.2,323.4 711.2,322.0 711.3,320.5 711.3,319.1 711.4,317.8 711.5,316.4 711.5,315.1 711.6,313.9 711.6,312.6 711.7,311.4 711.8,310.3 711.8,309.1 711.9,308.0 711.9,306.9 712.0,305.9 712.1,304.9 712.1,303.6 712.2,302.3 712.3,301.1 712.4,299.9 712.5,298.8 712.5,297.7 712.6,296.6 712.7,295.4"/>
<path d="M712.7,295.4 712.8,294.2 712.9,293.1 713.0,292.1 713.1,290.9 713.3,289.9 713.4,288.8 713.5,287.8 713.7,286.7 713.9,285.6 714.3,284.7 714.5,284.5 714.5,284.5 715.2,285.2 715.6,286.2 715.8,287.2 716.1,288.2 716.3,289.3 716.5,290.3 716.7,291.4 716.8,292.4 717.0,293.5 717.1,294.5 717.3,295.6 717.4,296.7 717.6,297.8 717.7,298.8 717.8,299.9 717.9,301.0 718.0,302.2 718.2,303.4 718.3,304.4 718.4,305.4 718.5,306.5 718.6,307.6 718.7,308.8 718.8,309.9 718.9,311.1 719.0,312.4 719.0,313.4 719.1,314.4 719.2,315.4 719.3,316.5 719.4,317.6 719.4,318.7 719.5,319.8 719.6,320.9 719.7,322.1 719.8,323.3 719.8,324.5 719.9,325.7 720.0,326.9 720.1,328.2 720.2,329.5 720.2,330.8 720.3,332.1 720.4,333.1 720.4,334.1 720.5,335.2 720.6,336.2 720.6,337.3 720.7,338.3 720.7,339.4 720.8,340.5 720.9,341.6 720.9,342.7 721.0,343.9 721.0,345.0 721.1,346.1 721.2,347.3 721.2,348.5 721.3,349.6 721.3,350.8 721.4,352.0 721.5,353.2 721.5,354.5 721.6,355.7 721.6,356.9 721.7,358.2 721.8,359.4 721.8,360.7 721.9,361.9 721.9,363.2 722.0,364.5 722.1,365.7 722.1,367.0 722.2,368.3 722.2,369.6 722.3,370.8 722.4,372.1 722.4,373.4 722.5,374.7 722.5,375.9 722.6,377.2 722.7,378.4 722.7,379.7 722.8,380.9 722.8,382.1 722.9,383.3 723.0,384.5 723.0,385.6 723.1,386.8 723.1,387.9 723.2,388.9 723.3,390.0 723.3,391.0 723.4,392.3 723.5,393.5 723.6,394.6 723.6,395.7 723.7,396.8 723.8,397.8 724.0,398.9 724.2,399.9 724.3,400.0 724.3,400.0 724.5,399.0 724.7,397.8 724.7,396.7 724.8,395.5 724.9,394.5 724.9,393.4 725.0,392.2 725.1,391.0 725.1,389.7 725.2,388.3 725.2,386.9 725.3,385.5 725.4,384.0 725.4,383.0 725.4,382.0 725.5,380.9 725.5,379.9 725.6,378.8 725.6,377.8 725.6,376.7 725.7,375.6 725.7,374.5 725.8,373.5 725.8,372.4 725.8,371.3 725.9,370.2 725.9,369.1 726.0,368.0 726.0,366.9 726.0,365.8 726.1,364.8 726.1,363.7 726.2,362.6 726.2,361.5 726.2,360.5 726.3,359.4 726.3,358.3 726.4,357.3 726.4,356.2 726.4,355.2 726.5,354.2 726.5,353.1 726.6,352.1 726.6,351.1 726.6,350.1 726.7,348.6 726.8,347.1 726.8,345.7 726.9,344.2 726.9,342.8 727.0,341.4 727.1,340.0 727.1,338.7 727.2,337.3 727.2,336.0 727.3,334.7 727.4,333.4 727.4,332.2 727.5,330.9 727.5,329.7 727.6,328.5 727.7,327.3 727.7,326.1 727.8,325.0 727.8,323.9 727.9,322.8 728.0,321.7 728.0,320.6 728.1,319.6 728.1,318.6 728.2,317.6 728.3,316.3 728.4,315.0 728.4,313.7 728.5,312.5 728.6,311.4 728.7,310.2 728.8,309.1 728.8,308.0 728.9,307.0 729.0,306.0 729.1,304.7 729.2,303.6 729.3,302.4 729.4,301.4 729.5,300.3 729.6,299.1 729.7,298.0 729.9,297.0 730.0,295.9"/>
<path d="M730.0,295.9 730.1,294.8 730.3,293.8 730.5,292.7 730.7,291.7 731.0,290.7 731.5,289.9 731.5,289.9 732.2,290.6 732.6,291.5 732.9,292.5 733.2,293.5 733.5,294.5 733.7,295.5 733.9,296.6 734.1,297.6 734.3,298.6 734.5,299.7 734.7,300.7 734.9,301.8 735.1,302.8 735.3,303.8 735.5,304.9 735.8,305.9 736.0,306.9 736.2,307.9 736.5,308.9 736.8,309.9 737.3,310.7 737.5,310.8 737.5,310.8 738.1,310.1 738.5,309.1 738.7,308.1 739.0,307.1"/>
<path d="M739.0,307.1 739.2,306.0 739.4,304.9 739.6,303.9 739.7,302.9 739.9,301.8 740.1,300.7 740.3,299.7 740.4,298.7 740.6,297.7 740.7,296.6 740.9,295.6 741.1,294.6 741.2,293.6 741.4,292.6 741.5,291.6 741.7,290.4 741.9,289.4 742.1,288.3 742.3,287.3 742.4,286.3 742.6,285.2 742.8,284.2 743.0,283.2 743.3,282.1 743.5,281.1 743.8,280.1 744.0,279.1 744.4,278.1 744.7,277.1 745.3,276.2 745.8,275.9"/>
<path d="M745.8,275.9 745.8,275.9 746.4,276.7 746.6,277.7 746.9,278.8 747.0,279.8 747.2,280.8 747.3,281.9 747.5,283.0 747.6,284.0 747.7,285.1 747.8,286.2 747.9,287.2 748.0,288.3 748.1,289.4 748.2,290.6 748.3,291.8 748.4,292.8 748.5,293.8 748.6,294.9 748.7,296.0 748.7,297.2 748.8,298.4 748.9,299.6 749.0,300.8 749.1,302.1 749.1,303.5 749.2,304.5 749.3,305.5 749.3,306.6 749.4,307.7"/>
<path d="M749.4,307.7 749.4,308.8 749.5,310.0 749.6,311.2 749.6,312.3 749.7,313.6 749.7,314.8 749.8,316.1 749.9,317.4 749.9,318.7 750.0,320.1 750.0,321.5 750.1,322.9 750.2,324.4 750.2,325.9 750.3,326.9 750.3,327.9 750.3,328.9 750.4,330.0 750.4,331.1 750.5,332.2 750.5,333.3 750.5,334.4 750.6,335.5 750.6,336.7 750.7,337.8 750.7,339.0 750.7,340.2 750.8,341.5 750.8,342.7 750.9,344.0 750.9,345.3 750.9,346.6 751.0,347.9 751.0,349.3 751.1,350.7 751.1,352.1 751.1,353.5 751.2,354.9 751.2,356.4 751.3,357.9 751.3,359.4 751.3,360.9 751.4,362.5 751.4,364.1 751.5,365.8 751.5,367.4 751.5,369.1 751.6,370.8 751.6,372.6 751.7,374.4 751.7,376.2 751.7,378.0 751.8,379.9 751.8,381.8 751.9,383.8 751.9,385.8 751.9,386.8 751.9,387.8 752.0,388.9 752.0,389.9 752.0,391.0 752.0,392.1 752.0,393.1 752.1,394.2 752.1,395.3 752.1,396.4 752.1,397.6 752.1,398.7 752.2,399.9 752.2,401.0 752.2,402.2 752.2,403.4 752.2,404.6 752.3,405.8 752.3,407.0 752.3,408.3 752.3,409.5 752.3,410.8 752.4,412.1 752.4,413.4 752.4,414.7 752.4,416.0 752.4,417.4 752.5,418.7 752.5,420.1 752.5,421.5 752.5,422.9 752.5,424.3 752.6,425.8 752.6,427.2 752.6,428.7 752.6,430.2 752.6,431.7 752.7,433.2 752.7,434.8 752.7,436.3 752.7,437.9 752.7,439.5 752.8,441.2 752.8,442.8 752.8,444.5 752.8,446.2 752.8,447.9 752.9,449.6 752.9,451.4 752.9,453.2 752.9,455.0 752.9,456.8 753.0,458.6 753.0,460.5 753.0,462.4 753.0,464.3 753.0,466.2 753.1,468.2 753.1,470.1 753.1,472.1 753.1,474.2 753.1,476.2 753.2,478.3 753.2,480.3 753.2,482.5 753.2,484.6 753.2,486.7 753.3,488.9 753.3,491.0 753.3,493.2 753.3,495.4 753.3,497.6 753.4,499.9 753.4,502.1 753.4,504.3 753.4,506.5 753.4,508.7 753.5,510.9 753.5,513.1 753.5,515.3 753.5,517.5 753.5,519.6 753.6,521.6 753.6,523.7 753.6,525.6 753.6,527.6 753.6,529.4 753.7,531.2 753.7,532.8 753.7,534.4 753.7,535.9 753.7,537.2 753.8,538.4 753.8,539.5 753.8,541.2 753.9,542.2 753.9,542.6 753.9,542.6 754.0,541.2 754.0,540.0 754.1,538.4 754.1,536.5 754.1,535.4 754.2,534.3 754.2,533.1 754.2,531.9 754.2,530.6 754.2,529.3 754.3,528.0 754.3,526.6 754.3,525.1 754.3,523.7 754.3,522.2 754.4,520.8 754.4,519.3 754.4,517.7 754.4,516.2 754.4,514.7 754.5,513.2 754.5,511.6 754.5,510.1 754.5,508.6 754.5,507.0 754.6,505.5 754.6,504.0 754.6,502.5 754.6,501.0 754.6,499.5 754.7,498.0 754.7,496.6 754.7,495.1 754.7,493.7 754.7,492.3 754.8,490.9 754.8,489.5 754.8,488.1 754.8,486.7 754.8,485.4 754.9,484.1 754.9,482.7 754.9,481.4 754.9,480.2 754.9,478.9 755.0,477.7 755.0,476.4 755.0,475.2 755.0,474.0 755.0,472.8 755.1,471.7 755.1,470.5 755.1,469.4 755.1,468.3 755.1,467.2 755.2,466.1 755.2,465.1 755.2,464.0 755.2,463.0 755.2,462.0 755.3,460.0 755.3,458.1 755.4,456.3 755.4,454.5 755.4,452.8 755.5,451.1 755.5,449.5 755.6,448.0 755.6,446.5 755.6,445.1 755.7,443.7 755.7,442.4 755.8,441.2 755.8,440.0 755.8,438.9 755.9,437.8 755.9,436.8 756.0,435.3 756.0,434.0 756.1,432.8 756.2,431.8 756.2,430.6 756.3,429.4 756.5,428.3 756.6,428.0 756.6,428.0 756.9,428.9 757.0,429.9 757.2,431.1 757.3,432.1 757.4,433.3 757.4,434.3 757.5,435.4 757.6,436.5 757.7,437.7 757.8,438.9 757.8,440.1 757.9,441.3 758.0,442.5 758.1,443.7 758.2,444.8 758.2,445.9 758.3,447.1 758.4,448.1 758.6,449.1 758.8,450.0 758.8,450.0 759.0,448.9 759.0,447.6 759.1,446.3 759.1,445.3 759.2,444.2 759.2,443.0 759.3,441.7 759.3,440.4 759.3,438.9 759.4,437.4 759.4,435.8 759.5,434.2 759.5,432.6 759.5,430.9 759.6,429.1 759.6,427.3 759.7,425.5 759.7,423.7 759.7,421.9 759.8,420.0 759.8,418.1 759.9,416.3 759.9,414.4 759.9,412.5 760.0,410.6 760.0,408.8 760.1,406.9 760.1,405.0 760.1,403.2 760.2,401.3 760.2,399.5 760.3,397.7 760.3,395.9 760.3,394.1 760.4,392.3 760.4,390.6 760.5,388.8 760.5,387.1 760.5,385.4 760.6,383.7 760.6,382.0 760.7,380.4 760.7,378.7 760.7,377.1 760.8,375.5 760.8,373.9 760.9,372.3 760.9,370.8 760.9,369.3 761.0,367.7 761.0,366.3 761.1,364.8 761.1,363.3 761.1,361.9 761.2,360.4 761.2,359.0 761.3,357.6 761.3,356.3 761.3,354.9 761.4,353.6 761.4,352.2 761.5,350.9 761.5,349.6 761.5,348.4 761.6,347.1 761.6,345.9 761.7,344.6 761.7,343.4 761.7,342.2 761.8,341.0 761.8,339.8 761.9,338.7 761.9,337.5 761.9,336.4 762.0,335.3 762.0,334.2 762.1,333.1 762.1,332.0 762.1,330.9 762.2,329.9 762.2,328.9 762.3,327.8 762.3,326.8 762.3,325.8 762.4,324.3 762.5,322.9 762.5,321.4 762.6,320.0 762.6,318.6 762.7,317.3 762.8,315.9 762.8,314.6 762.9,313.3 762.9,312.1 763.0,310.8 763.1,309.6 763.1,308.4 763.2,307.2 763.2,306.0 763.3,304.9 763.4,303.8 763.4,302.6 763.5,301.6 763.5,300.5 763.6,299.4 763.7,298.4 763.7,297.4 763.8,296.1 763.9,294.8 764.0,293.5"/>
<path d="M764.0,293.5 764.0,292.3 764.1,291.1 764.2,289.9 764.3,288.7 764.4,287.6 764.4,286.5 764.5,285.4 764.6,284.4 764.7,283.3 764.8,282.3 764.9,281.1 765.0,280.0 765.1,278.8 765.2,277.7 765.3,276.6 765.4,275.6 765.5,274.6 765.6,273.5 765.7,272.4 765.8,271.3 765.9,270.3 766.1,269.2 766.2,268.1 766.4,267.0 766.5,266.0 766.7,264.9 766.9,263.8 767.1,262.8 767.4,261.8 767.7,260.8"/>
<path d="M767.7,260.8 768.3,260.0 768.4,260.0 768.4,260.0 769.0,260.7 769.3,261.7 769.6,262.7 769.8,263.8 770.0,264.8 770.1,265.8 770.3,266.9 770.4,267.9 770.6,269.0 770.7,270.1 770.8,271.1 770.9,272.2 771.1,273.4 771.2,274.5 771.3,275.6 771.4,276.6 771.5,277.7 771.6,278.8 771.7,280.0 771.8,281.2 771.9,282.4 772.0,283.4 772.0,284.4 772.1,285.4 772.2,286.5 772.3,287.6 772.4,288.7 772.4,289.8 772.5,291.0 772.6,292.2"/>
<path d="M772.6,292.2 772.7,293.3 772.8,294.6 772.8,295.8 772.9,297.0 773.0,298.3 773.1,299.6 773.2,300.9 773.2,302.2 773.3,303.2 773.4,304.3 773.4,305.3 773.5,306.3 773.5,307.4 773.6,308.4 773.7,309.5 773.7,310.5 773.8,311.6 773.8,312.7 773.9,313.8 774.0,314.9 774.0,316.0 774.1,317.1 774.1,318.2 774.2,319.3 774.3,320.4 774.3,321.5 774.4,322.6 774.4,323.7 774.5,324.8 774.6,325.9 774.6,327.0 774.7,328.1 774.7,329.2 774.8,330.3 774.9,331.3 774.9,332.4 775.0,333.4 775.0,334.4 775.1,335.7 775.2,337.0 775.3,338.3 775.4,339.5 775.4,340.6 775.5,341.7 775.6,342.7 775.7,343.9 775.8,344.9 775.9,346.0 776.1,347.1 776.4,348.0 776.4,348.0 776.8,347.1 777.1,346.0 777.2,345.0 777.4,343.9 777.5,342.8 777.6,341.8 777.7,340.6 777.9,339.5 778.0,338.5 778.1,337.4 778.2,336.4 778.3,335.3 778.4,334.2 778.5,333.1 778.6,332.0 778.7,330.9 778.8,329.8 778.9,328.7 779.0,327.6 779.1,326.5 779.2,325.4 779.3,324.3 779.4,323.2 779.5,322.1 779.6,321.1 779.7,320.1 779.8,319.0 779.9,317.9 780.0,316.7 780.1,315.6 780.2,314.5 780.4,313.4 780.5,312.4 780.6,311.3"/>
<path d="M780.6,311.3 780.8,310.2 780.9,309.2 781.1,308.1 781.2,307.0 781.4,306.0 781.6,305.0 781.8,304.0 782.1,303.0 782.5,302.1 782.8,301.9 782.8,301.9 783.5,302.6 783.9,303.5 784.3,304.5 784.5,305.5 784.8,306.5 785.0,307.5 785.2,308.5 785.4,309.5 785.5,310.6 785.7,311.7 785.9,312.7 786.0,313.8 786.2,315.0 786.3,316.0 786.5,317.1 786.6,318.1 786.8,319.3 786.9,320.3 787.0,321.3 787.1,322.3 787.2,323.4 787.4,324.5 787.5,325.6 787.6,326.8 787.7,327.9"/>
<path d="M787.7,327.9 787.8,329.1 787.9,330.1 788.0,331.1 788.1,332.1 788.2,333.1 788.3,334.2 788.4,335.2 788.5,336.3 788.6,337.4 788.7,338.5 788.8,339.6 788.9,340.7 789.0,341.8 789.1,342.9 789.2,344.0 789.3,345.1 789.4,346.2 789.5,347.3 789.6,348.4 789.7,349.5 789.8,350.6 789.9,351.7 790.0,352.7 790.1,353.8 790.2,354.8 790.3,355.8 790.4,356.8 790.6,358.0"/>
<path d="M790.6,358.0 790.7,359.1 790.8,360.2 790.9,361.3 791.1,362.4 791.2,363.4 791.4,364.5 791.5,365.6 791.8,366.6 792.1,367.5 792.3,367.7 792.3,367.7 792.8,366.8 793.0,365.9 793.2,364.8 793.4,363.7 793.6,362.6 793.7,361.5 793.9,360.4 794.0,359.4 794.1,358.3 794.2,357.2 794.3,356.1 794.5,355.0 794.6,353.8 794.7,352.6 794.8,351.6 794.9,350.6 795.0,349.6 795.1,348.5 795.2,347.5 795.3,346.4 795.4,345.4 795.5,344.4 795.6,343.3 795.7,342.3 795.8,341.3"/>
<path d="M795.8,341.3 795.9,340.2 796.0,339.2 796.1,338.2 796.2,337.2 796.3,336.2 796.4,335.0 796.5,333.8 796.7,332.7 796.8,331.5 796.9,330.4 797.0,329.3 797.1,328.2 797.3,327.1 797.4,326.1 797.5,325.1 797.6,324.0 797.8,322.9 797.9,321.8 798.0,320.7 798.2,319.6 798.3,318.6 798.5,317.6 798.6,316.5 798.8,315.5 798.9,314.7 798.9,314.7 799.1,313.7 799.2,312.6 799.4,311.5 799.6,310.5 799.8,309.4 800.0,308.3"/>
<path d="M800.0,308.3 800.1,307.3 800.3,306.2 800.5,305.1 800.7,304.0 800.8,303.0 801.0,302.0 801.1,300.9 801.3,299.8 801.4,299.1 801.4,299.1 801.5,298.1 801.7,297.0 801.8,295.8 801.9,294.8 802.1,293.8 802.2,292.7 802.3,291.7 802.4,290.6 802.5,289.5 802.7,288.5 802.8,287.4 802.9,286.4 803.0,285.4 803.2,284.3 803.3,283.2 803.4,282.4 803.4,282.4 803.5,281.4 803.7,280.3 803.8,279.3 804.0,278.2 804.1,277.2 804.2,276.2 804.4,275.2"/>
<path d="M804.4,275.2 804.5,274.1 804.7,273.0 804.9,272.0 805.0,270.9 805.2,269.8 805.4,268.8 805.6,267.7 805.7,267.1 805.7,267.1 805.9,266.1 806.1,265.0 806.3,264.0 806.5,262.9 806.7,261.8 806.9,260.8 807.1,259.7 807.3,258.7 807.5,257.7 807.8,256.6 808.0,255.6 808.3,254.7 808.7,253.7 809.4,253.0 809.4,253.0 809.4,253.0 810.2,253.6 810.8,254.4 811.3,255.3 811.6,256.0 811.6,256.0 812.0,256.9 812.3,257.9 812.5,258.9 812.8,259.9 813.0,260.9"/>
<path d="M813.0,260.9 813.2,261.9 813.4,262.9 813.6,263.9 813.8,264.9 814.0,266.0 814.2,267.0 814.4,268.0 814.7,269.0 814.9,270.0 814.9,270.0 815.2,271.0 815.4,272.0 815.7,273.0 816.0,274.0 816.3,275.0 816.5,276.0 816.8,277.0 817.1,278.0 817.4,279.0 817.7,280.0 817.9,281.0 818.2,282.0 818.5,283.0 818.7,284.0 819.0,285.0 819.2,286.0 819.4,286.7 819.4,286.7 819.6,287.7 819.9,288.8 820.1,289.8 820.4,290.8 820.6,291.9"/>
<path d="M820.6,291.9 820.8,292.9 821.0,293.9 821.3,295.0 821.5,296.0 821.7,297.1 821.8,298.1 822.0,299.2 822.2,300.2 822.3,301.3 822.4,301.7 822.4,301.7 822.5,302.7 822.7,303.9 822.8,304.9 822.9,306.0 823.0,307.2 823.1,308.2 823.2,309.2 823.3,310.3 823.4,311.4 823.5,312.5 823.6,313.7 823.7,314.8 823.8,316.0 823.9,317.3 824.0,318.0 824.0,318.0 824.1,319.0 824.2,320.0 824.2,321.1 824.3,322.2 824.4,323.4 824.5,324.5 824.6,325.7 824.6,327.0 824.7,328.3 824.8,329.6 824.9,330.6 824.9,331.6 825.0,332.6 825.0,333.7 825.1,334.8 825.2,335.9 825.2,337.0 825.3,338.1 825.3,339.3 825.4,340.4 825.5,341.6 825.5,342.8 825.6,344.1 825.6,345.3 825.7,346.6 825.8,347.8 825.8,349.1 825.9,350.5 825.9,351.8 826.0,353.1 826.1,354.5 826.1,355.9 826.2,357.2 826.2,357.7 826.2,357.7 826.3,359.1 826.3,360.6 826.4,361.7 826.4,362.8 826.4,363.9 826.5,365.1 826.5,366.3 826.6,367.5 826.6,368.8 826.6,370.1 826.7,371.4 826.7,372.8 826.8,374.3 826.8,375.8 826.8,377.3 826.9,378.9 826.9,380.5 827.0,382.2 827.0,383.9 827.0,385.7 827.1,387.5 827.1,389.4 827.2,391.3 827.2,393.3 827.2,394.3 827.2,395.4 827.3,396.4 827.3,397.5 827.3,398.6 827.3,399.7 827.3,400.8 827.4,401.9 827.4,403.1 827.4,404.3 827.4,405.4 827.4,406.7 827.5,407.9 827.5,409.1 827.5,410.4 827.5,411.7 827.5,413.0 827.6,414.3 827.6,415.7 827.6,417.0 827.6,418.4 827.6,419.9 827.7,421.3 827.7,422.8 827.7,424.3 827.7,425.8 827.7,427.3 827.8,428.9 827.8,430.5 827.8,432.1 827.8,433.8 827.8,435.5 827.9,437.2 827.9,438.9 827.9,440.7 827.9,442.5 827.9,444.4 828.0,446.3 828.0,448.2 828.0,450.2 828.0,452.2 828.0,454.2 828.1,456.3"/>
<path d="M828.1,456.3 828.1,458.4 828.1,460.6 828.1,462.8 828.1,465.0 828.2,467.3 828.2,469.7 828.2,472.1 828.2,474.5 828.2,477.0 828.3,479.6 828.3,482.2 828.3,484.9 828.3,487.6 828.3,490.4 828.4,493.3 828.4,496.2 828.4,499.2 828.4,502.3 828.4,505.4 828.5,508.6 828.5,511.9 828.5,515.3 828.5,518.7 828.5,522.2 828.6,525.8 828.6,529.4 828.6,533.1 828.6,536.9 828.6,540.8 828.7,544.6 828.7,548.6 828.7,552.5 828.7,556.5 828.7,560.5 828.8,564.5 828.8,568.4 828.8,572.2 828.8,575.9 828.8,579.5 828.9,582.8 828.9,585.8 828.9,588.5 828.9,590.9 828.9,592.8 829.0,594.2 829.0,595.3 829.0,595.3 829.1,593.7 829.1,592.4 829.1,590.9 829.1,589.1 829.1,587.0 829.2,584.7 829.2,582.3 829.2,579.6 829.2,576.8 829.2,573.9 829.3,571.0 829.3,567.9 829.3,564.8 829.3,561.7 829.3,558.6 829.4,555.4 829.4,552.3 829.4,549.2 829.4,546.1 829.4,543.0 829.5,540.0 829.5,537.0 829.5,534.0 829.5,531.1 829.5,528.2 829.6,525.4 829.6,522.6 829.6,519.9 829.6,517.2 829.6,514.5 829.7,511.9 829.7,509.4 829.7,506.9 829.7,504.4 829.7,502.0 829.8,499.7 829.8,497.3 829.8,495.1 829.8,492.8 829.8,490.6 829.9,488.5 829.9,486.4 829.9,484.3 829.9,482.3 829.9,480.3 830.0,478.3 830.0,476.4 830.0,474.5 830.0,472.6 830.0,470.8 830.1,469.0 830.1,467.2 830.1,465.5 830.1,463.8 830.1,462.1 830.2,460.4 830.2,458.8 830.2,457.2 830.2,455.7 830.2,454.1 830.3,452.6 830.3,451.1 830.3,449.7 830.3,448.2 830.3,446.8 830.4,445.4"/>
<path d="M830.4,445.4 830.4,444.0 830.4,442.7 830.4,441.3 830.4,440.0 830.5,438.7 830.5,437.5 830.5,436.2 830.5,435.0 830.5,433.8 830.6,432.6 830.6,431.4 830.6,430.2 830.6,429.1 830.6,428.0 830.7,426.9 830.7,425.8 830.7,424.7 830.7,423.7 830.7,422.6 830.8,421.6 830.8,420.6 830.8,418.6 830.9,416.7 830.9,414.8 830.9,413.0 831.0,411.2 831.0,409.5 831.1,407.9 831.1,406.2 831.1,404.7 831.2,403.2 831.2,401.7 831.3,400.3 831.3,398.9 831.3,397.5 831.4,396.2 831.4,394.9 831.5,393.7 831.5,392.5 831.5,391.4 831.6,390.2 831.6,389.7 831.6,389.7 831.6,388.6 831.7,387.5 831.7,386.5 831.8,385.4 831.8,384.3 831.8,383.2 831.9,382.2 831.9,381.1 832.0,380.1 832.0,379.0 832.0,378.0 832.1,376.9 832.1,375.9 832.2,374.9 832.2,373.9 832.2,372.9 832.3,371.4 832.4,369.9 832.4,368.5 832.5,367.0 832.5,365.6 832.6,364.2 832.7,362.9 832.7,361.6 832.8,360.3 832.8,359.0 832.9,357.7 833.0,356.5 833.0,355.3 833.1,354.1 833.1,353.0 833.2,351.8 833.3,350.7 833.3,349.7 833.4,348.6 833.4,347.6 833.5,346.3 833.6,345.0 833.6,345.0 833.7,343.7 833.8,342.5 833.8,341.2 833.9,339.9 834.0,338.6 834.1,337.4 834.2,336.1 834.2,334.9 834.3,333.7 834.4,332.5 834.5,331.4 834.6,330.3 834.6,329.2 834.7,328.2 834.8,327.0 834.9,325.8 835.0,324.8 835.1,323.6 835.3,322.6 835.4,321.6 835.5,321.0 835.5,321.0 835.7,319.9 835.9,318.9 836.1,317.9 836.3,316.8 836.6,315.8 836.8,314.8 837.1,313.8"/>
<path d="M837.1,313.8 837.4,312.9 837.9,312.0 838.3,311.8 838.3,311.8 839.2,312.3 839.8,313.1 840.5,313.8 841.3,314.3 841.3,314.3 841.8,313.5 842.1,312.4 842.3,311.4 842.5,310.4 842.7,309.4 842.8,309.0 842.8,309.0 843.0,308.0 843.1,307.0 843.3,305.9 843.4,304.8 843.5,303.8 843.7,302.8 843.8,301.7 843.9,300.7 844.0,299.6 844.1,298.6 844.3,297.6 844.4,296.6 844.4,296.4 844.4,296.4 844.5,295.2 844.7,294.2 844.8,293.2 844.9,292.1 845.0,291.1 845.1,290.0 845.3,289.0 845.4,287.9 845.5,286.9 845.6,285.9"/>
<path d="M845.6,285.9 845.7,284.8 845.9,283.8 846.0,282.7 846.1,281.6 846.2,281.1 846.2,281.1 846.3,280.0 846.5,278.8 846.6,277.8 846.7,276.8 846.8,275.8 847.0,274.7 847.1,273.6 847.3,272.5 847.4,271.5 847.6,270.4 847.7,269.3 847.9,268.3 848.0,268.0 848.0,268.0 848.2,267.0 848.5,265.9 848.7,264.9 849.0,263.9 849.2,262.9 849.5,261.9 849.8,260.9 850.2,259.9 850.6,259.0 851.1,258.1 851.6,257.9 851.6,257.9 852.3,258.5 852.7,259.5 853.1,260.4"/>
<path d="M853.1,260.4 853.3,261.4 853.6,262.4 853.8,263.4 854.0,264.5 854.2,265.5 854.4,266.5 854.6,267.6 854.8,268.7 854.9,269.7 855.1,270.7 855.2,271.8 855.4,272.9 855.5,273.9 855.7,274.9 855.8,276.0 856.0,277.0 856.1,278.1 856.2,279.2 856.4,280.3 856.5,281.4 856.7,282.5 856.8,283.6 856.9,284.7 857.1,285.8 857.2,286.9 857.4,288.0 857.5,289.1 857.6,289.9 857.6,289.9 857.7,291.0 857.9,292.0"/>
<path d="M857.9,292.0 858.0,293.1 858.1,294.1 858.2,295.3 858.3,296.4 858.4,297.5 858.5,298.5 858.6,299.5 858.7,300.6 858.8,301.7 858.9,302.8 859.0,304.0 859.1,305.1 859.2,306.3 859.3,307.5 859.4,308.6 859.5,309.8 859.6,311.0 859.7,312.2 859.8,313.4 859.9,314.6 860.0,315.7 860.1,316.9 860.2,318.0 860.3,319.1 860.4,320.2 860.5,321.2 860.6,321.8 860.6,321.8 860.7,323.0 860.8,324.0 860.9,325.0"/>
<path d="M860.9,325.0 861.0,326.0 861.1,327.1 861.2,328.1 861.3,329.2 861.4,330.2 861.5,331.3 861.6,332.4 861.7,333.5 861.8,334.5 861.9,335.6 862.0,336.7 862.1,337.8 862.2,338.9 862.3,340.0 862.4,341.1 862.5,342.1 862.6,343.2 862.7,344.3 862.8,345.3 862.9,346.4 863.0,347.4 863.1,348.4 863.2,349.6 863.4,350.7 863.5,351.8 863.6,352.9 863.7,353.9 863.9,355.0 864.0,356.0 864.2,357.1 864.2,357.3 864.2,357.3"/>
<path d="M864.2,357.3 864.4,358.4 864.6,359.3 864.8,360.4 865.0,361.4 865.2,362.4 865.4,363.4 865.7,364.5 866.0,365.5 866.2,366.4 866.5,367.4 866.5,367.5 866.5,367.5 866.8,368.5 867.0,369.5 867.3,370.5 867.6,371.5 867.9,372.5 868.2,373.5 868.3,373.6 868.3,373.6 868.8,374.5 869.3,375.4 870.0,376.2 870.7,376.8 871.0,377.0 871.0,377.0 871.9,377.4 872.9,377.7 873.9,377.9 874.9,378.0 875.0,378.0 875.0,378.0 876.0,377.9 877.0,377.7 878.0,377.4 878.9,377.0 879.0,377.0 879.0,377.0 879.8,376.3 880.3,375.5 880.8,374.5 881.0,374.1 881.0,374.1"/>
<path d="M881.0,374.1 881.3,373.1 881.6,372.1 881.8,371.1 882.1,370.1 882.3,369.0 882.5,367.9 882.7,366.9 882.8,366.5 882.8,366.5 883.0,365.4 883.3,364.4 883.5,363.4 883.7,362.3 883.9,361.3 884.1,360.3 884.3,359.2 884.4,358.4 884.4,358.4 884.5,357.4 884.6,356.4 884.7,355.2 884.8,354.2 884.9,353.2 885.0,352.1 885.0,351.0 885.1,349.9 885.2,348.8 885.3,347.7 885.4,346.7 885.4,345.7 885.5,344.5 885.6,343.8 885.6,343.8 885.7,342.7 885.8,341.7 885.9,340.7"/>
<path d="M885.9,340.7 886.0,339.5 886.1,338.4 886.3,337.3 886.4,336.2 886.5,335.1 886.6,334.1 886.7,333.1 886.9,331.9 887.0,330.8 887.2,329.7 887.3,328.6 887.4,327.5 887.6,326.4 887.7,325.4 887.9,324.3 888.0,323.3 888.1,322.2 888.3,321.1 888.4,320.1 888.6,319.0 888.7,318.0 888.8,316.9 889.0,315.8 889.1,314.8 889.3,313.7 889.4,312.6 889.5,311.8 889.5,311.8 889.6,310.7 889.8,309.6 889.9,308.6"/>
<path d="M889.9,308.6 890.0,307.5 890.1,306.4 890.2,305.2 890.4,304.1 890.5,303.0 890.6,301.8 890.7,300.6 890.8,299.5 891.0,298.3 891.1,297.2 891.2,296.1 891.3,295.0 891.4,293.9 891.6,292.8 891.7,291.8 891.8,290.8 891.9,289.6 892.1,288.5 892.2,287.4 892.4,286.4 892.5,285.3 892.7,284.2 892.9,283.1 893.0,282.1 893.2,281.1 893.5,280.1 893.5,280.0 893.5,280.0 893.8,279.0 894.0,278.0 894.3,277.0"/>
<path d="M894.3,277.0 894.6,276.0 894.8,275.0 895.1,274.0 895.4,273.0 895.7,272.0 896.0,271.0 896.4,270.1 896.7,269.1 897.1,268.1 897.5,267.2 898.0,266.3 898.6,265.4 899.3,264.7 900.0,264.5 900.0,264.5 900.8,265.0 901.4,265.9 901.8,266.8 902.2,267.8 902.6,268.7 902.9,269.7 903.1,270.7 903.4,271.7 903.7,272.7 903.9,273.7 904.2,274.7 904.4,275.8 904.7,276.8 904.9,277.8 904.9,277.9 904.9,277.9 905.1,278.9 905.3,280.0 905.4,281.0"/>
<path d="M905.4,281.0 905.6,282.1 905.7,283.2 905.8,284.2 906.0,285.2 906.1,286.4 906.2,287.5 906.3,288.5 906.4,289.6 906.5,290.6 906.6,291.7 906.7,292.9 906.8,294.0 906.9,295.2 907.0,296.4 907.1,297.6 907.2,298.8 907.3,300.0 907.4,301.3 907.5,302.5 907.6,303.8 907.7,305.0 907.8,306.2 907.9,307.4 908.0,308.6 908.1,309.8 908.1,309.8 908.2,311.0 908.3,312.1 908.4,313.3"/>
<path d="M908.4,313.3 908.5,314.6 908.6,315.8 908.7,316.8 908.8,317.8 908.8,318.8 908.9,319.9 909.0,320.9 909.1,322.0 909.2,323.0 909.2,324.1 909.3,325.2 909.4,326.3 909.5,327.4 909.6,328.5 909.6,329.6 909.7,330.7 909.8,331.9 909.9,333.0 910.0,334.1 910.0,335.3 910.1,336.4 910.2,337.5 910.3,338.7 910.4,339.8 910.4,341.0 910.5,341.8 910.5,341.8 910.6,342.9 910.7,344.1 910.7,345.3 910.8,346.5 910.9,347.7"/>
<path d="M910.9,347.7 911.0,348.9 911.1,350.2 911.1,351.5 911.2,352.8 911.3,354.1 911.4,355.4 911.5,356.7 911.5,357.7 911.6,358.7 911.6,359.7 911.7,360.7 911.8,361.8 911.8,362.8 911.9,363.8 911.9,364.8 912.0,365.8 912.1,366.9 912.1,367.9 912.2,368.9 912.2,369.9 912.3,371.2 912.4,372.5 912.5,373.8 912.6,375.1 912.6,376.3 912.7,377.5"/>
<path d="M912.7,377.5 912.8,378.6 912.9,379.7 912.9,380.0 912.9,380.0 913.0,381.1 913.1,382.2 913.1,383.3 913.2,384.4 913.3,385.6 913.4,386.8 913.5,388.0 913.5,389.2 913.6,390.4 913.7,391.7 913.8,392.9 913.9,394.2 913.9,395.5 914.0,396.9 914.1,397.9 914.1,398.9 914.2,399.9 914.3,401.0 914.3,402.0 914.4,403.1 914.4,404.2 914.5,405.3 914.6,406.4 914.6,407.5 914.7,408.6 914.7,409.8 914.8,410.9 914.9,412.1 914.9,413.2 915.0,414.4 915.0,415.6 915.1,416.8 915.2,418.0 915.2,419.2 915.3,420.4 915.3,421.7 915.4,422.9 915.5,424.2 915.5,425.4 915.6,426.7 915.6,428.0 915.7,429.2 915.8,430.5 915.8,431.8 915.9,433.1 915.9,434.3 916.0,435.6 916.1,436.9 916.1,438.2 916.2,439.5 916.2,440.8 916.3,442.0 916.4,443.3 916.4,444.6 916.5,445.8 916.5,447.0 916.6,448.2 916.7,449.5 916.7,450.6 916.8,451.8 916.8,452.9 916.9,454.1 917.0,455.1 917.0,456.2 917.1,457.2 917.2,458.5 917.2,459.8 917.3,460.9 917.4,462.0 917.5,463.2 917.6,464.3 917.7,465.3 917.9,466.4 918.1,466.8 918.1,466.8 918.6,465.9 918.8,464.8 919.0,463.8 919.2,462.8 919.3,461.8 919.4,460.6 919.6,459.6 919.7,458.6 919.8,457.5 919.9,456.4 920.0,455.2 920.2,454.0 920.3,453.0 920.4,452.0 920.5,451.0 920.6,449.9 920.7,448.9 920.8,447.8 920.9,446.8 921.0,445.8 921.1,444.7 921.2,443.7 921.3,442.7 921.4,441.6 921.5,440.6 921.6,439.6 921.7,438.4 921.8,437.3 921.9,436.1 922.0,435.0 922.2,433.9 922.3,432.8 922.4,431.7 922.5,430.7 922.6,429.6 922.8,428.5 922.9,427.4 923.1,426.3 923.2,425.3 923.4,424.2 923.4,423.9 923.4,423.9 923.6,422.8 923.7,421.8 923.8,420.7 924.0,419.6 924.1,418.4 924.3,417.3 924.4,416.3 924.5,415.3 924.6,414.2 924.7,413.2 924.9,412.2 925.0,411.1 925.1,410.1 925.2,409.1 925.3,408.1 925.5,407.1 925.6,405.9 925.7,404.8 925.9,403.7 926.0,402.6 926.2,401.6 926.3,400.5 926.4,399.5 926.6,398.4 926.8,397.4 926.9,396.4 927.1,395.3 927.3,394.3 927.5,393.2 927.7,392.1 927.9,391.1 928.2,390.1 928.5,389.2 929.0,388.3 929.4,388.0 929.4,388.0 930.2,388.5 930.8,389.4 931.2,390.3 931.6,391.3 931.9,392.2 932.2,393.2 932.5,394.2 932.8,395.2 933.0,396.2 933.3,397.2 933.5,398.3 933.7,399.3 933.9,400.4 934.1,401.3 934.3,402.3 934.5,403.4 934.7,404.4 934.9,405.5 935.1,406.6 935.3,407.6 935.5,408.5 935.7,409.5 935.9,410.5 936.0,411.6 936.2,412.6 936.3,413.0 936.3,413.0 936.5,414.0 936.7,415.2 936.8,416.2 937.0,417.3 937.1,418.3 937.3,419.4 937.4,420.5 937.5,421.6 937.7,422.6 937.8,423.7 937.9,424.7 938.0,425.8 938.1,426.9 938.3,428.0 938.4,429.2 938.5,430.4 938.6,431.6 938.7,432.6 938.8,433.6 938.9,434.6 939.0,435.7 939.1,436.7 939.2,437.8 939.3,438.8 939.4,439.9 939.5,440.9 939.6,442.0 939.7,443.1 939.8,444.1 939.9,445.2 940.0,446.0 940.0,446.0 940.1,447.1 940.2,448.2 940.3,449.3 940.4,450.5 940.5,451.7 940.6,452.7 940.7,453.7 940.7,454.7 940.8,455.8 940.9,456.9 941.0,458.0 941.1,459.1 941.1,460.2 941.2,461.3 941.3,462.4 941.4,463.5 941.5,464.6 941.5,465.8 941.6,466.9 941.7,468.0 941.8,469.1 941.9,470.2 941.9,471.2 942.0,472.3 942.1,473.3 942.2,474.5 942.3,475.6 942.4,476.7 942.5,477.8 942.6,478.9 942.8,479.9 942.8,480.0 942.8,480.0 943.0,481.1 943.2,482.2 943.3,483.2 943.5,484.3 943.7,485.3 943.9,486.4 944.1,487.4 944.3,488.5 944.5,489.5 944.7,490.5 944.9,491.6 945.1,492.5 945.3,493.5 945.6,494.5 945.9,495.5 946.4,496.4 947.0,497.0 947.0,497.0 947.4,496.0 947.6,495.0 947.8,493.9 947.9,492.7 948.0,491.6 948.2,490.5 948.3,489.4 948.4,488.4 948.5,487.2 948.6,486.1 948.7,484.9 948.8,483.7 948.9,482.4 948.9,481.4 949.0,480.4 949.1,479.4 949.2,478.3 949.3,477.3 949.3,476.3 949.4,475.2 949.5,474.2 949.6,473.1 949.7,472.1 949.7,471.1 949.8,470.0 949.9,469.0 950.0,468.0 950.1,467.0 950.1,466.0 950.2,464.8 950.3,463.6 950.4,462.4 950.5,461.2 950.6,460.0 950.7,458.9 950.8,457.7 950.9,456.6 951.0,455.6 951.1,454.5 951.2,453.5 951.3,452.5 951.4,451.9 951.4,451.9 951.5,450.9 951.6,449.9 951.7,448.8 951.8,447.7 951.9,446.6 952.0,445.4 952.1,444.3 952.2,443.1 952.3,441.9 952.4,440.8 952.5,439.6 952.6,438.4 952.7,437.2 952.8,436.1 952.9,434.9 953.0,433.8 953.1,432.6 953.2,431.5 953.3,430.4 953.4,429.4 953.5,428.3 953.6,427.3 953.7,426.3 953.8,425.1 953.9,423.9 954.1,422.8 954.2,421.7 954.3,420.7 954.4,419.9 954.4,419.9 954.5,418.8 954.7,417.7 954.8,416.7 955.0,415.6 955.1,414.6 955.3,413.5 955.4,412.4 955.6,411.4 955.7,410.3 955.9,409.3 956.1,408.3 956.2,407.2 956.4,406.2 956.6,405.1 956.8,404.1 957.0,403.0 957.1,402.0 957.3,401.0 957.5,400.0 957.7,399.0 957.9,397.9 958.1,396.8 958.3,395.8 958.5,394.7 958.7,393.6 958.9,392.5 959.1,391.4 959.3,390.4 959.4,389.7 959.4,389.7 959.6,388.7 959.8,387.7"/>
<path d="M959.8,387.7 959.9,386.7 960.1,385.7 960.3,384.6 960.5,383.6 960.7,382.6 960.8,381.5 961.0,380.5 961.2,379.5 961.4,378.4 961.6,377.4 961.7,376.4 961.9,375.4 962.1,374.4 962.3,373.4 962.5,372.3 962.7,371.3 962.9,370.2 963.1,369.2 963.3,368.2 963.5,367.2 963.7,366.1 963.9,365.1 964.1,364.1 964.4,363.0 964.6,362.0 964.9,361.0 965.1,360.0 965.4,359.0 965.7,358.1 966.0,357.0 966.3,356.1 966.4,355.7"/>
<path d="M966.4,355.7 966.4,355.7 966.7,354.7 967.1,353.8 967.5,352.8 967.9,351.9 968.3,350.9 968.7,350.0 969.1,349.0 969.6,348.1 970.0,347.2 970.5,346.3 971.0,345.4 971.5,344.5 972.0,343.6 972.3,343.0 972.3,343.0 972.8,342.1 973.3,341.2 973.8,340.3 974.3,339.5 974.8,338.6 975.4,337.7 975.9,336.8 976.5,336.0 977.1,335.2 977.7,334.4 978.3,333.8 978.3,333.8 979.0,333.1 979.8,332.4 980.5,331.7 981.3,331.1 982.1,330.4 982.9,329.9 983.8,329.4"/>
<path d="M983.8,329.4 984.7,329.0 985.3,328.8 985.3,328.8 986.3,328.5 987.3,328.3 988.2,328.1 989.2,327.9 990.2,327.8 991.2,327.8 991.3,327.8 991.3,327.8 991.5,327.8"/>
</g>
</g>
<g stroke="#3c3c3c" stroke-width="1.1" fill="none">
<rect x="107.5" y="39.5" width="884.0" height="698.0"/>
<path d="M156.27,737.5 v-9.0 M156.27,39.5 v9.0"/>
<path d="M254.49,737.5 v-9.0 M254.49,39.5 v9.0"/>
<path d="M352.71,737.5 v-9.0 M352.71,39.5 v9.0"/>
<path d="M450.93,737.5 v-9.0 M450.93,39.5 v9.0"/>
<path d="M549.15,737.5 v-9.0 M549.15,39.5 v9.0"/>
<path d="M647.37,737.5 v-9.0 M647.37,39.5 v9.0"/>
<path d="M745.59,737.5 v-9.0 M745.59,39.5 v9.0"/>
<path d="M843.81,737.5 v-9.0 M843.81,39.5 v9.0"/>
<path d="M942.03,737.5 v-9.0 M942.03,39.5 v9.0"/>
<path d="M107.5,39.50 h9.0 M991.5,39.50 h-9.0"/>
<path d="M107.5,109.30 h9.0 M991.5,109.30 h-9.0"/>
<path d="M107.5,179.10 h9.0 M991.5,179.10 h-9.0"/>
<path d="M107.5,248.90 h9.0 M991.5,248.90 h-9.0"/>
<path d="M107.5,318.70 h9.0 M991.5,318.70 h-9.0"/>
<path d="M107.5,388.50 h9.0 M991.5,388.50 h-9.0"/>
<path d="M107.5,458.30 h9.0 M991.5,458.30 h-9.0"/>
<path d="M107.5,528.10 h9.0 M991.5,528.10 h-9.0"/>
<path d="M107.5,597.90 h9.0 M991.5,597.90 h-9.0"/>
<path d="M107.5,667.70 h9.0 M991.5,667.70 h-9.0"/>
<path d="M107.5,737.50 h9.0 M991.5,737.50 h-9.0"/>
</g>
<g font-family="'Liberation Sans', Arial, Helvetica, sans-serif" font-size="26.7" fill="#262626">
<text x="156.3" y="777.5" text-anchor="middle">-80</text>
<text x="254.5" y="777.5" text-anchor="middle">-60</text>
<text x="352.7" y="777.5" text-anchor="middle">-40</text>
<text x="450.9" y="777.5" text-anchor="middle">-20</text>
<text x="549.1" y="777.5" text-anchor="middle">0</text>
<text x="647.4" y="777.5" text-anchor="middle">20</text>
<text x="745.6" y="777.5" text-anchor="middle">40</text>
<text x="843.8" y="777.5" text-anchor="middle">60</text>
<text x="942.0" y="777.5" text-anchor="middle">80</text>
<text x="94.9" y="51.3" text-anchor="end">0</text>
<text x="94.9" y="121.1" text-anchor="end">-5</text>
<text x="94.9" y="190.9" text-anchor="end">-10</text>
<text x="94.9" y="260.7" text-anchor="end">-15</text>
<text x="94.9" y="330.5" text-anchor="end">-20</text>
<text x="94.9" y="400.3" text-anchor="end">-25</text>
<text x="94.9" y="470.1" text-anchor="end">-30</text>
<text x="94.9" y="539.9" text-anchor="end">-35</text>
<text x="94.9" y="609.7" text-anchor="end">-40</text>
<text x="94.9" y="679.5" text-anchor="end">-45</text>
<text x="94.9" y="749.3" text-anchor="end">-50</text>
</g>
<text transform="translate(39.2,389.1) rotate(-90)" text-anchor="middle" font-family="'Liberation Sans', Arial, Helvetica, sans-serif" font-size="32" fill="#262626">Pattern(dB)</text>
<rect x="602.5" y="39.5" width="389.0" height="73.0" fill="#fff" stroke="#3c3c3c" stroke-width="1.1"/>
<path d="M610.1,58.8 H691.4" stroke="#000" stroke-width="3.90" fill="none"/>
<path d="M610.1,92.5 H691.4" stroke="#f00" stroke-width="3.90" stroke-dasharray="16.3 16.2" fill="none"/>
<g font-family="'Liberation Serif', 'Times New Roman', Times, serif" font-size="27" fill="#000">
<text x="698.5" y="69.3">Original sparse array</text>
<text x="698.5" y="102.3">Add Gaussian distribution</text>
</g>
</svg>
</body>
</html>
